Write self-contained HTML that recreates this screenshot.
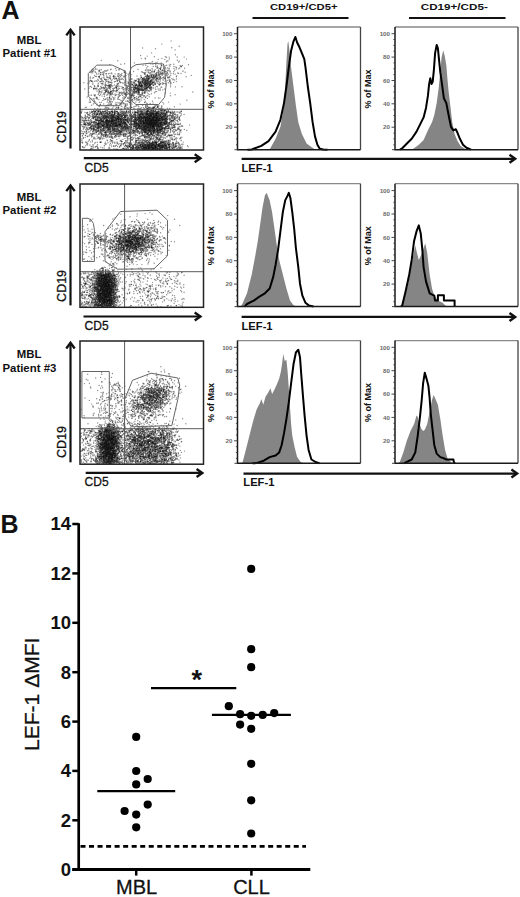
<!DOCTYPE html><html><head><meta charset="utf-8"><style>html,body{margin:0;padding:0;background:#fff;width:520px;height:897px;overflow:hidden}svg{display:block}text{font-family:"Liberation Sans",sans-serif;fill:#111}</style></head><body>
<svg width="520" height="897" viewBox="0 0 520 897">
<defs><filter id="bl" x="0" y="0" width="1" height="1"><feGaussianBlur stdDeviation="0.5"/></filter></defs>
<text x="1.6" y="18.5" font-size="25" font-weight="bold">A</text>
<text x="0.4" y="533.3" font-size="25" font-weight="bold">B</text>
<text x="29.2" y="43.8" font-size="11.4" font-weight="bold" text-anchor="middle">MBL</text>
<text x="29.4" y="57.1" font-size="11.4" font-weight="bold" text-anchor="middle">Patient #1</text>
<path d="M113.0 94.6h0M123.4 89.7h0M103.8 77.9h0M96.6 73.1h0M105.4 86.6h0M97.3 104.2h0M111.1 109.2h0M94.7 86.4h0M105.2 87.0h0M110.6 94.5h0M94.5 75.5h0M111.2 103.8h0M98.0 84.0h0M115.8 86.9h0M116.7 88.6h0M124.4 91.1h0M105.4 107.7h0M98.1 89.6h0M116.5 87.5h0M90.1 71.9h0M109.0 82.2h0M108.8 77.5h0M105.6 84.3h0M106.6 76.0h0M120.5 74.6h0M101.7 91.1h0M103.8 76.9h0M114.9 97.1h0M108.2 93.6h0M110.4 86.0h0M99.5 77.7h0M112.6 114.4h0M119.7 104.9h0M108.8 85.2h0M90.0 98.8h0M101.5 88.5h0M117.8 83.6h0M109.3 88.5h0M109.5 97.5h0M108.5 86.7h0M119.7 81.5h0M104.4 88.5h0M109.8 77.7h0M102.5 80.9h0M109.7 85.8h0M96.2 97.2h0M117.8 60.8h0M119.2 78.2h0M105.4 99.4h0M114.9 79.2h0M124.8 85.0h0M93.1 70.1h0M99.8 88.7h0M118.4 88.1h0M93.6 88.4h0M115.1 78.6h0M101.1 79.5h0M109.1 82.8h0M110.8 84.8h0M109.8 86.3h0M103.1 89.9h0M127.2 87.5h0M124.6 63.7h0M112.5 101.7h0M109.4 85.3h0M110.8 91.7h0M107.3 104.9h0M116.7 94.8h0M108.0 92.6h0M110.5 79.0h0M118.1 97.0h0M98.1 86.4h0M119.2 77.5h0M120.3 82.8h0M117.3 75.9h0M100.6 94.8h0M99.8 70.3h0M112.5 90.4h0M99.3 76.4h0M106.4 105.7h0M116.3 70.3h0M123.1 89.4h0M107.7 81.3h0M119.1 69.9h0M110.0 98.4h0M110.1 78.6h0M116.8 90.6h0M94.0 99.0h0M102.8 100.5h0M114.4 78.0h0M95.4 76.4h0M120.4 95.4h0M95.3 72.6h0M116.6 90.4h0M102.1 87.7h0M93.3 104.1h0M118.9 73.6h0M100.5 74.6h0M95.0 96.0h0M105.9 90.3h0M113.5 76.8h0M94.1 94.8h0M90.9 86.4h0M102.2 84.9h0M90.3 78.3h0M121.8 75.4h0M115.4 81.4h0M106.6 91.3h0M93.9 103.3h0M123.0 93.8h0M110.0 101.9h0M104.2 88.3h0M118.0 76.4h0M123.9 98.6h0M124.0 103.1h0M126.1 89.2h0M125.1 82.5h0M129.3 107.1h0M126.3 73.1h0M126.0 90.4h0M127.2 85.6h0M125.7 96.1h0M127.8 100.8h0M124.9 75.1h0M130.1 89.0h0M129.8 93.5h0M129.1 98.5h0M131.0 84.0h0M151.3 93.8h0M144.9 78.5h0M138.6 97.5h0M150.8 84.5h0M168.8 70.7h0M162.8 79.9h0M145.9 85.4h0M152.4 77.5h0M154.4 92.7h0M129.2 102.0h0M166.9 72.0h0M124.0 103.6h0M147.2 77.8h0M138.7 90.9h0M146.9 82.9h0M145.2 82.3h0M156.5 76.5h0M140.3 86.4h0M133.7 85.6h0M144.2 99.5h0M147.7 84.9h0M162.0 72.6h0M126.4 90.6h0M142.9 85.4h0M143.2 80.6h0M129.8 80.8h0M163.3 71.0h0M147.4 75.2h0M136.9 98.8h0M144.1 96.2h0M132.3 84.4h0M154.2 74.4h0M175.5 54.7h0M156.2 74.3h0M141.8 80.3h0M150.2 83.3h0M131.8 83.3h0M140.9 75.4h0M155.7 76.5h0M140.8 89.0h0M120.9 108.9h0M143.6 72.6h0M165.8 65.7h0M146.7 81.8h0M181.4 66.3h0M157.7 67.3h0M147.3 88.7h0M150.7 81.6h0M135.6 85.3h0M130.5 90.3h0M153.4 82.2h0M143.6 83.5h0M138.6 78.8h0M144.8 88.2h0M153.4 79.1h0M138.7 78.6h0M145.8 88.2h0M154.5 75.3h0M155.5 91.7h0M131.6 89.4h0M156.1 80.7h0M125.0 113.3h0M147.7 66.5h0M164.9 70.6h0M138.5 100.4h0M129.1 99.0h0M135.8 91.2h0M173.4 73.7h0M157.3 65.9h0M164.2 78.2h0M151.7 87.0h0M164.0 67.3h0M152.1 87.9h0M135.2 86.0h0M152.5 69.9h0M144.6 95.7h0M167.1 73.3h0M148.9 91.0h0M158.5 70.1h0M138.2 78.7h0M156.2 77.8h0M160.9 87.1h0M144.8 72.7h0M141.1 76.8h0M180.1 65.6h0M141.3 84.4h0M128.2 85.8h0M173.2 79.1h0M137.3 85.4h0M147.7 87.6h0M173.7 71.8h0M164.1 78.7h0M150.8 70.1h0M149.0 76.5h0M139.3 83.1h0M163.9 68.3h0M146.0 84.2h0M162.0 65.6h0M145.4 72.5h0M145.8 80.0h0M143.7 78.0h0M144.5 82.8h0M155.9 75.7h0M164.0 76.8h0M135.1 87.4h0M140.3 82.2h0M153.2 76.0h0M147.3 56.1h0M142.8 86.6h0M163.3 80.1h0M135.8 87.8h0M148.4 81.9h0M152.4 82.7h0M162.6 69.9h0M149.2 87.9h0M119.2 95.7h0M147.3 89.8h0M146.4 87.8h0M155.3 87.9h0M135.7 80.7h0M142.8 97.6h0M142.0 87.0h0M131.8 97.2h0M125.7 94.7h0M143.1 87.4h0M131.6 95.7h0M137.2 78.9h0M136.7 96.6h0M127.6 88.6h0M154.7 83.1h0M147.0 79.7h0M146.3 77.9h0M128.3 101.4h0M143.3 92.9h0M135.8 92.0h0M167.6 70.4h0M136.2 84.7h0M156.7 76.8h0M147.4 87.7h0M164.0 83.5h0M141.1 90.2h0M148.5 76.0h0M155.2 69.8h0M150.6 84.8h0M146.4 79.4h0M152.3 79.5h0M161.3 78.4h0M139.1 85.0h0M122.2 100.3h0M160.6 77.5h0M134.0 92.7h0M160.2 83.7h0M169.8 81.3h0M141.8 86.1h0M153.3 85.0h0M148.3 82.5h0M133.2 91.4h0M156.9 78.7h0M140.1 86.9h0M133.6 89.1h0M137.7 85.9h0M149.2 81.2h0M145.3 90.7h0M142.2 85.6h0M151.9 76.6h0M147.0 86.4h0M149.3 81.1h0M146.1 83.6h0M145.9 86.1h0M140.7 94.6h0M135.5 88.1h0M140.2 78.0h0M146.3 84.9h0M145.7 84.5h0M156.1 76.3h0M139.3 89.0h0M146.9 80.4h0M137.6 90.1h0M158.9 79.7h0M148.0 79.0h0M146.3 80.6h0M150.4 84.3h0M161.1 71.0h0M145.9 78.8h0M140.0 90.2h0M142.0 95.3h0M134.9 89.6h0M150.0 78.9h0M149.8 84.1h0M139.8 89.4h0M155.8 77.5h0M148.9 83.8h0M136.9 84.6h0M142.4 81.1h0M147.9 83.4h0M142.7 78.7h0M160.3 81.0h0M169.3 65.0h0M170.6 83.0h0M174.6 70.3h0M165.3 56.8h0M169.0 69.2h0M184.2 57.1h0M160.4 67.2h0M185.1 72.3h0M145.2 58.3h0M142.6 48.0h0M171.7 47.7h0M157.2 62.1h0M107.8 130.8h0M117.8 122.6h0M124.9 119.2h0M118.2 134.3h0M137.6 132.5h0M108.2 121.9h0M110.8 120.4h0M122.9 122.8h0M114.7 125.8h0M124.0 128.0h0M102.8 121.0h0M118.2 133.2h0M128.2 122.3h0M123.7 129.8h0M118.0 126.1h0M112.3 114.8h0M114.2 121.4h0M99.6 122.8h0M124.8 129.1h0M103.5 116.1h0M89.0 118.6h0M93.1 118.8h0M127.1 128.7h0M127.7 119.2h0M131.7 107.5h0M106.1 122.4h0M99.8 115.9h0M93.1 131.8h0M104.2 118.1h0M132.2 131.0h0M98.7 125.7h0M127.6 117.9h0M129.4 120.3h0M116.8 127.1h0M99.5 123.5h0M134.5 112.5h0M111.8 117.9h0M114.3 123.6h0M118.8 127.6h0M112.4 128.4h0M110.6 125.8h0M98.0 124.4h0M110.7 131.0h0M100.4 120.0h0M120.6 123.8h0M96.4 127.4h0M113.4 121.2h0M106.8 116.8h0M113.3 118.1h0M117.2 134.8h0M109.0 131.6h0M125.3 128.7h0M114.5 114.3h0M92.6 114.1h0M88.6 132.0h0M107.6 126.2h0M120.6 131.9h0M116.5 131.8h0M102.2 125.1h0M131.0 121.0h0M103.6 125.0h0M91.5 135.8h0M131.8 127.4h0M83.2 126.9h0M126.6 115.7h0M130.6 113.7h0M112.1 121.6h0M106.1 121.7h0M108.2 120.5h0M119.0 123.4h0M118.6 112.9h0M110.8 129.5h0M116.5 129.0h0M101.6 114.1h0M106.9 123.9h0M116.1 125.0h0M107.2 122.5h0M107.4 131.2h0M107.2 122.6h0M98.7 122.2h0M120.4 124.2h0M98.5 110.7h0M84.5 127.2h0M108.6 123.2h0M113.6 120.6h0M99.4 120.5h0M95.6 119.9h0M131.0 128.5h0M120.7 119.9h0M108.6 124.2h0M99.8 138.3h0M109.2 128.8h0M107.6 127.3h0M105.6 134.1h0M93.1 125.7h0M112.7 120.0h0M123.0 112.3h0M118.2 115.0h0M120.2 125.8h0M113.2 122.7h0M108.3 120.5h0M105.0 124.7h0M130.4 121.4h0M103.9 129.0h0M121.0 123.9h0M101.2 119.5h0M119.7 124.7h0M117.0 115.8h0M126.9 127.8h0M123.5 134.4h0M131.9 118.3h0M98.4 127.0h0M98.1 131.0h0M126.3 131.4h0M103.1 117.9h0M91.8 128.5h0M98.2 127.7h0M99.9 114.0h0M115.0 119.5h0M96.6 132.4h0M97.4 113.2h0M117.7 127.8h0M103.7 120.5h0M105.1 123.0h0M116.9 111.4h0M104.5 126.7h0M133.8 123.3h0M117.7 128.6h0M85.4 135.3h0M105.9 116.7h0M124.0 120.9h0M102.5 125.1h0M115.1 135.9h0M110.1 128.8h0M89.7 122.8h0M127.5 119.7h0M139.3 126.1h0M109.9 117.9h0M120.0 132.4h0M101.8 134.5h0M124.1 124.6h0M99.2 122.3h0M128.4 126.5h0M117.0 123.9h0M107.2 125.0h0M130.4 129.5h0M128.5 122.9h0M116.1 115.8h0M135.9 128.3h0M116.7 116.5h0M103.1 122.2h0M99.4 125.7h0M88.6 117.7h0M117.3 126.2h0M97.2 120.3h0M106.3 127.1h0M103.1 120.9h0M101.2 130.6h0M126.9 129.7h0M112.8 138.6h0M103.2 121.5h0M125.9 120.6h0M112.3 123.9h0M114.5 133.9h0M107.5 119.4h0M116.1 115.4h0M112.7 117.9h0M121.4 109.5h0M124.0 111.5h0M114.9 124.1h0M110.8 116.8h0M116.7 120.5h0M119.0 116.2h0M125.6 124.0h0M114.2 122.3h0M99.1 133.9h0M115.8 116.3h0M119.0 124.0h0M112.1 118.0h0M100.9 123.3h0M91.7 129.1h0M111.7 134.3h0M112.1 130.4h0M118.4 127.7h0M135.4 130.4h0M123.8 115.0h0M129.4 119.2h0M105.2 111.1h0M102.9 135.0h0M117.0 123.9h0M132.3 118.2h0M94.5 125.0h0M122.5 125.3h0M98.1 130.5h0M101.1 120.8h0M119.5 122.2h0M100.7 120.9h0M93.1 115.3h0M129.9 129.1h0M117.6 116.5h0M130.2 116.3h0M112.1 136.8h0M87.9 123.3h0M106.8 120.5h0M116.0 128.0h0M123.1 117.7h0M94.0 111.2h0M112.2 121.2h0M81.4 118.9h0M131.0 119.3h0M130.1 103.0h0M107.5 125.3h0M104.6 130.1h0M112.6 131.0h0M131.7 116.4h0M98.0 129.0h0M107.4 129.2h0M85.8 126.1h0M84.1 120.0h0M100.6 113.5h0M125.5 119.4h0M108.1 126.1h0M83.6 124.5h0M107.0 123.1h0M129.7 126.3h0M98.7 123.5h0M104.6 130.3h0M86.4 124.5h0M101.8 120.7h0M97.6 131.1h0M102.8 115.9h0M117.0 121.9h0M111.6 101.9h0M113.1 116.9h0M105.7 132.6h0M111.3 119.3h0M122.4 115.7h0M115.7 122.7h0M125.8 130.2h0M98.8 126.5h0M129.9 132.8h0M101.1 121.7h0M116.6 122.7h0M94.0 129.0h0M109.0 131.9h0M124.3 120.8h0M115.8 123.2h0M96.9 124.0h0M118.9 121.2h0M131.1 124.4h0M122.7 126.0h0M96.0 129.5h0M128.9 138.5h0M126.3 125.0h0M113.7 126.4h0M110.5 118.1h0M110.0 116.3h0M116.6 123.4h0M99.0 111.9h0M115.4 120.3h0M125.9 134.8h0M106.5 121.7h0M104.9 116.0h0M98.5 130.4h0M120.8 117.5h0M95.9 123.5h0M91.5 122.6h0M93.3 118.7h0M122.4 122.9h0M87.2 112.5h0M99.1 115.4h0M111.3 115.4h0M136.7 125.7h0M112.6 124.9h0M96.6 122.4h0M100.7 122.8h0M116.4 119.7h0M108.1 117.3h0M85.0 120.8h0M105.7 117.9h0M121.9 119.7h0M112.3 112.7h0M101.6 118.9h0M118.8 117.5h0M119.6 123.4h0M112.4 125.9h0M115.0 119.8h0M103.1 122.2h0M105.4 107.0h0M121.3 126.4h0M97.0 126.5h0M84.9 124.6h0M126.6 129.7h0M118.5 108.5h0M127.4 126.9h0M108.8 123.0h0M104.8 132.8h0M123.5 114.0h0M111.4 123.3h0M108.3 129.5h0M133.6 116.8h0M106.6 123.7h0M94.2 121.4h0M125.5 123.0h0M112.5 130.6h0M100.9 127.7h0M104.1 127.9h0M121.8 128.9h0M121.9 125.9h0M120.9 123.2h0M118.8 119.5h0M96.3 120.3h0M97.3 127.9h0M104.1 123.1h0M109.2 127.3h0M116.9 127.7h0M118.2 118.2h0M103.9 120.8h0M115.2 119.7h0M109.6 112.0h0M118.5 121.6h0M114.3 121.2h0M102.3 125.6h0M131.1 128.1h0M118.9 126.6h0M125.4 128.4h0M95.2 122.3h0M108.6 123.8h0M120.9 114.9h0M130.0 121.9h0M121.4 123.9h0M120.1 121.6h0M111.7 118.3h0M89.6 128.0h0M108.5 121.3h0M148.1 123.2h0M145.9 120.8h0M146.9 122.9h0M150.9 127.9h0M149.5 118.6h0M151.6 119.4h0M179.1 124.6h0M146.5 119.8h0M161.4 108.1h0M157.8 124.8h0M164.1 110.9h0M153.1 109.1h0M145.8 106.7h0M154.4 128.7h0M158.3 126.2h0M152.7 108.7h0M162.4 128.3h0M148.7 123.3h0M138.6 127.0h0M137.7 119.5h0M157.0 126.0h0M173.6 129.5h0M169.7 135.8h0M156.6 114.3h0M142.8 129.4h0M150.7 114.1h0M141.4 124.4h0M158.3 135.4h0M145.1 112.7h0M130.8 115.0h0M165.0 123.5h0M140.9 117.3h0M146.9 134.2h0M160.2 123.0h0M145.8 135.2h0M150.4 125.5h0M153.9 113.4h0M153.8 119.6h0M139.5 133.2h0M147.1 128.8h0M161.7 126.2h0M157.9 124.1h0M145.0 142.5h0M141.4 124.0h0M138.1 111.4h0M145.8 106.0h0M170.2 119.3h0M155.6 125.3h0M141.4 135.7h0M140.7 120.8h0M141.4 121.8h0M152.8 117.1h0M162.4 122.9h0M142.1 129.0h0M160.0 98.1h0M145.9 115.4h0M153.0 123.4h0M160.2 114.2h0M148.1 120.7h0M144.4 128.0h0M148.1 133.4h0M147.8 122.0h0M176.6 124.2h0M143.3 120.0h0M144.0 123.5h0M154.0 131.0h0M137.4 120.2h0M156.2 118.0h0M139.3 125.7h0M159.9 119.3h0M151.7 134.6h0M143.8 122.1h0M167.1 117.1h0M163.0 112.7h0M160.6 123.6h0M136.4 117.8h0M147.9 120.8h0M154.4 120.8h0M142.6 114.1h0M158.2 124.9h0M157.8 130.1h0M152.4 124.2h0M166.1 121.2h0M159.3 139.3h0M151.4 115.8h0M160.3 124.1h0M146.1 117.8h0M140.3 119.2h0M149.1 125.8h0M148.2 115.8h0M156.3 136.9h0M141.8 116.8h0M140.2 116.2h0M151.5 123.2h0M144.7 131.0h0M151.7 131.8h0M145.7 120.5h0M160.6 129.9h0M155.2 123.5h0M158.8 130.4h0M168.3 111.9h0M137.7 119.4h0M154.5 113.8h0M154.4 130.6h0M150.4 114.6h0M134.9 113.9h0M152.5 114.3h0M160.1 135.8h0M146.2 128.9h0M152.5 118.1h0M135.7 135.4h0M143.9 119.5h0M149.8 135.8h0M136.4 129.7h0M154.5 118.0h0M135.2 119.7h0M148.4 127.8h0M154.2 123.4h0M152.1 128.0h0M138.4 121.4h0M152.5 126.7h0M157.4 129.2h0M135.9 120.0h0M148.0 115.7h0M151.6 120.5h0M161.1 131.3h0M133.6 126.7h0M140.6 114.0h0M148.4 115.0h0M148.9 117.6h0M162.8 133.1h0M153.4 126.1h0M161.2 125.3h0M142.6 135.2h0M158.9 111.5h0M157.8 130.8h0M155.4 110.6h0M156.9 119.0h0M145.4 121.3h0M133.9 126.0h0M141.3 123.7h0M139.2 128.2h0M154.2 123.0h0M153.4 114.1h0M137.4 128.2h0M146.5 112.4h0M124.3 119.3h0M155.1 117.2h0M147.2 127.5h0M158.2 118.9h0M146.6 122.5h0M153.1 110.4h0M157.0 107.1h0M170.2 124.3h0M130.4 127.6h0M164.4 128.3h0M150.0 115.3h0M152.5 128.9h0M162.8 119.2h0M141.5 125.8h0M176.0 124.1h0M157.3 117.3h0M162.1 110.7h0M129.2 119.7h0M154.0 116.1h0M155.1 119.9h0M169.5 114.9h0M149.0 124.8h0M153.8 124.7h0M161.7 129.3h0M166.9 123.3h0M150.8 120.4h0M162.7 120.2h0M164.3 110.2h0M157.6 105.7h0M154.9 117.2h0M156.6 125.9h0M139.7 115.3h0M155.8 125.1h0M180.2 123.5h0M158.7 133.0h0M142.8 117.8h0M149.8 124.9h0M142.6 105.5h0M154.5 121.3h0M148.0 115.0h0M152.2 120.3h0M159.0 117.9h0M150.0 119.0h0M151.9 131.0h0M146.6 128.3h0M135.9 134.6h0M145.4 123.3h0M167.3 124.7h0M148.4 122.9h0M145.6 126.2h0M154.8 106.4h0M150.7 125.6h0M135.4 119.0h0M152.8 114.4h0M155.6 116.7h0M155.6 115.1h0M147.3 133.4h0M167.0 114.5h0M161.8 118.3h0M152.0 126.6h0M164.5 122.9h0M135.1 117.2h0M140.3 126.4h0M149.9 108.5h0M160.2 118.6h0M146.4 111.7h0M173.0 120.7h0M144.5 125.1h0M159.4 126.5h0M164.7 122.0h0M143.7 119.9h0M149.4 129.6h0M157.6 112.2h0M169.3 128.3h0M143.3 118.8h0M165.2 124.0h0M147.9 120.6h0M159.2 123.1h0M159.0 131.8h0M149.3 107.7h0M136.7 123.8h0M165.1 112.9h0M146.6 132.4h0M158.4 134.9h0M153.5 117.8h0M145.3 119.7h0M147.8 119.3h0M149.6 125.2h0M148.0 130.3h0M158.1 122.0h0M143.9 126.8h0M155.5 111.4h0M144.1 125.4h0M151.7 134.1h0M142.4 125.6h0M149.5 125.1h0M150.1 112.4h0M142.1 125.8h0M151.5 120.7h0M133.3 121.6h0M138.9 118.8h0M137.7 114.9h0M154.3 120.1h0M157.2 120.6h0M160.6 118.6h0M137.2 115.8h0M160.0 138.0h0M161.5 113.6h0M143.9 129.1h0M164.1 135.3h0M129.8 114.5h0M147.3 124.2h0M150.2 135.0h0M151.0 120.2h0M151.6 128.0h0M162.8 110.0h0M150.8 131.6h0M149.8 132.6h0M131.3 122.0h0M163.1 124.1h0M143.0 121.0h0M168.5 110.3h0M162.8 122.4h0M138.4 108.7h0M160.3 120.8h0M159.2 132.3h0M159.9 128.0h0M154.8 124.3h0M144.4 135.0h0M168.7 123.3h0M174.6 118.8h0M147.0 116.8h0M167.0 114.4h0M146.8 126.4h0M145.2 118.8h0M153.6 133.5h0M149.1 120.2h0M152.5 110.5h0M149.3 109.0h0M157.3 132.0h0M156.4 117.5h0M162.4 133.1h0M174.2 132.2h0M154.5 107.5h0M177.9 115.0h0M147.6 120.7h0M146.5 130.0h0M153.7 137.3h0M154.1 120.1h0M144.2 113.1h0M156.3 115.9h0M140.4 108.9h0M184.4 129.4h0M151.9 119.4h0M140.8 117.9h0M158.8 120.2h0M147.1 121.0h0M128.8 119.1h0M148.2 129.1h0M146.1 128.0h0M151.7 115.0h0M146.1 116.9h0M151.2 122.8h0M149.2 130.8h0M159.4 129.4h0M156.2 121.4h0M150.1 123.2h0M151.9 119.6h0M154.9 111.4h0M145.6 125.8h0M166.2 119.3h0M154.7 121.4h0M165.8 134.5h0M159.1 120.4h0M151.2 110.6h0M163.3 122.2h0M147.4 118.7h0M174.2 127.3h0M138.7 117.6h0M149.1 126.0h0M144.7 125.4h0M161.8 121.3h0M150.8 123.2h0M160.1 119.0h0M153.5 125.7h0M127.3 122.8h0M150.9 133.9h0M129.3 118.6h0M151.1 123.7h0M163.0 122.4h0M153.4 124.0h0M145.4 118.0h0M155.4 117.2h0M169.5 126.8h0M153.9 127.1h0M177.9 123.9h0M168.4 127.5h0M149.5 123.4h0M152.8 128.5h0M144.3 113.1h0M152.2 128.1h0M164.8 121.9h0M130.7 117.4h0M157.7 128.7h0M160.3 129.3h0M138.1 121.2h0M135.3 128.2h0M141.1 123.1h0M172.9 121.8h0M149.5 124.8h0M161.2 112.2h0M162.2 131.6h0M137.7 114.1h0M145.2 123.5h0M134.7 124.7h0M148.3 119.3h0M133.3 132.7h0M149.2 128.0h0M153.7 136.1h0M146.4 114.0h0M153.5 132.6h0M151.9 119.4h0M148.7 120.2h0M150.9 116.3h0M150.8 112.3h0M153.9 126.5h0M127.9 117.7h0M158.1 133.9h0M153.8 116.1h0M145.1 116.8h0M136.7 119.6h0M157.0 128.2h0M157.3 121.9h0M156.3 104.9h0M150.3 124.1h0M167.7 126.1h0M136.6 125.4h0M151.0 130.2h0M135.9 123.7h0M146.5 119.9h0M182.8 126.1h0M147.8 123.9h0M170.9 120.7h0M138.1 124.4h0M123.1 118.3h0M149.2 115.9h0M151.1 121.8h0M145.5 116.3h0M153.1 127.3h0M164.0 117.1h0M152.4 142.0h0M151.2 116.8h0M140.2 122.4h0M147.3 103.6h0M143.1 126.2h0M161.8 128.9h0M154.8 118.7h0M147.5 125.0h0M135.5 127.3h0M143.0 122.8h0M133.4 121.5h0M145.1 124.8h0M138.5 125.5h0M134.5 131.0h0M152.2 114.7h0M137.1 124.2h0M163.0 129.6h0M163.2 122.9h0M150.0 138.7h0M150.5 130.0h0M142.6 125.1h0M147.1 121.8h0M145.3 129.4h0M155.2 120.8h0M144.5 126.1h0M154.3 118.9h0M160.6 110.1h0M149.4 120.7h0M144.7 116.9h0M176.4 130.5h0M151.0 112.0h0M161.7 117.7h0M163.4 116.3h0M137.4 130.3h0M150.8 120.3h0M147.7 119.1h0M144.9 131.9h0M178.8 128.0h0M149.7 113.9h0M161.9 121.6h0M159.9 120.1h0M154.7 117.6h0M134.1 120.4h0M155.6 134.0h0M145.8 135.2h0M143.5 121.2h0M146.8 114.6h0M158.1 113.5h0M146.9 123.2h0M162.6 128.8h0M141.9 125.4h0M136.9 123.5h0M133.2 114.1h0M142.1 115.9h0M162.5 116.9h0M153.4 116.1h0M149.7 131.8h0M157.9 111.2h0M158.3 122.1h0M150.3 129.4h0M160.2 123.9h0M149.6 125.6h0M139.0 131.2h0M155.9 115.5h0M153.7 119.0h0M144.9 127.6h0M154.9 123.6h0M149.5 123.0h0M169.6 120.2h0M152.0 122.2h0M165.7 134.6h0M157.2 123.8h0M125.3 123.7h0M165.4 125.0h0M152.3 124.7h0M147.1 119.0h0M152.6 126.4h0M149.5 128.9h0M145.8 119.0h0M149.8 124.6h0M153.4 126.3h0M150.6 129.0h0M145.8 126.0h0M160.9 126.2h0M168.3 122.8h0M154.5 113.8h0M160.6 124.7h0M148.4 141.3h0M173.1 143.5h0M144.6 147.6h0M175.8 146.3h0M126.7 146.6h0M156.4 144.4h0M142.3 149.2h0M153.6 148.1h0M153.1 145.3h0M135.8 146.8h0M131.5 142.9h0M151.3 146.9h0M154.6 141.1h0M142.8 149.1h0M142.4 148.4h0M152.5 147.1h0M173.1 144.1h0M160.3 148.3h0M132.6 148.6h0M144.7 146.8h0M151.3 145.8h0M149.2 144.9h0M133.3 147.4h0M162.0 148.2h0M132.2 149.2h0M153.7 148.8h0M146.4 147.4h0M164.0 142.5h0M154.7 147.8h0M166.9 143.9h0M147.6 147.7h0M148.5 145.9h0M157.7 145.2h0M162.7 146.2h0M152.5 144.6h0M166.8 147.1h0M164.9 146.9h0M146.5 147.7h0M153.3 149.1h0M165.4 143.5h0M157.6 139.4h0M155.7 147.6h0M164.3 144.5h0M149.0 147.6h0M144.0 144.9h0M146.2 141.5h0M137.9 149.4h0M149.7 146.7h0M142.5 145.9h0M168.9 140.3h0M161.9 142.3h0M152.5 144.1h0M161.0 149.0h0M154.2 149.4h0M142.4 142.7h0M173.1 145.3h0M156.0 143.3h0M156.7 142.2h0M161.4 147.4h0M152.1 148.2h0M132.0 147.7h0M162.6 147.4h0M148.4 146.1h0M164.4 148.5h0M148.2 149.2h0M151.7 146.8h0M155.9 146.6h0M171.0 145.7h0M170.3 144.0h0M176.0 146.6h0M143.8 146.5h0M127.8 146.9h0M169.1 148.7h0M165.9 144.7h0M159.1 144.4h0M157.5 147.1h0M160.5 143.4h0M154.5 144.5h0M145.7 147.2h0M137.8 142.9h0M164.1 146.8h0M135.7 147.1h0M161.5 143.1h0M154.7 148.9h0M146.4 146.9h0M140.5 144.8h0M135.0 137.6h0M158.5 144.2h0M153.4 145.1h0M176.4 141.7h0M158.9 146.9h0M159.5 146.2h0M157.5 144.8h0M168.8 144.4h0M143.0 148.6h0M165.8 145.0h0M150.7 145.9h0M150.9 142.8h0M174.0 145.9h0M168.9 147.4h0M157.1 146.1h0M131.3 147.4h0M149.6 148.2h0M176.2 143.6h0M158.8 144.2h0M147.0 146.6h0M135.0 147.6h0M145.6 139.4h0M155.9 145.6h0M155.5 147.3h0M151.6 143.6h0M169.4 147.4h0M165.0 142.0h0M145.3 145.1h0M147.1 147.6h0M164.5 143.4h0M149.2 145.9h0M159.9 144.1h0M157.4 148.0h0M138.5 138.0h0M137.8 145.5h0M163.9 135.6h0M129.1 143.7h0M143.6 149.3h0M157.7 148.6h0M152.1 142.3h0M155.5 142.4h0M170.3 146.8h0M131.6 149.3h0M151.0 144.6h0M152.5 147.1h0M160.4 141.2h0M151.2 148.3h0M136.6 141.1h0M153.0 146.4h0M153.1 148.3h0M148.1 144.0h0M168.3 147.3h0M152.2 142.7h0M165.6 148.3h0M147.5 146.3h0M168.2 143.3h0M143.8 147.8h0M144.6 145.7h0M166.7 141.9h0M145.4 147.0h0M148.6 145.3h0M166.0 145.5h0M151.4 145.8h0M152.3 145.3h0M141.7 139.9h0M162.9 139.6h0M161.8 148.6h0M149.2 146.6h0M167.9 143.9h0M169.7 146.9h0M136.7 148.6h0M144.8 148.7h0M152.3 149.3h0M157.4 146.7h0M150.5 147.4h0M131.5 145.0h0M146.5 147.3h0M143.2 145.5h0M150.0 147.1h0M162.9 140.8h0M145.5 146.2h0M156.4 143.6h0M162.1 145.3h0M157.4 149.4h0M144.6 144.7h0M151.1 146.9h0M142.1 146.2h0M158.0 146.2h0M142.4 146.2h0M159.3 145.6h0M166.3 148.5h0M162.8 145.5h0M151.6 147.8h0M175.7 146.7h0M155.9 146.4h0M162.6 149.3h0M161.5 148.6h0M153.3 145.5h0M177.5 148.0h0M155.5 146.3h0M160.4 139.4h0M165.2 119.2h0M120.5 140.8h0M114.7 112.3h0M155.3 116.9h0M92.2 136.2h0M135.1 125.2h0M175.3 144.5h0M143.9 115.9h0M158.7 117.6h0M100.1 142.2h0M83.5 147.5h0M135.1 126.0h0M158.2 145.6h0M142.8 139.2h0M100.8 133.1h0M172.5 131.0h0M97.1 120.5h0M167.1 140.1h0M98.8 122.3h0M177.6 148.1h0M173.4 142.5h0M175.9 146.7h0M146.8 128.5h0M163.8 114.6h0M137.8 137.6h0M118.2 114.8h0M178.8 134.5h0M121.7 131.1h0M107.1 117.8h0M143.8 143.0h0M138.2 138.3h0M129.7 112.3h0M124.7 142.7h0M162.0 139.6h0M141.5 131.1h0M97.3 124.5h0M180.1 112.9h0M127.4 136.9h0M126.6 148.8h0M143.8 113.0h0M153.5 132.7h0M180.1 120.3h0M160.5 136.9h0M150.7 138.5h0M117.4 119.7h0M129.0 136.4h0M94.8 137.9h0M150.1 111.9h0M153.7 131.8h0M175.1 127.7h0M100.6 113.9h0M81.2 142.3h0M86.5 142.5h0M101.1 132.9h0M114.9 122.3h0M120.1 136.3h0M145.1 139.2h0M175.3 119.6h0M142.8 121.2h0M157.4 148.9h0M100.1 111.2h0M113.7 145.8h0M92.6 134.1h0M180.7 148.7h0M155.0 115.8h0M96.9 114.4h0M164.9 140.7h0M163.7 113.6h0M170.7 129.5h0M82.6 135.7h0M83.5 124.8h0M162.4 139.8h0M171.7 147.3h0M112.2 142.6h0M147.0 136.7h0M102.0 137.8h0M177.3 120.5h0M154.2 128.8h0M154.4 118.0h0M155.3 141.5h0M139.3 115.4h0M172.0 138.4h0M157.0 134.5h0M147.5 111.3h0M156.8 118.7h0M162.9 116.6h0M96.1 114.8h0M107.3 127.9h0M165.4 133.2h0M142.8 130.0h0M102.6 128.7h0M176.3 117.3h0M163.1 142.0h0M93.1 124.1h0M150.7 114.0h0M179.6 119.2h0M135.4 138.4h0M126.6 149.5h0M127.3 128.6h0M158.1 128.9h0M145.7 136.4h0M129.5 146.4h0M82.1 124.9h0M95.5 113.9h0M117.5 134.2h0M128.8 126.9h0M137.8 131.3h0M131.7 144.0h0M121.4 144.4h0M101.1 132.7h0M156.6 123.7h0M170.3 135.6h0M130.3 138.8h0M173.8 117.1h0M107.1 120.1h0M144.3 137.1h0M175.3 114.2h0M85.5 142.0h0M125.0 126.4h0M141.1 142.5h0M180.5 137.5h0M156.6 117.6h0M135.3 135.9h0M170.2 137.6h0M164.4 143.6h0M86.5 113.3h0M169.7 127.2h0M153.2 123.4h0M156.2 139.6h0M150.1 145.6h0M126.4 120.3h0M92.9 122.3h0M140.7 128.8h0M105.4 142.1h0M123.6 136.2h0M144.1 120.9h0M151.3 113.9h0M146.5 120.9h0M112.8 124.4h0M117.0 114.1h0M142.1 111.7h0M175.9 130.5h0M101.0 136.3h0M166.7 144.9h0M111.0 133.5h0M111.6 111.5h0M155.4 113.6h0M102.8 123.3h0M93.5 111.4h0M153.4 119.4h0M134.9 130.7h0M88.0 117.5h0M156.6 117.9h0M84.5 117.4h0M121.2 140.2h0M98.3 111.6h0M119.0 132.0h0M134.6 126.4h0M167.9 127.0h0M179.8 120.5h0M146.6 122.3h0M91.8 146.7h0M127.8 113.1h0M161.5 129.6h0M158.5 145.1h0M86.3 133.2h0M162.5 114.1h0M140.7 112.2h0M84.3 121.8h0M148.0 113.8h0M118.5 144.3h0M163.9 131.8h0M116.9 139.5h0M84.6 147.5h0M109.6 121.4h0M124.6 116.6h0M104.1 132.9h0M110.5 117.6h0M86.9 144.4h0M86.8 116.6h0M153.9 119.9h0M102.8 131.5h0M116.1 129.0h0M116.6 127.0h0M140.4 146.3h0M125.4 126.7h0M101.5 113.6h0M111.1 131.7h0M110.9 121.5h0M121.8 116.0h0M168.6 128.0h0M125.9 136.1h0M129.4 135.4h0M147.1 145.1h0M176.9 118.5h0M109.2 129.0h0M90.4 133.4h0M82.9 131.7h0M95.7 146.7h0M158.1 129.0h0M156.9 139.1h0M89.7 117.5h0M163.6 114.8h0M88.2 120.8h0M161.9 111.0h0M173.1 143.1h0M116.3 126.2h0M94.2 138.9h0M93.4 147.7h0M166.0 122.3h0M146.2 123.2h0M121.5 117.8h0M170.9 115.4h0M142.3 118.0h0M95.3 111.4h0M109.8 113.5h0M121.9 111.5h0M169.3 115.3h0M138.9 112.4h0M160.4 111.9h0M137.4 112.7h0M110.0 115.4h0M159.2 118.0h0M134.8 116.9h0M119.6 113.8h0M166.9 114.6h0M108.0 116.9h0M149.5 116.6h0M172.4 117.7h0M101.8 113.0h0M157.4 114.5h0M107.0 112.8h0M134.0 117.3h0M111.1 118.6h0M112.6 117.7h0M127.2 115.5h0M158.1 118.2h0M166.4 111.9h0M173.1 112.4h0M174.7 111.4h0M157.6 112.2h0M95.8 117.2h0M126.8 111.2h0M124.9 116.0h0M170.4 112.3h0M122.0 116.9h0M147.0 114.3h0M94.2 118.0h0M115.2 118.5h0M165.1 115.2h0M135.2 115.1h0M102.7 111.2h0M141.8 112.7h0M174.8 118.8h0M119.8 114.1h0M94.8 113.5h0M172.1 118.3h0M135.9 112.2h0M107.9 118.0h0M106.4 118.9h0M152.9 111.8h0M171.1 117.9h0M100.6 74.3h0M138.0 69.5h0M85.3 107.6h0M160.1 88.8h0M120.8 64.3h0M182.0 86.8h0M160.4 72.5h0M192.8 92.0h0M108.8 108.2h0M129.4 84.4h0M95.9 102.9h0M133.6 71.5h0M162.0 106.1h0" stroke="#000" stroke-opacity="0.45" stroke-width="1.4" stroke-linecap="round" fill="none"/>
<path d="M111.1 85.1h0M100.7 86.7h0M117.0 90.1h0M108.1 90.9h0M84.8 89.0h0M109.5 93.6h0M100.2 78.6h0M101.9 92.2h0M104.2 99.8h0M117.6 80.4h0M109.3 86.0h0M108.0 92.9h0M96.8 97.5h0M106.7 91.2h0M98.9 99.6h0M115.8 87.1h0M113.5 99.0h0M109.2 85.2h0M110.9 90.6h0M113.6 99.7h0M118.5 78.6h0M111.3 80.7h0M110.1 94.9h0M106.2 88.0h0M96.2 98.6h0M126.5 88.6h0M95.5 88.4h0M107.9 100.1h0M108.6 81.4h0M123.4 76.9h0M113.8 75.7h0M115.4 102.9h0M98.5 80.3h0M118.2 85.1h0M109.9 88.2h0M100.3 81.6h0M114.1 88.0h0M102.2 83.5h0M113.4 89.0h0M118.9 75.6h0M110.5 84.6h0M98.3 94.5h0M100.6 72.4h0M96.8 98.4h0M109.9 82.1h0M103.9 84.0h0M89.1 82.9h0M118.6 83.3h0M114.4 85.0h0M123.8 96.9h0M98.9 89.9h0M108.1 79.3h0M109.4 97.1h0M99.1 92.5h0M111.5 72.9h0M117.0 84.0h0M103.0 81.9h0M103.3 74.7h0M105.6 91.4h0M100.3 104.2h0M110.2 76.5h0M124.8 72.7h0M103.5 81.4h0M92.0 72.2h0M110.8 104.2h0M116.1 85.7h0M98.2 85.4h0M122.7 87.6h0M123.1 103.7h0M91.6 87.6h0M125.3 85.1h0M93.8 88.9h0M110.7 93.4h0M99.4 71.1h0M104.0 87.6h0M123.0 102.5h0M100.5 104.5h0M94.2 100.8h0M105.2 79.7h0M92.4 71.6h0M111.6 104.6h0M116.3 104.9h0M114.1 76.5h0M124.1 89.3h0M131.2 78.9h0M129.4 102.4h0M124.7 82.9h0M128.7 82.7h0M126.5 105.1h0M130.9 99.5h0M128.1 74.2h0M129.9 100.5h0M125.4 74.1h0M129.8 79.3h0M152.3 82.0h0M160.6 69.6h0M135.9 83.5h0M131.8 78.6h0M136.6 87.2h0M148.5 86.2h0M147.4 75.7h0M147.3 83.3h0M147.6 80.4h0M157.6 83.2h0M149.2 87.7h0M138.5 91.7h0M146.4 85.1h0M155.4 84.4h0M147.2 95.5h0M134.2 89.5h0M138.4 79.6h0M147.4 98.4h0M149.2 94.6h0M142.8 78.4h0M138.9 92.4h0M162.5 82.7h0M162.2 70.8h0M149.8 82.0h0M141.8 84.5h0M174.7 80.0h0M129.4 94.4h0M149.0 94.8h0M159.8 71.7h0M163.2 72.9h0M128.1 93.4h0M158.8 73.9h0M155.5 65.9h0M149.3 75.8h0M148.0 76.3h0M143.0 90.5h0M149.2 73.5h0M165.6 75.5h0M169.2 77.8h0M147.1 79.0h0M129.5 94.3h0M146.4 103.1h0M164.5 66.1h0M159.0 75.6h0M143.6 78.9h0M146.5 77.6h0M158.9 79.6h0M153.5 88.0h0M144.5 84.7h0M124.7 81.0h0M155.6 73.7h0M151.9 80.6h0M139.8 84.6h0M145.4 97.6h0M165.6 67.8h0M154.3 78.2h0M151.4 75.2h0M125.2 105.5h0M130.8 87.3h0M125.1 105.6h0M147.1 80.8h0M137.7 88.7h0M134.3 95.2h0M134.2 92.8h0M167.7 77.3h0M146.8 90.9h0M164.7 89.0h0M131.5 103.0h0M138.5 81.6h0M165.9 73.5h0M180.5 66.3h0M135.8 83.6h0M146.1 70.0h0M149.6 84.8h0M124.0 96.9h0M146.3 83.5h0M146.8 83.6h0M142.9 81.3h0M139.3 82.4h0M161.2 63.0h0M152.8 71.8h0M158.3 70.3h0M157.1 78.8h0M162.9 74.5h0M152.3 80.4h0M139.7 94.4h0M157.4 86.7h0M142.4 85.3h0M155.1 84.5h0M155.3 76.4h0M124.6 97.2h0M169.6 81.2h0M161.6 67.1h0M139.8 95.6h0M154.3 71.4h0M139.6 99.4h0M138.2 81.4h0M169.3 76.3h0M131.8 87.8h0M147.7 81.0h0M160.4 78.6h0M151.0 88.9h0M145.4 83.5h0M152.0 71.8h0M142.5 93.5h0M132.0 94.2h0M139.0 83.6h0M141.4 83.8h0M156.3 77.9h0M119.7 93.2h0M130.0 89.1h0M137.0 76.0h0M148.8 82.3h0M165.8 68.9h0M136.4 88.2h0M144.8 92.4h0M151.0 84.1h0M145.3 101.3h0M141.7 85.4h0M136.1 80.2h0M155.9 79.8h0M144.6 74.2h0M157.0 82.7h0M134.2 100.1h0M140.5 83.1h0M133.0 94.1h0M150.7 89.9h0M163.2 77.4h0M156.0 75.2h0M155.4 75.9h0M135.0 97.4h0M151.8 77.7h0M138.0 86.3h0M148.3 85.2h0M148.2 70.1h0M122.6 97.9h0M162.6 75.1h0M147.0 85.5h0M162.8 70.3h0M151.4 80.9h0M137.4 87.9h0M148.6 83.1h0M154.6 77.4h0M156.3 75.0h0M157.3 78.0h0M158.3 70.4h0M133.9 98.2h0M171.0 73.4h0M160.3 68.4h0M134.0 91.4h0M139.8 96.1h0M132.1 95.9h0M136.4 105.5h0M148.0 79.4h0M138.7 89.2h0M147.5 84.8h0M153.2 77.8h0M148.8 86.6h0M144.6 93.2h0M142.1 86.5h0M148.5 87.4h0M142.4 89.1h0M135.3 85.7h0M145.8 84.7h0M145.2 81.1h0M142.4 81.2h0M152.6 78.6h0M151.1 74.4h0M144.2 89.7h0M148.9 79.0h0M148.0 85.4h0M139.1 91.6h0M134.5 89.9h0M141.5 85.3h0M150.3 81.8h0M149.1 87.8h0M146.2 83.1h0M146.7 78.6h0M145.5 89.2h0M133.8 83.9h0M139.7 83.8h0M150.0 88.4h0M152.0 83.3h0M149.4 83.0h0M134.8 84.3h0M147.1 71.9h0M150.0 87.5h0M145.6 82.7h0M152.0 83.7h0M144.3 79.1h0M149.1 81.3h0M134.8 91.6h0M149.1 85.7h0M142.2 86.0h0M147.5 80.5h0M139.8 87.0h0M139.2 92.9h0M137.9 81.4h0M133.6 82.4h0M136.7 91.2h0M142.1 88.8h0M148.9 72.7h0M141.5 85.4h0M149.4 76.1h0M136.2 85.5h0M138.8 91.2h0M169.8 77.2h0M176.5 79.0h0M170.6 85.0h0M167.9 61.0h0M152.3 61.5h0M186.1 76.7h0M169.0 80.0h0M161.8 44.1h0M173.6 82.4h0M171.2 83.1h0M154.3 56.8h0M162.6 73.1h0M186.5 59.1h0M155.5 48.7h0M155.8 62.6h0M151.6 52.9h0M179.3 61.1h0M112.8 129.2h0M99.0 121.4h0M122.0 124.6h0M132.7 100.1h0M112.7 113.9h0M123.2 123.1h0M129.2 127.1h0M109.6 131.3h0M125.3 126.0h0M108.9 123.7h0M117.4 130.0h0M119.9 126.8h0M120.5 128.4h0M118.4 125.8h0M110.8 128.0h0M93.2 118.0h0M112.8 124.2h0M144.6 122.2h0M132.7 109.7h0M116.5 120.5h0M116.3 121.3h0M118.7 125.8h0M100.9 125.0h0M107.6 124.6h0M111.8 117.8h0M96.5 110.5h0M109.7 122.0h0M103.7 126.5h0M106.1 133.5h0M107.8 109.6h0M101.9 118.1h0M102.6 121.5h0M116.4 130.6h0M120.8 123.4h0M103.8 127.0h0M129.2 126.7h0M103.6 121.5h0M130.9 132.9h0M106.8 123.9h0M113.3 125.8h0M106.4 123.5h0M125.1 127.5h0M106.0 124.9h0M112.0 123.2h0M114.5 128.5h0M123.0 130.5h0M98.1 126.9h0M111.4 117.0h0M114.9 126.8h0M106.9 124.0h0M113.7 117.5h0M126.2 116.8h0M119.9 121.8h0M112.9 132.8h0M86.4 131.3h0M90.2 124.5h0M133.3 115.9h0M107.0 113.7h0M114.5 117.3h0M110.7 132.0h0M97.4 117.2h0M133.2 137.5h0M130.9 127.5h0M107.1 113.3h0M107.2 119.5h0M94.3 123.1h0M105.8 128.6h0M117.3 118.5h0M126.1 121.6h0M111.5 137.9h0M92.8 131.3h0M95.3 119.6h0M105.1 115.6h0M117.4 129.9h0M116.6 115.8h0M119.9 130.5h0M112.0 126.2h0M134.3 121.5h0M82.8 133.6h0M83.9 118.3h0M115.8 121.8h0M99.4 118.0h0M92.3 124.9h0M137.4 123.7h0M96.7 131.1h0M128.2 121.3h0M99.3 123.1h0M91.0 126.7h0M125.9 128.4h0M100.6 111.3h0M113.3 123.7h0M100.9 131.9h0M113.8 111.9h0M114.5 120.5h0M109.3 124.2h0M113.5 124.1h0M84.7 124.4h0M97.2 124.1h0M128.8 131.3h0M120.0 124.3h0M113.3 122.6h0M113.8 132.9h0M118.9 122.7h0M108.3 116.0h0M92.7 128.5h0M106.4 121.6h0M126.0 125.5h0M108.6 121.4h0M103.3 129.6h0M124.4 126.2h0M130.9 128.7h0M108.3 115.6h0M108.4 111.6h0M111.6 121.3h0M121.9 123.2h0M104.2 118.9h0M87.7 113.0h0M96.7 128.7h0M118.4 121.5h0M113.2 119.1h0M101.2 126.6h0M97.4 110.8h0M121.0 134.9h0M122.1 115.5h0M142.1 135.0h0M125.1 124.4h0M123.0 126.6h0M127.3 126.6h0M112.9 130.0h0M112.1 120.0h0M121.6 118.9h0M117.0 119.2h0M105.4 117.1h0M128.8 120.1h0M124.5 123.1h0M104.2 116.9h0M102.4 129.9h0M95.2 111.5h0M130.1 114.5h0M113.2 126.5h0M126.1 143.0h0M107.6 121.0h0M119.0 124.5h0M111.0 115.2h0M95.7 120.0h0M105.4 122.6h0M139.6 118.6h0M114.7 113.6h0M123.5 126.6h0M112.5 126.3h0M127.6 128.4h0M88.9 114.8h0M127.1 115.7h0M117.7 131.7h0M101.8 118.8h0M124.6 108.2h0M108.1 116.7h0M118.3 118.1h0M103.0 120.5h0M97.0 127.5h0M133.3 119.6h0M98.9 109.6h0M109.0 136.9h0M90.6 119.6h0M109.2 118.9h0M97.1 121.0h0M119.3 121.7h0M123.4 122.4h0M129.2 120.1h0M123.9 128.0h0M100.8 125.6h0M88.8 123.4h0M139.4 123.9h0M120.7 112.6h0M116.8 125.4h0M130.9 123.3h0M108.8 123.5h0M121.8 120.8h0M106.0 133.1h0M104.9 118.0h0M133.2 128.2h0M93.8 129.7h0M115.8 126.0h0M100.9 118.7h0M94.8 108.6h0M125.3 119.7h0M98.6 123.5h0M125.9 117.4h0M98.7 130.8h0M93.0 127.2h0M112.1 124.5h0M107.9 116.4h0M110.8 123.8h0M98.6 134.3h0M99.7 128.1h0M115.5 128.5h0M110.0 125.1h0M104.9 118.5h0M106.6 120.5h0M109.2 129.6h0M113.5 125.1h0M120.8 122.9h0M101.0 112.5h0M93.7 129.1h0M109.2 127.0h0M111.8 119.5h0M145.4 120.4h0M107.1 129.9h0M134.6 114.5h0M127.8 131.0h0M101.3 136.0h0M113.6 118.3h0M124.6 125.5h0M92.7 111.7h0M125.2 122.4h0M112.6 121.3h0M104.8 121.7h0M111.0 123.2h0M139.5 119.2h0M109.7 122.1h0M101.2 133.9h0M123.7 119.2h0M113.2 127.9h0M117.5 126.1h0M120.1 111.0h0M124.8 133.5h0M106.9 112.1h0M110.1 131.4h0M105.7 128.7h0M118.0 113.2h0M121.5 124.0h0M97.0 124.4h0M115.6 126.1h0M135.5 113.0h0M104.4 108.9h0M112.5 120.5h0M109.9 120.4h0M93.5 127.9h0M121.1 121.3h0M105.9 126.7h0M117.3 116.4h0M112.8 116.3h0M89.6 134.8h0M113.8 131.1h0M109.2 122.2h0M106.0 120.9h0M116.5 121.4h0M116.1 121.7h0M127.5 120.9h0M111.5 120.4h0M115.6 120.6h0M110.5 117.2h0M116.6 129.8h0M115.5 125.8h0M126.7 111.1h0M121.5 118.3h0M112.9 117.4h0M102.6 125.5h0M100.7 131.5h0M114.7 129.8h0M115.2 124.3h0M102.8 118.4h0M116.5 121.3h0M120.2 118.3h0M92.9 124.9h0M90.2 128.6h0M100.2 117.9h0M121.6 122.9h0M104.1 128.5h0M106.7 125.3h0M136.5 126.3h0M107.7 132.4h0M125.0 116.3h0M101.0 123.9h0M120.9 129.6h0M121.3 124.2h0M110.1 119.6h0M102.1 124.5h0M111.5 104.5h0M95.2 127.3h0M118.8 120.0h0M125.5 115.2h0M81.0 113.0h0M122.5 128.2h0M92.6 125.0h0M101.7 117.3h0M107.7 136.1h0M106.7 126.0h0M139.6 116.8h0M135.0 120.1h0M104.4 116.1h0M123.3 117.4h0M103.4 118.6h0M105.2 112.9h0M100.6 138.0h0M120.4 133.2h0M123.2 114.4h0M120.9 132.0h0M85.8 118.1h0M119.3 124.4h0M113.9 129.3h0M103.7 125.1h0M113.7 115.5h0M141.5 119.2h0M118.0 125.2h0M87.2 112.4h0M103.8 136.1h0M114.4 118.1h0M107.5 111.5h0M136.2 118.5h0M98.8 119.8h0M128.8 128.4h0M123.0 120.5h0M106.0 125.8h0M114.2 117.0h0M135.8 124.8h0M105.9 125.8h0M118.5 116.6h0M121.5 127.5h0M111.1 123.4h0M105.5 132.0h0M108.2 129.3h0M131.4 129.4h0M124.6 122.5h0M121.4 121.8h0M119.5 118.7h0M164.8 113.0h0M125.2 125.1h0M117.2 118.8h0M116.0 118.9h0M129.4 129.6h0M134.7 120.1h0M100.5 142.4h0M107.5 115.9h0M117.0 125.7h0M120.3 120.7h0M93.9 121.6h0M94.1 129.8h0M102.4 125.8h0M118.3 124.9h0M108.6 116.0h0M104.8 119.0h0M102.3 114.7h0M121.8 123.2h0M108.5 126.9h0M111.6 122.1h0M124.9 116.8h0M128.6 122.6h0M100.7 130.2h0M127.0 134.0h0M135.7 121.9h0M131.1 116.2h0M96.0 132.1h0M107.0 112.2h0M108.8 125.1h0M103.1 130.5h0M101.3 121.3h0M121.4 119.7h0M128.5 111.8h0M150.3 129.7h0M155.7 111.3h0M162.6 142.5h0M149.2 107.1h0M143.8 123.6h0M156.8 113.3h0M143.6 114.9h0M167.2 121.3h0M161.3 122.4h0M149.8 123.0h0M161.1 123.7h0M151.9 111.9h0M153.0 121.1h0M165.2 116.9h0M122.3 120.9h0M155.7 115.5h0M140.8 111.2h0M153.6 121.6h0M149.6 121.3h0M158.2 124.8h0M164.2 129.2h0M154.5 131.0h0M142.1 111.8h0M146.6 118.2h0M152.9 115.9h0M163.3 131.5h0M151.0 123.5h0M161.2 127.9h0M169.7 122.3h0M140.3 121.6h0M153.6 117.5h0M152.7 116.2h0M151.6 120.6h0M148.8 110.8h0M189.6 125.1h0M147.5 128.5h0M155.2 117.5h0M157.3 126.4h0M154.5 120.1h0M145.3 114.4h0M145.2 128.2h0M179.1 119.5h0M148.1 122.9h0M138.2 130.2h0M156.8 105.1h0M157.9 115.7h0M152.6 117.7h0M143.8 127.9h0M147.2 108.5h0M156.7 126.3h0M139.5 124.6h0M149.9 128.0h0M145.0 118.1h0M143.7 116.7h0M158.1 126.3h0M158.1 126.0h0M154.4 131.5h0M146.9 127.8h0M138.5 117.4h0M151.3 124.5h0M136.8 122.8h0M152.4 118.4h0M170.9 119.0h0M164.8 128.0h0M146.7 124.6h0M157.9 121.6h0M155.0 129.2h0M166.8 112.5h0M139.7 124.8h0M164.9 114.9h0M155.6 114.0h0M148.9 113.6h0M146.0 121.9h0M137.3 128.7h0M162.5 134.1h0M143.9 127.7h0M151.5 116.3h0M146.2 129.2h0M149.4 122.8h0M160.8 110.2h0M144.7 116.2h0M147.0 122.9h0M148.5 125.5h0M156.7 122.5h0M164.2 123.4h0M168.0 110.2h0M136.1 120.0h0M155.2 129.4h0M162.3 117.6h0M137.0 129.5h0M143.6 115.6h0M161.0 133.4h0M147.2 113.1h0M150.9 126.1h0M154.8 122.4h0M146.9 123.3h0M166.6 113.6h0M138.7 128.2h0M155.8 116.8h0M149.0 127.0h0M163.5 131.0h0M147.2 113.7h0M155.7 126.9h0M147.0 120.5h0M157.1 124.4h0M142.0 112.7h0M159.6 124.2h0M160.7 115.2h0M153.8 125.5h0M159.7 129.2h0M141.4 128.3h0M164.8 120.6h0M153.7 132.4h0M151.6 117.1h0M149.5 116.1h0M155.2 125.1h0M158.8 139.4h0M159.4 115.9h0M160.7 130.3h0M132.8 111.9h0M151.0 109.8h0M159.8 129.8h0M163.4 127.4h0M160.9 124.9h0M150.0 121.4h0M166.4 130.1h0M149.2 116.4h0M165.5 121.6h0M156.1 124.1h0M170.3 124.1h0M140.1 121.3h0M144.7 116.0h0M138.9 127.1h0M161.3 127.6h0M143.5 120.9h0M146.1 122.3h0M140.0 125.4h0M144.6 126.4h0M145.8 107.1h0M152.9 113.6h0M148.3 127.0h0M152.3 117.7h0M137.9 127.5h0M150.3 107.5h0M151.6 115.1h0M142.6 127.3h0M151.0 127.9h0M152.3 113.4h0M157.6 129.8h0M143.6 130.2h0M152.4 113.0h0M156.4 128.8h0M142.0 127.0h0M150.1 124.2h0M137.2 123.3h0M154.0 119.2h0M157.4 116.4h0M150.5 120.9h0M155.1 131.4h0M156.8 112.9h0M150.8 124.9h0M154.2 121.9h0M136.6 124.8h0M146.9 113.6h0M152.1 123.1h0M148.0 107.0h0M153.4 124.1h0M144.9 130.9h0M158.0 121.0h0M155.1 105.2h0M169.1 116.1h0M151.0 119.5h0M150.7 126.7h0M150.6 121.2h0M135.6 131.7h0M142.1 121.7h0M140.5 125.5h0M150.7 116.2h0M150.4 120.1h0M164.5 119.6h0M154.8 140.3h0M154.2 141.0h0M128.9 113.6h0M144.6 114.2h0M140.2 125.1h0M151.2 117.8h0M157.7 118.9h0M130.2 115.1h0M151.1 113.1h0M144.7 116.3h0M166.8 132.4h0M166.8 133.0h0M153.7 123.3h0M146.3 122.4h0M143.9 136.1h0M151.2 113.8h0M145.2 122.4h0M165.2 135.5h0M154.9 124.1h0M149.1 118.4h0M144.1 109.1h0M165.0 123.7h0M154.3 131.5h0M145.9 127.7h0M158.0 121.9h0M164.8 123.9h0M169.7 108.4h0M132.2 131.1h0M155.9 112.4h0M143.2 123.5h0M147.2 117.0h0M158.0 121.7h0M143.2 128.2h0M152.0 117.9h0M161.5 113.2h0M154.0 129.2h0M149.4 116.1h0M160.2 120.4h0M157.5 130.5h0M143.5 122.9h0M146.4 127.5h0M160.8 129.5h0M149.9 128.0h0M141.4 119.2h0M139.9 118.1h0M145.0 131.2h0M158.9 120.3h0M168.5 128.1h0M146.6 117.6h0M154.6 117.9h0M145.1 118.5h0M134.7 123.4h0M153.8 119.7h0M159.5 124.6h0M141.0 119.1h0M158.2 131.2h0M152.6 119.2h0M149.5 131.2h0M153.4 133.3h0M141.8 113.0h0M155.7 113.1h0M144.5 110.4h0M152.5 121.9h0M140.6 118.2h0M158.4 114.0h0M164.7 110.7h0M168.3 125.3h0M152.9 117.8h0M151.0 121.9h0M151.9 130.6h0M164.5 111.4h0M156.8 113.5h0M169.3 122.5h0M138.4 126.2h0M145.1 109.6h0M157.4 120.3h0M166.2 118.9h0M140.0 126.1h0M150.8 112.9h0M162.0 124.8h0M146.1 117.2h0M145.0 118.8h0M157.3 134.0h0M158.3 122.5h0M162.6 118.5h0M141.1 110.6h0M148.9 123.3h0M147.7 113.1h0M141.7 118.8h0M152.9 121.0h0M161.4 127.4h0M152.3 117.3h0M162.0 121.0h0M164.8 121.9h0M157.1 120.4h0M131.0 121.4h0M144.8 117.0h0M149.3 130.1h0M163.8 119.1h0M153.7 125.9h0M175.6 122.9h0M152.4 125.6h0M154.0 128.0h0M170.4 128.1h0M156.9 131.7h0M139.6 122.3h0M162.0 131.0h0M134.9 106.5h0M149.6 118.2h0M148.9 122.1h0M170.3 112.3h0M156.5 125.9h0M164.8 135.0h0M162.0 127.2h0M151.0 120.0h0M165.4 123.6h0M142.1 121.7h0M161.1 115.9h0M136.3 125.8h0M148.6 131.2h0M156.6 124.4h0M156.2 120.9h0M171.3 124.2h0M142.8 118.0h0M161.6 147.4h0M149.6 124.1h0M143.7 130.1h0M157.0 124.8h0M163.8 127.9h0M163.9 122.4h0M164.9 129.4h0M160.9 118.9h0M162.3 130.3h0M161.1 125.2h0M169.0 111.7h0M147.2 105.9h0M156.7 120.2h0M159.0 126.3h0M157.4 117.4h0M160.1 129.0h0M155.8 115.5h0M165.3 127.2h0M154.3 126.0h0M146.0 110.9h0M171.0 135.8h0M151.9 113.8h0M146.1 118.3h0M143.5 139.9h0M165.3 127.7h0M140.9 127.1h0M138.8 126.5h0M153.2 126.5h0M131.5 124.6h0M138.9 121.1h0M165.2 114.7h0M148.6 107.5h0M153.7 127.1h0M171.8 121.3h0M155.3 132.7h0M148.4 123.0h0M150.7 130.5h0M136.4 123.4h0M156.6 118.1h0M149.8 112.4h0M171.1 134.4h0M151.7 118.1h0M150.8 123.2h0M146.9 123.7h0M158.0 130.8h0M145.2 124.5h0M153.4 131.0h0M143.9 111.9h0M155.5 119.8h0M153.1 121.0h0M162.7 132.9h0M158.5 134.3h0M165.8 126.5h0M144.7 132.5h0M157.5 115.4h0M151.1 114.8h0M147.3 128.9h0M140.8 113.5h0M172.1 127.9h0M149.5 126.7h0M161.8 136.2h0M152.5 121.2h0M159.8 126.2h0M136.2 131.1h0M156.2 126.2h0M161.8 128.0h0M162.3 128.2h0M153.4 120.7h0M155.8 116.6h0M147.0 123.9h0M143.2 124.4h0M153.0 117.8h0M162.7 125.1h0M173.3 132.1h0M159.2 118.9h0M154.7 116.1h0M156.5 128.3h0M160.5 110.4h0M145.4 132.0h0M164.4 116.2h0M166.5 122.8h0M166.6 118.0h0M138.8 132.6h0M153.4 122.6h0M158.3 109.7h0M161.2 108.3h0M148.1 120.1h0M162.1 116.7h0M139.6 125.6h0M145.8 136.7h0M168.9 124.3h0M143.2 118.2h0M153.5 129.2h0M148.7 130.7h0M155.7 123.7h0M156.6 119.5h0M161.9 110.5h0M151.3 132.4h0M158.2 110.0h0M153.0 131.1h0M159.4 118.7h0M152.0 120.7h0M150.8 124.8h0M171.2 116.3h0M147.7 133.7h0M152.9 120.1h0M162.1 133.4h0M148.8 116.9h0M160.8 122.7h0M143.5 135.5h0M159.0 112.0h0M138.0 131.1h0M150.7 115.0h0M150.4 115.3h0M145.7 122.4h0M127.9 120.2h0M154.2 124.3h0M166.5 136.8h0M144.4 127.3h0M142.9 126.7h0M154.2 116.3h0M169.6 123.1h0M143.6 121.4h0M153.9 107.3h0M142.0 121.5h0M158.8 139.7h0M153.8 124.5h0M152.9 119.8h0M150.4 130.1h0M154.3 111.8h0M144.3 118.6h0M148.3 130.3h0M138.8 125.8h0M128.1 119.9h0M156.7 124.8h0M144.1 122.9h0M151.5 115.6h0M173.2 113.3h0M142.1 109.9h0M148.4 118.7h0M157.6 122.0h0M151.2 121.7h0M140.8 127.8h0M161.1 117.8h0M142.0 114.3h0M137.8 116.0h0M155.8 115.6h0M158.5 123.1h0M173.9 117.2h0M150.9 132.1h0M173.0 118.8h0M134.8 122.1h0M150.8 117.4h0M139.0 120.4h0M158.5 115.7h0M147.6 113.6h0M133.0 116.5h0M170.9 119.2h0M145.7 125.2h0M143.6 131.5h0M139.7 115.0h0M142.2 117.9h0M148.8 107.8h0M165.2 127.7h0M154.9 131.2h0M154.6 120.1h0M148.2 111.3h0M148.1 121.4h0M157.6 107.0h0M165.1 119.8h0M158.5 125.9h0M143.2 124.7h0M140.7 120.8h0M145.7 113.1h0M150.1 127.7h0M162.8 113.7h0M148.6 132.3h0M144.9 127.9h0M135.3 122.8h0M157.9 116.2h0M138.8 118.2h0M139.1 120.7h0M184.1 114.5h0M126.5 124.8h0M154.0 125.9h0M133.1 130.5h0M186.8 130.5h0M157.3 112.9h0M151.2 134.1h0M153.6 120.3h0M146.1 119.1h0M147.6 127.2h0M155.0 121.1h0M137.5 119.6h0M134.5 121.1h0M158.1 125.3h0M158.7 119.9h0M141.8 117.3h0M162.4 124.8h0M151.0 117.9h0M130.8 127.5h0M166.1 123.7h0M152.0 125.5h0M148.3 122.7h0M137.1 120.5h0M158.4 123.8h0M134.1 130.7h0M149.2 134.7h0M159.8 123.9h0M143.7 129.6h0M140.9 116.6h0M166.5 120.6h0M164.3 128.8h0M135.1 126.7h0M137.8 117.9h0M160.1 125.8h0M136.2 106.0h0M153.8 118.0h0M160.4 126.0h0M160.4 115.6h0M153.7 132.1h0M138.1 114.1h0M160.8 116.6h0M147.2 123.7h0M154.1 112.0h0M154.1 119.5h0M149.1 129.8h0M156.2 112.5h0M141.1 114.2h0M162.8 113.7h0M143.9 119.0h0M147.1 114.8h0M152.4 129.4h0M159.4 120.5h0M140.7 148.4h0M158.8 144.3h0M136.3 147.4h0M142.2 141.6h0M156.6 149.4h0M151.8 146.3h0M146.0 147.8h0M140.8 149.5h0M160.7 147.9h0M159.7 148.3h0M141.9 147.8h0M169.5 144.5h0M144.4 149.1h0M137.6 149.2h0M133.7 148.1h0M175.7 146.9h0M161.1 148.1h0M154.7 146.2h0M148.7 144.9h0M143.9 147.7h0M149.1 142.7h0M146.6 144.0h0M154.7 146.6h0M154.6 142.6h0M163.6 141.5h0M148.4 146.0h0M147.3 145.6h0M132.7 149.0h0M175.2 138.7h0M148.5 139.8h0M146.7 149.1h0M168.4 144.4h0M171.8 147.1h0M132.9 145.4h0M139.4 145.6h0M158.8 144.6h0M136.6 140.8h0M142.0 148.7h0M139.5 142.6h0M175.6 145.5h0M166.1 146.4h0M145.6 147.1h0M153.8 149.3h0M152.7 141.1h0M161.6 147.5h0M141.9 146.4h0M135.4 140.1h0M143.7 147.6h0M158.8 141.1h0M162.9 146.4h0M150.4 144.2h0M130.2 149.4h0M145.0 144.8h0M144.4 147.2h0M178.4 143.2h0M148.1 149.3h0M149.7 147.9h0M161.2 143.6h0M151.6 146.5h0M150.0 145.4h0M172.4 147.9h0M144.7 146.9h0M158.4 149.0h0M154.5 145.7h0M150.0 139.6h0M158.6 146.3h0M150.9 146.6h0M153.3 138.4h0M179.8 147.4h0M140.3 147.7h0M158.4 149.0h0M152.6 147.7h0M172.7 148.6h0M146.5 148.4h0M148.7 147.7h0M143.0 142.0h0M152.6 146.7h0M150.8 146.9h0M144.7 144.4h0M164.0 145.7h0M144.3 140.6h0M160.8 146.0h0M140.5 148.3h0M142.4 145.4h0M152.1 143.1h0M165.5 145.8h0M162.6 147.7h0M148.9 145.3h0M139.5 148.0h0M153.7 147.8h0M155.6 145.8h0M169.9 149.0h0M155.8 142.5h0M143.7 147.1h0M149.5 145.0h0M142.4 148.9h0M145.2 144.9h0M141.0 148.8h0M175.5 146.9h0M168.2 140.9h0M154.3 143.6h0M147.3 146.2h0M163.9 143.0h0M151.5 147.3h0M138.4 147.5h0M149.7 146.6h0M160.3 146.6h0M168.6 141.0h0M147.5 144.7h0M163.3 146.9h0M147.4 140.5h0M156.5 143.0h0M162.0 145.5h0M138.7 144.2h0M135.6 147.5h0M155.8 146.4h0M152.0 145.7h0M156.0 147.6h0M151.1 147.5h0M151.1 149.4h0M149.7 146.9h0M139.4 144.2h0M169.2 142.3h0M138.8 147.9h0M160.0 145.5h0M162.1 146.9h0M169.5 147.1h0M145.9 144.5h0M144.3 149.2h0M149.9 148.2h0M149.4 142.6h0M142.1 146.7h0M133.6 148.5h0M148.0 147.1h0M157.6 146.3h0M155.6 147.2h0M125.4 145.1h0M153.6 144.9h0M130.4 146.6h0M148.1 146.2h0M152.1 147.0h0M176.1 146.9h0M170.0 144.2h0M151.4 143.6h0M166.9 147.3h0M154.2 142.3h0M155.7 143.7h0M139.4 140.8h0M152.1 143.8h0M130.3 140.5h0M149.8 147.6h0M142.7 148.8h0M124.0 112.4h0M153.1 135.4h0M139.5 133.0h0M154.7 132.9h0M109.5 127.0h0M177.4 121.0h0M86.8 142.9h0M168.0 126.2h0M104.5 145.7h0M147.1 116.4h0M109.6 145.0h0M128.2 145.3h0M91.4 111.2h0M105.8 127.6h0M82.7 119.9h0M170.7 113.4h0M170.1 141.4h0M161.1 139.1h0M153.2 124.5h0M88.2 141.2h0M181.1 113.3h0M108.7 114.9h0M112.6 118.1h0M152.7 118.3h0M179.0 144.4h0M171.7 122.9h0M164.0 144.0h0M81.2 133.5h0M107.5 120.9h0M81.8 122.3h0M175.9 142.9h0M179.1 126.8h0M161.3 140.9h0M167.2 117.5h0M129.1 112.1h0M92.4 141.8h0M151.2 136.8h0M115.3 145.7h0M130.1 131.3h0M168.0 118.3h0M158.8 149.3h0M98.8 130.3h0M99.8 137.5h0M132.0 140.3h0M118.9 130.5h0M177.9 129.2h0M132.2 133.3h0M112.6 117.1h0M140.6 123.7h0M129.5 132.5h0M167.1 143.0h0M83.8 123.2h0M153.5 113.2h0M139.9 141.1h0M122.2 123.5h0M140.9 138.9h0M110.6 140.0h0M93.1 115.3h0M90.1 121.3h0M180.1 111.7h0M135.1 117.1h0M97.6 118.7h0M98.5 128.0h0M97.6 147.5h0M155.8 123.5h0M123.7 135.5h0M112.2 112.0h0M94.7 143.6h0M127.1 141.5h0M159.8 135.5h0M82.4 146.9h0M132.7 149.2h0M134.6 113.4h0M126.8 142.7h0M173.6 120.5h0M156.5 115.2h0M98.6 129.0h0M117.2 143.5h0M81.9 122.3h0M180.8 138.6h0M106.4 137.1h0M106.3 134.8h0M96.0 132.6h0M138.1 133.3h0M124.0 136.2h0M115.1 137.6h0M145.3 140.5h0M94.4 114.7h0M171.5 120.6h0M144.5 128.2h0M148.0 145.3h0M179.6 148.5h0M166.6 128.3h0M131.1 118.9h0M111.6 111.8h0M134.9 118.6h0M94.9 122.4h0M153.4 143.9h0M98.4 111.7h0M133.1 130.0h0M97.1 127.3h0M180.5 130.8h0M106.2 112.6h0M131.0 115.8h0M92.6 131.6h0M97.3 142.2h0M96.8 131.4h0M159.2 143.7h0M158.2 140.3h0M103.4 125.0h0M97.9 138.4h0M141.0 126.7h0M83.9 128.3h0M163.9 128.5h0M156.7 113.4h0M142.8 122.0h0M131.6 120.0h0M172.5 120.7h0M122.0 126.4h0M125.9 134.1h0M90.7 148.8h0M146.6 111.2h0M160.8 143.9h0M87.3 128.0h0M92.1 112.4h0M109.5 133.1h0M87.6 144.9h0M137.2 146.2h0M104.2 145.7h0M129.1 131.1h0M112.2 115.0h0M174.8 124.4h0M148.3 122.6h0M139.8 129.1h0M120.7 134.3h0M121.0 145.4h0M118.9 128.1h0M148.0 142.3h0M90.0 145.0h0M162.5 134.6h0M151.6 121.9h0M100.9 117.0h0M144.0 120.6h0M130.1 117.2h0M125.3 116.1h0M164.1 125.1h0M93.6 128.3h0M141.6 147.8h0M155.8 142.3h0M84.4 131.7h0M141.2 111.6h0M96.1 130.8h0M124.1 133.9h0M130.6 148.8h0M155.2 130.8h0M107.0 135.0h0M175.1 126.2h0M134.5 122.6h0M159.6 149.2h0M112.5 116.3h0M161.1 142.5h0M103.1 111.5h0M97.0 114.7h0M105.2 135.2h0M132.8 112.6h0M171.8 144.6h0M153.0 126.5h0M159.8 117.2h0M158.6 114.2h0M108.8 132.0h0M135.0 111.2h0M148.0 138.1h0M88.1 123.6h0M145.4 148.6h0M136.4 132.0h0M152.2 118.4h0M137.4 135.4h0M159.1 134.4h0M155.2 133.7h0M129.9 117.1h0M165.5 118.5h0M153.6 126.9h0M131.6 121.6h0M87.4 116.9h0M157.8 137.7h0M160.1 136.2h0M175.4 116.5h0M170.4 140.7h0M163.3 141.6h0M152.4 128.8h0M148.5 147.4h0M141.8 119.8h0M91.9 134.8h0M97.1 146.4h0M165.2 130.0h0M90.8 149.0h0M177.2 141.9h0M147.0 146.1h0M89.6 115.1h0M179.4 148.3h0M150.1 116.6h0M156.5 120.9h0M135.5 129.8h0M112.4 122.5h0M101.0 127.6h0M169.9 118.1h0M121.5 117.9h0M96.2 129.8h0M85.8 125.2h0M122.1 141.6h0M123.8 145.1h0M123.0 126.8h0M155.2 137.6h0M149.5 149.1h0M162.0 126.9h0M174.2 139.7h0M114.3 142.2h0M89.2 140.1h0M178.0 111.9h0M133.8 142.1h0M85.3 115.8h0M107.5 114.3h0M92.2 116.9h0M102.3 111.4h0M170.4 113.8h0M117.9 112.4h0M167.4 117.0h0M167.6 115.1h0M153.0 116.4h0M114.3 114.5h0M91.7 111.7h0M106.3 113.3h0M122.8 113.3h0M103.3 116.8h0M144.2 117.6h0M92.5 111.7h0M136.0 116.3h0M107.2 114.2h0M119.5 118.6h0M135.6 112.5h0M95.1 111.9h0M174.3 116.8h0M150.4 116.7h0M105.2 111.3h0M148.7 113.7h0M165.5 115.6h0M145.2 118.6h0M153.2 115.9h0M110.8 113.0h0M147.5 116.4h0M94.4 116.9h0M98.2 115.9h0M157.8 111.7h0M172.9 116.0h0M153.6 115.1h0M123.5 114.9h0M147.0 115.2h0M131.3 118.9h0M131.0 115.5h0M161.8 112.3h0M153.5 114.9h0M167.8 112.6h0M172.6 115.2h0M163.4 118.0h0M137.6 112.9h0M180.2 104.1h0M191.3 75.4h0M155.8 64.3h0M141.3 58.6h0M158.5 98.0h0M181.3 66.7h0" stroke="#000" stroke-opacity="0.45" stroke-width="1.4" stroke-linecap="round" fill="none"/>
<path d="M110.0 104.1h0M101.1 83.2h0M105.5 82.7h0M105.1 85.5h0M113.6 97.7h0M109.7 86.8h0M97.1 97.8h0M111.6 83.0h0M120.6 76.5h0M97.7 108.5h0M118.6 89.4h0M130.0 79.6h0M116.9 111.6h0M106.3 81.2h0M109.9 99.8h0M121.7 94.1h0M109.8 85.1h0M99.7 102.4h0M101.4 87.2h0M98.7 76.5h0M92.5 84.0h0M124.4 76.1h0M107.3 97.8h0M122.6 92.9h0M110.1 78.1h0M101.9 79.9h0M113.4 78.2h0M117.3 81.6h0M98.9 93.3h0M97.8 79.3h0M107.0 89.5h0M121.8 73.4h0M108.6 85.5h0M97.5 86.1h0M118.7 102.9h0M88.9 88.3h0M107.5 107.7h0M109.4 95.1h0M100.1 91.5h0M113.6 91.3h0M130.3 75.4h0M109.9 86.1h0M95.5 68.2h0M105.4 89.9h0M117.4 90.5h0M123.3 87.6h0M110.5 91.8h0M118.1 86.4h0M115.5 95.4h0M115.1 73.9h0M97.3 99.1h0M109.9 73.4h0M113.8 76.0h0M83.9 82.7h0M99.2 106.5h0M121.9 86.6h0M106.1 90.1h0M91.8 98.9h0M125.7 81.3h0M111.1 99.7h0M107.5 85.9h0M120.6 103.8h0M98.9 71.3h0M90.3 80.2h0M92.1 81.0h0M105.8 80.0h0M120.9 92.5h0M115.8 91.6h0M124.6 72.0h0M116.0 78.4h0M99.7 105.7h0M99.0 91.2h0M99.1 71.8h0M106.5 85.1h0M121.0 78.1h0M89.2 102.2h0M106.4 73.7h0M100.8 74.8h0M112.9 91.9h0M118.7 99.2h0M109.4 92.7h0M111.9 73.8h0M119.2 94.6h0M109.0 105.2h0M93.0 83.9h0M107.0 70.7h0M105.2 71.0h0M89.5 99.9h0M101.3 69.7h0M98.5 83.1h0M104.0 93.3h0M116.2 87.2h0M98.4 86.2h0M114.7 98.9h0M93.8 89.0h0M101.3 78.6h0M109.9 75.6h0M125.9 101.2h0M94.8 101.5h0M125.7 79.8h0M125.5 106.0h0M128.7 83.7h0M125.6 106.6h0M127.7 94.4h0M131.2 74.7h0M129.7 73.8h0M125.1 84.2h0M131.7 107.5h0M125.3 104.2h0M130.5 76.4h0M128.5 88.6h0M128.3 91.0h0M129.0 83.0h0M127.4 92.3h0M127.4 104.9h0M127.3 101.1h0M130.2 104.2h0M136.9 98.1h0M143.8 79.6h0M160.1 76.3h0M151.6 80.7h0M159.6 82.6h0M138.9 89.8h0M119.6 92.8h0M158.6 73.7h0M178.8 68.7h0M147.4 74.8h0M138.6 96.9h0M147.6 82.6h0M175.8 67.0h0M131.4 100.8h0M136.0 89.9h0M144.9 79.2h0M147.3 87.1h0M145.1 74.6h0M145.1 83.8h0M135.0 99.3h0M128.0 98.5h0M157.1 75.7h0M156.5 72.4h0M142.7 81.5h0M158.2 68.1h0M138.1 86.7h0M153.3 75.7h0M154.5 71.0h0M139.5 88.8h0M148.5 80.2h0M145.1 91.4h0M160.9 83.8h0M134.3 80.2h0M150.9 80.5h0M160.7 68.7h0M146.2 83.1h0M161.8 73.2h0M129.0 86.0h0M125.5 93.8h0M158.5 72.4h0M129.7 97.9h0M148.7 72.0h0M131.2 105.9h0M150.9 84.2h0M149.3 78.8h0M131.6 84.9h0M139.9 88.6h0M158.1 89.0h0M127.6 107.6h0M157.0 74.0h0M177.2 57.0h0M136.0 89.5h0M164.2 68.8h0M146.3 88.9h0M131.3 90.7h0M176.6 67.7h0M138.9 88.9h0M150.2 70.2h0M148.6 78.1h0M153.2 77.0h0M141.5 89.3h0M154.7 82.9h0M155.5 76.8h0M131.4 97.7h0M141.2 100.0h0M130.1 89.4h0M151.3 76.1h0M134.3 90.4h0M140.2 85.7h0M142.4 90.7h0M138.9 81.1h0M154.5 81.3h0M176.4 81.6h0M167.4 75.9h0M132.1 91.5h0M139.5 89.2h0M159.1 75.4h0M143.2 80.3h0M149.2 96.8h0M149.5 83.7h0M137.1 100.4h0M159.7 84.6h0M132.5 90.2h0M166.3 61.9h0M133.9 92.7h0M126.1 95.1h0M150.1 78.0h0M166.5 57.3h0M145.6 85.2h0M139.8 83.7h0M130.3 100.5h0M133.7 91.2h0M135.0 87.2h0M140.5 96.1h0M155.0 84.5h0M142.3 92.3h0M147.0 84.7h0M143.5 83.2h0M133.6 89.3h0M136.0 80.8h0M148.4 80.3h0M145.3 73.6h0M155.1 98.0h0M141.1 83.7h0M130.7 85.4h0M142.2 84.1h0M150.3 73.9h0M133.8 88.3h0M132.4 84.4h0M148.4 76.6h0M152.9 83.2h0M159.3 74.9h0M157.5 67.9h0M162.0 74.0h0M144.8 102.6h0M142.6 83.8h0M126.2 107.3h0M144.9 82.6h0M117.6 99.0h0M134.8 81.5h0M140.3 96.2h0M178.5 73.5h0M138.4 88.0h0M152.9 64.2h0M130.9 94.7h0M157.6 78.8h0M150.2 75.6h0M141.0 86.4h0M160.4 74.1h0M132.1 100.0h0M157.4 76.0h0M159.3 77.9h0M146.7 90.1h0M134.7 97.8h0M147.1 92.1h0M113.4 90.9h0M133.7 92.9h0M130.7 85.6h0M143.1 79.2h0M170.0 70.9h0M138.2 81.4h0M145.6 89.7h0M146.6 87.9h0M143.4 90.0h0M147.8 84.4h0M150.0 85.1h0M150.2 85.1h0M149.2 78.2h0M134.5 80.5h0M138.6 82.6h0M144.1 85.6h0M144.3 80.7h0M149.0 81.4h0M144.4 82.0h0M141.4 81.8h0M139.3 87.3h0M148.4 86.5h0M139.0 79.9h0M148.4 83.5h0M136.5 89.2h0M145.7 86.1h0M144.9 87.0h0M142.5 78.8h0M149.1 70.0h0M147.6 81.0h0M141.7 88.0h0M139.1 92.5h0M137.8 86.2h0M138.0 93.1h0M145.0 80.8h0M143.0 82.8h0M141.6 85.7h0M132.1 90.7h0M146.2 76.4h0M137.8 88.9h0M141.7 87.9h0M142.3 94.8h0M156.0 79.0h0M137.3 88.8h0M149.4 85.4h0M146.5 81.7h0M131.0 87.1h0M138.0 90.3h0M145.6 81.6h0M144.0 84.5h0M132.2 86.9h0M140.6 82.8h0M147.7 83.6h0M136.0 85.7h0M139.4 84.8h0M139.0 85.8h0M142.2 85.8h0M176.3 76.8h0M160.2 73.6h0M159.0 73.9h0M166.6 75.6h0M166.8 65.1h0M176.2 69.1h0M170.2 82.9h0M169.9 72.1h0M175.1 94.8h0M168.7 77.5h0M181.0 73.5h0M166.0 84.1h0M170.3 71.8h0M170.5 95.8h0M178.7 62.0h0M161.9 58.4h0M113.7 120.3h0M109.4 120.5h0M112.3 128.0h0M133.7 130.5h0M103.0 117.2h0M127.5 121.5h0M115.9 129.0h0M100.4 123.2h0M110.9 123.7h0M115.4 123.2h0M85.4 116.8h0M120.5 131.5h0M128.5 122.1h0M96.1 123.1h0M120.4 116.2h0M110.1 123.5h0M118.0 108.6h0M125.4 117.4h0M118.3 133.0h0M115.4 122.5h0M111.3 134.6h0M106.7 107.7h0M128.2 133.2h0M120.0 126.3h0M94.2 129.2h0M93.7 127.0h0M97.6 116.8h0M98.6 127.7h0M110.5 118.3h0M103.1 125.9h0M85.9 129.8h0M102.0 121.2h0M106.9 119.7h0M132.4 121.4h0M109.0 125.8h0M118.9 125.6h0M110.9 121.3h0M107.6 117.4h0M110.3 112.4h0M109.8 134.2h0M102.7 130.4h0M115.1 134.1h0M89.1 129.3h0M125.9 119.6h0M112.9 138.0h0M104.1 126.8h0M143.2 115.1h0M113.1 132.5h0M117.3 116.3h0M117.8 129.8h0M125.2 122.5h0M116.0 111.3h0M97.7 128.2h0M110.3 125.4h0M140.0 123.6h0M117.7 118.9h0M113.0 134.3h0M113.6 132.1h0M99.0 133.5h0M120.8 119.6h0M119.0 123.7h0M124.2 107.9h0M85.7 118.9h0M116.2 126.8h0M127.7 127.1h0M95.2 126.4h0M113.5 123.7h0M124.2 115.3h0M112.1 126.3h0M100.1 109.3h0M116.7 117.7h0M100.0 126.7h0M124.6 116.5h0M107.6 116.9h0M111.4 115.5h0M84.2 123.7h0M116.9 117.9h0M106.6 132.8h0M123.5 131.0h0M118.7 125.0h0M122.0 117.1h0M85.1 132.6h0M112.8 129.4h0M123.9 120.5h0M123.6 117.6h0M106.3 118.1h0M107.9 122.7h0M118.1 122.0h0M91.4 126.3h0M106.4 143.9h0M121.3 111.3h0M98.9 126.5h0M107.7 114.2h0M93.9 123.1h0M114.0 130.3h0M102.0 121.8h0M125.1 115.8h0M111.8 127.9h0M112.9 115.6h0M105.0 127.8h0M122.0 116.7h0M93.4 118.3h0M113.8 126.4h0M137.2 117.0h0M97.7 114.2h0M109.5 115.3h0M112.2 108.7h0M118.7 122.0h0M126.7 127.6h0M118.7 120.9h0M100.2 126.2h0M132.3 118.3h0M107.1 120.0h0M105.2 136.5h0M108.2 120.8h0M119.3 125.2h0M96.1 116.1h0M130.7 111.7h0M124.3 122.6h0M124.0 127.5h0M99.9 123.9h0M100.1 118.7h0M114.6 126.0h0M111.2 120.4h0M124.9 118.4h0M118.7 119.8h0M98.6 122.1h0M106.3 108.4h0M82.0 110.9h0M119.5 115.1h0M99.0 113.5h0M141.8 120.5h0M126.8 125.0h0M107.2 110.4h0M123.0 120.2h0M106.7 108.0h0M106.6 126.2h0M116.7 123.6h0M108.1 116.7h0M103.4 128.3h0M119.2 130.4h0M116.6 134.6h0M109.8 133.6h0M131.9 131.6h0M120.4 125.5h0M118.9 121.0h0M95.8 122.1h0M101.7 126.1h0M122.7 128.1h0M125.3 116.6h0M111.7 125.1h0M120.9 122.6h0M112.7 128.3h0M104.2 111.5h0M90.4 128.1h0M126.7 126.6h0M112.0 115.4h0M110.6 137.3h0M110.3 130.7h0M106.7 116.0h0M113.1 123.0h0M110.1 123.2h0M120.2 124.7h0M95.2 119.8h0M123.9 120.8h0M93.2 126.0h0M84.7 122.8h0M112.3 124.6h0M140.7 115.6h0M101.5 124.7h0M98.2 123.8h0M127.9 125.4h0M111.8 116.6h0M110.7 132.3h0M107.8 113.3h0M142.4 118.6h0M112.7 110.9h0M128.5 127.0h0M109.8 124.0h0M112.6 120.6h0M114.5 113.1h0M90.6 127.1h0M116.7 125.4h0M114.7 124.0h0M115.9 131.8h0M116.0 126.6h0M141.6 119.1h0M115.5 135.3h0M106.5 119.7h0M113.3 121.3h0M142.4 127.7h0M107.9 122.3h0M99.2 110.4h0M125.4 118.3h0M138.2 114.6h0M119.8 114.7h0M96.7 122.9h0M121.5 121.5h0M107.9 122.5h0M107.0 121.2h0M116.5 120.6h0M132.4 120.6h0M110.1 125.7h0M109.8 111.9h0M110.3 124.9h0M116.5 122.5h0M133.5 126.8h0M112.6 130.9h0M102.7 126.5h0M117.9 125.0h0M126.6 119.9h0M87.9 120.3h0M105.7 117.1h0M111.1 123.6h0M95.8 115.3h0M118.3 117.7h0M123.2 121.0h0M121.9 132.3h0M115.3 126.3h0M117.1 136.1h0M120.9 112.1h0M99.8 139.6h0M105.0 115.6h0M91.3 122.7h0M90.5 123.5h0M119.4 123.7h0M111.6 121.6h0M108.5 130.5h0M121.2 129.8h0M87.1 128.6h0M99.6 113.6h0M95.2 124.7h0M129.5 118.9h0M100.8 119.8h0M112.3 127.5h0M123.0 129.3h0M98.9 120.4h0M105.0 117.3h0M106.5 117.0h0M109.8 127.8h0M108.7 125.8h0M105.2 123.3h0M130.7 137.4h0M114.9 131.2h0M112.1 119.8h0M114.8 130.9h0M129.8 127.7h0M128.6 128.7h0M110.7 124.1h0M114.0 128.7h0M139.2 125.1h0M125.6 129.1h0M121.8 120.6h0M105.2 115.7h0M121.1 116.4h0M111.0 131.1h0M86.2 120.7h0M131.5 121.0h0M124.8 136.0h0M117.4 117.6h0M98.5 122.6h0M115.0 118.2h0M111.1 116.1h0M97.5 117.3h0M83.8 121.7h0M104.2 114.8h0M106.4 123.3h0M116.0 117.1h0M106.2 125.0h0M130.0 135.1h0M123.7 120.9h0M132.3 124.1h0M109.8 121.8h0M82.1 120.4h0M106.4 127.5h0M141.7 116.2h0M113.7 119.1h0M87.8 125.8h0M130.7 123.5h0M82.6 118.0h0M124.1 124.1h0M112.6 112.5h0M133.7 108.6h0M124.4 117.7h0M115.8 124.0h0M101.2 112.9h0M108.5 128.4h0M119.2 119.8h0M120.2 118.6h0M110.9 129.9h0M133.8 130.7h0M95.1 129.6h0M89.6 127.8h0M87.6 114.3h0M104.0 115.8h0M116.5 124.8h0M129.5 120.9h0M109.4 114.0h0M122.4 119.3h0M106.4 120.8h0M107.8 127.5h0M104.0 113.7h0M114.9 110.2h0M116.1 118.4h0M92.2 116.1h0M105.4 126.7h0M127.3 127.3h0M125.2 112.2h0M101.5 121.0h0M96.8 114.0h0M85.0 125.0h0M122.4 132.3h0M95.0 130.2h0M96.3 115.7h0M104.4 122.6h0M114.0 116.2h0M93.7 117.3h0M124.1 115.5h0M124.4 124.4h0M106.2 120.0h0M99.4 117.7h0M141.4 124.1h0M87.7 124.2h0M105.0 131.5h0M116.9 134.3h0M85.4 124.3h0M109.0 113.7h0M121.7 119.6h0M100.3 129.8h0M116.6 133.3h0M100.9 119.7h0M102.0 113.4h0M119.0 136.4h0M107.3 125.7h0M100.7 111.4h0M113.7 119.5h0M146.0 125.7h0M154.6 123.1h0M143.5 123.4h0M153.2 114.7h0M160.8 129.7h0M154.3 126.6h0M158.2 118.1h0M138.5 116.6h0M168.4 131.1h0M159.8 119.9h0M147.0 124.2h0M142.9 121.1h0M156.4 117.1h0M139.1 128.3h0M150.5 120.6h0M156.8 120.2h0M138.9 116.2h0M158.0 130.8h0M158.6 120.4h0M156.5 121.1h0M132.6 115.6h0M152.1 113.9h0M150.9 139.0h0M160.1 114.9h0M155.8 118.1h0M165.0 117.5h0M160.9 123.4h0M153.1 115.0h0M142.8 113.7h0M152.3 128.4h0M166.8 128.6h0M130.4 127.5h0M134.0 120.1h0M164.7 124.6h0M168.4 130.2h0M154.0 131.3h0M156.9 126.6h0M143.8 132.1h0M152.9 126.2h0M143.3 127.3h0M151.6 116.7h0M149.4 123.2h0M141.0 114.1h0M145.6 132.4h0M130.0 121.0h0M172.1 111.2h0M137.8 119.8h0M148.8 117.2h0M173.2 119.2h0M149.0 129.8h0M147.8 120.3h0M157.1 117.7h0M156.8 122.8h0M143.1 121.7h0M138.3 125.1h0M148.8 131.9h0M152.1 117.5h0M141.3 107.8h0M158.2 117.0h0M174.6 124.7h0M154.1 123.4h0M154.8 135.3h0M153.9 114.3h0M152.1 128.3h0M148.1 108.8h0M155.7 123.8h0M154.2 107.7h0M162.4 127.0h0M160.7 125.7h0M151.1 132.9h0M149.1 117.0h0M146.8 112.0h0M153.1 121.6h0M150.3 125.8h0M131.0 114.3h0M152.6 122.7h0M145.4 126.2h0M139.4 109.5h0M148.6 113.4h0M145.7 126.3h0M139.3 117.9h0M150.4 127.5h0M150.0 104.0h0M167.6 119.6h0M139.8 108.5h0M146.4 123.4h0M153.2 115.5h0M162.1 127.9h0M154.4 122.8h0M146.2 126.4h0M136.6 122.7h0M150.7 133.5h0M172.5 127.6h0M165.9 124.0h0M162.0 109.5h0M163.6 122.9h0M151.4 129.2h0M144.4 131.2h0M152.2 134.5h0M154.9 123.9h0M174.2 125.6h0M138.9 122.3h0M141.4 112.1h0M161.0 134.6h0M157.2 115.9h0M133.3 135.2h0M166.2 121.2h0M158.1 135.8h0M158.4 112.8h0M159.1 116.7h0M138.6 124.0h0M130.3 136.0h0M150.7 122.8h0M160.5 130.3h0M151.7 125.3h0M163.5 120.8h0M150.0 130.2h0M143.0 117.3h0M153.9 125.9h0M170.1 128.9h0M157.9 131.4h0M139.3 116.4h0M146.1 115.3h0M148.6 132.3h0M146.9 114.3h0M142.6 132.8h0M158.4 126.2h0M141.7 119.3h0M155.0 124.1h0M135.2 117.0h0M142.5 120.8h0M145.1 119.0h0M147.9 122.9h0M139.7 120.4h0M161.4 118.3h0M144.6 137.5h0M138.2 126.1h0M157.1 124.2h0M165.0 117.8h0M163.6 120.0h0M146.8 131.2h0M166.2 128.5h0M164.9 132.0h0M135.5 112.5h0M148.8 129.3h0M136.8 138.4h0M157.6 114.1h0M139.2 116.7h0M157.0 129.7h0M142.0 121.1h0M154.3 130.8h0M147.5 109.1h0M146.8 138.2h0M152.5 126.9h0M135.4 126.1h0M147.0 123.9h0M148.8 124.2h0M145.4 120.0h0M146.5 120.9h0M153.7 108.4h0M144.9 147.4h0M156.5 122.0h0M157.5 130.7h0M141.1 122.8h0M159.3 125.3h0M139.3 102.4h0M147.3 126.9h0M146.0 134.6h0M152.8 123.1h0M147.9 119.9h0M148.6 129.1h0M142.3 114.5h0M158.7 128.1h0M133.7 106.9h0M147.7 110.9h0M151.0 121.8h0M145.9 105.5h0M156.4 130.7h0M153.6 122.0h0M157.7 137.7h0M167.1 128.6h0M153.8 115.2h0M159.3 129.5h0M141.7 126.5h0M139.5 116.4h0M147.0 125.1h0M144.7 117.3h0M159.4 120.0h0M159.4 139.0h0M146.6 120.6h0M153.5 125.5h0M142.7 121.5h0M153.7 123.2h0M151.2 117.8h0M144.1 122.7h0M143.9 130.8h0M153.6 116.3h0M143.8 122.2h0M170.7 114.1h0M146.8 136.8h0M162.7 128.5h0M150.7 127.8h0M148.6 127.2h0M144.0 124.0h0M137.1 123.2h0M149.6 121.7h0M150.9 119.0h0M153.6 127.0h0M147.5 112.5h0M158.1 120.3h0M147.0 125.9h0M154.0 130.8h0M153.6 120.5h0M171.5 117.2h0M148.7 126.0h0M143.6 127.2h0M154.2 116.5h0M159.9 112.3h0M164.9 122.3h0M153.6 132.9h0M150.1 113.9h0M138.0 140.4h0M152.8 130.9h0M138.6 115.1h0M165.6 113.8h0M158.8 125.2h0M151.7 128.3h0M148.7 120.9h0M145.9 107.8h0M136.4 121.3h0M166.0 126.1h0M145.7 119.5h0M141.8 129.8h0M147.5 125.0h0M134.5 124.7h0M152.5 121.9h0M143.4 107.6h0M173.4 127.5h0M160.1 120.5h0M136.6 126.2h0M154.3 122.8h0M169.6 119.3h0M140.4 111.8h0M158.2 126.9h0M146.0 131.3h0M160.4 123.7h0M151.1 113.5h0M178.9 116.9h0M140.2 120.2h0M156.5 124.6h0M147.9 127.7h0M153.8 115.4h0M177.3 117.5h0M140.0 136.2h0M135.2 115.4h0M148.3 112.9h0M145.4 121.7h0M160.8 127.1h0M162.0 120.3h0M147.8 117.3h0M130.0 118.9h0M145.3 138.0h0M147.6 121.1h0M145.2 129.6h0M164.3 131.5h0M137.5 119.6h0M148.4 115.7h0M141.9 116.9h0M158.1 112.0h0M156.9 119.5h0M153.3 110.5h0M145.8 117.0h0M158.2 117.1h0M160.4 131.2h0M152.8 119.1h0M164.8 122.7h0M141.7 120.6h0M161.2 113.3h0M161.3 118.0h0M158.6 111.2h0M158.2 124.2h0M153.5 126.6h0M163.1 119.4h0M164.4 128.8h0M156.5 123.5h0M134.7 125.1h0M151.7 129.5h0M131.7 121.0h0M166.6 112.3h0M138.5 119.9h0M154.1 115.7h0M153.6 130.2h0M164.2 118.9h0M146.0 129.0h0M146.2 129.1h0M147.2 117.8h0M151.8 129.1h0M170.7 121.4h0M147.6 122.1h0M149.1 119.4h0M160.3 109.2h0M151.3 119.9h0M149.0 124.9h0M153.0 134.1h0M143.0 129.7h0M148.6 109.7h0M159.5 118.2h0M151.1 121.2h0M153.2 108.5h0M148.4 128.9h0M142.3 130.4h0M147.7 127.2h0M150.8 120.5h0M161.6 117.8h0M178.2 124.5h0M148.5 126.5h0M167.6 122.6h0M146.2 120.1h0M152.5 122.6h0M149.4 118.1h0M158.8 122.1h0M139.9 109.5h0M152.7 126.5h0M149.7 121.4h0M161.5 122.3h0M152.0 107.6h0M153.9 111.0h0M158.2 112.9h0M149.7 118.2h0M157.4 122.1h0M159.6 109.8h0M172.7 111.5h0M151.4 124.2h0M148.9 123.3h0M161.2 123.9h0M157.7 125.8h0M131.8 119.7h0M134.8 125.2h0M156.5 131.3h0M157.0 128.1h0M159.8 124.9h0M156.9 115.0h0M155.9 124.0h0M152.0 114.0h0M154.0 116.4h0M145.9 125.9h0M136.5 129.3h0M141.1 118.6h0M159.0 132.5h0M141.5 120.5h0M149.0 131.9h0M153.1 124.8h0M150.4 119.0h0M141.7 128.7h0M146.5 122.2h0M136.3 99.1h0M156.2 120.5h0M151.9 118.3h0M157.3 116.9h0M163.8 125.1h0M153.7 114.3h0M147.3 123.2h0M132.2 120.7h0M145.4 131.8h0M161.3 119.0h0M163.3 133.9h0M165.5 123.2h0M136.0 134.9h0M163.1 122.2h0M148.8 123.1h0M150.3 118.2h0M138.6 116.8h0M160.2 132.3h0M162.2 114.4h0M159.5 131.3h0M147.6 119.5h0M146.3 120.5h0M143.1 117.5h0M148.1 130.6h0M154.5 107.8h0M128.9 116.0h0M147.8 114.5h0M141.4 113.6h0M169.6 135.6h0M154.9 127.6h0M157.2 124.7h0M162.0 122.0h0M143.7 128.8h0M151.7 116.7h0M153.0 119.4h0M155.4 118.3h0M162.9 108.7h0M159.8 126.1h0M158.9 111.6h0M148.2 124.7h0M153.4 117.6h0M150.7 120.1h0M140.0 117.4h0M158.2 108.0h0M152.5 125.2h0M165.4 114.9h0M150.4 130.3h0M169.4 122.8h0M167.7 125.9h0M156.8 123.2h0M163.0 120.6h0M159.8 118.7h0M150.9 122.6h0M138.5 123.1h0M139.0 111.8h0M149.9 121.5h0M143.2 117.2h0M145.7 120.0h0M152.7 118.1h0M151.9 119.2h0M156.7 128.8h0M146.8 118.8h0M123.4 121.6h0M158.4 121.6h0M152.1 114.1h0M161.3 128.3h0M139.8 101.3h0M161.7 119.2h0M154.1 127.9h0M147.7 119.2h0M162.7 122.4h0M156.5 126.5h0M148.8 135.8h0M160.1 122.3h0M149.1 131.6h0M127.5 137.5h0M144.2 123.6h0M157.1 129.9h0M144.4 123.7h0M140.8 136.8h0M150.9 121.9h0M144.2 112.8h0M150.4 122.2h0M151.4 119.4h0M151.0 138.2h0M155.0 119.1h0M165.4 120.2h0M164.9 119.2h0M139.1 113.9h0M150.5 116.5h0M155.1 117.8h0M137.6 110.2h0M143.8 129.9h0M156.1 123.9h0M134.8 109.0h0M149.3 115.2h0M148.9 124.2h0M156.1 118.4h0M143.4 123.1h0M148.3 114.2h0M149.4 128.4h0M157.2 124.5h0M138.0 117.8h0M152.0 123.4h0M152.0 114.6h0M158.6 126.1h0M141.8 116.1h0M142.3 131.8h0M155.3 120.1h0M147.6 120.2h0M163.7 121.5h0M139.8 114.9h0M135.1 119.3h0M162.9 122.6h0M154.4 129.1h0M159.2 116.8h0M150.4 129.8h0M139.5 118.4h0M146.8 122.6h0M146.2 124.2h0M165.9 115.7h0M149.4 127.8h0M149.8 125.5h0M158.4 117.9h0M155.7 121.7h0M164.8 113.1h0M136.4 121.4h0M155.5 118.8h0M144.0 120.2h0M134.6 122.7h0M137.4 131.9h0M148.6 126.8h0M150.3 128.7h0M149.9 123.6h0M150.1 141.4h0M155.6 123.3h0M136.7 149.3h0M156.4 149.1h0M175.7 143.4h0M157.8 149.2h0M155.9 147.9h0M149.9 144.9h0M149.0 147.1h0M148.7 146.8h0M160.9 142.3h0M156.7 142.7h0M150.4 148.6h0M158.3 136.5h0M140.6 145.7h0M166.4 145.3h0M148.1 148.9h0M156.3 147.3h0M142.0 146.6h0M153.9 147.2h0M144.7 147.7h0M160.2 148.8h0M148.7 141.7h0M138.8 145.9h0M172.8 148.5h0M159.2 143.8h0M150.5 143.3h0M165.9 142.9h0M159.0 146.5h0M124.7 142.7h0M124.3 148.8h0M164.4 145.8h0M138.9 148.4h0M129.4 146.1h0M140.6 140.4h0M146.0 144.4h0M155.2 149.1h0M146.2 147.6h0M161.0 145.3h0M145.1 149.3h0M129.7 144.2h0M158.5 146.2h0M139.5 145.6h0M152.3 145.5h0M133.3 146.8h0M178.9 147.2h0M143.1 142.9h0M125.4 148.7h0M125.7 140.9h0M153.2 148.0h0M162.3 147.1h0M127.7 142.8h0M157.6 142.1h0M124.6 146.5h0M135.1 144.2h0M160.8 144.0h0M157.9 147.1h0M149.9 148.0h0M159.3 146.7h0M158.1 148.8h0M123.6 143.6h0M152.9 144.4h0M133.2 146.2h0M138.2 147.6h0M136.9 146.7h0M173.8 146.2h0M135.3 145.0h0M144.6 144.9h0M168.2 145.6h0M148.9 147.7h0M156.6 147.8h0M155.7 145.8h0M156.6 142.2h0M162.9 144.6h0M152.5 149.0h0M155.3 148.7h0M173.8 143.5h0M125.7 145.1h0M141.2 145.9h0M159.7 139.7h0M165.4 145.2h0M156.3 137.0h0M137.3 147.5h0M141.6 146.3h0M170.1 143.1h0M132.0 146.9h0M154.3 145.5h0M135.5 148.0h0M152.2 143.1h0M169.5 147.1h0M153.1 147.2h0M155.0 147.5h0M161.3 145.9h0M160.4 142.7h0M145.2 146.3h0M165.8 148.2h0M141.6 144.2h0M174.8 148.6h0M160.6 148.0h0M161.7 147.4h0M160.2 145.9h0M154.7 145.4h0M167.0 148.7h0M154.1 143.3h0M154.8 144.3h0M138.6 147.0h0M128.3 146.3h0M179.1 143.8h0M142.5 146.3h0M137.7 149.0h0M169.4 146.8h0M143.1 143.6h0M138.8 146.7h0M149.9 148.7h0M154.3 142.8h0M164.7 144.6h0M167.8 145.0h0M158.7 145.3h0M152.4 142.6h0M148.5 148.6h0M146.8 148.5h0M160.3 148.2h0M132.4 146.3h0M169.3 147.6h0M159.0 146.3h0M143.1 143.1h0M131.5 147.6h0M162.8 146.9h0M142.4 142.2h0M143.5 148.6h0M156.7 144.2h0M147.8 145.8h0M154.0 144.1h0M166.4 146.7h0M144.3 149.3h0M165.0 148.3h0M159.6 147.7h0M168.7 140.7h0M147.3 148.6h0M149.2 144.4h0M159.6 149.2h0M131.9 147.8h0M139.8 149.0h0M157.2 138.2h0M174.5 147.0h0M163.1 146.6h0M162.7 147.5h0M153.4 148.5h0M165.7 148.0h0M181.0 147.5h0M168.7 145.5h0M141.6 146.8h0M147.6 145.3h0M169.5 145.8h0M145.1 141.5h0M154.7 142.8h0M135.6 141.6h0M144.2 146.1h0M139.6 148.6h0M149.3 143.1h0M149.4 137.9h0M160.0 145.8h0M140.0 145.6h0M150.3 147.9h0M179.3 117.0h0M133.8 132.3h0M89.5 114.0h0M147.4 143.2h0M128.6 136.1h0M156.3 128.4h0M152.5 119.9h0M173.5 115.6h0M135.7 144.1h0M81.2 124.8h0M146.9 111.4h0M93.5 129.3h0M177.3 114.9h0M159.8 139.5h0M95.9 122.7h0M178.6 142.4h0M162.0 124.4h0M145.2 131.1h0M134.3 131.7h0M134.8 121.4h0M87.8 136.2h0M109.1 147.2h0M128.0 136.4h0M133.2 117.3h0M163.7 146.4h0M110.9 126.7h0M173.1 131.0h0M174.3 114.4h0M172.4 135.2h0M137.8 111.7h0M176.1 115.3h0M152.8 133.8h0M94.6 130.7h0M144.2 116.4h0M176.0 120.5h0M156.4 112.1h0M108.3 117.1h0M132.1 147.3h0M169.4 143.9h0M113.6 130.7h0M146.1 117.6h0M137.7 125.4h0M123.7 113.9h0M173.2 124.8h0M132.9 146.5h0M95.3 126.1h0M158.7 129.7h0M103.0 126.2h0M146.1 141.0h0M105.2 132.4h0M147.3 133.7h0M121.8 119.2h0M96.8 146.3h0M169.6 147.1h0M180.7 147.5h0M89.9 131.8h0M143.9 117.3h0M81.3 112.7h0M101.2 142.1h0M174.4 121.8h0M141.4 117.9h0M135.1 131.7h0M102.1 135.1h0M143.3 145.0h0M86.9 133.7h0M165.9 121.4h0M104.6 132.6h0M118.9 123.0h0M168.0 126.1h0M160.5 146.2h0M140.0 115.0h0M114.9 111.8h0M173.9 144.9h0M144.7 125.5h0M123.1 135.4h0M96.4 116.0h0M162.3 119.1h0M131.9 148.2h0M172.0 127.3h0M99.3 124.0h0M181.4 111.2h0M179.3 118.2h0M108.6 122.5h0M148.6 115.2h0M180.4 116.0h0M137.0 128.4h0M180.2 124.3h0M125.3 126.7h0M94.9 125.7h0M162.7 143.0h0M176.9 138.3h0M148.0 134.9h0M108.8 148.3h0M145.2 118.2h0M141.9 146.5h0M85.7 122.6h0M149.1 127.5h0M160.5 116.7h0M168.5 125.6h0M105.0 143.5h0M85.1 123.2h0M128.0 136.0h0M132.5 133.1h0M127.4 137.7h0M180.0 129.8h0M125.2 135.1h0M130.5 139.5h0M154.5 135.9h0M97.6 123.6h0M153.4 142.6h0M175.1 118.4h0M114.6 117.5h0M114.8 136.6h0M165.8 146.4h0M156.9 119.5h0M152.3 112.9h0M106.9 111.9h0M109.2 116.9h0M179.2 117.4h0M127.9 112.5h0M83.3 133.8h0M92.9 144.6h0M156.5 120.8h0M94.6 111.1h0M169.5 145.5h0M140.9 144.2h0M110.0 136.0h0M126.0 112.6h0M137.9 128.6h0M136.5 144.7h0M125.4 123.2h0M107.1 136.0h0M174.8 117.8h0M83.2 120.6h0M82.6 143.0h0M150.2 124.6h0M95.3 131.2h0M115.8 149.2h0M166.6 116.2h0M126.9 140.4h0M110.0 122.9h0M94.0 113.3h0M107.5 140.8h0M174.5 136.5h0M100.9 138.7h0M157.5 132.8h0M155.8 148.6h0M180.9 132.1h0M172.6 142.4h0M174.7 126.9h0M147.2 127.6h0M92.7 134.4h0M171.3 121.9h0M98.6 127.1h0M98.7 137.2h0M161.9 119.9h0M172.4 139.2h0M129.7 146.9h0M179.3 112.8h0M99.5 127.2h0M122.9 139.4h0M176.1 137.8h0M109.8 148.3h0M115.3 115.3h0M142.3 133.7h0M119.9 115.1h0M160.0 114.5h0M154.0 116.0h0M160.0 129.9h0M169.4 136.0h0M145.7 137.6h0M161.5 135.8h0M91.1 124.3h0M169.8 149.5h0M155.9 139.3h0M146.1 119.6h0M87.7 123.1h0M101.0 142.3h0M111.4 126.8h0M174.7 147.5h0M143.0 143.2h0M118.9 124.6h0M83.3 129.2h0M117.3 119.3h0M122.8 114.7h0M136.3 140.6h0M173.2 127.4h0M122.1 120.9h0M117.9 131.7h0M158.1 133.8h0M121.7 141.5h0M145.8 123.9h0M114.0 131.7h0M120.0 131.7h0M174.2 118.8h0M181.0 148.1h0M153.4 129.9h0M111.6 140.6h0M153.2 130.4h0M160.0 139.1h0M177.2 130.0h0M175.7 134.3h0M165.3 138.4h0M85.3 114.9h0M156.8 113.2h0M89.4 124.4h0M132.4 139.2h0M173.9 136.6h0M123.0 148.5h0M138.7 148.6h0M144.7 141.5h0M104.4 125.4h0M91.1 146.4h0M155.6 147.7h0M142.3 128.6h0M98.2 113.5h0M94.9 111.8h0M135.1 114.5h0M114.6 114.9h0M113.8 117.2h0M161.5 116.9h0M151.8 113.8h0M105.5 111.3h0M166.5 118.7h0M153.1 113.0h0M166.0 118.5h0M129.5 115.4h0M156.3 114.2h0M162.8 113.0h0M169.3 115.8h0M116.9 113.2h0M172.9 113.8h0M104.0 115.2h0M158.8 115.1h0M158.1 112.1h0M168.1 111.5h0M147.3 111.7h0M121.7 112.5h0M165.7 113.9h0M167.6 116.3h0M124.8 115.0h0M95.2 112.0h0M100.6 112.7h0M94.0 111.9h0M139.7 115.5h0M146.0 113.7h0M173.8 112.9h0M119.0 116.9h0M118.1 114.2h0M103.6 112.3h0M168.7 115.8h0M129.7 115.8h0M118.4 117.6h0M156.8 114.8h0M122.2 113.4h0M101.8 114.5h0M96.8 116.9h0M155.3 117.4h0M173.9 113.3h0M163.7 115.7h0M159.5 112.9h0M126.5 114.7h0M170.6 112.3h0M140.5 116.5h0M147.5 114.6h0M101.3 60.4h0M87.2 97.0h0M140.6 55.5h0M119.8 81.8h0" stroke="#000" stroke-opacity="0.45" stroke-width="1.4" stroke-linecap="round" fill="none"/>
<path d="M110.6 94.1h0M91.0 80.5h0M104.6 79.1h0M111.1 91.6h0M116.8 92.0h0M112.0 94.0h0M119.0 69.5h0M121.5 74.9h0M107.5 77.3h0M125.2 88.4h0M105.7 87.2h0M113.5 90.2h0M116.5 87.7h0M116.7 85.6h0M101.0 92.9h0M132.4 99.3h0M107.9 70.0h0M117.0 102.5h0M115.2 95.0h0M111.9 82.5h0M108.4 73.7h0M100.2 89.0h0M102.1 83.8h0M103.7 104.0h0M97.2 81.2h0M106.7 95.0h0M99.5 95.5h0M103.7 73.8h0M110.7 92.8h0M114.5 81.8h0M104.6 94.8h0M104.9 88.7h0M116.3 90.6h0M104.4 96.5h0M119.5 79.4h0M119.7 75.1h0M118.3 94.3h0M112.6 88.6h0M110.4 101.9h0M110.4 87.6h0M108.3 82.9h0M100.0 81.7h0M96.1 89.7h0M107.1 85.3h0M121.5 79.2h0M88.0 83.5h0M90.3 77.0h0M104.7 90.4h0M121.3 93.6h0M109.5 92.8h0M110.4 82.5h0M103.2 94.4h0M120.9 100.7h0M108.6 91.3h0M117.7 74.1h0M113.3 76.4h0M104.4 93.0h0M119.6 88.4h0M119.2 96.3h0M112.2 93.0h0M116.4 78.4h0M90.0 95.1h0M115.4 104.9h0M120.8 79.6h0M97.1 88.3h0M91.3 81.4h0M106.2 81.1h0M91.8 71.6h0M93.6 70.1h0M111.0 69.3h0M102.7 72.4h0M117.1 80.8h0M91.7 70.0h0M105.8 92.4h0M110.4 89.2h0M101.0 72.7h0M96.3 88.2h0M107.2 102.0h0M95.1 71.5h0M103.9 75.6h0M99.0 70.3h0M92.7 69.3h0M96.1 80.7h0M121.2 92.1h0M107.8 99.3h0M106.2 71.1h0M116.9 79.9h0M94.4 95.6h0M122.5 83.0h0M123.7 92.1h0M91.5 105.3h0M105.8 73.7h0M102.8 74.2h0M127.4 97.7h0M127.4 87.1h0M126.5 92.3h0M128.0 83.3h0M126.4 85.8h0M124.9 93.9h0M160.4 90.1h0M139.4 79.6h0M119.8 99.6h0M139.6 90.3h0M152.3 74.7h0M134.2 83.2h0M150.5 85.8h0M157.4 72.2h0M151.7 77.4h0M144.8 86.0h0M144.7 92.0h0M162.9 78.0h0M156.2 86.4h0M131.2 96.0h0M137.9 99.4h0M158.6 84.2h0M156.9 68.1h0M140.0 82.3h0M121.0 105.9h0M134.9 93.4h0M169.9 66.2h0M141.9 93.1h0M147.7 87.1h0M146.0 96.4h0M165.4 83.7h0M165.9 71.2h0M141.6 77.6h0M168.3 74.2h0M148.3 78.5h0M131.1 99.1h0M150.4 72.5h0M161.4 65.5h0M153.6 85.6h0M167.8 77.9h0M152.0 68.4h0M136.8 92.5h0M144.2 77.4h0M136.2 84.8h0M133.2 95.3h0M134.3 97.9h0M130.8 99.9h0M154.3 71.1h0M138.6 99.3h0M129.5 90.1h0M150.9 80.4h0M128.6 90.2h0M147.8 69.9h0M170.4 80.9h0M148.8 86.1h0M144.7 84.1h0M142.6 79.3h0M150.4 89.2h0M156.8 74.7h0M132.7 94.9h0M139.1 90.1h0M143.0 65.2h0M142.2 79.5h0M136.9 91.9h0M127.4 89.6h0M170.6 75.2h0M166.0 74.4h0M142.5 72.3h0M128.9 93.3h0M169.2 57.1h0M143.6 95.7h0M150.9 82.3h0M138.3 82.4h0M135.5 88.6h0M133.1 87.5h0M140.9 79.0h0M177.3 60.2h0M145.4 70.2h0M141.1 90.1h0M138.0 105.8h0M143.2 79.7h0M151.5 75.7h0M164.5 71.8h0M151.1 90.7h0M140.2 85.3h0M155.9 79.7h0M156.9 80.9h0M151.6 89.2h0M150.5 86.3h0M147.0 90.2h0M150.3 88.9h0M138.9 88.8h0M139.0 84.4h0M121.8 102.3h0M135.1 86.9h0M147.4 76.0h0M162.8 84.2h0M165.1 81.3h0M146.5 86.3h0M166.8 60.9h0M153.7 82.7h0M138.5 93.6h0M137.7 94.3h0M139.9 84.7h0M139.0 90.7h0M149.8 85.0h0M145.8 65.2h0M151.9 74.0h0M146.7 88.4h0M131.3 81.6h0M145.6 97.6h0M169.3 59.0h0M143.9 87.9h0M131.9 79.6h0M135.2 92.2h0M142.1 93.8h0M151.2 79.9h0M154.2 76.7h0M151.0 63.9h0M141.8 87.0h0M130.3 91.6h0M150.8 80.5h0M144.4 92.7h0M145.4 80.5h0M134.1 87.3h0M142.7 89.3h0M151.0 87.7h0M147.0 76.2h0M135.3 88.9h0M145.3 88.3h0M139.3 85.4h0M143.9 88.6h0M153.9 80.9h0M163.3 83.2h0M135.4 87.3h0M149.6 77.0h0M140.8 85.4h0M125.3 94.7h0M150.5 84.3h0M147.8 80.6h0M148.1 78.8h0M136.8 91.0h0M144.4 90.6h0M149.5 85.4h0M146.6 86.1h0M142.6 82.5h0M135.9 88.0h0M136.7 93.0h0M138.1 86.9h0M147.1 86.8h0M144.5 83.7h0M149.4 84.7h0M145.5 81.0h0M138.2 90.0h0M138.7 94.8h0M150.6 81.8h0M156.6 75.2h0M138.9 80.2h0M143.8 80.0h0M138.0 85.9h0M144.3 84.5h0M141.2 87.0h0M142.7 79.6h0M147.0 87.4h0M138.5 92.8h0M151.8 81.7h0M130.8 88.0h0M141.5 85.6h0M146.5 85.8h0M146.2 85.5h0M138.2 92.0h0M171.1 40.9h0M167.0 74.0h0M170.3 93.1h0M165.3 93.0h0M160.3 79.5h0M177.7 73.0h0M164.8 59.4h0M169.9 79.6h0M170.5 86.8h0M149.9 63.5h0M170.7 64.5h0M119.2 130.7h0M124.0 123.2h0M117.8 128.0h0M93.6 138.3h0M104.1 130.3h0M105.7 116.6h0M102.8 119.5h0M133.6 130.9h0M93.6 128.7h0M108.7 102.9h0M120.1 119.0h0M111.7 125.2h0M120.0 125.4h0M134.9 128.8h0M98.4 120.8h0M103.0 123.2h0M114.8 129.7h0M113.5 125.4h0M99.8 120.1h0M122.3 118.8h0M130.7 128.5h0M112.2 119.1h0M111.0 121.2h0M104.1 123.7h0M115.5 119.5h0M101.6 121.3h0M100.1 126.5h0M102.9 121.1h0M112.5 121.8h0M113.4 115.8h0M99.0 122.7h0M101.2 133.2h0M98.3 124.6h0M98.2 116.8h0M117.0 132.7h0M126.7 119.7h0M117.3 125.1h0M131.9 124.8h0M111.8 120.5h0M100.0 120.2h0M109.1 120.1h0M109.6 127.2h0M107.3 124.8h0M136.7 123.6h0M104.0 123.6h0M97.5 123.6h0M106.5 115.9h0M81.2 116.9h0M121.3 126.7h0M99.8 126.6h0M135.1 114.6h0M110.6 118.5h0M108.0 127.5h0M116.3 136.0h0M110.1 122.3h0M135.3 119.5h0M125.5 115.4h0M88.6 120.0h0M116.5 109.6h0M112.7 127.7h0M110.3 125.7h0M121.9 128.7h0M110.1 134.0h0M111.6 123.3h0M116.4 117.6h0M113.0 117.3h0M115.0 122.5h0M114.1 119.7h0M108.6 118.3h0M103.0 120.4h0M111.3 116.9h0M103.9 122.5h0M114.1 116.2h0M110.3 126.1h0M104.5 124.4h0M130.7 136.3h0M121.5 126.0h0M121.2 127.7h0M111.9 116.8h0M118.0 126.7h0M107.2 120.4h0M153.0 122.9h0M117.3 131.3h0M108.0 135.0h0M102.6 122.0h0M111.5 117.3h0M107.5 115.7h0M123.9 133.3h0M94.7 112.5h0M116.3 120.1h0M122.0 106.6h0M102.8 111.9h0M123.9 121.4h0M122.9 124.0h0M108.4 126.5h0M93.9 117.0h0M120.6 121.0h0M100.5 112.8h0M139.0 126.6h0M100.5 117.7h0M93.3 128.4h0M139.2 121.3h0M114.3 128.5h0M145.4 130.7h0M111.2 135.7h0M100.8 129.4h0M103.7 125.5h0M134.7 133.0h0M120.4 115.1h0M112.2 120.3h0M91.3 120.3h0M97.6 123.7h0M101.7 128.8h0M124.9 126.7h0M86.3 127.5h0M119.3 115.4h0M114.7 121.9h0M94.0 126.7h0M126.1 127.7h0M104.9 116.4h0M115.0 115.1h0M90.2 124.6h0M102.9 119.3h0M127.6 119.5h0M125.6 124.9h0M113.7 106.0h0M112.7 122.2h0M114.1 128.0h0M106.3 124.6h0M98.8 125.4h0M94.2 113.4h0M114.8 125.9h0M105.4 113.3h0M119.9 116.5h0M105.4 120.1h0M109.4 133.2h0M105.6 121.0h0M122.9 129.2h0M115.7 125.2h0M145.4 121.6h0M124.8 123.1h0M105.5 115.0h0M101.4 113.2h0M105.9 120.4h0M94.8 128.7h0M115.2 123.1h0M107.0 110.1h0M112.2 124.9h0M124.5 130.5h0M121.3 127.2h0M125.9 123.7h0M101.7 123.1h0M119.5 124.2h0M120.5 120.4h0M105.8 123.1h0M125.9 130.7h0M101.4 123.8h0M130.2 108.4h0M105.8 120.6h0M109.4 129.3h0M93.3 129.2h0M108.1 128.6h0M128.9 133.3h0M105.9 135.0h0M114.9 117.3h0M117.4 118.3h0M116.3 126.4h0M115.6 108.6h0M92.2 126.4h0M125.7 120.1h0M119.1 138.1h0M119.0 118.7h0M121.5 115.2h0M117.5 113.9h0M131.8 123.1h0M120.0 133.7h0M114.8 120.0h0M135.0 122.4h0M120.8 121.4h0M135.8 120.3h0M116.4 119.4h0M108.9 124.8h0M106.8 130.8h0M120.7 109.7h0M93.5 110.4h0M95.6 126.0h0M127.7 121.6h0M100.3 121.8h0M126.4 130.5h0M93.2 130.1h0M135.1 123.4h0M143.2 119.3h0M98.5 111.6h0M118.3 113.8h0M125.5 122.8h0M118.9 129.7h0M91.7 120.7h0M113.7 123.8h0M113.8 127.6h0M104.1 114.9h0M88.3 124.1h0M90.9 135.0h0M93.3 122.7h0M114.5 129.6h0M107.6 126.1h0M105.4 132.5h0M97.6 125.5h0M128.3 129.6h0M108.8 124.7h0M98.3 118.4h0M113.9 124.1h0M121.4 113.7h0M107.6 123.5h0M122.5 127.3h0M94.7 133.6h0M119.6 118.9h0M118.6 124.6h0M104.7 113.9h0M111.2 114.6h0M90.8 126.2h0M92.9 125.9h0M100.2 112.6h0M111.0 125.5h0M100.1 124.6h0M114.9 133.6h0M91.5 125.5h0M109.6 116.4h0M125.8 127.7h0M103.3 135.1h0M110.1 122.1h0M95.6 111.3h0M111.8 114.2h0M106.9 122.4h0M117.9 128.1h0M113.8 134.4h0M103.8 127.7h0M96.1 110.6h0M118.5 114.7h0M111.5 125.8h0M108.2 129.8h0M134.1 124.5h0M117.9 107.2h0M111.8 140.8h0M97.3 124.8h0M142.4 133.4h0M110.9 124.8h0M108.3 123.0h0M111.7 118.3h0M107.4 122.9h0M114.6 123.9h0M113.8 114.4h0M110.3 126.2h0M114.6 111.0h0M88.5 124.8h0M123.7 119.5h0M106.5 124.6h0M109.2 116.6h0M103.4 127.8h0M118.1 118.0h0M135.6 122.0h0M111.9 126.5h0M133.7 123.9h0M102.4 133.8h0M107.2 130.7h0M96.6 112.7h0M109.2 116.8h0M120.7 122.4h0M91.3 126.2h0M90.5 127.4h0M97.1 112.6h0M112.2 111.3h0M121.1 121.4h0M123.7 133.1h0M96.3 120.3h0M97.5 120.2h0M120.6 118.5h0M98.2 137.7h0M89.8 115.7h0M116.1 108.1h0M95.7 118.1h0M131.5 132.5h0M125.6 127.5h0M104.2 111.9h0M94.2 128.2h0M130.6 124.3h0M107.0 120.9h0M105.8 109.9h0M114.5 115.5h0M142.4 124.8h0M109.6 118.3h0M97.3 128.5h0M114.2 133.2h0M98.6 117.8h0M86.2 128.9h0M93.2 122.4h0M96.2 118.9h0M117.4 124.4h0M118.6 119.6h0M96.2 132.6h0M83.4 133.9h0M101.3 127.3h0M125.9 127.2h0M121.8 131.1h0M109.9 125.6h0M98.7 120.5h0M90.7 130.3h0M123.8 126.6h0M91.7 127.7h0M127.6 116.0h0M120.3 128.1h0M130.0 134.4h0M130.2 120.5h0M114.7 113.9h0M107.9 127.8h0M100.6 109.1h0M117.3 120.3h0M110.4 122.9h0M139.8 128.9h0M97.6 119.5h0M102.6 125.5h0M120.6 119.3h0M135.2 126.9h0M154.9 123.0h0M149.7 115.3h0M145.9 117.4h0M136.5 115.1h0M149.3 118.6h0M157.9 120.3h0M151.6 112.5h0M154.4 122.8h0M153.1 132.6h0M151.9 125.9h0M137.9 127.5h0M149.7 117.0h0M132.3 125.6h0M141.7 118.8h0M133.0 121.5h0M129.2 123.6h0M138.7 124.5h0M154.5 128.1h0M146.7 131.6h0M146.4 120.0h0M156.6 119.6h0M142.2 121.9h0M156.1 122.6h0M141.6 119.5h0M150.3 118.1h0M153.6 127.9h0M148.7 116.6h0M153.5 126.4h0M137.9 116.8h0M155.1 129.8h0M151.2 132.0h0M168.8 134.3h0M149.6 118.5h0M174.1 127.5h0M165.0 114.3h0M164.8 132.7h0M145.6 122.8h0M153.8 122.4h0M151.1 124.2h0M151.6 133.8h0M165.5 110.5h0M147.6 126.7h0M145.0 118.1h0M147.5 119.5h0M137.6 117.2h0M162.1 119.6h0M151.7 112.8h0M158.3 116.1h0M161.9 128.1h0M155.8 119.6h0M143.6 118.9h0M155.2 121.5h0M142.2 132.9h0M141.5 119.7h0M154.4 117.2h0M149.0 124.8h0M141.7 123.8h0M166.1 126.6h0M143.7 135.4h0M148.4 133.5h0M133.4 131.0h0M139.8 128.8h0M144.4 129.4h0M165.6 128.8h0M153.6 111.1h0M138.8 117.4h0M145.9 121.9h0M150.4 126.4h0M144.7 133.8h0M153.7 124.3h0M159.9 108.5h0M140.8 121.4h0M153.9 121.8h0M155.4 115.0h0M147.6 121.3h0M146.4 119.7h0M145.1 126.7h0M143.1 114.2h0M147.3 133.4h0M158.2 124.6h0M136.1 131.9h0M147.4 105.9h0M153.2 107.2h0M159.8 132.2h0M145.1 127.9h0M133.6 130.1h0M148.6 118.2h0M153.2 126.8h0M126.4 111.0h0M172.9 120.6h0M161.8 119.9h0M140.7 120.5h0M137.9 122.8h0M139.3 126.4h0M162.5 124.3h0M164.7 110.2h0M161.2 122.5h0M152.7 132.5h0M137.1 118.0h0M165.6 113.5h0M142.5 111.2h0M141.3 130.3h0M156.5 118.8h0M145.0 122.6h0M159.1 114.9h0M149.3 111.9h0M158.9 116.7h0M153.7 120.3h0M145.3 125.8h0M165.9 118.6h0M139.4 122.5h0M146.0 124.8h0M141.7 124.5h0M157.6 113.1h0M140.4 132.9h0M151.7 109.7h0M156.6 120.0h0M166.9 123.0h0M153.7 124.5h0M148.1 124.2h0M157.2 121.5h0M160.6 129.1h0M140.7 114.0h0M125.4 113.7h0M141.1 126.7h0M148.5 123.5h0M157.5 128.2h0M154.4 126.8h0M145.6 118.9h0M150.3 132.1h0M162.0 123.1h0M153.0 118.5h0M167.3 132.4h0M147.6 118.0h0M151.5 137.7h0M140.2 128.5h0M149.2 123.7h0M131.9 130.0h0M152.2 130.5h0M155.6 131.8h0M150.4 117.9h0M164.2 118.2h0M139.0 127.2h0M155.1 126.9h0M152.5 120.4h0M148.4 111.2h0M150.4 103.9h0M156.8 135.6h0M155.4 125.7h0M158.9 127.7h0M150.8 123.0h0M151.1 128.2h0M156.8 122.8h0M151.5 130.4h0M161.5 126.9h0M145.9 127.3h0M154.4 125.6h0M149.8 114.7h0M141.7 117.8h0M157.2 133.0h0M158.0 106.6h0M160.8 114.9h0M142.4 132.2h0M160.2 115.3h0M155.7 123.9h0M140.1 126.9h0M158.7 125.7h0M144.2 108.4h0M148.8 120.6h0M148.2 109.6h0M152.1 116.9h0M161.9 118.5h0M138.1 118.8h0M147.6 118.4h0M156.0 118.4h0M150.3 118.6h0M153.3 120.4h0M152.3 108.2h0M156.8 123.9h0M150.9 126.8h0M147.4 114.6h0M157.1 112.7h0M147.6 117.7h0M152.4 135.0h0M154.4 117.5h0M131.4 126.0h0M144.7 102.4h0M157.2 119.4h0M165.6 127.5h0M151.2 126.8h0M165.4 120.9h0M134.8 134.9h0M144.9 117.2h0M153.2 126.1h0M161.5 119.8h0M166.0 116.2h0M148.2 125.0h0M154.6 125.0h0M145.0 118.5h0M153.9 113.0h0M145.4 129.9h0M157.4 122.5h0M160.8 121.5h0M149.1 114.1h0M147.9 122.9h0M159.1 108.4h0M147.2 116.2h0M137.0 125.9h0M144.8 117.0h0M143.7 122.4h0M156.1 108.3h0M160.7 132.1h0M143.2 123.3h0M159.3 127.2h0M157.6 119.9h0M153.8 117.3h0M127.4 121.7h0M127.0 118.9h0M154.9 121.8h0M149.3 115.3h0M144.1 134.4h0M143.6 122.6h0M164.1 116.8h0M150.7 127.0h0M167.3 119.8h0M133.7 133.4h0M167.8 111.6h0M166.5 118.3h0M146.0 126.5h0M137.9 112.9h0M127.4 138.6h0M155.9 130.6h0M146.6 130.8h0M159.2 121.1h0M140.8 110.5h0M162.8 102.6h0M157.6 122.8h0M171.7 125.7h0M160.4 122.5h0M162.1 117.8h0M146.8 121.7h0M159.6 120.0h0M145.5 132.6h0M155.9 110.3h0M141.1 125.1h0M150.2 125.7h0M162.0 120.7h0M140.0 125.6h0M163.9 124.2h0M160.0 114.9h0M146.9 114.9h0M163.2 120.1h0M140.9 128.9h0M138.7 122.7h0M152.3 127.8h0M154.9 122.8h0M162.1 128.5h0M154.5 120.4h0M147.5 111.0h0M151.6 123.2h0M145.6 120.4h0M152.0 120.1h0M146.6 140.5h0M164.3 133.4h0M159.6 129.9h0M161.5 105.9h0M167.7 132.0h0M174.8 112.7h0M169.1 135.3h0M144.6 120.9h0M152.0 116.9h0M145.2 123.9h0M152.8 123.0h0M150.4 123.5h0M143.3 124.3h0M150.3 117.2h0M166.3 122.0h0M153.4 118.6h0M149.8 123.5h0M156.4 125.5h0M157.1 127.7h0M155.2 120.7h0M152.2 120.4h0M148.5 117.5h0M157.3 123.7h0M141.8 133.5h0M153.8 126.2h0M155.0 113.0h0M150.2 115.6h0M165.3 120.5h0M139.4 113.4h0M141.5 122.2h0M146.4 131.1h0M158.4 124.5h0M163.7 103.9h0M161.0 133.1h0M152.2 125.8h0M162.6 116.4h0M136.8 128.4h0M158.6 119.3h0M144.2 127.0h0M157.1 115.4h0M155.9 122.6h0M155.6 119.8h0M152.5 124.9h0M140.7 128.1h0M145.2 122.5h0M148.0 123.9h0M149.9 135.1h0M165.9 127.2h0M143.7 120.6h0M156.7 125.6h0M140.9 117.3h0M148.6 121.1h0M141.3 128.3h0M155.8 125.2h0M146.0 117.0h0M149.9 123.8h0M172.1 128.4h0M154.9 119.9h0M154.6 123.0h0M154.8 113.7h0M150.1 113.2h0M144.8 130.5h0M160.9 121.6h0M144.4 131.2h0M146.6 118.8h0M156.5 123.1h0M154.0 125.5h0M144.2 108.5h0M141.5 116.7h0M164.6 129.6h0M146.7 113.0h0M153.3 118.9h0M150.5 125.1h0M160.5 114.6h0M145.0 120.9h0M136.9 129.9h0M149.4 115.0h0M160.6 120.9h0M136.0 122.1h0M164.5 124.1h0M158.3 119.4h0M157.9 130.5h0M150.3 120.5h0M143.1 111.1h0M162.2 125.4h0M149.4 130.2h0M158.4 132.4h0M171.5 120.8h0M139.3 120.1h0M159.4 123.0h0M138.9 123.8h0M153.8 125.3h0M156.8 127.9h0M153.9 119.9h0M155.9 125.6h0M145.8 113.0h0M155.3 106.1h0M147.5 133.9h0M147.7 130.5h0M147.8 120.8h0M170.5 115.8h0M153.9 114.7h0M153.9 114.3h0M152.6 124.0h0M139.1 115.1h0M153.8 131.0h0M130.9 127.3h0M158.9 118.9h0M142.1 120.6h0M150.2 133.9h0M161.4 129.3h0M148.0 126.0h0M131.3 115.2h0M147.9 132.8h0M156.6 109.1h0M154.3 128.1h0M137.9 126.3h0M148.7 118.9h0M171.5 124.2h0M147.4 116.8h0M136.5 127.4h0M153.0 103.1h0M147.0 124.8h0M147.8 110.2h0M177.6 128.3h0M132.2 124.4h0M171.2 113.3h0M155.3 126.1h0M157.8 119.8h0M166.2 121.0h0M159.4 128.2h0M152.0 127.0h0M160.1 122.9h0M152.5 127.1h0M139.7 113.3h0M148.3 125.1h0M155.2 142.1h0M161.4 119.6h0M130.8 118.6h0M149.1 114.0h0M157.3 117.9h0M148.6 119.0h0M162.0 118.5h0M164.8 123.5h0M152.8 126.8h0M144.4 136.6h0M147.6 117.0h0M164.3 123.2h0M158.7 127.4h0M157.6 121.2h0M149.3 119.3h0M141.0 123.2h0M157.3 117.9h0M156.6 120.1h0M174.6 134.6h0M148.2 121.3h0M139.5 111.0h0M156.6 137.5h0M146.7 117.4h0M151.1 122.2h0M153.5 129.9h0M144.6 129.0h0M163.4 138.2h0M154.8 132.2h0M152.7 117.1h0M139.8 119.2h0M166.6 112.3h0M151.5 119.1h0M124.0 127.9h0M158.9 105.8h0M149.1 120.9h0M156.6 124.1h0M147.9 123.7h0M159.3 127.1h0M145.7 122.2h0M180.2 130.6h0M165.3 118.5h0M143.4 125.2h0M147.7 132.0h0M146.5 120.0h0M164.6 130.5h0M158.9 115.1h0M149.8 111.7h0M146.5 115.6h0M156.3 119.0h0M133.1 123.7h0M152.4 132.4h0M146.6 117.8h0M152.8 132.4h0M155.9 122.2h0M138.7 110.7h0M152.0 136.8h0M162.6 130.1h0M161.3 110.2h0M166.8 120.2h0M150.1 119.1h0M147.1 122.2h0M166.3 124.8h0M154.7 116.1h0M145.0 115.3h0M150.4 131.4h0M169.2 123.5h0M151.7 121.2h0M149.2 122.7h0M159.8 122.8h0M153.2 114.5h0M163.2 128.2h0M151.4 119.9h0M144.2 132.4h0M156.6 132.7h0M142.4 140.5h0M143.8 124.2h0M164.1 146.2h0M161.9 148.8h0M134.0 148.5h0M153.7 148.3h0M150.1 149.4h0M158.3 144.9h0M135.3 148.7h0M139.0 143.4h0M169.0 144.4h0M140.3 145.3h0M150.5 138.7h0M159.2 144.9h0M148.9 136.8h0M151.7 144.5h0M181.7 144.2h0M133.3 146.9h0M161.9 142.4h0M160.7 146.2h0M164.7 147.5h0M163.8 143.8h0M165.0 145.6h0M123.4 148.2h0M149.5 148.1h0M146.3 142.4h0M148.3 147.9h0M159.7 149.0h0M147.6 147.6h0M160.2 147.8h0M135.8 141.3h0M146.8 146.4h0M172.0 137.3h0M156.2 143.1h0M153.2 149.3h0M163.1 146.2h0M157.1 148.0h0M142.5 144.7h0M140.7 144.5h0M134.2 144.5h0M142.4 146.3h0M153.5 144.3h0M155.7 143.7h0M139.1 147.9h0M120.5 145.2h0M146.9 144.1h0M149.3 143.8h0M136.9 145.6h0M173.0 147.9h0M154.3 148.8h0M179.5 148.9h0M167.4 147.2h0M142.0 143.9h0M143.7 147.5h0M154.7 149.3h0M132.5 146.6h0M148.9 145.4h0M152.0 145.3h0M134.3 144.8h0M143.6 140.6h0M136.7 142.6h0M133.5 146.3h0M142.4 146.9h0M165.7 145.3h0M131.0 147.5h0M158.5 144.7h0M152.3 149.1h0M162.3 147.3h0M146.2 145.6h0M155.7 146.6h0M165.0 141.6h0M148.5 148.4h0M160.5 145.4h0M146.3 145.0h0M140.9 145.2h0M139.1 147.9h0M154.7 146.4h0M157.8 148.3h0M149.9 145.9h0M171.5 148.6h0M146.0 143.1h0M152.1 149.2h0M163.1 145.3h0M146.5 147.7h0M168.8 145.5h0M167.6 148.7h0M145.6 147.8h0M167.9 141.9h0M145.8 148.9h0M161.1 145.1h0M135.7 148.2h0M151.5 146.3h0M153.5 148.4h0M152.5 144.0h0M149.2 142.9h0M132.6 145.5h0M160.7 147.0h0M133.4 138.7h0M151.7 147.5h0M158.1 144.5h0M145.0 145.0h0M143.7 146.9h0M171.8 144.0h0M155.7 143.0h0M138.8 142.0h0M136.9 147.2h0M155.8 149.1h0M147.7 146.4h0M136.7 149.4h0M150.3 143.5h0M141.5 147.7h0M137.6 148.0h0M132.7 147.9h0M139.8 138.3h0M138.5 147.8h0M164.7 145.0h0M116.7 145.2h0M156.9 149.0h0M183.0 144.3h0M150.2 145.6h0M160.1 146.3h0M137.1 147.0h0M143.1 145.8h0M141.8 148.5h0M155.5 148.2h0M153.4 149.2h0M145.8 142.0h0M159.7 143.8h0M147.6 148.7h0M149.2 142.7h0M156.4 144.8h0M143.2 143.1h0M129.3 145.3h0M167.6 143.5h0M148.5 145.2h0M163.6 147.7h0M158.2 145.5h0M152.7 142.3h0M158.9 145.5h0M176.8 148.5h0M154.4 146.5h0M176.1 145.0h0M155.6 146.8h0M143.4 147.3h0M150.7 144.3h0M151.9 145.1h0M133.2 144.8h0M156.4 146.1h0M136.9 147.3h0M155.3 149.3h0M140.0 147.1h0M147.4 144.0h0M169.0 147.6h0M135.5 142.3h0M163.4 146.7h0M136.5 146.4h0M121.3 143.5h0M135.9 143.8h0M162.3 141.2h0M158.7 148.1h0M144.0 140.4h0M129.2 145.9h0M137.5 149.5h0M155.7 143.0h0M141.2 148.1h0M140.7 146.8h0M141.7 148.6h0M156.3 145.3h0M161.0 149.4h0M156.3 147.7h0M173.0 145.6h0M127.7 147.1h0M159.3 147.1h0M159.3 149.2h0M161.2 141.8h0M157.6 148.7h0M161.0 146.7h0M153.5 148.2h0M152.3 147.8h0M127.0 146.5h0M130.4 140.9h0M132.0 140.0h0M114.9 143.2h0M141.8 143.5h0M181.2 111.2h0M130.5 140.9h0M86.3 120.4h0M177.1 143.4h0M159.3 138.1h0M156.3 116.2h0M101.0 121.4h0M84.0 126.7h0M178.3 147.9h0M148.6 147.7h0M164.2 114.1h0M159.6 138.4h0M111.7 146.6h0M89.5 125.1h0M161.7 128.1h0M97.5 144.6h0M125.9 133.3h0M96.9 113.9h0M124.2 134.6h0M86.3 131.3h0M165.2 116.2h0M112.7 140.9h0M149.3 121.3h0M172.9 140.0h0M110.5 143.4h0M95.4 117.6h0M82.5 142.2h0M179.4 132.0h0M143.1 117.6h0M120.7 124.8h0M177.6 132.9h0M114.0 148.7h0M142.9 140.5h0M170.1 122.0h0M91.9 148.6h0M105.1 135.2h0M109.2 113.7h0M122.6 111.2h0M99.0 131.5h0M130.2 133.3h0M97.5 144.7h0M95.1 147.0h0M124.9 138.4h0M126.6 112.2h0M155.5 121.6h0M182.0 125.7h0M151.8 121.5h0M119.9 131.8h0M129.1 146.9h0M127.8 140.1h0M120.1 141.1h0M148.0 124.1h0M156.2 140.8h0M174.3 147.1h0M166.2 113.9h0M163.8 119.5h0M85.6 135.6h0M94.5 133.0h0M141.9 129.4h0M111.9 136.2h0M114.2 122.0h0M162.8 144.8h0M118.0 115.8h0M144.0 117.1h0M173.0 126.1h0M82.0 139.0h0M138.9 138.8h0M180.8 147.7h0M106.0 120.1h0M127.3 145.2h0M170.2 139.0h0M96.9 124.9h0M82.7 146.8h0M159.5 145.9h0M132.4 112.8h0M131.8 117.2h0M97.5 148.3h0M116.6 149.2h0M181.9 137.2h0M116.1 131.2h0M163.6 123.4h0M92.3 140.2h0M136.0 139.9h0M153.2 113.7h0M115.6 125.5h0M155.2 125.7h0M153.8 124.6h0M94.0 133.8h0M164.2 142.0h0M107.1 123.6h0M130.3 128.3h0M158.5 125.3h0M95.2 127.2h0M147.8 134.1h0M165.6 144.4h0M148.9 135.8h0M131.4 139.1h0M105.4 144.3h0M172.4 117.3h0M167.0 148.7h0M117.4 111.5h0M115.4 117.5h0M174.5 119.5h0M127.1 124.9h0M136.7 121.0h0M95.1 147.1h0M124.2 125.8h0M160.3 124.0h0M140.5 122.1h0M97.9 125.0h0M83.4 138.3h0M95.4 124.5h0M178.3 119.1h0M167.7 128.7h0M123.2 143.9h0M130.7 128.0h0M175.4 124.1h0M158.0 138.9h0M116.3 123.1h0M91.7 129.8h0M136.7 112.8h0M144.5 123.5h0M111.2 145.0h0M166.9 131.6h0M171.6 135.3h0M105.4 121.4h0M108.0 142.8h0M99.8 139.0h0M112.4 116.8h0M131.0 137.8h0M105.2 135.3h0M170.5 129.5h0M91.2 129.0h0M114.5 112.3h0M110.8 122.9h0M173.2 147.5h0M168.2 135.3h0M103.7 117.3h0M163.1 147.7h0M110.1 141.8h0M177.4 134.5h0M167.5 130.7h0M115.0 130.0h0M170.2 132.5h0M118.0 117.3h0M168.7 134.8h0M126.2 145.7h0M115.5 135.3h0M158.6 113.6h0M149.3 127.7h0M134.0 121.8h0M156.9 121.9h0M101.7 116.5h0M141.6 128.4h0M159.8 140.6h0M127.0 148.7h0M92.1 114.5h0M97.2 135.0h0M90.4 149.4h0M101.1 130.0h0M172.8 124.6h0M150.1 116.5h0M116.1 142.1h0M179.4 134.7h0M103.6 120.0h0M149.8 140.1h0M112.4 137.9h0M129.2 142.5h0M180.2 146.0h0M157.3 137.9h0M107.7 113.8h0M122.0 129.7h0M173.4 120.5h0M148.4 127.3h0M87.6 143.4h0M132.6 129.8h0M96.0 122.1h0M152.0 149.4h0M100.7 147.1h0M161.9 137.4h0M178.7 129.2h0M143.1 118.9h0M138.6 143.1h0M81.5 131.0h0M122.4 116.3h0M82.4 126.4h0M142.0 132.0h0M87.6 129.8h0M119.5 147.2h0M123.9 122.6h0M157.0 113.5h0M130.2 133.9h0M91.5 136.9h0M150.0 114.7h0M160.9 113.5h0M115.4 146.1h0M162.9 142.8h0M140.6 114.6h0M127.8 139.5h0M82.2 135.9h0M127.9 127.6h0M119.0 134.9h0M106.4 124.9h0M130.6 117.8h0M167.0 124.3h0M149.8 122.9h0M178.1 121.9h0M168.5 128.3h0M107.0 140.0h0M156.0 112.5h0M129.6 124.5h0M135.3 143.3h0M131.6 118.1h0M114.3 115.0h0M158.4 116.6h0M149.9 117.1h0M107.0 115.3h0M93.9 117.0h0M94.6 114.7h0M142.7 112.8h0M160.6 118.6h0M92.5 111.8h0M154.9 115.4h0M171.0 112.5h0M92.0 112.3h0M122.8 113.0h0M99.4 114.3h0M141.6 118.9h0M160.4 115.4h0M109.6 115.6h0M115.1 116.9h0M148.5 117.0h0M134.7 115.4h0M138.5 113.0h0M115.4 112.1h0M151.3 115.1h0M102.4 113.1h0M113.7 117.8h0M138.9 114.3h0M97.6 118.8h0M155.1 115.4h0M142.8 112.9h0M102.3 117.3h0M155.5 115.0h0M97.8 111.5h0M119.0 117.3h0M121.7 116.3h0M149.6 114.2h0M174.5 112.3h0M156.6 116.0h0M95.9 117.2h0M105.0 118.8h0M95.0 116.4h0M141.1 113.6h0M124.1 112.1h0M124.8 116.2h0M104.2 111.4h0M114.2 114.3h0M171.7 116.0h0M157.2 117.6h0M112.9 112.5h0M155.7 113.5h0M93.1 113.6h0M172.7 116.9h0M134.3 111.1h0M120.5 114.2h0M182.4 65.5h0M176.7 76.0h0M158.3 59.4h0M115.5 68.5h0M115.5 76.9h0M147.8 84.7h0M146.9 108.2h0M118.7 107.3h0M109.8 64.4h0" stroke="#000" stroke-opacity="0.45" stroke-width="1.4" stroke-linecap="round" fill="none"/>
<path d="M107.3 88.4h0M100.1 105.0h0M114.9 88.3h0M91.6 81.3h0M107.6 94.8h0M112.7 85.9h0M101.9 77.9h0M109.7 101.8h0M118.8 79.9h0M108.9 104.2h0M110.8 87.0h0M123.6 83.1h0M103.6 98.6h0M110.7 91.9h0M108.1 91.1h0M103.2 88.2h0M111.3 94.9h0M104.2 72.1h0M102.1 96.1h0M105.4 85.3h0M122.6 95.4h0M107.0 77.5h0M108.0 100.1h0M109.9 96.9h0M97.1 91.2h0M93.1 71.7h0M89.6 81.2h0M107.0 90.8h0M111.6 85.2h0M112.1 79.7h0M104.1 72.3h0M88.7 92.4h0M117.6 84.4h0M94.6 86.0h0M122.5 78.7h0M121.0 82.5h0M104.6 79.2h0M103.1 87.5h0M107.0 89.5h0M103.3 71.8h0M124.1 70.9h0M92.4 78.1h0M104.9 70.6h0M112.9 107.6h0M105.6 91.4h0M108.5 108.1h0M110.2 78.6h0M116.8 78.9h0M125.1 78.2h0M118.6 73.9h0M128.8 97.2h0M93.6 77.8h0M101.4 81.3h0M94.9 88.4h0M103.4 87.2h0M112.0 86.6h0M109.2 87.4h0M111.6 91.4h0M112.2 93.3h0M99.6 91.1h0M105.4 92.8h0M108.2 88.0h0M125.3 93.3h0M94.3 85.6h0M96.9 74.2h0M115.0 93.9h0M93.8 98.7h0M93.4 77.6h0M112.3 97.0h0M114.8 90.8h0M96.6 76.5h0M91.8 70.6h0M95.4 95.0h0M96.9 69.2h0M121.7 103.3h0M118.8 76.6h0M91.5 95.2h0M121.1 104.5h0M108.3 92.5h0M98.8 77.1h0M90.5 102.4h0M94.7 81.3h0M124.3 94.0h0M110.6 69.6h0M109.2 98.1h0M109.7 101.0h0M119.3 80.5h0M123.2 87.7h0M90.6 101.1h0M101.3 102.2h0M106.4 79.4h0M108.4 105.6h0M94.2 87.9h0M116.8 104.2h0M117.9 84.1h0M95.1 69.5h0M99.5 76.2h0M97.0 105.1h0M116.9 89.0h0M111.3 98.7h0M123.6 79.6h0M125.0 71.0h0M92.8 82.0h0M90.2 72.6h0M106.0 98.8h0M119.1 92.0h0M122.0 88.2h0M98.8 73.7h0M127.2 108.8h0M131.0 94.3h0M124.8 106.7h0M131.9 93.1h0M124.2 72.2h0M124.1 76.4h0M130.4 99.8h0M125.1 77.5h0M127.1 103.7h0M128.5 108.4h0M126.1 75.6h0M131.9 104.3h0M128.1 81.8h0M135.4 88.3h0M148.0 87.6h0M145.3 79.6h0M141.4 86.9h0M158.7 71.8h0M126.9 86.8h0M167.3 80.5h0M141.0 89.4h0M140.1 96.4h0M137.1 89.0h0M130.3 87.1h0M144.7 88.9h0M117.4 86.3h0M139.2 85.2h0M159.4 85.3h0M158.3 77.2h0M158.8 71.1h0M144.7 84.0h0M145.1 80.7h0M145.7 83.0h0M145.7 87.2h0M153.8 77.9h0M138.1 91.3h0M156.7 91.6h0M156.9 81.3h0M153.4 85.3h0M156.0 66.7h0M154.3 77.3h0M149.3 78.6h0M159.3 78.4h0M148.0 93.4h0M151.2 83.7h0M141.2 85.8h0M136.9 92.6h0M143.4 89.8h0M146.0 75.7h0M138.9 83.2h0M146.9 78.4h0M141.6 77.4h0M158.1 81.3h0M153.7 78.4h0M153.5 82.1h0M131.2 95.6h0M161.6 73.7h0M146.7 68.0h0M146.7 80.5h0M140.3 86.4h0M139.1 90.1h0M155.8 89.4h0M131.7 95.6h0M159.8 83.9h0M160.2 69.2h0M159.0 90.2h0M132.4 93.7h0M175.1 74.3h0M129.6 94.7h0M123.0 92.1h0M135.8 80.9h0M161.3 64.8h0M183.1 70.9h0M164.8 78.5h0M159.5 76.9h0M134.5 82.5h0M167.6 68.0h0M145.2 84.4h0M140.5 81.9h0M144.3 73.4h0M139.2 93.9h0M150.5 81.2h0M144.5 89.4h0M135.9 102.0h0M134.5 88.2h0M144.5 88.1h0M116.5 107.4h0M147.3 80.9h0M148.3 79.3h0M159.7 68.6h0M132.3 84.9h0M153.2 66.5h0M154.1 72.5h0M137.4 90.2h0M141.3 97.1h0M158.6 81.5h0M145.0 86.2h0M151.6 71.9h0M141.8 71.8h0M124.4 92.6h0M175.1 49.9h0M128.9 86.6h0M145.4 76.5h0M148.7 90.5h0M118.5 107.2h0M149.5 86.8h0M133.3 85.5h0M168.3 82.7h0M141.1 89.1h0M147.3 82.8h0M153.6 75.6h0M150.3 77.4h0M149.5 91.0h0M147.5 81.1h0M130.8 88.3h0M145.0 85.8h0M163.1 73.3h0M150.5 82.4h0M134.4 90.3h0M137.5 87.7h0M133.9 87.1h0M147.6 76.9h0M142.3 89.1h0M174.0 68.5h0M142.2 82.0h0M145.5 58.9h0M141.3 85.6h0M145.1 76.6h0M165.2 71.8h0M140.7 86.5h0M146.7 80.0h0M125.1 103.9h0M135.1 85.2h0M158.8 74.7h0M157.1 78.5h0M133.1 95.2h0M147.8 77.3h0M161.7 87.3h0M141.1 94.9h0M144.7 86.5h0M161.8 75.1h0M119.9 86.2h0M160.4 73.9h0M151.4 87.5h0M130.9 89.7h0M133.1 81.9h0M147.8 76.8h0M153.2 74.5h0M151.5 79.5h0M131.7 82.0h0M151.7 83.7h0M131.0 89.6h0M156.2 73.8h0M140.5 86.3h0M148.4 77.5h0M138.0 87.9h0M146.3 88.2h0M143.2 82.5h0M141.3 90.5h0M141.1 82.7h0M139.0 81.5h0M148.3 78.9h0M136.7 84.5h0M135.3 91.8h0M153.4 76.8h0M144.0 82.2h0M149.3 82.8h0M138.6 85.1h0M150.4 80.7h0M142.5 90.4h0M145.9 82.9h0M136.3 91.4h0M145.7 81.9h0M147.4 82.4h0M134.0 88.7h0M160.6 76.8h0M150.3 87.3h0M144.3 81.9h0M152.4 82.2h0M141.1 98.0h0M155.4 83.3h0M140.7 88.8h0M151.1 76.3h0M144.7 79.8h0M144.7 79.8h0M140.3 81.1h0M142.1 90.3h0M143.5 90.8h0M143.6 86.9h0M138.2 88.9h0M152.6 84.9h0M150.2 85.8h0M139.0 92.1h0M146.6 83.1h0M141.8 89.0h0M133.7 86.5h0M149.8 88.8h0M154.0 79.6h0M147.1 82.7h0M139.0 84.9h0M140.0 86.6h0M136.3 88.2h0M145.2 92.7h0M133.5 96.4h0M175.4 86.9h0M179.7 67.9h0M182.8 71.2h0M161.7 107.1h0M173.9 66.5h0M169.1 68.2h0M171.8 78.6h0M173.0 79.8h0M167.4 72.3h0M184.6 68.3h0M173.8 64.3h0M188.5 64.8h0M179.2 46.2h0M99.2 132.2h0M119.0 117.8h0M109.1 122.0h0M100.9 142.0h0M124.4 121.4h0M111.6 119.2h0M121.6 127.9h0M115.0 121.5h0M146.1 128.5h0M136.0 127.0h0M125.7 134.4h0M117.2 125.0h0M113.4 120.0h0M98.0 123.4h0M127.2 118.5h0M100.4 129.4h0M111.0 121.7h0M106.5 120.6h0M130.5 121.3h0M89.4 123.0h0M125.4 128.8h0M116.1 125.3h0M118.4 112.6h0M97.5 130.3h0M88.9 118.1h0M109.6 121.4h0M125.0 120.1h0M111.9 120.5h0M111.3 121.8h0M134.0 117.5h0M140.5 121.6h0M110.7 129.0h0M101.3 119.3h0M128.4 118.5h0M109.1 121.1h0M102.7 121.4h0M99.0 117.5h0M105.0 124.5h0M116.7 125.5h0M137.4 108.9h0M117.6 116.9h0M109.4 112.7h0M106.1 118.4h0M131.2 116.9h0M110.7 128.4h0M101.4 134.4h0M129.0 130.8h0M110.6 125.7h0M129.5 110.1h0M88.2 129.7h0M122.4 125.8h0M117.0 125.8h0M104.3 134.4h0M100.1 120.6h0M117.7 122.6h0M103.7 125.3h0M99.1 128.1h0M108.0 123.9h0M119.7 132.0h0M102.5 125.2h0M112.7 134.0h0M117.3 128.7h0M125.9 117.1h0M119.9 102.7h0M121.1 125.0h0M96.8 124.1h0M127.6 117.7h0M108.0 120.8h0M116.3 119.0h0M118.4 129.7h0M143.0 124.0h0M109.9 121.6h0M116.9 134.1h0M104.5 124.8h0M113.6 129.8h0M97.4 131.0h0M103.9 114.0h0M100.9 119.7h0M123.8 120.9h0M90.4 123.6h0M103.8 119.5h0M101.0 115.2h0M126.7 131.6h0M95.7 126.6h0M112.7 119.2h0M124.8 117.5h0M134.0 130.9h0M131.3 123.1h0M91.5 133.8h0M118.5 113.5h0M124.0 111.1h0M134.4 123.1h0M108.9 127.9h0M105.8 132.8h0M126.0 120.5h0M115.2 120.3h0M103.0 128.9h0M130.1 111.3h0M116.0 129.9h0M93.6 117.3h0M101.5 114.2h0M105.8 112.9h0M116.0 125.0h0M117.6 125.8h0M89.5 111.9h0M105.7 120.5h0M116.1 123.0h0M134.4 122.4h0M114.4 124.1h0M111.3 137.0h0M108.7 129.0h0M120.7 130.9h0M106.2 134.6h0M120.1 103.5h0M107.9 122.7h0M91.3 122.6h0M105.1 121.6h0M134.5 124.6h0M87.9 122.4h0M114.8 130.5h0M119.2 133.1h0M109.4 126.2h0M129.3 132.7h0M93.5 130.5h0M122.0 122.6h0M108.0 125.2h0M133.5 115.0h0M99.4 114.4h0M135.9 120.9h0M128.0 128.2h0M106.3 128.3h0M98.7 120.8h0M114.5 113.5h0M105.8 126.7h0M108.6 109.5h0M128.7 111.8h0M131.4 127.3h0M109.2 128.6h0M114.6 127.9h0M100.1 123.7h0M86.0 118.2h0M97.2 120.0h0M102.6 125.9h0M123.6 122.9h0M118.5 123.4h0M96.3 119.8h0M109.9 112.0h0M103.2 117.8h0M114.3 137.0h0M121.8 122.0h0M106.2 127.3h0M118.2 133.5h0M123.6 128.1h0M118.5 121.1h0M120.2 125.7h0M98.6 126.2h0M109.1 120.2h0M102.1 125.3h0M97.0 130.8h0M113.5 129.6h0M124.1 131.7h0M120.2 120.6h0M119.7 127.5h0M124.5 122.2h0M110.0 120.0h0M85.7 123.7h0M127.5 125.2h0M121.4 133.0h0M124.5 126.1h0M129.7 132.6h0M85.6 120.0h0M115.8 133.6h0M104.0 138.4h0M97.1 136.6h0M103.5 134.9h0M121.0 126.2h0M122.0 109.2h0M121.2 114.2h0M124.0 115.1h0M117.0 123.8h0M123.3 134.4h0M127.2 125.2h0M106.5 121.5h0M85.0 112.4h0M121.4 122.3h0M105.9 137.1h0M112.0 123.5h0M115.0 127.1h0M106.0 131.8h0M107.3 123.8h0M109.7 124.4h0M124.8 123.2h0M114.2 125.2h0M121.9 128.1h0M117.1 125.1h0M126.6 123.4h0M122.3 123.8h0M123.1 124.8h0M96.3 125.8h0M123.4 122.6h0M94.7 123.2h0M123.2 121.5h0M112.5 119.2h0M99.9 116.5h0M103.4 121.6h0M118.5 119.5h0M103.3 112.9h0M88.5 125.4h0M103.9 124.4h0M117.7 121.1h0M97.7 114.2h0M120.7 119.3h0M105.5 122.6h0M97.0 131.6h0M105.3 129.2h0M119.1 124.2h0M118.4 136.3h0M110.6 127.0h0M110.7 115.0h0M125.8 124.6h0M106.4 131.2h0M120.9 130.3h0M109.3 129.8h0M133.6 125.7h0M114.3 126.4h0M109.0 128.1h0M115.5 113.4h0M89.9 125.1h0M98.8 124.0h0M118.6 121.1h0M103.6 130.3h0M101.6 131.8h0M93.1 122.2h0M103.4 130.4h0M119.9 112.2h0M126.7 126.9h0M115.8 117.9h0M98.7 124.2h0M100.1 124.2h0M86.2 107.3h0M101.1 122.4h0M98.8 130.8h0M105.0 118.0h0M114.1 120.2h0M93.6 133.2h0M118.0 114.4h0M118.4 117.2h0M94.6 121.4h0M118.1 130.8h0M88.0 115.8h0M116.4 124.3h0M130.4 124.3h0M110.0 125.6h0M137.9 125.3h0M126.8 128.5h0M136.1 119.9h0M118.9 119.7h0M140.3 132.0h0M100.6 131.8h0M113.3 121.6h0M91.7 121.4h0M103.6 126.2h0M118.8 115.8h0M95.9 118.8h0M124.4 119.0h0M114.5 123.4h0M120.5 123.8h0M115.5 125.9h0M112.5 130.0h0M123.8 123.5h0M100.8 126.4h0M114.7 112.0h0M107.6 127.3h0M91.0 112.5h0M107.5 137.1h0M89.9 120.8h0M127.9 120.9h0M115.9 121.4h0M97.5 123.9h0M105.5 126.3h0M104.6 118.5h0M120.7 131.7h0M116.9 111.4h0M108.2 134.8h0M111.9 118.6h0M95.8 116.5h0M98.1 127.8h0M93.9 117.3h0M105.1 130.7h0M98.3 117.4h0M94.0 137.3h0M103.0 117.0h0M115.7 130.8h0M110.4 113.7h0M93.1 122.3h0M119.5 125.3h0M111.5 114.0h0M128.7 117.4h0M91.9 118.4h0M119.8 114.5h0M107.0 123.1h0M94.5 125.6h0M108.3 118.0h0M120.0 118.5h0M124.1 119.8h0M95.0 116.5h0M101.4 129.9h0M123.1 123.5h0M106.3 127.1h0M110.6 131.7h0M117.7 129.2h0M127.2 120.8h0M108.2 114.8h0M136.0 123.1h0M107.1 117.4h0M102.2 124.3h0M117.2 118.4h0M109.5 130.0h0M112.1 117.3h0M124.6 129.8h0M106.6 125.9h0M125.7 121.9h0M112.3 121.4h0M120.8 116.2h0M138.9 121.0h0M139.2 125.0h0M100.1 123.0h0M116.5 119.4h0M104.9 124.6h0M121.1 125.8h0M113.4 123.9h0M107.3 117.8h0M107.3 125.6h0M115.2 123.6h0M112.5 117.9h0M103.0 131.7h0M105.8 117.9h0M109.6 119.5h0M133.3 124.4h0M156.0 115.3h0M155.2 121.0h0M157.1 116.0h0M144.5 128.4h0M149.1 119.4h0M151.6 112.1h0M131.1 137.4h0M165.5 127.7h0M146.0 133.5h0M169.3 118.0h0M174.1 125.8h0M142.4 123.6h0M151.2 122.9h0M157.5 119.1h0M159.7 115.4h0M169.1 119.0h0M153.7 130.8h0M148.6 128.7h0M147.1 116.8h0M145.7 129.4h0M151.1 123.7h0M137.4 112.6h0M159.9 121.2h0M146.7 125.3h0M139.7 124.2h0M147.4 113.4h0M146.0 120.1h0M160.6 122.8h0M145.1 123.0h0M149.6 124.1h0M155.3 129.2h0M137.0 125.1h0M150.4 125.0h0M158.7 122.9h0M136.1 119.6h0M143.8 127.6h0M152.4 118.3h0M161.3 126.5h0M127.3 127.9h0M160.3 125.3h0M148.1 111.2h0M152.9 127.0h0M153.3 120.5h0M159.3 123.9h0M163.9 110.3h0M153.0 125.7h0M148.8 130.5h0M134.5 117.7h0M153.9 142.3h0M145.9 129.3h0M150.8 124.1h0M160.1 121.9h0M164.3 127.9h0M157.1 116.4h0M157.5 107.0h0M141.2 123.8h0M151.6 126.9h0M144.2 123.8h0M163.5 116.5h0M154.8 130.8h0M146.7 132.4h0M147.9 117.9h0M156.2 125.9h0M151.7 124.4h0M160.6 117.0h0M158.6 127.5h0M151.2 119.8h0M138.8 131.4h0M158.9 122.9h0M138.0 123.9h0M141.5 126.4h0M167.5 125.8h0M155.5 108.7h0M142.7 113.5h0M148.8 115.4h0M166.3 123.3h0M149.7 140.4h0M160.9 119.2h0M140.1 132.0h0M147.9 126.1h0M157.4 135.2h0M148.7 120.8h0M167.0 123.0h0M167.5 119.2h0M157.1 127.9h0M158.6 118.9h0M150.2 122.2h0M152.9 117.1h0M154.8 118.1h0M174.9 129.5h0M148.6 135.2h0M156.4 116.6h0M141.7 125.7h0M160.4 125.2h0M178.3 128.1h0M151.2 120.4h0M166.1 118.9h0M151.5 124.2h0M152.3 129.6h0M157.3 131.9h0M162.9 117.4h0M149.9 111.2h0M148.7 124.7h0M142.4 135.2h0M141.3 123.0h0M135.4 125.0h0M156.0 122.5h0M169.6 125.6h0M143.0 126.8h0M151.6 120.3h0M133.3 120.3h0M140.5 123.4h0M148.2 121.0h0M156.2 111.7h0M145.5 120.8h0M163.2 137.1h0M143.1 123.6h0M148.7 124.7h0M154.7 122.0h0M127.1 132.5h0M146.9 126.2h0M165.9 132.9h0M146.2 122.2h0M154.1 121.2h0M149.3 125.7h0M136.3 124.4h0M138.9 120.3h0M150.6 114.8h0M148.7 117.8h0M156.5 123.0h0M163.8 131.9h0M148.0 123.6h0M147.3 137.3h0M149.9 120.3h0M161.9 113.7h0M162.8 126.9h0M150.0 134.8h0M164.6 127.9h0M162.8 109.4h0M163.9 124.8h0M144.3 124.9h0M147.2 134.2h0M162.2 119.9h0M144.8 137.5h0M144.4 116.7h0M136.6 118.3h0M164.9 121.9h0M147.7 118.6h0M150.5 113.9h0M156.2 118.2h0M131.1 120.0h0M151.0 122.9h0M151.7 122.2h0M151.8 121.0h0M144.5 129.6h0M160.4 127.3h0M162.8 112.3h0M161.1 115.5h0M154.9 128.8h0M152.7 139.0h0M135.1 133.6h0M155.1 123.0h0M163.6 117.3h0M156.6 134.8h0M157.0 122.8h0M142.2 115.7h0M152.2 113.8h0M151.8 115.4h0M142.7 115.5h0M135.7 119.1h0M142.8 125.2h0M145.0 126.5h0M142.3 113.9h0M152.5 101.3h0M152.5 135.5h0M152.3 119.6h0M149.8 130.8h0M146.0 109.9h0M143.1 128.3h0M138.1 123.6h0M161.3 117.1h0M156.5 120.8h0M141.9 115.6h0M147.7 129.6h0M127.6 118.4h0M152.2 120.5h0M158.0 107.0h0M143.6 122.8h0M152.6 121.8h0M155.4 123.3h0M158.8 118.1h0M148.0 129.3h0M156.1 120.7h0M150.8 121.9h0M146.9 104.5h0M143.2 122.0h0M153.8 117.5h0M157.5 127.6h0M159.1 126.3h0M157.0 120.6h0M148.0 111.3h0M154.4 128.9h0M173.7 125.5h0M162.7 133.9h0M161.5 123.7h0M133.6 128.6h0M162.0 126.9h0M147.3 111.5h0M144.2 128.6h0M156.9 125.5h0M160.6 125.9h0M157.0 127.4h0M153.9 123.0h0M139.0 123.9h0M156.3 129.8h0M155.1 124.6h0M159.0 118.0h0M162.9 117.7h0M152.0 123.7h0M158.9 119.7h0M156.2 117.6h0M159.5 113.6h0M155.2 123.0h0M152.3 121.4h0M128.3 109.7h0M170.6 131.5h0M140.8 114.9h0M152.2 123.6h0M139.5 127.2h0M142.4 130.0h0M167.1 119.1h0M167.4 136.8h0M152.4 126.4h0M151.1 110.6h0M149.0 122.4h0M150.0 121.6h0M160.4 112.2h0M146.7 128.3h0M151.5 125.9h0M150.9 116.3h0M164.8 137.4h0M145.5 131.2h0M141.3 131.1h0M160.7 129.6h0M135.4 121.7h0M143.5 122.8h0M157.0 113.7h0M168.5 125.9h0M150.6 131.8h0M151.2 114.7h0M139.2 121.0h0M142.7 126.9h0M147.2 131.1h0M154.3 120.5h0M162.0 114.9h0M139.4 134.0h0M170.9 121.9h0M165.0 121.0h0M155.9 115.4h0M165.3 134.7h0M152.9 118.5h0M140.9 130.9h0M151.9 122.6h0M162.4 115.8h0M162.1 123.6h0M154.7 130.3h0M167.3 108.3h0M162.0 122.1h0M147.5 121.1h0M160.8 129.2h0M165.8 114.6h0M160.4 116.4h0M158.7 124.0h0M147.5 111.1h0M156.9 112.7h0M156.9 131.4h0M143.4 130.7h0M154.6 124.4h0M166.3 111.6h0M153.0 131.4h0M161.9 123.0h0M121.5 134.6h0M144.7 111.6h0M143.5 116.7h0M164.2 119.4h0M146.4 113.3h0M151.3 108.7h0M148.4 108.0h0M150.9 126.7h0M154.5 121.5h0M154.8 126.3h0M160.9 123.7h0M152.6 111.8h0M138.5 121.8h0M159.5 133.1h0M165.8 114.5h0M154.0 131.5h0M147.0 149.3h0M151.5 134.9h0M141.4 127.1h0M152.3 129.5h0M146.8 117.3h0M142.9 120.3h0M135.4 117.8h0M132.8 117.1h0M158.8 121.1h0M151.2 119.9h0M168.5 102.1h0M139.5 117.8h0M148.5 130.2h0M129.5 124.6h0M156.1 114.8h0M150.0 136.8h0M145.3 119.0h0M146.4 122.5h0M161.1 130.8h0M162.0 109.9h0M158.1 116.1h0M164.5 113.8h0M153.4 108.3h0M151.1 121.9h0M161.4 122.7h0M146.6 130.4h0M145.5 128.3h0M150.3 140.0h0M162.5 125.4h0M143.9 125.2h0M161.7 115.5h0M138.1 130.9h0M148.4 120.9h0M168.3 124.0h0M159.0 140.3h0M147.4 114.8h0M149.1 119.3h0M158.6 119.1h0M148.2 124.5h0M153.3 112.1h0M148.0 137.5h0M155.2 121.8h0M157.6 127.3h0M135.0 119.5h0M147.2 124.4h0M150.7 125.7h0M159.4 130.2h0M164.4 119.7h0M156.8 118.9h0M165.9 115.6h0M126.8 125.0h0M161.6 114.8h0M161.7 119.3h0M157.0 120.0h0M152.9 118.4h0M149.7 114.1h0M151.3 121.5h0M155.8 122.8h0M160.7 129.5h0M146.1 119.8h0M163.7 119.7h0M144.0 124.6h0M142.8 129.4h0M130.6 128.6h0M150.0 111.3h0M158.4 120.6h0M171.8 120.4h0M135.2 124.7h0M136.8 127.9h0M153.7 119.3h0M144.8 113.8h0M137.8 110.7h0M160.9 125.0h0M138.1 123.4h0M145.9 114.8h0M155.1 117.5h0M158.4 113.3h0M149.7 111.9h0M159.1 117.2h0M162.6 116.2h0M139.6 120.6h0M169.5 124.6h0M154.2 121.7h0M149.7 120.3h0M159.6 123.3h0M146.1 123.3h0M143.7 123.2h0M152.5 123.9h0M163.0 132.9h0M153.4 116.7h0M156.5 121.0h0M154.5 120.7h0M143.2 110.2h0M158.6 122.2h0M134.6 118.7h0M148.9 118.8h0M138.8 106.8h0M143.9 113.9h0M156.1 121.6h0M154.8 114.9h0M145.3 130.0h0M135.5 117.2h0M155.5 114.3h0M156.6 120.7h0M155.5 124.9h0M160.0 114.6h0M159.0 126.1h0M159.3 120.0h0M153.3 123.3h0M158.8 126.0h0M151.1 126.6h0M153.5 135.1h0M166.9 112.9h0M163.5 125.2h0M149.5 123.6h0M153.8 128.5h0M163.2 119.0h0M149.6 126.4h0M150.5 116.4h0M147.1 127.4h0M134.7 117.0h0M136.1 122.8h0M146.9 110.0h0M163.9 132.5h0M150.1 110.1h0M128.3 130.2h0M155.2 136.7h0M145.3 132.4h0M144.2 126.4h0M148.7 118.0h0M163.3 118.7h0M152.8 122.3h0M147.7 112.6h0M164.8 117.3h0M153.3 107.2h0M148.0 134.0h0M131.3 125.9h0M137.1 124.0h0M157.8 118.5h0M150.7 113.9h0M157.6 129.5h0M155.7 125.5h0M145.7 111.9h0M167.9 135.7h0M131.0 114.2h0M161.4 117.1h0M150.8 111.5h0M155.0 120.3h0M158.5 118.6h0M162.1 116.1h0M166.5 126.8h0M159.4 130.1h0M153.7 128.0h0M166.9 123.6h0M176.9 112.0h0M135.2 123.4h0M154.4 121.2h0M140.5 124.6h0M140.3 119.9h0M152.7 112.2h0M139.6 128.9h0M162.0 123.5h0M152.1 126.0h0M146.8 124.3h0M118.5 120.7h0M148.2 110.7h0M139.4 126.6h0M147.3 109.0h0M147.5 116.8h0M165.0 110.0h0M153.8 110.5h0M159.3 118.3h0M152.9 123.7h0M150.6 116.0h0M139.4 125.3h0M163.5 118.7h0M163.8 112.7h0M157.0 129.4h0M154.0 124.8h0M142.1 115.3h0M142.9 129.0h0M154.1 115.5h0M166.5 117.7h0M166.9 121.5h0M151.4 133.5h0M149.0 120.1h0M155.8 120.5h0M152.8 113.7h0M141.7 122.4h0M140.8 116.9h0M149.9 118.5h0M172.1 128.0h0M155.2 118.1h0M150.6 122.8h0M117.3 112.4h0M135.5 126.6h0M175.1 118.1h0M150.6 108.7h0M149.1 121.0h0M138.5 119.6h0M168.0 128.5h0M145.3 118.9h0M154.8 117.0h0M148.8 118.5h0M150.3 121.3h0M135.4 116.5h0M125.5 108.7h0M135.0 124.9h0M135.8 115.1h0M158.1 128.6h0M145.0 123.0h0M159.5 127.7h0M151.7 109.6h0M151.7 125.5h0M161.6 130.2h0M149.1 147.8h0M129.8 146.3h0M130.3 145.5h0M145.7 145.7h0M146.7 145.9h0M137.8 143.2h0M155.9 144.8h0M151.4 149.3h0M142.7 146.8h0M152.1 148.4h0M154.1 146.5h0M156.5 142.4h0M168.4 144.6h0M140.5 146.9h0M155.0 145.4h0M149.7 145.6h0M122.8 148.6h0M133.8 147.2h0M154.8 146.6h0M136.1 142.5h0M157.4 148.7h0M138.8 138.4h0M138.9 147.3h0M162.3 144.1h0M151.5 147.4h0M173.7 144.5h0M152.9 141.8h0M137.6 144.5h0M173.9 149.2h0M148.6 147.3h0M161.9 143.3h0M166.4 141.7h0M156.1 141.3h0M136.4 148.0h0M144.1 149.4h0M148.8 148.5h0M147.2 140.7h0M148.9 144.4h0M161.6 144.6h0M123.1 144.0h0M148.3 146.3h0M161.7 142.5h0M149.0 146.5h0M145.0 148.8h0M153.3 139.6h0M154.1 146.2h0M147.5 149.1h0M171.7 139.4h0M143.9 148.0h0M155.8 147.4h0M160.2 143.7h0M166.4 146.1h0M140.0 145.4h0M162.7 146.5h0M134.7 144.6h0M162.2 145.8h0M129.0 143.6h0M160.2 149.2h0M144.6 143.4h0M143.3 148.0h0M165.4 143.3h0M182.3 148.3h0M155.7 146.3h0M155.4 142.1h0M165.2 145.6h0M147.5 145.8h0M152.5 145.3h0M152.2 145.3h0M147.9 146.5h0M128.3 147.9h0M147.8 143.1h0M168.9 147.3h0M154.4 145.4h0M157.8 145.7h0M178.9 146.6h0M187.5 145.6h0M151.9 147.2h0M149.3 142.1h0M142.9 149.1h0M144.4 143.2h0M124.2 149.0h0M140.3 147.1h0M153.4 145.9h0M172.7 143.2h0M159.9 149.0h0M146.9 142.3h0M125.3 147.1h0M142.1 144.3h0M157.1 145.0h0M155.5 148.6h0M151.6 143.9h0M167.9 147.1h0M154.6 146.9h0M152.8 148.7h0M153.4 145.3h0M158.3 141.7h0M143.6 148.5h0M145.9 147.1h0M138.1 145.4h0M183.2 142.1h0M160.5 142.2h0M132.8 148.5h0M142.2 144.7h0M166.2 147.2h0M147.7 142.8h0M167.3 149.4h0M144.0 147.3h0M142.5 135.9h0M164.7 147.6h0M166.1 145.2h0M125.7 145.2h0M135.6 145.3h0M153.1 143.5h0M145.3 146.7h0M143.3 144.8h0M167.7 148.1h0M129.2 143.3h0M150.9 144.7h0M150.7 147.1h0M161.1 145.6h0M138.7 139.4h0M169.6 147.1h0M134.6 144.8h0M149.7 143.6h0M141.4 142.3h0M176.4 139.9h0M169.8 148.8h0M128.5 148.7h0M157.9 141.8h0M147.3 145.4h0M151.1 146.3h0M137.3 140.1h0M172.3 146.3h0M127.4 147.2h0M165.9 147.2h0M161.4 146.6h0M177.0 145.8h0M151.3 145.5h0M146.3 148.3h0M169.4 144.1h0M173.8 147.5h0M166.0 146.6h0M148.6 148.4h0M140.3 144.8h0M149.1 137.0h0M124.9 143.2h0M155.2 145.8h0M150.1 149.4h0M159.5 145.1h0M188.1 146.7h0M153.0 147.1h0M158.1 143.9h0M139.5 142.5h0M158.4 145.1h0M156.6 144.0h0M151.4 143.8h0M161.5 146.9h0M154.1 148.1h0M165.5 148.7h0M133.4 146.1h0M146.0 146.5h0M145.5 145.1h0M182.1 146.2h0M164.5 148.6h0M145.3 145.4h0M151.6 145.6h0M100.4 127.9h0M134.1 121.4h0M141.6 132.5h0M80.8 116.0h0M119.8 143.6h0M100.9 114.5h0M131.4 144.5h0M179.2 129.2h0M174.7 131.5h0M125.9 117.5h0M109.0 112.0h0M106.0 135.2h0M117.6 146.6h0M138.2 124.5h0M131.0 124.2h0M172.8 114.7h0M169.5 112.1h0M89.5 139.6h0M167.4 116.3h0M91.9 148.4h0M111.8 133.5h0M120.0 133.2h0M169.4 146.1h0M173.5 123.3h0M82.3 117.3h0M170.7 130.8h0M148.6 118.9h0M163.2 145.5h0M100.2 132.6h0M134.6 126.5h0M115.2 133.1h0M101.7 120.1h0M151.8 127.3h0M147.2 136.0h0M109.4 137.0h0M175.6 130.1h0M163.6 115.0h0M102.6 139.0h0M95.9 139.0h0M138.4 142.6h0M167.1 122.5h0M92.8 133.3h0M179.4 117.8h0M95.9 130.4h0M165.6 141.4h0M178.8 145.7h0M132.3 136.9h0M180.0 144.9h0M89.1 117.9h0M122.5 134.0h0M119.7 134.4h0M124.2 126.5h0M85.2 137.4h0M143.2 144.0h0M82.0 117.2h0M90.4 113.2h0M137.4 138.0h0M88.9 127.7h0M117.5 142.2h0M86.5 122.1h0M175.9 146.4h0M181.4 129.9h0M157.8 131.9h0M125.0 119.6h0M103.8 123.0h0M98.5 125.1h0M110.2 125.8h0M87.3 136.5h0M139.6 143.0h0M122.3 130.7h0M99.7 127.7h0M118.5 119.5h0M164.1 142.0h0M157.2 144.8h0M151.7 139.5h0M112.7 143.1h0M106.5 114.1h0M180.1 126.5h0M165.5 123.8h0M120.6 134.8h0M117.6 149.2h0M121.7 141.5h0M148.8 137.4h0M166.5 140.9h0M108.2 124.4h0M154.7 135.8h0M140.1 142.0h0M126.0 119.4h0M171.9 112.9h0M151.2 126.4h0M177.7 124.1h0M130.4 112.5h0M181.3 140.5h0M148.7 126.0h0M85.7 145.7h0M92.9 146.3h0M168.7 142.5h0M174.7 139.4h0M110.8 122.7h0M111.8 111.3h0M149.7 121.4h0M164.1 132.3h0M121.7 131.2h0M140.4 143.9h0M160.6 131.8h0M103.5 136.7h0M125.6 141.0h0M129.7 144.3h0M157.4 130.4h0M145.2 126.3h0M165.5 127.1h0M151.8 148.0h0M104.1 148.0h0M179.8 138.8h0M147.3 137.4h0M112.9 127.8h0M111.7 114.1h0M117.9 119.2h0M144.9 136.0h0M99.1 111.1h0M172.4 112.7h0M96.0 134.1h0M130.5 116.6h0M164.7 123.1h0M119.6 146.5h0M119.0 135.8h0M166.6 111.2h0M156.4 138.2h0M154.3 111.7h0M89.2 135.9h0M141.2 111.5h0M101.5 114.4h0M170.0 135.4h0M126.2 111.4h0M122.1 122.3h0M177.5 116.5h0M117.5 121.8h0M105.2 136.2h0M179.7 133.8h0M139.2 136.7h0M155.5 149.3h0M88.1 114.8h0M81.2 111.8h0M81.9 140.4h0M128.3 148.0h0M84.9 124.0h0M131.1 134.3h0M90.4 141.9h0M163.5 113.1h0M117.4 126.5h0M141.0 127.5h0M177.9 124.6h0M181.7 126.2h0M144.2 122.3h0M125.8 136.2h0M114.6 131.5h0M91.3 128.7h0M112.0 141.2h0M162.3 111.8h0M139.8 121.4h0M129.3 124.1h0M101.6 114.6h0M93.3 145.1h0M107.4 121.7h0M145.7 149.3h0M81.2 112.0h0M180.9 140.6h0M163.0 148.9h0M105.8 113.9h0M118.1 121.7h0M126.3 113.5h0M151.6 126.3h0M97.7 125.7h0M100.4 142.1h0M117.5 143.1h0M119.3 132.0h0M98.4 148.2h0M138.5 118.8h0M133.8 132.5h0M114.6 120.7h0M84.2 120.6h0M138.0 140.2h0M172.7 115.9h0M148.0 133.1h0M95.3 142.4h0M83.4 137.6h0M149.2 130.3h0M112.2 111.4h0M122.1 118.8h0M102.4 147.7h0M86.9 132.3h0M181.4 115.0h0M135.3 112.5h0M139.4 119.6h0M99.2 125.1h0M85.5 118.2h0M140.9 119.1h0M121.1 149.2h0M175.0 114.5h0M138.1 146.5h0M106.9 119.4h0M173.8 133.8h0M120.8 146.1h0M113.8 146.4h0M158.4 141.4h0M116.0 136.9h0M127.2 129.5h0M110.3 139.8h0M177.0 149.4h0M160.8 137.6h0M158.5 123.5h0M90.1 121.1h0M166.4 148.7h0M149.3 121.7h0M143.2 124.7h0M120.3 124.6h0M140.2 128.1h0M151.1 133.5h0M154.0 138.6h0M157.0 112.4h0M112.2 117.4h0M125.9 112.7h0M103.5 115.6h0M108.5 117.9h0M124.9 114.0h0M166.3 111.0h0M143.4 118.4h0M157.1 117.8h0M102.4 115.3h0M133.5 114.4h0M143.6 114.6h0M161.7 115.4h0M151.0 118.7h0M150.2 112.1h0M161.4 117.3h0M119.3 117.6h0M139.6 115.2h0M124.4 113.6h0M148.0 114.6h0M110.9 111.3h0M115.5 117.1h0M113.1 115.0h0M96.6 114.9h0M161.7 117.6h0M165.2 117.1h0M136.1 111.6h0M164.5 115.5h0M112.8 116.7h0M127.1 114.8h0M149.8 114.3h0M118.3 117.8h0M93.3 117.8h0M112.6 118.0h0M132.3 116.0h0M158.9 114.5h0M135.1 112.6h0M106.6 116.2h0M151.9 111.0h0M136.2 112.0h0M149.7 117.8h0M163.7 111.2h0M90.8 116.2h0M142.7 114.6h0M94.0 116.8h0M101.0 118.6h0M92.5 117.0h0M161.6 117.6h0M139.5 116.2h0M124.6 117.5h0M159.5 118.6h0M162.2 114.9h0M134.4 62.9h0M162.8 89.9h0M132.8 92.8h0M186.9 100.2h0M92.0 73.1h0M174.4 106.8h0M118.4 97.6h0M90.0 86.8h0" stroke="#000" stroke-opacity="0.45" stroke-width="1.4" stroke-linecap="round" fill="none"/>
<path d="M130.5 27 V150" stroke="#5a5a5a" stroke-width="1"/>
<path d="M80 109.3 H203.5" stroke="#5a5a5a" stroke-width="1"/>
<path d="M96.7 65.1 L112.2 65.1 L125.3 71.1 L126.5 96.1 L119.3 105.7 L97.9 105.7 L88.3 96.1 L88.3 73.5 Z" stroke="#666" stroke-width="1" fill="none"/>
<path d="M136.0 64.7 L150.3 63.2 L163.5 64.0 L166.3 84.2 L164.6 97.3 L158.7 104.5 L136.0 104.5 L130.0 99.7 L128.9 74.7 L131.3 67.5 Z" stroke="#666" stroke-width="1" fill="none"/>
<rect x="80" y="27" width="123.5" height="123" fill="none" stroke="#222" stroke-width="1.5"/>
<path d="M70.5 148.5 L70.5 29.9" stroke="#111" stroke-width="2.2" fill="none"/><path d="M66.3 35.4 L70.5 29.7 L74.7 35.4" stroke="#111" stroke-width="2.4" fill="none" stroke-linejoin="miter"/>
<path d="M83.8 158.2 L200.2 158.2" stroke="#111" stroke-width="2.2" fill="none"/><path d="M194.7 154.2 L200.39999999999998 158.2 L194.7 162.2" stroke="#111" stroke-width="2.4" fill="none"/>
<text transform="translate(66.2 143.0) rotate(-90)" font-size="12.5" stroke="#111" stroke-width="0.3">CD19</text>
<text x="84.6" y="172.1" font-size="12" stroke="#111" stroke-width="0.3">CD5</text>
<path d="M269.5 149.7 L275.6 138.7 L280.4 126.8 L284.0 105.5 L285.2 86.5 L286.4 62.7 L287.5 43.7 L288.3 41.3 L289.5 50.7 L291.1 67.4 L293.5 86.5 L295.9 105.5 L298.3 122.2 L301.9 134.0 L306.6 143.5 L311.4 147.1 L315.5 149.7 Z" fill="#858585" stroke="none"/>
<path d="M247.5 149.7 L251.8 149.5 L261.3 145.9 L268.5 141.1 L275.6 131.6 L280.4 119.8 L284.0 103.1 L286.4 86.5 L288.8 67.4 L291.1 50.7 L293.5 41.3 L295.4 37.0 L297.1 42.5 L299.5 47.3 L301.9 53.1 L304.3 59.1 L305.5 67.4 L307.8 86.5 L310.2 103.1 L312.6 122.2 L315.0 136.4 L317.4 144.7 L319.8 148.7 L323.3 149.5 L327.5 149.7" fill="none" stroke="#000" stroke-width="2" stroke-linejoin="round"/>
<path d="M237.5 27 H360.5" fill="none" stroke="#888" stroke-width="1.3"/>
<path d="M360.5 27 V149.7" fill="none" stroke="#444" stroke-width="1.3"/>
<path d="M237.5 27 V149.7 H360.5" fill="none" stroke="#1a1a1a" stroke-width="1.5"/>
<path d="M234.5 149.7 H237.5" stroke="#444" stroke-width="1"/>
<path d="M234.0 33.7 H237.5" stroke="#333" stroke-width="0.9"/>
<text x="232.5" y="35.9" font-size="6.2" font-weight="bold" style="fill:#6a6a6a" text-anchor="end">100</text>
<path d="M234.0 57.1 H237.5" stroke="#333" stroke-width="0.9"/>
<text x="232.5" y="59.3" font-size="6.2" font-weight="bold" style="fill:#6a6a6a" text-anchor="end">80</text>
<path d="M234.0 80.5 H237.5" stroke="#333" stroke-width="0.9"/>
<text x="232.5" y="82.7" font-size="6.2" font-weight="bold" style="fill:#6a6a6a" text-anchor="end">60</text>
<path d="M234.0 103.8 H237.5" stroke="#333" stroke-width="0.9"/>
<text x="232.5" y="106.0" font-size="6.2" font-weight="bold" style="fill:#6a6a6a" text-anchor="end">40</text>
<path d="M234.0 127.2 H237.5" stroke="#333" stroke-width="0.9"/>
<text x="232.5" y="129.4" font-size="6.2" font-weight="bold" style="fill:#6a6a6a" text-anchor="end">20</text>
<path d="M235.9 144.8H237.5M235.9 138.9H237.5M235.9 133.1H237.5M235.9 121.4H237.5M235.9 115.5H237.5M235.9 109.7H237.5M235.9 98.0H237.5M235.9 92.1H237.5M235.9 86.3H237.5M235.9 74.6H237.5M235.9 68.8H237.5M235.9 62.9H237.5M235.9 51.2H237.5M235.9 45.4H237.5M235.9 39.5H237.5" stroke="#333" stroke-width="0.9"/>
<text transform="translate(213.9 89) rotate(-90)" font-size="9" font-weight="bold" text-anchor="middle">% of Max</text>
<path d="M411.0 149.7 L414.1 148.3 L418.8 144.7 L423.6 140.0 L428.4 129.2 L432.0 122.2 L434.3 115.0 L436.7 103.1 L438.6 88.8 L440.3 72.2 L441.5 57.9 L443.2 50.3 L444.6 55.5 L446.3 65.0 L447.5 79.4 L448.6 91.2 L450.3 105.5 L452.2 122.2 L454.6 134.0 L457.5 141.1 L460.6 145.9 L464.1 148.3 L467.0 149.7 Z" fill="#858585" stroke="none"/>
<path d="M400.0 149.7 L402.2 148.3 L405.7 144.7 L411.7 138.8 L416.5 131.6 L420.0 124.6 L423.6 117.4 L426.0 107.9 L427.9 95.9 L429.1 84.1 L430.3 78.2 L431.5 84.1 L432.7 81.7 L433.9 69.8 L435.1 53.1 L436.7 44.9 L437.9 48.4 L439.1 60.3 L440.3 72.2 L442.0 84.1 L443.9 98.3 L446.3 103.1 L448.6 115.0 L451.0 126.9 L453.4 130.4 L455.8 129.2 L457.5 132.8 L459.9 138.8 L463.0 144.7 L466.5 147.8 L468.9 148.7 L471.0 149.7" fill="none" stroke="#000" stroke-width="2" stroke-linejoin="round"/>
<path d="M395 27 H518.0" fill="none" stroke="#888" stroke-width="1.3"/>
<path d="M518.0 27 V149.7" fill="none" stroke="#444" stroke-width="1.3"/>
<path d="M395 27 V149.7 H518.0" fill="none" stroke="#1a1a1a" stroke-width="1.5"/>
<path d="M392 149.7 H395" stroke="#444" stroke-width="1"/>
<path d="M391.5 33.7 H395" stroke="#333" stroke-width="0.9"/>
<text x="390.0" y="35.9" font-size="6.2" font-weight="bold" style="fill:#6a6a6a" text-anchor="end">100</text>
<path d="M391.5 57.1 H395" stroke="#333" stroke-width="0.9"/>
<text x="390.0" y="59.3" font-size="6.2" font-weight="bold" style="fill:#6a6a6a" text-anchor="end">80</text>
<path d="M391.5 80.5 H395" stroke="#333" stroke-width="0.9"/>
<text x="390.0" y="82.7" font-size="6.2" font-weight="bold" style="fill:#6a6a6a" text-anchor="end">60</text>
<path d="M391.5 103.8 H395" stroke="#333" stroke-width="0.9"/>
<text x="390.0" y="106.0" font-size="6.2" font-weight="bold" style="fill:#6a6a6a" text-anchor="end">40</text>
<path d="M391.5 127.2 H395" stroke="#333" stroke-width="0.9"/>
<text x="390.0" y="129.4" font-size="6.2" font-weight="bold" style="fill:#6a6a6a" text-anchor="end">20</text>
<path d="M393.4 144.8H395M393.4 138.9H395M393.4 133.1H395M393.4 121.4H395M393.4 115.5H395M393.4 109.7H395M393.4 98.0H395M393.4 92.1H395M393.4 86.3H395M393.4 74.6H395M393.4 68.8H395M393.4 62.9H395M393.4 51.2H395M393.4 45.4H395M393.4 39.5H395" stroke="#333" stroke-width="0.9"/>
<text transform="translate(371.4 89) rotate(-90)" font-size="9" font-weight="bold" text-anchor="middle">% of Max</text>
<path d="M241.6 158.8 L515 158.8" stroke="#111" stroke-width="2.2" fill="none"/><path d="M509.5 154.8 L515.2 158.8 L509.5 162.8" stroke="#111" stroke-width="2.4" fill="none"/>
<text x="241.5" y="171.8" font-size="11.2" font-weight="bold">LEF-1</text>
<text x="29.2" y="200.6" font-size="11.4" font-weight="bold" text-anchor="middle">MBL</text>
<text x="29.4" y="214.3" font-size="11.4" font-weight="bold" text-anchor="middle">Patient #2</text>
<path d="M120.3 238.0h0M136.4 229.2h0M144.0 238.7h0M131.9 232.4h0M137.1 238.8h0M132.7 243.1h0M119.4 235.7h0M132.3 250.2h0M143.8 229.6h0M112.9 245.5h0M102.0 250.7h0M114.9 251.5h0M113.9 241.3h0M134.9 234.3h0M127.3 232.5h0M145.2 255.4h0M123.0 235.0h0M114.6 257.4h0M144.3 238.2h0M141.3 239.0h0M119.1 238.5h0M131.2 232.2h0M122.4 240.5h0M130.4 239.4h0M134.0 255.7h0M113.9 264.5h0M113.1 241.5h0M147.2 246.6h0M121.7 241.5h0M140.7 256.2h0M145.2 233.6h0M123.9 230.1h0M135.6 230.5h0M142.3 249.6h0M127.8 242.3h0M110.9 246.4h0M132.2 247.0h0M131.7 233.6h0M145.3 234.9h0M145.4 242.6h0M120.9 227.4h0M122.6 250.5h0M151.2 247.5h0M136.2 246.9h0M129.8 262.1h0M129.7 235.5h0M146.3 242.6h0M108.6 242.8h0M125.0 255.2h0M125.8 245.1h0M142.1 257.6h0M123.9 242.6h0M144.0 246.6h0M131.5 247.1h0M108.9 240.6h0M130.5 240.1h0M157.8 231.1h0M113.1 241.6h0M129.7 237.3h0M123.4 249.2h0M116.8 223.8h0M95.4 232.8h0M97.0 276.2h0M153.6 247.6h0M119.7 242.1h0M138.5 253.1h0M110.4 238.0h0M147.8 249.9h0M133.5 236.3h0M123.8 248.4h0M148.1 246.4h0M128.5 229.7h0M116.0 256.1h0M131.2 242.4h0M141.1 252.6h0M145.5 236.1h0M107.3 255.4h0M126.9 248.5h0M136.2 236.4h0M130.0 232.5h0M157.4 238.9h0M151.6 243.4h0M135.9 229.4h0M145.8 234.3h0M132.6 231.7h0M129.7 250.9h0M133.3 255.2h0M141.5 244.6h0M134.9 239.8h0M118.5 245.6h0M116.6 244.4h0M144.6 246.2h0M138.7 253.6h0M145.4 251.7h0M151.7 243.6h0M144.9 230.0h0M105.4 267.4h0M127.3 242.5h0M127.5 232.7h0M123.6 246.8h0M142.0 242.4h0M153.5 254.4h0M110.4 227.3h0M131.6 259.0h0M153.9 236.3h0M160.6 222.7h0M130.6 244.5h0M106.9 252.5h0M143.7 229.7h0M130.6 243.0h0M110.8 256.7h0M125.5 240.5h0M137.1 236.9h0M130.7 233.0h0M130.0 252.2h0M132.0 233.5h0M132.5 247.5h0M110.3 248.8h0M123.8 242.3h0M143.0 250.3h0M145.9 253.5h0M119.7 244.6h0M120.9 241.3h0M119.1 250.7h0M157.0 229.2h0M124.9 233.6h0M118.7 241.7h0M129.5 238.4h0M117.9 242.6h0M117.0 243.9h0M132.1 248.2h0M121.3 252.7h0M143.6 223.9h0M111.0 243.4h0M117.7 250.9h0M126.7 239.8h0M116.8 237.9h0M125.4 225.1h0M148.3 233.2h0M138.7 236.3h0M136.7 236.4h0M150.8 242.0h0M143.8 243.9h0M119.0 239.9h0M112.3 225.0h0M131.4 244.6h0M125.7 253.8h0M132.0 259.2h0M145.9 251.2h0M126.0 241.3h0M118.6 238.7h0M129.4 259.2h0M141.3 226.3h0M160.4 239.9h0M118.6 248.3h0M129.4 240.7h0M155.4 246.7h0M140.4 230.0h0M152.6 247.8h0M119.1 251.0h0M153.0 244.8h0M124.3 253.5h0M148.8 253.0h0M136.7 235.1h0M162.3 252.4h0M117.4 241.4h0M126.9 259.4h0M131.9 242.3h0M110.0 244.9h0M121.9 237.2h0M112.0 257.1h0M133.3 230.5h0M142.6 249.0h0M126.9 234.3h0M113.7 249.9h0M140.1 224.9h0M152.4 248.8h0M136.1 258.3h0M118.4 254.1h0M120.8 222.6h0M131.8 262.9h0M125.4 236.6h0M152.7 223.8h0M140.3 238.1h0M119.1 247.0h0M158.8 250.9h0M149.1 225.4h0M117.3 241.8h0M102.4 254.8h0M147.6 249.8h0M131.3 241.5h0M121.1 243.0h0M145.1 213.6h0M150.7 235.2h0M139.9 245.4h0M161.4 239.9h0M146.6 242.4h0M148.7 245.4h0M97.2 271.2h0M133.6 230.9h0M156.5 241.9h0M140.8 256.3h0M121.7 245.5h0M116.8 248.5h0M133.3 248.1h0M114.9 233.1h0M138.2 233.9h0M153.7 242.5h0M136.1 261.4h0M128.3 257.6h0M137.8 243.3h0M124.0 235.6h0M107.9 254.6h0M147.9 247.6h0M121.4 251.2h0M126.7 244.9h0M119.5 236.5h0M135.4 242.6h0M154.0 248.2h0M148.5 237.0h0M99.9 269.7h0M132.5 234.8h0M148.5 242.2h0M121.1 237.5h0M153.0 223.2h0M129.4 250.2h0M153.0 250.0h0M121.9 231.7h0M129.5 249.0h0M149.1 237.0h0M153.3 237.0h0M145.4 237.8h0M141.1 239.5h0M127.0 255.5h0M127.6 235.6h0M114.2 242.2h0M115.1 217.6h0M129.2 233.1h0M136.5 249.4h0M123.8 238.9h0M119.0 257.9h0M109.7 248.5h0M105.5 249.5h0M136.8 247.1h0M132.8 258.9h0M115.9 235.7h0M130.0 256.1h0M151.0 244.0h0M136.8 249.8h0M156.4 242.3h0M122.7 244.4h0M142.7 248.3h0M113.9 265.8h0M159.8 246.1h0M146.5 231.0h0M131.8 261.7h0M164.3 238.3h0M152.0 243.1h0M151.2 229.1h0M98.2 248.0h0M135.9 238.3h0M124.3 236.7h0M131.0 252.8h0M100.5 233.4h0M119.3 230.8h0M107.5 244.0h0M110.1 258.5h0M112.7 263.9h0M139.3 231.5h0M128.9 228.0h0M124.3 231.1h0M145.9 247.5h0M134.3 247.3h0M127.1 247.0h0M112.6 243.4h0M127.8 231.4h0M146.5 255.4h0M171.3 241.4h0M106.9 256.1h0M137.5 230.9h0M110.2 234.8h0M109.1 257.2h0M134.2 248.9h0M118.6 244.4h0M148.5 262.5h0M145.6 240.6h0M136.5 248.3h0M120.2 236.0h0M136.4 237.1h0M138.9 246.9h0M149.5 241.7h0M131.7 242.5h0M129.6 240.8h0M133.8 240.6h0M138.7 237.9h0M124.6 238.6h0M135.7 246.7h0M130.9 251.7h0M143.0 236.0h0M117.3 241.2h0M117.2 252.3h0M126.6 240.5h0M137.9 237.8h0M127.5 246.3h0M118.1 241.9h0M125.3 249.8h0M114.2 246.9h0M129.2 242.7h0M132.8 239.5h0M140.0 238.4h0M126.4 244.8h0M148.2 239.1h0M128.3 245.2h0M137.0 237.9h0M126.6 246.2h0M133.2 235.3h0M118.9 248.0h0M126.7 248.9h0M116.3 238.5h0M132.4 243.0h0M135.2 241.6h0M128.0 242.1h0M115.1 244.6h0M131.9 246.4h0M138.1 246.3h0M137.9 240.1h0M130.2 241.6h0M135.5 248.5h0M132.7 251.0h0M145.0 237.7h0M119.4 244.6h0M133.0 244.9h0M145.9 236.3h0M125.0 241.8h0M121.1 246.4h0M135.5 243.9h0M133.1 243.4h0M156.4 239.7h0M124.2 247.5h0M138.6 245.0h0M126.3 241.5h0M124.3 241.1h0M129.5 243.1h0M126.9 240.1h0M131.9 239.3h0M121.8 235.0h0M133.7 240.3h0M124.6 240.1h0M133.9 248.2h0M119.6 235.2h0M125.0 241.0h0M134.0 243.3h0M126.4 240.1h0M128.2 257.8h0M120.1 249.5h0M123.7 238.2h0M135.3 247.1h0M122.2 254.8h0M139.5 245.1h0M139.3 243.8h0M139.9 238.6h0M127.4 245.2h0M136.5 239.4h0M142.7 248.4h0M126.0 245.8h0M134.2 243.4h0M127.5 240.5h0M127.9 245.0h0M131.7 237.3h0M134.4 244.3h0M131.4 244.6h0M140.8 246.2h0M126.0 237.6h0M115.6 249.4h0M141.7 244.4h0M134.6 241.0h0M132.1 239.2h0M139.9 237.1h0M124.4 245.1h0M126.9 243.6h0M129.8 247.0h0M131.8 244.7h0M127.3 241.6h0M129.8 246.6h0M129.8 236.7h0M149.6 233.2h0M136.8 232.7h0M143.1 237.1h0M122.6 249.3h0M122.5 240.4h0M116.3 245.2h0M126.1 236.6h0M128.6 233.6h0M138.9 227.8h0M124.9 239.0h0M138.0 241.3h0M145.9 241.2h0M131.9 248.9h0M139.2 238.7h0M121.1 253.5h0M135.2 236.9h0M112.0 259.6h0M129.1 235.2h0M136.7 243.9h0M108.1 276.0h0M94.8 275.2h0M113.9 285.7h0M102.4 285.3h0M106.2 284.7h0M108.5 300.7h0M94.9 304.6h0M99.5 286.0h0M105.8 302.4h0M107.5 289.1h0M100.6 284.1h0M99.0 274.4h0M105.0 286.2h0M117.4 281.5h0M98.1 295.7h0M98.8 289.9h0M110.2 292.1h0M108.8 282.8h0M102.7 285.0h0M102.4 290.1h0M100.6 288.8h0M107.3 287.5h0M107.1 274.9h0M104.9 290.0h0M96.2 296.7h0M107.8 305.4h0M111.6 285.9h0M99.0 280.6h0M99.7 305.8h0M105.6 286.4h0M112.3 276.3h0M111.9 303.6h0M102.6 298.5h0M108.2 289.7h0M108.0 285.9h0M108.5 300.0h0M109.2 304.4h0M95.3 276.3h0M104.7 302.0h0M106.7 286.6h0M114.5 304.1h0M109.9 280.1h0M100.8 299.4h0M103.8 275.6h0M107.7 278.7h0M109.4 282.5h0M109.2 303.9h0M96.1 295.1h0M97.8 273.7h0M93.7 277.1h0M96.9 292.2h0M97.6 299.7h0M99.6 305.2h0M96.6 284.3h0M95.8 294.4h0M109.0 297.8h0M102.2 278.9h0M99.3 306.7h0M107.7 301.4h0M107.2 282.1h0M109.4 299.9h0M99.0 294.1h0M105.8 301.8h0M106.6 288.4h0M105.2 275.3h0M107.9 287.4h0M106.0 285.0h0M99.7 305.6h0M97.9 283.2h0M109.3 287.0h0M110.2 294.9h0M98.0 285.1h0M109.8 292.0h0M109.5 279.5h0M111.1 300.8h0M104.7 298.3h0M100.1 274.7h0M111.7 294.3h0M104.9 282.3h0M113.6 278.0h0M116.8 296.9h0M106.3 295.4h0M109.6 294.2h0M91.8 294.2h0M98.1 303.9h0M99.7 285.8h0M108.4 276.0h0M112.0 281.4h0M109.5 287.7h0M104.0 288.2h0M104.9 295.2h0M98.6 297.0h0M101.3 281.8h0M115.4 280.2h0M113.9 284.8h0M109.2 282.2h0M110.5 292.0h0M107.5 282.6h0M110.0 301.1h0M107.8 292.8h0M101.0 296.4h0M110.1 293.6h0M112.1 284.1h0M101.1 287.7h0M106.6 290.2h0M101.4 287.8h0M99.1 300.2h0M108.2 280.3h0M97.2 277.8h0M99.6 279.2h0M101.0 286.6h0M107.3 282.6h0M101.3 279.4h0M119.2 302.3h0M115.9 290.1h0M103.0 306.1h0M108.9 273.9h0M113.7 300.1h0M101.2 299.0h0M99.5 293.1h0M106.3 273.8h0M111.3 286.4h0M98.9 306.0h0M105.3 276.3h0M109.4 290.4h0M113.5 291.1h0M115.4 290.8h0M109.8 300.8h0M108.4 304.3h0M103.3 288.6h0M97.8 303.3h0M97.5 275.1h0M111.0 298.8h0M98.6 301.2h0M108.0 296.1h0M96.2 303.5h0M114.1 294.1h0M96.9 289.4h0M105.2 291.3h0M99.0 282.9h0M102.7 276.8h0M104.0 296.4h0M113.9 298.7h0M104.0 295.8h0M98.0 291.3h0M109.9 292.9h0M105.2 286.5h0M101.6 275.8h0M109.2 284.8h0M102.8 291.0h0M100.1 273.5h0M102.4 302.3h0M101.1 272.7h0M105.7 306.7h0M105.2 288.7h0M107.2 281.4h0M106.2 294.5h0M111.0 288.5h0M111.0 290.7h0M105.1 287.4h0M112.1 290.2h0M109.7 299.9h0M115.6 289.6h0M116.7 285.8h0M94.9 293.4h0M104.5 299.3h0M110.0 279.9h0M107.5 278.0h0M93.9 303.6h0M117.1 303.0h0M102.0 303.5h0M98.0 293.4h0M98.8 299.5h0M99.1 291.8h0M100.4 299.4h0M101.9 285.4h0M107.9 301.0h0M101.5 303.7h0M106.5 278.9h0M102.6 290.1h0M104.7 288.9h0M100.2 290.7h0M113.2 285.4h0M99.0 299.8h0M106.6 294.7h0M101.0 289.8h0M107.6 271.0h0M105.5 301.0h0M97.4 304.5h0M101.5 283.9h0M100.9 286.7h0M111.3 284.8h0M107.8 278.8h0M105.6 272.4h0M112.4 276.5h0M107.2 302.4h0M101.1 289.7h0M99.8 290.0h0M104.3 280.3h0M102.8 286.3h0M104.3 290.6h0M112.0 294.4h0M113.8 297.9h0M113.2 306.4h0M96.3 302.1h0M115.9 274.9h0M108.3 304.3h0M100.4 293.1h0M105.3 296.1h0M110.1 280.2h0M102.7 305.4h0M100.0 284.2h0M109.2 294.2h0M113.5 275.3h0M104.1 275.4h0M106.6 278.6h0M111.1 286.1h0M105.0 290.2h0M114.8 293.8h0M112.1 289.1h0M105.1 297.6h0M107.8 279.7h0M100.0 295.2h0M102.7 278.1h0M111.5 289.8h0M104.4 274.3h0M104.8 290.6h0M110.5 280.1h0M110.6 304.0h0M109.2 288.1h0M104.6 292.1h0M103.3 291.4h0M98.7 305.5h0M114.7 284.5h0M101.7 299.3h0M104.7 296.6h0M99.7 278.4h0M99.2 280.4h0M99.8 285.2h0M106.2 286.6h0M110.0 305.6h0M108.2 293.1h0M103.4 289.1h0M109.0 292.6h0M108.8 303.2h0M109.1 290.7h0M101.3 283.3h0M111.1 278.7h0M96.2 289.7h0M113.9 299.4h0M103.0 279.2h0M99.2 281.2h0M110.0 304.9h0M106.5 299.8h0M98.7 274.5h0M97.0 289.2h0M98.5 306.1h0M98.7 277.1h0M111.1 302.1h0M99.5 281.2h0M114.0 282.4h0M99.8 302.3h0M103.1 277.0h0M97.1 283.3h0M111.8 291.1h0M92.8 271.4h0M101.2 288.6h0M101.3 293.7h0M99.6 297.2h0M112.8 304.4h0M105.4 291.4h0M94.2 277.5h0M111.8 290.9h0M99.4 298.1h0M99.6 301.4h0M109.0 287.1h0M103.4 273.7h0M108.7 276.9h0M101.6 277.3h0M110.3 280.5h0M102.9 277.6h0M104.3 279.3h0M110.8 285.6h0M108.4 289.3h0M97.1 286.5h0M100.4 300.7h0M98.4 304.1h0M111.2 294.2h0M107.9 287.6h0M106.6 279.0h0M105.5 288.9h0M97.5 291.5h0M100.3 271.2h0M109.1 302.7h0M115.5 304.5h0M100.2 299.8h0M99.9 289.5h0M105.4 301.1h0M109.2 304.0h0M93.5 295.3h0M117.4 297.8h0M103.6 288.1h0M112.6 300.9h0M98.1 298.8h0M100.4 292.9h0M113.4 305.4h0M117.4 281.0h0M100.6 296.3h0M116.9 276.6h0M99.7 280.4h0M112.7 286.1h0M111.7 306.0h0M109.9 286.9h0M113.7 282.2h0M105.2 276.2h0M112.5 295.1h0M108.3 304.4h0M109.8 286.7h0M99.8 274.9h0M114.3 284.3h0M104.2 286.4h0M108.6 293.4h0M107.0 300.6h0M97.8 290.6h0M106.1 299.1h0M113.7 278.5h0M111.2 305.6h0M98.9 280.4h0M104.5 295.9h0M100.2 290.0h0M96.3 278.8h0M102.4 291.9h0M108.7 272.9h0M113.9 282.2h0M99.5 299.7h0M105.7 284.0h0M103.5 283.3h0M113.7 276.5h0M97.7 302.7h0M103.3 282.3h0M92.8 300.1h0M108.0 272.3h0M108.2 285.4h0M106.5 291.8h0M111.3 280.4h0M102.3 292.9h0M101.4 286.9h0M103.9 276.2h0M99.7 272.3h0M103.2 300.2h0M118.2 301.1h0M100.3 283.7h0M104.2 295.8h0M104.1 295.8h0M104.1 283.4h0M97.8 288.4h0M111.5 298.9h0M103.3 281.6h0M108.9 295.6h0M118.2 286.1h0M112.3 273.2h0M108.9 276.8h0M111.5 306.5h0M108.5 292.0h0M111.7 277.2h0M103.6 283.1h0M102.9 268.7h0M101.9 283.2h0M104.2 297.9h0M102.7 286.1h0M105.4 282.8h0M103.4 289.6h0M107.9 297.4h0M111.3 297.0h0M108.3 276.4h0M99.9 287.0h0M98.1 274.5h0M112.3 304.5h0M106.0 278.2h0M97.6 274.7h0M104.7 301.7h0M99.9 296.5h0M100.0 275.3h0M116.8 279.0h0M104.3 300.8h0M105.1 297.5h0M111.5 297.8h0M107.6 290.2h0M107.6 278.7h0M108.8 280.4h0M103.9 282.0h0M104.1 295.5h0M114.8 281.0h0M94.2 284.6h0M107.2 291.5h0M107.1 277.6h0M94.8 280.1h0M113.0 298.7h0M103.3 288.6h0M105.2 295.1h0M108.8 278.6h0M100.4 276.9h0M102.2 301.5h0M99.8 280.5h0M100.7 287.4h0M101.9 271.6h0M105.5 295.6h0M97.2 284.0h0M103.3 278.4h0M98.4 277.1h0M104.0 276.9h0M101.4 297.2h0M107.1 302.5h0M114.9 287.1h0M106.0 286.1h0M108.3 300.4h0M99.8 290.6h0M108.5 276.3h0M104.4 290.3h0M106.7 283.0h0M99.6 290.9h0M111.3 285.7h0M102.5 306.6h0M103.0 303.9h0M107.7 304.0h0M105.7 301.4h0M108.5 287.3h0M108.1 284.7h0M97.3 287.9h0M111.3 286.5h0M114.1 299.8h0M116.0 292.7h0M100.6 286.7h0M109.1 295.7h0M110.4 291.0h0M107.0 289.0h0M100.5 304.6h0M114.2 301.4h0M95.0 305.3h0M108.4 295.3h0M106.2 280.3h0M103.3 272.0h0M109.9 306.3h0M107.1 303.6h0M112.2 300.0h0M107.9 282.1h0M101.6 281.1h0M106.6 303.6h0M103.7 300.3h0M98.6 281.6h0M93.9 273.1h0M104.3 276.4h0M109.6 298.4h0M97.8 293.2h0M97.4 273.0h0M107.3 293.9h0M99.4 293.1h0M107.9 297.1h0M115.5 285.4h0M103.0 293.2h0M96.1 294.4h0M97.9 293.8h0M105.6 279.8h0M111.6 295.5h0M97.5 276.1h0M104.4 303.9h0M104.6 296.2h0M101.9 297.0h0M104.0 298.7h0M101.1 292.6h0M107.8 280.7h0M104.3 286.4h0M106.0 302.7h0M98.8 295.2h0M100.1 300.6h0M101.7 286.8h0M99.4 274.2h0M108.4 289.1h0M109.8 281.5h0M113.9 301.0h0M98.1 291.8h0M109.7 301.6h0M99.3 286.1h0M107.1 301.0h0M111.6 293.2h0M108.9 285.3h0M105.4 289.4h0M109.2 297.3h0M113.4 277.9h0M108.3 280.9h0M103.7 276.3h0M101.0 288.3h0M105.2 289.6h0M95.4 288.8h0M101.3 290.3h0M113.6 277.2h0M98.7 290.6h0M107.9 289.5h0M108.3 286.5h0M108.7 294.3h0M96.2 287.4h0M107.0 297.2h0M106.7 295.3h0M105.0 297.8h0M102.5 305.2h0M103.1 285.5h0M101.8 297.8h0M100.1 293.7h0M105.2 282.8h0M103.9 295.1h0M107.8 288.3h0M99.6 286.5h0M108.5 289.4h0M98.9 290.4h0M103.4 288.5h0M117.2 284.6h0M101.5 285.6h0M103.4 289.3h0M116.4 289.3h0M113.1 287.2h0M104.9 293.4h0M103.3 291.2h0M105.8 305.7h0M104.2 286.9h0M108.9 285.0h0M105.7 291.2h0M96.9 291.0h0M111.0 289.1h0M98.7 297.9h0M102.3 300.8h0M97.7 295.5h0M113.8 291.3h0M97.0 293.2h0M106.6 276.0h0M101.9 281.1h0M101.5 281.5h0M98.0 282.9h0M98.8 283.5h0M98.5 276.6h0M104.0 299.2h0M108.2 288.1h0M120.8 273.1h0M105.2 291.5h0M106.2 285.6h0M104.1 295.0h0M105.5 283.9h0M106.4 296.3h0M108.4 305.2h0M105.4 296.7h0M105.6 286.8h0M111.2 291.1h0M102.5 289.5h0M103.1 285.7h0M103.6 284.3h0M110.4 299.5h0M117.9 289.4h0M115.0 278.5h0M109.3 291.5h0M108.1 276.3h0M103.2 291.0h0M106.9 295.6h0M106.6 289.6h0M110.0 291.7h0M101.9 293.8h0M103.8 305.7h0M113.7 292.3h0M93.2 290.0h0M100.0 287.1h0M104.2 289.5h0M107.4 292.4h0M104.1 289.6h0M104.0 301.7h0M100.0 283.7h0M120.8 277.6h0M104.5 299.2h0M100.5 295.6h0M107.7 296.6h0M99.5 298.5h0M102.7 292.3h0M100.2 281.3h0M100.2 291.0h0M107.2 280.0h0M113.9 280.5h0M105.4 302.4h0M108.6 294.7h0M105.1 286.7h0M101.9 288.9h0M102.0 286.5h0M102.8 286.1h0M109.7 295.4h0M104.5 277.6h0M110.1 300.9h0M105.2 294.0h0M99.4 290.4h0M119.7 296.7h0M102.5 305.8h0M101.8 283.6h0M109.1 290.5h0M103.4 295.6h0M102.3 295.7h0M113.0 270.7h0M109.1 281.8h0M103.0 288.0h0M111.1 281.2h0M102.3 275.5h0M107.4 290.8h0M105.1 286.6h0M107.1 292.3h0M99.2 284.4h0M104.4 288.3h0M106.2 274.3h0M105.5 283.9h0M106.3 273.7h0M109.4 303.2h0M100.7 294.8h0M103.4 287.3h0M104.4 294.1h0M106.6 290.5h0M91.0 295.7h0M91.8 272.1h0M95.7 272.7h0M83.7 288.3h0M90.4 279.6h0M94.0 282.8h0M88.6 303.4h0M82.2 306.5h0M85.0 273.8h0M81.9 277.2h0M93.8 272.2h0M90.9 305.1h0M95.1 282.8h0M85.0 299.0h0M84.7 285.2h0M92.1 290.1h0M81.7 295.8h0M94.3 287.2h0M89.4 282.3h0M95.4 301.6h0M93.9 274.9h0M92.1 302.7h0M91.6 290.7h0M84.0 304.2h0M83.6 273.6h0M95.7 306.5h0M84.5 280.8h0M85.7 283.8h0M82.2 292.9h0M89.0 296.8h0M92.8 298.8h0M88.6 302.1h0M85.7 306.5h0M93.9 302.5h0M94.9 291.1h0M82.2 294.0h0M84.5 273.6h0M85.9 290.4h0M82.2 277.0h0M94.1 306.2h0M93.7 303.3h0M83.9 278.9h0M90.9 297.3h0M172.1 290.7h0M171.0 279.5h0M172.3 298.7h0M161.4 298.2h0M134.5 289.1h0M144.0 288.3h0M146.7 297.8h0M157.9 279.4h0M146.9 287.6h0M153.8 269.0h0M178.1 274.4h0M150.6 289.6h0M138.9 286.7h0M137.9 279.4h0M133.8 291.4h0M130.5 298.9h0M159.2 273.6h0M147.5 295.2h0M145.2 288.5h0M147.3 291.0h0M156.0 289.3h0M129.7 286.6h0M151.2 278.6h0M138.4 276.8h0M158.5 285.8h0M146.0 284.1h0M162.9 277.9h0M143.2 278.6h0M145.8 294.9h0M160.0 281.1h0M157.5 296.2h0M122.3 302.9h0M160.9 306.6h0M150.3 286.5h0M130.8 305.4h0M156.5 298.0h0M122.3 282.0h0M149.6 301.3h0M158.0 293.9h0M158.9 274.4h0M167.5 272.5h0M140.3 296.4h0M181.0 305.7h0M164.1 275.0h0M167.2 306.0h0M133.9 293.5h0M124.6 293.8h0M139.7 274.1h0M131.5 284.4h0M140.1 288.4h0M169.9 286.8h0M148.4 292.2h0M182.3 304.0h0M143.8 279.0h0M156.6 276.0h0M173.9 276.6h0M149.0 299.0h0M169.4 292.7h0M166.3 273.0h0M180.0 284.0h0M147.8 300.4h0M127.4 274.9h0M143.1 300.5h0M153.4 289.0h0M156.9 273.4h0M144.4 303.2h0M122.1 294.8h0M126.2 281.8h0M177.8 280.3h0M148.3 272.5h0M177.7 301.1h0M162.7 297.7h0M181.7 272.7h0M174.0 300.1h0M85.7 252.2h0M91.6 252.8h0M88.9 256.6h0M90.5 219.5h0M90.0 242.5h0M100.6 239.5h0M103.8 245.0h0M90.0 238.6h0M94.2 239.3h0M100.4 241.9h0M107.0 242.2h0M102.4 239.0h0M96.9 235.7h0M105.8 239.8h0M100.5 244.1h0M101.1 239.2h0M105.8 243.7h0M103.5 240.5h0M95.0 237.9h0M100.6 241.2h0M105.8 239.6h0M147.9 263.9h0M148.3 223.3h0M110.3 264.0h0M132.0 268.9h0M158.7 244.7h0M152.1 225.4h0M101.3 253.9h0" stroke="#000" stroke-opacity="0.45" stroke-width="1.4" stroke-linecap="round" fill="none"/>
<path d="M135.4 236.4h0M133.6 245.4h0M134.0 249.5h0M155.2 240.3h0M141.0 248.6h0M128.6 256.0h0M139.0 235.3h0M120.6 243.6h0M112.3 229.0h0M151.4 247.0h0M157.5 244.0h0M154.2 263.3h0M117.3 253.1h0M117.5 228.2h0M116.2 229.2h0M116.5 247.0h0M146.9 240.1h0M165.7 239.0h0M121.1 259.0h0M138.4 245.0h0M115.5 255.4h0M132.9 232.2h0M133.9 248.7h0M120.4 250.1h0M141.2 252.8h0M127.2 247.6h0M141.2 245.2h0M104.5 241.5h0M112.7 247.5h0M149.5 236.0h0M141.9 264.6h0M146.3 254.2h0M144.0 247.6h0M136.6 219.8h0M130.5 232.1h0M154.6 240.2h0M154.2 226.0h0M133.0 232.5h0M141.1 236.9h0M139.6 229.0h0M119.7 248.7h0M131.8 232.8h0M121.3 220.9h0M130.0 247.7h0M136.9 241.8h0M127.9 245.0h0M125.5 233.8h0M129.3 239.2h0M133.0 235.5h0M138.8 247.7h0M138.3 243.5h0M119.4 243.9h0M147.8 236.3h0M143.5 235.9h0M116.0 238.9h0M159.4 241.2h0M109.2 257.4h0M140.8 225.6h0M126.9 241.6h0M151.2 250.4h0M137.3 213.9h0M126.0 231.7h0M147.7 219.2h0M127.5 228.9h0M156.2 242.9h0M151.4 248.1h0M131.9 242.0h0M121.6 229.8h0M140.0 235.8h0M128.5 256.7h0M112.9 249.6h0M168.9 250.2h0M124.3 249.6h0M140.1 245.0h0M142.8 238.4h0M152.7 247.6h0M127.7 260.2h0M147.9 224.8h0M127.7 251.9h0M131.0 226.3h0M137.6 234.8h0M112.4 249.0h0M144.2 222.8h0M135.4 234.6h0M126.0 233.2h0M126.9 242.5h0M137.8 234.5h0M169.4 245.9h0M142.3 241.6h0M130.5 241.9h0M116.8 258.8h0M147.8 241.6h0M157.6 246.6h0M137.2 239.1h0M113.2 242.0h0M121.0 245.4h0M120.7 248.8h0M127.3 252.3h0M125.7 238.5h0M140.7 236.1h0M135.9 243.4h0M131.0 244.8h0M128.0 236.8h0M141.9 246.3h0M137.7 234.3h0M152.0 247.4h0M107.7 241.6h0M122.3 225.0h0M128.8 256.2h0M148.1 227.6h0M118.7 257.8h0M110.8 246.4h0M113.7 250.0h0M136.3 237.9h0M135.7 249.5h0M151.5 245.4h0M134.5 249.2h0M125.8 251.2h0M149.1 247.8h0M124.8 240.2h0M137.7 247.7h0M133.7 250.6h0M127.7 245.0h0M121.1 247.7h0M116.7 240.8h0M146.8 244.9h0M125.9 236.5h0M128.7 239.3h0M146.8 234.3h0M139.0 230.5h0M120.0 243.1h0M138.3 235.2h0M148.2 242.7h0M127.5 244.1h0M142.5 250.2h0M136.6 239.8h0M138.9 268.3h0M130.4 241.0h0M128.6 252.0h0M151.0 244.1h0M138.6 249.8h0M137.9 244.6h0M94.0 256.8h0M114.7 230.0h0M132.2 242.5h0M147.1 231.3h0M140.4 242.4h0M144.7 250.1h0M128.2 252.7h0M149.8 236.0h0M120.0 229.1h0M142.7 241.1h0M138.6 238.5h0M142.7 242.5h0M137.7 244.8h0M130.4 244.5h0M116.8 251.0h0M155.0 236.9h0M154.9 235.6h0M116.5 235.4h0M106.1 242.0h0M138.8 242.8h0M141.4 238.0h0M127.8 241.4h0M143.4 231.8h0M140.6 237.7h0M160.5 226.4h0M152.6 243.3h0M133.6 226.3h0M126.8 258.7h0M131.9 247.4h0M100.9 240.2h0M111.7 252.1h0M136.6 234.9h0M159.5 236.4h0M139.5 254.4h0M142.6 243.6h0M146.3 231.8h0M164.0 237.9h0M149.8 240.2h0M120.8 250.5h0M125.0 241.3h0M127.4 256.4h0M123.6 236.9h0M117.0 238.1h0M123.3 229.7h0M134.4 232.5h0M132.7 244.0h0M134.6 256.8h0M131.6 243.9h0M125.3 257.2h0M136.6 240.4h0M140.7 238.7h0M127.7 249.9h0M107.3 246.3h0M132.7 241.1h0M131.3 239.7h0M116.4 235.0h0M111.8 240.5h0M127.8 228.0h0M132.5 251.1h0M125.7 251.1h0M108.7 240.3h0M152.5 247.7h0M122.5 236.1h0M115.4 249.4h0M125.2 242.9h0M152.3 234.6h0M132.6 244.0h0M128.8 228.8h0M110.7 248.9h0M152.7 242.1h0M128.0 244.5h0M140.1 239.7h0M113.0 256.9h0M134.3 235.9h0M132.6 228.2h0M147.6 240.2h0M149.6 230.3h0M153.5 241.6h0M119.4 242.1h0M117.7 225.0h0M127.2 244.0h0M138.3 250.6h0M98.8 247.2h0M126.2 254.6h0M149.2 235.0h0M122.9 242.0h0M123.0 237.1h0M124.3 253.0h0M149.8 252.6h0M150.4 239.6h0M148.9 244.4h0M124.7 231.4h0M99.6 256.7h0M129.5 240.9h0M130.8 241.8h0M140.3 238.4h0M124.9 258.5h0M119.3 249.2h0M129.5 245.4h0M153.7 220.4h0M139.3 256.4h0M123.0 259.5h0M150.9 237.9h0M130.4 245.5h0M138.9 222.2h0M151.0 234.3h0M115.6 249.8h0M136.7 249.6h0M139.0 248.0h0M156.9 249.7h0M94.2 248.9h0M143.5 250.9h0M152.5 240.1h0M143.5 231.2h0M153.1 240.2h0M120.4 248.5h0M117.2 241.8h0M151.2 242.1h0M138.9 239.9h0M114.9 236.8h0M117.0 259.9h0M116.4 235.0h0M152.2 237.6h0M116.4 253.2h0M132.4 248.2h0M124.5 228.1h0M136.8 242.3h0M143.4 249.5h0M126.4 250.8h0M139.7 246.0h0M165.7 225.1h0M116.4 258.8h0M120.2 234.0h0M136.8 252.6h0M146.8 249.4h0M145.7 239.3h0M125.4 226.5h0M138.5 246.3h0M141.3 251.8h0M116.0 228.7h0M130.6 244.6h0M127.9 232.9h0M115.5 257.0h0M103.8 256.4h0M145.1 230.6h0M140.0 252.4h0M153.5 231.1h0M111.7 239.8h0M124.1 248.8h0M138.7 244.5h0M123.3 239.0h0M150.6 255.3h0M143.7 234.6h0M138.5 237.5h0M128.0 246.1h0M126.8 247.8h0M124.6 245.7h0M142.8 240.7h0M139.9 244.0h0M140.0 231.5h0M144.9 239.6h0M124.1 237.3h0M117.6 248.3h0M133.4 244.1h0M143.2 240.2h0M132.9 239.2h0M136.7 240.9h0M130.1 236.0h0M144.6 242.2h0M147.3 236.5h0M126.8 241.6h0M137.2 241.0h0M116.6 236.3h0M142.7 239.6h0M133.0 237.2h0M128.3 237.4h0M136.3 246.7h0M137.4 241.5h0M148.4 243.0h0M144.4 241.3h0M140.3 244.3h0M123.5 237.4h0M132.3 230.4h0M130.9 239.7h0M126.5 252.3h0M143.8 232.4h0M136.6 249.6h0M120.0 256.3h0M142.3 237.1h0M123.2 247.9h0M131.3 244.4h0M123.5 245.6h0M139.1 238.1h0M132.1 242.6h0M128.5 235.0h0M128.2 239.7h0M149.3 241.8h0M121.9 247.6h0M135.9 242.9h0M129.6 237.9h0M110.7 246.8h0M137.9 245.2h0M128.2 244.2h0M139.6 241.2h0M131.4 233.7h0M133.9 249.0h0M117.6 238.0h0M132.7 242.5h0M124.6 244.3h0M124.1 251.4h0M140.2 242.0h0M121.7 245.8h0M121.1 232.4h0M139.2 243.0h0M130.6 234.8h0M126.3 237.5h0M125.4 241.8h0M131.2 239.5h0M126.1 239.0h0M139.8 241.2h0M136.2 228.7h0M148.4 239.5h0M137.5 247.3h0M134.6 237.6h0M146.2 238.0h0M135.6 238.8h0M125.9 245.8h0M143.2 233.9h0M132.5 242.3h0M124.3 241.5h0M126.6 242.3h0M124.0 251.1h0M126.7 241.5h0M111.1 251.4h0M129.2 241.4h0M135.0 245.3h0M127.3 239.2h0M128.9 243.9h0M133.5 250.2h0M135.3 246.7h0M127.5 245.1h0M128.2 240.8h0M129.1 235.5h0M152.2 242.9h0M138.0 239.0h0M126.6 252.2h0M134.5 245.2h0M98.7 275.7h0M101.2 274.4h0M105.0 281.7h0M102.9 284.8h0M111.3 277.3h0M95.0 305.2h0M109.7 275.8h0M101.8 290.5h0M106.9 281.3h0M103.6 295.8h0M111.7 302.4h0M98.9 276.1h0M103.8 274.9h0M105.6 279.4h0M103.1 294.1h0M111.8 283.7h0M108.8 282.1h0M101.8 293.9h0M119.4 305.0h0M92.5 281.4h0M113.5 301.8h0M101.4 278.3h0M111.7 294.8h0M109.2 300.2h0M112.7 289.5h0M113.4 297.9h0M108.8 298.2h0M97.0 281.3h0M118.9 284.6h0M104.5 277.0h0M114.8 298.0h0M106.8 277.1h0M104.8 305.2h0M97.5 286.4h0M106.1 296.1h0M102.9 300.9h0M118.0 291.8h0M107.1 301.1h0M110.4 302.6h0M115.4 282.3h0M108.7 275.8h0M105.9 296.4h0M99.9 299.9h0M112.2 288.9h0M105.3 273.1h0M114.9 296.8h0M113.2 294.2h0M97.5 293.8h0M102.7 293.3h0M112.8 297.9h0M110.3 281.7h0M99.2 305.2h0M108.1 289.2h0M106.5 287.6h0M104.1 278.3h0M96.0 275.8h0M110.7 298.5h0M96.1 285.4h0M113.1 294.2h0M99.9 274.3h0M97.8 305.7h0M109.4 276.9h0M113.1 275.9h0M105.2 306.4h0M107.0 287.8h0M90.3 295.2h0M102.9 296.2h0M107.2 292.9h0M93.7 299.1h0M100.8 276.6h0M102.0 268.1h0M107.4 285.0h0M109.4 299.2h0M104.7 280.9h0M116.0 298.0h0M95.6 287.4h0M114.0 275.0h0M97.9 278.1h0M109.4 287.6h0M99.9 289.5h0M107.0 303.5h0M100.6 274.5h0M107.0 283.2h0M100.3 290.9h0M103.0 300.5h0M112.1 282.8h0M101.4 277.0h0M108.4 294.6h0M105.9 284.1h0M104.6 302.3h0M109.5 289.4h0M99.4 290.9h0M106.7 285.5h0M109.3 293.4h0M106.4 279.9h0M113.7 292.4h0M114.6 276.3h0M105.3 281.1h0M101.6 281.2h0M110.6 293.3h0M109.5 300.6h0M106.0 288.9h0M98.9 282.9h0M98.6 296.0h0M98.2 280.4h0M104.9 286.0h0M112.4 282.3h0M95.4 290.1h0M110.1 283.1h0M111.8 267.4h0M92.7 283.4h0M112.4 279.9h0M110.7 279.2h0M99.8 280.3h0M106.4 301.0h0M114.0 295.9h0M104.7 295.0h0M107.1 293.7h0M109.0 290.7h0M114.0 296.5h0M110.6 305.8h0M98.9 294.0h0M104.5 290.7h0M108.5 303.4h0M113.2 300.0h0M100.4 285.2h0M106.9 280.6h0M98.8 290.2h0M101.1 293.6h0M106.5 298.2h0M108.5 280.2h0M107.4 282.2h0M94.8 291.3h0M92.3 304.7h0M104.2 290.2h0M106.6 301.7h0M100.8 300.5h0M118.3 273.5h0M102.7 278.2h0M110.7 275.1h0M104.4 301.8h0M99.5 300.8h0M113.7 283.5h0M101.1 304.4h0M108.4 273.6h0M99.8 289.8h0M98.8 279.1h0M101.4 300.1h0M117.4 300.1h0M113.7 301.9h0M113.2 287.7h0M110.6 276.6h0M106.8 275.6h0M105.9 278.2h0M112.2 277.7h0M111.8 277.4h0M97.9 288.0h0M101.6 287.7h0M97.7 290.9h0M96.6 271.2h0M99.8 290.6h0M99.5 277.2h0M107.9 279.8h0M101.7 303.2h0M111.1 290.9h0M107.5 300.1h0M94.1 291.2h0M116.9 296.2h0M106.2 302.9h0M110.5 299.6h0M101.8 285.4h0M111.5 286.3h0M113.4 302.4h0M108.7 275.2h0M105.2 303.7h0M113.4 302.4h0M109.2 285.8h0M99.2 286.4h0M108.2 288.9h0M106.3 274.3h0M102.0 305.1h0M109.4 293.9h0M110.9 300.3h0M104.1 277.2h0M106.5 305.7h0M102.2 283.8h0M97.5 277.5h0M107.0 276.8h0M105.4 277.2h0M98.4 292.2h0M106.5 280.2h0M96.8 280.2h0M97.2 296.2h0M110.6 276.5h0M106.7 284.6h0M112.4 276.9h0M102.6 287.8h0M100.2 300.9h0M110.3 292.6h0M98.8 271.1h0M102.8 298.6h0M115.7 300.5h0M89.4 302.0h0M112.4 286.7h0M109.3 270.9h0M106.7 304.3h0M107.2 286.5h0M103.7 295.4h0M105.0 302.3h0M106.7 277.4h0M114.4 297.9h0M101.1 294.2h0M102.4 304.9h0M102.6 267.6h0M111.0 289.5h0M110.7 282.2h0M100.4 280.7h0M112.2 290.2h0M95.9 289.4h0M109.5 284.8h0M95.6 274.6h0M95.7 299.8h0M110.8 299.5h0M107.1 279.8h0M109.9 289.3h0M116.7 274.2h0M106.4 281.9h0M102.6 275.1h0M108.5 295.8h0M102.2 276.7h0M102.5 296.7h0M111.8 282.5h0M98.7 295.9h0M112.0 298.0h0M107.1 273.9h0M105.3 272.5h0M98.8 273.4h0M102.2 285.5h0M113.9 296.3h0M111.7 292.3h0M111.9 279.0h0M107.3 302.6h0M105.0 301.7h0M111.1 291.3h0M105.4 297.7h0M107.4 293.2h0M102.5 306.4h0M110.0 306.2h0M116.5 290.2h0M103.9 301.7h0M100.7 305.6h0M109.4 284.6h0M112.8 287.3h0M97.6 282.4h0M109.7 276.7h0M103.4 300.1h0M111.9 287.1h0M120.6 301.1h0M97.8 282.3h0M101.5 282.4h0M100.1 277.7h0M104.1 287.8h0M106.4 283.4h0M104.1 289.5h0M110.5 298.1h0M99.3 283.2h0M98.4 279.9h0M102.1 285.4h0M110.4 301.5h0M102.3 290.7h0M104.3 282.3h0M111.6 289.1h0M107.7 300.6h0M98.2 278.8h0M112.8 279.1h0M100.7 297.5h0M107.7 289.9h0M102.3 306.6h0M98.3 284.3h0M95.7 299.2h0M97.1 284.9h0M112.6 293.0h0M106.0 294.1h0M97.9 290.0h0M105.5 280.2h0M106.0 291.4h0M111.0 282.4h0M102.8 291.7h0M98.2 290.2h0M106.9 274.8h0M102.7 297.3h0M109.5 278.2h0M111.2 280.6h0M112.5 291.9h0M101.1 290.0h0M110.9 279.5h0M107.4 286.9h0M94.5 299.7h0M104.8 300.3h0M100.1 280.9h0M109.4 289.8h0M107.2 302.0h0M108.2 293.6h0M103.4 291.8h0M94.8 269.8h0M106.8 281.9h0M100.0 270.5h0M100.7 281.4h0M100.0 294.9h0M110.6 285.8h0M109.5 268.4h0M99.9 301.6h0M98.6 285.4h0M116.3 299.5h0M104.7 301.8h0M103.7 274.6h0M111.1 286.7h0M111.1 290.0h0M108.9 296.7h0M105.3 298.9h0M103.4 282.9h0M109.0 288.7h0M102.6 273.0h0M90.2 290.0h0M112.2 276.3h0M100.3 286.2h0M99.0 286.3h0M110.3 294.3h0M99.9 291.3h0M109.7 291.4h0M108.1 284.2h0M104.1 297.1h0M105.6 280.0h0M100.3 279.9h0M105.1 283.1h0M108.5 281.7h0M103.8 299.1h0M100.7 300.3h0M105.8 278.3h0M104.3 281.6h0M112.0 283.0h0M111.8 295.1h0M101.7 306.7h0M102.1 288.1h0M113.6 294.8h0M108.3 294.1h0M101.4 305.4h0M107.1 305.1h0M110.8 277.8h0M111.9 299.0h0M108.1 305.7h0M106.9 302.6h0M102.0 299.0h0M101.8 306.1h0M105.2 296.7h0M98.1 292.8h0M106.2 289.6h0M97.2 288.9h0M100.3 298.5h0M101.9 282.4h0M100.1 293.4h0M97.7 286.4h0M108.4 274.4h0M106.8 295.9h0M94.2 283.9h0M109.4 292.5h0M100.7 305.2h0M103.2 302.7h0M106.8 288.6h0M104.0 289.8h0M98.5 292.5h0M111.5 305.1h0M112.4 266.9h0M104.8 292.6h0M104.0 295.0h0M103.8 284.2h0M107.8 291.5h0M102.4 275.2h0M108.7 295.7h0M98.3 275.5h0M97.2 275.9h0M100.1 290.9h0M99.8 298.7h0M109.2 293.8h0M98.1 283.3h0M104.2 281.7h0M102.3 300.0h0M109.5 301.1h0M108.3 300.1h0M113.5 294.0h0M99.6 285.0h0M115.2 301.6h0M107.5 289.4h0M103.0 276.7h0M103.2 296.9h0M115.6 294.3h0M104.5 283.7h0M100.2 295.6h0M103.0 279.0h0M111.0 285.6h0M101.3 303.9h0M100.5 277.2h0M101.9 289.5h0M110.1 297.7h0M107.0 297.9h0M116.9 305.4h0M101.9 290.9h0M95.8 299.3h0M108.7 284.1h0M103.4 303.2h0M115.9 284.5h0M95.5 300.9h0M94.5 288.3h0M103.2 301.8h0M106.9 281.3h0M106.9 279.7h0M100.9 282.8h0M106.3 287.6h0M102.0 284.3h0M98.4 298.7h0M112.4 281.7h0M110.4 288.8h0M102.3 297.6h0M96.0 287.3h0M111.9 282.3h0M102.7 306.5h0M117.1 289.5h0M101.1 283.8h0M112.2 279.3h0M103.0 302.9h0M101.5 279.6h0M107.9 295.1h0M105.9 300.6h0M111.7 282.7h0M110.6 279.7h0M114.4 280.3h0M112.4 284.0h0M99.3 295.0h0M104.9 284.0h0M111.7 301.2h0M113.6 295.1h0M109.8 289.2h0M104.4 294.4h0M96.2 284.2h0M104.8 281.6h0M105.2 278.7h0M102.7 272.5h0M109.4 299.9h0M103.0 278.7h0M103.1 298.8h0M98.2 277.2h0M110.8 305.4h0M107.5 279.0h0M105.8 297.4h0M109.9 272.0h0M117.0 286.7h0M110.5 299.8h0M109.0 284.8h0M115.0 306.1h0M107.2 284.5h0M105.3 303.4h0M96.6 304.6h0M105.0 282.6h0M104.0 299.0h0M110.5 282.1h0M111.7 276.9h0M99.7 298.0h0M112.9 272.3h0M107.7 288.7h0M105.1 286.0h0M99.2 297.6h0M106.4 288.9h0M109.4 280.5h0M102.0 290.1h0M103.4 302.1h0M103.4 303.1h0M97.3 288.0h0M107.9 282.0h0M90.8 290.6h0M92.6 276.9h0M112.2 279.5h0M100.2 299.8h0M102.8 303.0h0M99.3 295.3h0M104.3 291.3h0M109.3 299.0h0M106.3 292.9h0M104.8 294.5h0M97.6 289.0h0M103.4 302.3h0M93.8 277.1h0M112.3 286.1h0M113.9 285.0h0M99.1 284.0h0M103.5 300.0h0M104.7 298.8h0M104.7 301.7h0M99.8 284.5h0M103.5 300.4h0M100.2 291.9h0M103.7 275.5h0M108.8 287.6h0M100.8 300.7h0M102.6 293.7h0M105.5 291.4h0M105.7 292.0h0M105.0 291.7h0M106.4 291.7h0M110.0 303.5h0M102.9 302.1h0M107.8 300.3h0M105.3 274.7h0M109.1 289.2h0M106.7 279.1h0M97.9 270.9h0M101.1 285.9h0M99.3 276.8h0M100.3 295.8h0M104.0 284.7h0M101.7 287.6h0M106.5 287.0h0M99.3 291.7h0M104.1 288.1h0M99.5 299.1h0M107.1 290.7h0M111.0 295.5h0M103.8 280.2h0M111.4 301.0h0M118.1 291.5h0M105.5 294.1h0M107.7 293.5h0M110.5 277.3h0M110.7 296.5h0M103.6 292.5h0M100.0 288.5h0M111.7 302.1h0M106.3 285.1h0M106.3 284.3h0M103.2 285.3h0M103.8 287.2h0M103.8 280.3h0M102.7 303.2h0M106.5 304.2h0M105.1 288.1h0M112.5 288.4h0M103.4 299.8h0M111.1 301.0h0M101.6 275.3h0M109.1 288.1h0M105.4 285.4h0M105.5 280.9h0M107.5 287.9h0M102.0 301.0h0M101.1 306.0h0M106.1 287.3h0M105.4 291.6h0M98.3 287.0h0M92.6 291.1h0M116.9 286.0h0M103.4 268.4h0M96.0 304.7h0M107.8 286.3h0M109.0 303.3h0M108.6 276.9h0M100.5 295.1h0M107.8 276.1h0M103.4 289.5h0M100.0 284.8h0M95.4 300.0h0M112.9 302.9h0M107.5 283.7h0M102.7 292.3h0M104.4 300.8h0M101.5 291.2h0M102.5 270.6h0M102.9 280.2h0M104.0 293.0h0M106.0 301.1h0M103.0 298.3h0M99.6 283.7h0M104.1 284.5h0M103.7 291.6h0M99.6 290.0h0M108.6 298.4h0M107.4 295.3h0M103.3 283.8h0M107.6 274.4h0M92.9 295.0h0M103.6 275.6h0M106.1 305.7h0M102.5 292.6h0M108.9 279.7h0M105.0 280.5h0M110.2 303.4h0M98.0 305.8h0M104.8 287.2h0M103.3 287.4h0M105.4 291.6h0M113.3 289.7h0M99.7 287.7h0M105.2 296.7h0M109.5 297.7h0M102.0 284.0h0M102.7 286.2h0M105.4 298.9h0M111.9 301.5h0M111.8 283.8h0M98.8 286.0h0M107.6 297.1h0M104.4 305.0h0M98.8 295.2h0M106.6 299.0h0M111.2 278.9h0M107.5 300.4h0M111.3 286.0h0M96.0 290.0h0M95.0 295.0h0M115.2 289.6h0M104.3 286.2h0M101.4 287.9h0M111.9 283.0h0M112.4 289.0h0M94.0 288.0h0M96.6 299.7h0M102.5 292.8h0M105.3 290.4h0M95.8 297.1h0M103.8 291.2h0M105.6 300.8h0M101.9 296.5h0M97.1 279.4h0M103.0 298.5h0M102.9 289.3h0M105.1 279.4h0M107.9 291.5h0M110.9 292.2h0M105.2 278.1h0M87.9 276.2h0M95.8 282.0h0M95.6 289.2h0M87.3 277.3h0M84.8 297.8h0M82.7 302.4h0M94.1 281.6h0M88.1 282.0h0M87.1 273.0h0M95.9 287.7h0M85.6 282.2h0M89.5 295.8h0M88.6 298.6h0M82.8 287.4h0M86.9 294.5h0M84.2 298.3h0M91.1 297.3h0M82.2 303.2h0M86.1 303.4h0M82.4 295.2h0M93.7 300.9h0M92.3 297.8h0M81.2 274.1h0M83.4 279.8h0M94.4 286.0h0M94.0 296.9h0M93.9 302.5h0M85.6 283.7h0M91.5 277.9h0M85.7 294.6h0M91.1 277.8h0M92.5 285.2h0M87.0 284.4h0M81.8 292.5h0M91.0 292.2h0M91.5 298.7h0M84.2 294.9h0M86.9 284.3h0M84.4 292.4h0M84.6 302.0h0M87.1 299.0h0M86.0 303.5h0M81.0 293.6h0M89.8 300.0h0M92.8 292.8h0M114.4 283.0h0M140.6 282.0h0M157.2 278.5h0M169.3 276.8h0M139.9 277.1h0M176.4 276.0h0M150.9 285.4h0M165.6 286.8h0M161.2 292.5h0M149.2 286.2h0M147.9 304.5h0M148.2 291.3h0M174.5 295.8h0M138.1 302.1h0M142.4 300.6h0M140.0 284.3h0M147.4 284.6h0M155.4 271.7h0M162.0 292.9h0M133.5 285.3h0M172.4 283.6h0M164.5 300.8h0M158.0 297.1h0M152.2 298.5h0M170.2 278.2h0M147.7 296.9h0M134.7 279.3h0M149.6 290.9h0M142.5 296.3h0M135.2 288.1h0M160.7 298.4h0M136.2 302.0h0M152.9 293.2h0M140.4 288.9h0M137.2 275.6h0M137.5 300.4h0M162.6 301.9h0M180.7 290.5h0M183.7 287.3h0M164.2 299.7h0M168.0 291.5h0M165.2 275.1h0M165.3 290.9h0M145.2 277.1h0M167.4 278.4h0M151.1 295.0h0M158.7 298.8h0M133.2 274.8h0M175.1 301.6h0M160.8 287.0h0M156.0 280.2h0M165.8 281.4h0M129.6 292.7h0M125.1 277.0h0M119.2 297.4h0M138.0 272.8h0M155.3 300.2h0M162.2 296.2h0M168.9 300.1h0M177.7 284.1h0M152.2 286.4h0M176.5 305.7h0M155.8 295.4h0M184.1 275.2h0M133.8 301.3h0M148.7 295.0h0M118.8 306.2h0M134.7 279.2h0M119.3 295.7h0M125.3 277.5h0M124.4 286.8h0M172.5 295.2h0M125.1 283.4h0M153.3 304.4h0M92.7 219.1h0M83.1 226.4h0M89.7 234.4h0M86.5 249.7h0M83.5 259.2h0M84.3 236.6h0M90.1 231.1h0M91.9 259.5h0M89.1 247.2h0M85.2 232.3h0M107.6 236.4h0M100.0 240.6h0M103.2 241.0h0M100.5 237.5h0M95.9 237.5h0M105.4 240.1h0M99.4 239.8h0M103.3 241.7h0M98.3 243.4h0M96.3 241.3h0M89.9 236.8h0M105.9 235.7h0M94.5 246.7h0M96.6 237.5h0M100.5 239.3h0M112.8 241.2h0M108.6 228.3h0M83.3 254.2h0M139.7 228.0h0M140.9 238.4h0M113.3 258.2h0" stroke="#000" stroke-opacity="0.45" stroke-width="1.4" stroke-linecap="round" fill="none"/>
<path d="M129.8 228.3h0M103.1 248.5h0M111.7 244.1h0M123.6 261.6h0M119.9 236.1h0M152.0 228.5h0M120.5 251.2h0M150.8 246.0h0M141.1 240.2h0M114.8 239.4h0M118.9 246.1h0M140.4 228.5h0M108.8 255.8h0M155.6 231.5h0M142.1 234.1h0M134.7 252.6h0M144.2 237.9h0M121.3 250.2h0M109.4 241.0h0M128.1 258.5h0M149.0 261.0h0M115.4 246.4h0M141.3 249.8h0M122.4 233.4h0M142.7 240.7h0M126.8 245.4h0M128.7 238.1h0M148.0 229.1h0M137.5 241.9h0M116.1 241.1h0M130.6 244.7h0M131.3 237.9h0M124.6 254.5h0M134.2 252.9h0M179.8 225.5h0M146.1 233.3h0M149.0 242.9h0M154.0 223.7h0M147.3 237.8h0M106.4 239.2h0M116.2 258.6h0M142.2 258.4h0M137.1 240.5h0M153.9 251.7h0M162.3 246.5h0M154.9 256.2h0M105.0 245.6h0M123.0 234.4h0M144.4 239.3h0M128.0 257.4h0M142.4 243.1h0M121.6 244.0h0M125.3 250.1h0M120.3 239.3h0M129.0 243.0h0M162.0 244.5h0M135.6 244.8h0M134.7 244.5h0M121.9 249.2h0M154.1 238.4h0M130.1 232.7h0M129.6 254.8h0M108.9 242.6h0M143.0 235.2h0M147.3 231.9h0M133.3 251.8h0M114.4 253.3h0M128.6 256.3h0M119.6 235.4h0M132.1 250.7h0M120.4 236.4h0M151.1 232.7h0M144.8 228.5h0M100.7 243.7h0M126.7 256.8h0M127.8 230.4h0M160.8 252.0h0M145.2 253.1h0M165.0 242.3h0M138.4 243.8h0M135.2 241.1h0M131.1 236.1h0M151.1 252.6h0M154.3 229.2h0M110.1 252.9h0M127.6 262.4h0M147.1 228.1h0M146.4 250.7h0M134.3 227.9h0M138.8 239.4h0M138.3 248.0h0M112.5 252.5h0M136.8 242.2h0M134.9 221.7h0M161.8 227.3h0M129.3 239.1h0M141.3 254.3h0M136.3 243.1h0M116.9 241.2h0M113.7 245.3h0M115.9 245.8h0M151.3 247.3h0M141.9 228.8h0M130.6 234.8h0M157.2 259.0h0M144.3 245.8h0M117.9 244.4h0M153.7 238.5h0M131.8 251.4h0M126.7 252.0h0M134.3 239.3h0M119.8 246.3h0M137.6 237.8h0M130.0 248.7h0M113.8 241.7h0M127.1 244.6h0M139.7 228.6h0M140.1 228.7h0M128.1 235.8h0M129.6 231.9h0M98.7 236.7h0M125.5 243.3h0M129.6 238.3h0M102.9 244.7h0M113.0 263.7h0M139.7 241.0h0M136.5 249.1h0M132.9 239.4h0M123.5 238.7h0M140.9 268.0h0M131.8 269.1h0M111.0 242.1h0M141.5 248.1h0M131.4 243.3h0M131.5 252.3h0M130.8 252.3h0M121.3 240.6h0M128.5 236.6h0M115.3 254.2h0M121.4 231.5h0M127.6 242.1h0M150.7 240.1h0M119.5 243.0h0M125.1 219.8h0M141.7 243.7h0M133.0 230.9h0M135.4 242.5h0M100.9 247.7h0M133.0 246.2h0M147.1 246.6h0M127.0 248.9h0M133.2 245.7h0M158.6 221.2h0M134.0 249.6h0M128.3 246.2h0M89.8 261.0h0M115.9 233.1h0M158.0 250.8h0M123.1 250.6h0M120.8 243.3h0M157.3 229.2h0M138.2 245.8h0M127.9 257.1h0M167.5 235.2h0M138.7 253.8h0M132.3 237.6h0M141.8 232.3h0M137.8 245.6h0M128.3 247.2h0M143.6 239.3h0M142.6 222.4h0M146.5 247.9h0M137.2 231.6h0M109.8 246.2h0M131.3 242.1h0M134.5 228.1h0M147.7 258.7h0M130.3 228.2h0M110.9 240.6h0M157.3 230.2h0M118.3 249.5h0M128.7 242.9h0M129.4 258.9h0M127.1 235.3h0M126.7 248.2h0M114.8 249.3h0M132.6 239.5h0M151.8 240.9h0M118.9 244.7h0M129.0 250.0h0M131.9 246.9h0M125.1 236.7h0M135.4 255.7h0M153.1 228.1h0M115.6 249.8h0M97.6 242.0h0M153.9 227.1h0M131.1 234.5h0M122.9 237.7h0M163.7 227.6h0M149.9 230.0h0M141.2 237.6h0M132.1 236.6h0M111.4 243.4h0M157.1 231.8h0M124.1 242.2h0M152.4 240.6h0M109.3 241.2h0M148.3 239.2h0M82.7 242.5h0M136.1 246.8h0M144.1 227.1h0M131.6 234.1h0M95.8 248.1h0M128.8 246.3h0M123.2 243.7h0M111.6 251.5h0M133.1 259.5h0M113.7 263.5h0M154.6 222.4h0M131.3 249.9h0M110.8 240.3h0M131.0 254.6h0M155.8 245.1h0M123.7 230.3h0M128.7 244.5h0M156.1 232.1h0M118.8 236.7h0M137.1 258.2h0M121.6 232.9h0M95.0 246.3h0M120.0 254.6h0M116.9 263.8h0M128.6 237.4h0M134.6 235.6h0M130.8 240.9h0M128.0 252.2h0M116.6 247.0h0M139.3 259.8h0M140.5 249.0h0M123.8 248.0h0M144.7 226.8h0M131.5 238.8h0M116.4 248.8h0M138.7 240.9h0M152.1 214.2h0M134.8 252.1h0M122.0 244.7h0M158.4 224.4h0M106.8 246.8h0M137.1 232.2h0M134.8 247.8h0M129.4 251.8h0M164.7 237.9h0M124.8 236.0h0M131.2 246.8h0M123.2 253.6h0M130.1 232.0h0M153.2 244.2h0M130.6 242.9h0M140.2 236.0h0M141.4 240.4h0M120.4 259.2h0M124.9 228.4h0M170.0 230.0h0M145.2 248.1h0M125.8 245.3h0M141.0 248.0h0M155.0 249.9h0M125.4 228.5h0M128.2 254.1h0M134.3 240.7h0M116.1 245.5h0M111.5 253.8h0M130.4 233.8h0M116.7 244.0h0M141.1 243.9h0M112.7 247.4h0M114.8 235.9h0M123.8 245.8h0M136.1 229.3h0M151.0 227.9h0M146.6 240.2h0M123.1 242.1h0M147.4 237.4h0M133.9 247.4h0M122.8 242.1h0M124.3 249.4h0M134.7 237.9h0M130.9 241.5h0M140.7 244.1h0M119.8 233.1h0M150.3 238.4h0M124.4 234.9h0M130.7 243.7h0M132.7 242.7h0M123.6 240.1h0M135.9 242.5h0M132.7 246.2h0M142.8 245.3h0M131.9 241.0h0M130.8 248.1h0M141.9 240.4h0M129.1 241.0h0M133.8 237.7h0M124.4 245.9h0M144.3 239.1h0M132.4 242.7h0M142.1 230.3h0M134.5 237.9h0M137.7 245.1h0M145.3 247.3h0M125.8 242.3h0M131.6 241.7h0M116.1 238.1h0M119.7 244.4h0M128.3 238.6h0M140.6 237.5h0M125.8 241.2h0M119.0 240.3h0M135.2 242.6h0M113.7 240.3h0M131.7 239.4h0M135.3 244.8h0M130.9 244.1h0M121.6 244.0h0M124.5 244.8h0M140.5 245.8h0M126.7 245.8h0M141.7 236.8h0M138.6 241.5h0M139.7 242.6h0M147.4 234.3h0M124.6 240.4h0M119.8 241.2h0M132.1 242.3h0M130.1 237.5h0M135.6 250.6h0M133.6 237.8h0M123.1 247.5h0M134.5 239.4h0M139.2 243.9h0M126.2 248.9h0M125.1 234.4h0M128.7 243.1h0M116.4 238.6h0M142.1 242.6h0M121.1 251.3h0M126.7 237.8h0M131.1 245.9h0M130.0 240.2h0M140.8 244.1h0M116.3 243.7h0M136.2 248.4h0M140.4 238.6h0M139.4 240.5h0M130.6 241.9h0M137.7 238.4h0M113.4 241.2h0M135.7 238.3h0M118.8 241.1h0M138.8 233.1h0M109.7 247.1h0M132.7 245.6h0M143.9 240.2h0M141.9 243.5h0M147.1 237.1h0M131.9 231.9h0M136.5 244.2h0M143.6 234.9h0M128.8 243.0h0M129.5 233.0h0M126.7 240.0h0M142.9 236.9h0M118.7 244.4h0M129.7 241.8h0M134.4 236.0h0M129.4 245.1h0M135.3 244.3h0M130.2 237.8h0M133.0 237.4h0M128.6 232.4h0M118.0 246.8h0M130.1 243.5h0M143.7 245.4h0M133.3 245.4h0M139.0 229.2h0M126.5 241.5h0M138.8 243.7h0M114.5 247.1h0M107.1 246.3h0M140.5 235.6h0M115.0 278.7h0M111.1 287.9h0M101.3 293.5h0M93.2 284.0h0M99.5 281.4h0M100.1 278.0h0M103.4 285.0h0M103.5 296.6h0M108.8 280.3h0M107.1 286.6h0M107.2 278.3h0M96.4 281.1h0M104.8 295.7h0M110.3 280.0h0M114.5 305.7h0M105.9 294.3h0M105.1 279.0h0M102.6 304.4h0M103.8 283.1h0M105.4 284.0h0M110.6 304.3h0M103.3 283.9h0M114.8 290.8h0M103.3 280.4h0M109.7 301.3h0M95.5 286.9h0M102.6 281.0h0M108.8 301.4h0M101.0 304.7h0M105.1 294.2h0M97.6 278.6h0M113.4 286.6h0M97.8 285.7h0M103.1 282.3h0M108.9 277.6h0M104.9 304.7h0M99.1 300.7h0M107.8 286.6h0M107.1 272.4h0M93.1 297.9h0M105.9 279.6h0M109.9 296.1h0M117.5 274.8h0M99.1 281.9h0M109.8 289.0h0M114.8 304.1h0M111.8 284.5h0M98.1 273.4h0M108.0 278.1h0M104.0 275.3h0M95.5 290.1h0M101.4 305.8h0M106.6 302.3h0M106.8 276.3h0M104.2 280.8h0M99.6 302.7h0M115.3 286.1h0M109.4 296.1h0M106.3 299.1h0M108.5 300.4h0M100.6 284.0h0M112.3 278.6h0M101.5 284.2h0M100.8 279.8h0M104.2 286.1h0M106.7 289.1h0M104.9 290.3h0M110.2 276.6h0M107.1 281.7h0M104.0 282.1h0M104.0 281.4h0M101.2 285.2h0M107.8 275.4h0M110.9 275.0h0M110.8 294.8h0M108.0 276.0h0M108.5 300.7h0M107.0 286.9h0M98.6 280.8h0M106.1 287.0h0M102.9 298.6h0M97.9 295.9h0M99.2 298.8h0M104.4 284.1h0M110.3 278.1h0M105.1 299.3h0M98.9 290.1h0M109.6 287.1h0M102.1 302.6h0M115.6 293.0h0M110.5 291.8h0M100.7 279.8h0M112.0 295.3h0M106.6 302.6h0M106.7 293.1h0M101.7 279.2h0M114.3 269.3h0M115.5 295.9h0M98.5 292.4h0M99.6 278.5h0M97.1 305.3h0M117.7 301.6h0M112.8 287.9h0M107.8 291.1h0M108.2 296.1h0M103.2 285.5h0M100.4 286.7h0M106.4 278.8h0M104.3 286.3h0M100.7 282.3h0M101.8 292.4h0M115.8 289.1h0M99.7 299.9h0M105.8 276.8h0M104.3 303.9h0M105.2 295.9h0M96.1 283.7h0M101.3 280.3h0M96.8 282.1h0M100.4 282.4h0M107.3 277.5h0M106.9 272.0h0M100.5 300.1h0M108.7 293.9h0M105.7 284.0h0M102.9 301.8h0M103.1 293.8h0M103.4 302.6h0M98.1 278.8h0M101.7 303.2h0M107.1 285.9h0M115.8 297.1h0M97.2 278.8h0M106.8 277.7h0M109.6 285.0h0M99.4 303.6h0M101.6 288.3h0M108.6 295.5h0M112.9 283.6h0M99.8 277.9h0M113.7 296.9h0M101.1 280.5h0M112.8 283.6h0M98.2 288.3h0M119.2 280.9h0M113.4 284.0h0M103.8 291.2h0M102.9 293.9h0M107.4 305.1h0M114.8 296.9h0M110.0 273.7h0M98.1 297.3h0M101.2 281.4h0M114.4 285.2h0M113.9 298.4h0M116.5 292.4h0M108.1 273.9h0M101.6 267.9h0M108.9 292.8h0M104.0 303.3h0M100.8 285.0h0M108.2 284.7h0M105.6 282.2h0M111.9 282.4h0M109.5 301.2h0M98.7 294.9h0M101.1 274.5h0M108.0 275.8h0M111.5 290.2h0M112.7 284.1h0M110.1 289.4h0M94.8 298.2h0M104.3 306.3h0M97.9 279.0h0M101.3 294.6h0M104.5 298.6h0M96.8 273.4h0M102.9 269.2h0M108.0 304.5h0M105.1 284.0h0M97.4 281.9h0M105.6 289.2h0M109.2 277.0h0M113.5 273.5h0M113.1 282.7h0M108.5 285.6h0M104.0 294.8h0M110.4 279.4h0M94.3 293.8h0M110.0 278.9h0M95.1 302.2h0M102.3 287.0h0M106.4 299.1h0M110.3 282.8h0M107.2 302.5h0M103.6 301.6h0M102.5 296.1h0M112.3 282.0h0M105.7 293.0h0M107.9 302.8h0M102.4 294.4h0M105.7 289.7h0M119.1 275.3h0M105.6 281.8h0M109.5 280.0h0M106.1 280.2h0M110.2 286.6h0M111.7 301.5h0M110.3 273.2h0M95.2 285.1h0M109.6 292.8h0M110.9 300.0h0M103.1 285.3h0M99.2 298.2h0M97.4 297.7h0M106.2 298.3h0M109.0 286.7h0M107.7 293.8h0M101.8 278.5h0M118.9 283.3h0M97.5 296.1h0M114.5 306.4h0M106.8 286.4h0M106.6 284.3h0M113.2 285.4h0M100.7 299.6h0M99.5 274.1h0M104.8 275.5h0M96.7 298.5h0M110.5 280.3h0M102.7 295.6h0M102.8 280.9h0M116.8 304.8h0M112.2 295.7h0M95.7 297.3h0M101.5 300.1h0M106.5 299.5h0M104.7 282.0h0M113.5 282.5h0M117.8 271.1h0M101.7 295.5h0M109.7 302.7h0M102.7 270.5h0M106.3 280.3h0M101.7 295.2h0M104.2 297.6h0M113.5 306.4h0M103.3 297.6h0M108.9 295.6h0M111.0 297.0h0M111.1 291.6h0M99.3 278.8h0M97.6 273.8h0M99.0 290.6h0M100.7 283.7h0M103.0 291.9h0M99.6 277.4h0M110.8 286.4h0M114.9 275.2h0M101.4 274.0h0M95.8 287.9h0M109.6 303.5h0M104.5 278.2h0M116.3 281.0h0M109.0 295.8h0M102.6 303.8h0M109.1 288.5h0M107.6 283.3h0M96.9 272.3h0M111.2 285.2h0M111.4 298.9h0M108.9 302.1h0M112.3 270.6h0M107.9 286.7h0M112.1 292.5h0M107.6 281.7h0M111.5 273.9h0M107.3 293.1h0M109.4 298.3h0M113.2 297.8h0M106.8 276.4h0M111.7 303.5h0M108.1 300.0h0M103.6 295.6h0M94.3 301.7h0M105.3 285.0h0M111.4 287.8h0M100.7 277.6h0M98.2 300.6h0M111.4 299.0h0M96.1 286.9h0M104.5 284.2h0M106.4 304.2h0M102.2 295.2h0M105.2 286.1h0M101.0 283.3h0M110.6 296.7h0M103.9 293.3h0M105.2 295.5h0M109.1 279.7h0M106.9 292.6h0M97.7 285.2h0M101.4 278.8h0M111.3 282.0h0M101.4 294.2h0M110.3 299.4h0M102.5 282.0h0M109.6 277.5h0M99.5 294.9h0M97.4 295.1h0M100.6 273.6h0M112.4 283.1h0M109.2 284.8h0M105.5 280.2h0M100.2 283.7h0M112.2 280.5h0M97.8 271.8h0M114.7 288.6h0M111.0 283.9h0M101.4 288.9h0M109.7 302.3h0M110.7 302.7h0M99.5 301.5h0M107.6 295.9h0M100.9 290.1h0M112.0 301.8h0M97.8 277.6h0M100.3 282.8h0M114.9 301.7h0M105.6 298.2h0M100.0 294.9h0M102.0 285.1h0M114.4 303.6h0M96.2 284.7h0M98.3 285.9h0M100.3 286.7h0M98.8 291.6h0M113.7 305.8h0M103.0 288.2h0M105.1 276.3h0M111.8 275.1h0M98.4 296.2h0M101.7 293.6h0M99.0 304.0h0M109.5 282.2h0M100.7 301.9h0M111.9 303.8h0M111.5 301.5h0M98.6 286.3h0M100.8 304.8h0M104.7 285.8h0M110.4 287.9h0M107.5 292.4h0M107.8 299.5h0M109.8 280.9h0M108.9 295.1h0M101.5 294.7h0M109.3 291.5h0M114.1 299.2h0M108.2 305.3h0M107.1 296.7h0M102.3 295.8h0M105.4 297.1h0M107.4 279.2h0M107.0 277.5h0M108.4 280.9h0M106.4 277.4h0M101.4 305.6h0M107.4 291.0h0M101.1 294.4h0M111.0 302.1h0M97.7 274.5h0M108.1 276.0h0M109.4 280.5h0M102.8 287.2h0M111.4 284.2h0M107.2 275.8h0M98.7 291.6h0M103.6 295.1h0M110.0 278.9h0M109.5 282.9h0M98.6 302.6h0M109.6 285.5h0M101.3 271.3h0M110.4 272.4h0M105.8 269.7h0M98.8 278.6h0M104.7 301.6h0M107.1 275.6h0M91.1 304.9h0M104.9 304.7h0M105.6 286.4h0M112.8 288.8h0M110.4 294.4h0M103.4 298.9h0M108.4 299.6h0M100.0 289.7h0M106.2 290.6h0M114.4 283.6h0M98.1 294.3h0M106.7 276.5h0M108.3 275.5h0M99.9 301.0h0M111.6 275.7h0M102.0 297.6h0M105.1 286.4h0M110.0 293.4h0M97.0 278.4h0M105.9 276.5h0M103.1 296.7h0M103.2 274.9h0M114.8 285.1h0M116.1 292.9h0M100.3 299.6h0M102.0 291.9h0M93.8 297.7h0M100.5 273.3h0M109.8 299.7h0M109.1 285.6h0M100.7 275.3h0M111.4 277.1h0M109.0 274.8h0M113.7 290.8h0M107.9 306.6h0M103.8 297.5h0M105.0 277.4h0M102.1 287.0h0M108.4 294.9h0M104.4 281.4h0M110.0 297.0h0M101.1 286.4h0M107.6 296.8h0M100.5 289.1h0M117.4 289.2h0M114.7 280.1h0M104.5 300.2h0M99.8 296.5h0M106.3 283.4h0M102.5 299.0h0M104.0 283.6h0M106.0 297.7h0M103.0 282.3h0M109.1 291.6h0M107.3 297.8h0M115.6 277.0h0M105.6 274.3h0M103.8 278.9h0M96.2 291.4h0M103.2 270.5h0M114.6 302.5h0M107.2 286.6h0M107.2 283.2h0M108.4 285.4h0M113.2 306.2h0M100.9 294.9h0M104.2 305.6h0M104.2 302.6h0M114.1 282.2h0M107.2 285.9h0M103.9 294.5h0M102.2 280.6h0M109.9 279.7h0M100.4 295.5h0M105.5 288.7h0M100.4 299.2h0M99.5 285.6h0M103.1 275.0h0M105.1 300.4h0M104.6 292.3h0M98.4 306.0h0M93.0 279.0h0M103.6 295.7h0M106.1 289.0h0M103.0 291.1h0M105.5 282.2h0M100.9 300.9h0M104.8 302.2h0M102.3 268.3h0M96.4 296.4h0M109.1 293.2h0M108.3 289.4h0M104.7 290.8h0M111.4 287.2h0M104.8 291.8h0M110.9 289.2h0M113.2 291.5h0M101.2 300.4h0M100.1 305.4h0M107.3 301.3h0M103.9 284.5h0M105.0 294.0h0M99.2 298.5h0M100.6 297.6h0M103.1 280.3h0M114.9 285.5h0M115.3 278.0h0M103.3 293.7h0M102.0 293.4h0M111.0 304.6h0M112.8 291.5h0M111.8 302.8h0M99.9 280.8h0M111.9 267.8h0M110.0 291.2h0M105.8 270.5h0M108.0 302.9h0M105.1 286.9h0M100.3 287.9h0M105.2 295.5h0M113.9 279.1h0M109.3 282.9h0M100.1 298.9h0M109.5 287.1h0M100.2 292.2h0M105.7 273.2h0M106.2 285.1h0M110.9 297.5h0M102.2 291.5h0M107.7 300.1h0M107.5 301.8h0M108.9 287.1h0M110.9 273.3h0M99.2 297.6h0M101.6 285.1h0M98.7 286.1h0M113.2 289.4h0M108.3 299.2h0M105.7 282.6h0M104.3 289.7h0M104.3 300.9h0M102.9 306.0h0M115.2 287.7h0M90.9 303.5h0M110.3 291.4h0M106.3 282.2h0M98.5 285.3h0M106.0 287.6h0M101.8 273.3h0M109.0 301.7h0M105.1 300.0h0M102.2 283.2h0M109.5 299.3h0M107.7 285.5h0M104.2 267.3h0M104.7 293.8h0M108.7 292.5h0M108.3 283.6h0M114.4 281.5h0M103.2 297.2h0M103.6 283.0h0M108.9 305.6h0M96.3 289.1h0M100.4 297.5h0M107.7 296.0h0M109.9 284.6h0M101.5 295.4h0M108.5 283.7h0M110.1 291.1h0M106.4 284.1h0M97.7 299.0h0M96.7 289.0h0M108.5 301.2h0M105.1 276.7h0M97.9 289.6h0M118.3 278.0h0M107.1 294.1h0M100.7 290.2h0M97.2 302.2h0M108.5 291.9h0M109.6 291.9h0M100.8 280.7h0M112.8 286.6h0M100.0 298.0h0M99.8 293.8h0M103.7 290.8h0M106.8 293.9h0M102.1 275.7h0M108.9 283.3h0M105.8 297.2h0M100.5 298.3h0M117.5 289.4h0M110.4 295.9h0M103.7 295.9h0M98.3 292.1h0M115.0 286.6h0M109.5 273.9h0M102.2 283.9h0M104.3 292.2h0M104.9 292.8h0M109.5 277.9h0M102.0 283.8h0M104.1 298.8h0M109.7 293.9h0M106.5 296.7h0M98.9 281.9h0M101.5 302.8h0M108.8 283.9h0M86.4 302.9h0M83.3 278.2h0M81.8 285.0h0M90.0 286.9h0M95.6 301.3h0M81.2 295.8h0M86.6 301.4h0M94.6 290.0h0M80.9 282.1h0M93.3 284.1h0M82.1 304.1h0M81.1 301.1h0M88.9 295.6h0M84.9 272.1h0M91.9 301.7h0M88.0 277.3h0M89.2 285.3h0M87.5 277.7h0M89.4 293.2h0M95.9 280.7h0M83.1 296.0h0M89.1 286.6h0M90.4 286.4h0M92.8 299.0h0M95.0 297.1h0M94.6 275.3h0M89.5 275.5h0M82.7 286.4h0M89.0 302.1h0M94.2 280.8h0M88.7 272.9h0M87.9 280.6h0M85.6 284.0h0M83.7 305.7h0M82.1 277.2h0M87.1 288.0h0M89.9 305.0h0M93.9 286.9h0M91.9 293.7h0M95.0 302.1h0M87.2 292.6h0M83.0 298.1h0M83.2 272.7h0M81.4 294.6h0M81.9 297.7h0M88.1 302.4h0M92.7 272.3h0M84.7 301.9h0M94.5 278.4h0M88.7 278.2h0M84.2 285.9h0M92.1 303.0h0M84.5 291.4h0M137.2 287.7h0M166.8 298.7h0M161.0 267.8h0M166.7 282.0h0M140.8 298.4h0M160.5 280.9h0M136.5 287.8h0M151.4 300.9h0M174.4 280.8h0M148.8 289.9h0M148.6 291.5h0M138.3 290.6h0M163.8 296.4h0M157.9 296.3h0M148.1 278.3h0M127.6 293.9h0M156.2 285.1h0M129.0 289.3h0M162.9 285.9h0M136.1 284.1h0M148.4 295.8h0M151.1 269.9h0M140.9 278.0h0M150.5 296.7h0M171.9 288.3h0M171.7 279.4h0M126.3 299.2h0M154.3 294.3h0M158.5 291.6h0M150.3 287.0h0M139.2 280.1h0M159.0 277.3h0M162.4 283.3h0M129.9 284.4h0M157.9 298.3h0M169.2 274.4h0M130.8 286.1h0M163.7 282.0h0M125.2 288.0h0M171.3 301.0h0M156.2 304.1h0M154.4 298.6h0M151.3 299.7h0M140.1 293.0h0M170.9 305.7h0M134.7 298.0h0M168.8 290.7h0M123.5 297.7h0M124.3 279.9h0M167.9 280.9h0M177.3 273.0h0M150.7 293.7h0M140.9 303.1h0M123.8 300.7h0M131.3 281.8h0M147.9 305.7h0M147.7 296.2h0M166.7 294.7h0M167.7 305.8h0M144.7 293.1h0M167.4 284.2h0M130.2 274.2h0M184.1 292.3h0M136.5 290.8h0M182.0 272.3h0M120.1 278.3h0M139.0 300.5h0M143.4 288.3h0M135.2 288.4h0M163.3 292.6h0M139.2 289.2h0M145.0 275.8h0M142.6 299.4h0M184.1 299.0h0M141.7 305.7h0M169.8 272.4h0M143.0 273.1h0M129.8 292.1h0M128.7 289.9h0M93.8 248.6h0M87.6 224.8h0M87.7 235.9h0M93.2 256.1h0M88.4 236.3h0M93.5 235.5h0M90.0 250.7h0M91.1 257.9h0M91.9 244.4h0M92.4 237.9h0M84.4 259.0h0M101.9 236.6h0M97.2 237.0h0M91.9 238.9h0M97.2 241.4h0M97.4 235.0h0M98.6 238.3h0M95.8 236.4h0M100.8 245.5h0M103.7 239.3h0M98.1 235.4h0M105.9 233.8h0M95.5 244.7h0M103.1 235.9h0M100.8 243.3h0M101.1 237.2h0M97.6 243.0h0M109.2 265.8h0M112.8 219.0h0M138.3 231.0h0M167.7 215.6h0M132.4 221.4h0M141.7 226.9h0" stroke="#000" stroke-opacity="0.45" stroke-width="1.4" stroke-linecap="round" fill="none"/>
<path d="M124.6 239.8h0M136.9 244.5h0M129.7 264.5h0M169.3 245.4h0M142.7 241.6h0M129.9 235.9h0M127.5 247.7h0M143.2 241.6h0M130.1 237.8h0M148.0 224.9h0M105.1 249.9h0M115.8 232.9h0M142.4 250.1h0M138.6 246.7h0M119.7 241.7h0M127.1 266.2h0M130.9 251.5h0M130.1 255.9h0M132.6 239.7h0M137.7 250.7h0M103.5 235.2h0M148.8 232.5h0M126.1 244.4h0M129.7 235.6h0M142.8 239.3h0M166.2 255.6h0M128.2 249.2h0M150.0 212.6h0M116.6 234.9h0M129.6 249.9h0M134.7 249.1h0M106.5 251.2h0M133.2 251.1h0M132.5 262.6h0M125.1 234.2h0M155.0 237.0h0M116.9 255.5h0M126.7 244.8h0M107.8 241.1h0M109.9 249.6h0M146.7 235.3h0M136.1 238.5h0M125.8 244.5h0M135.0 246.2h0M130.6 244.3h0M112.6 244.6h0M112.8 251.7h0M123.9 237.0h0M140.4 237.6h0M109.3 257.3h0M150.9 227.8h0M140.1 240.1h0M136.8 248.5h0M143.5 244.7h0M137.9 242.0h0M138.0 220.8h0M141.4 254.6h0M150.0 232.1h0M122.3 255.1h0M153.6 234.7h0M154.8 251.0h0M102.0 249.6h0M135.5 238.1h0M154.1 238.6h0M121.2 250.7h0M136.6 244.2h0M127.2 244.6h0M135.7 252.7h0M135.1 243.7h0M119.6 230.7h0M125.0 246.7h0M154.8 229.2h0M144.1 248.6h0M138.9 226.0h0M132.5 231.4h0M160.5 248.8h0M133.8 253.7h0M128.5 258.4h0M133.3 253.9h0M122.5 252.1h0M160.6 232.8h0M146.4 248.3h0M157.2 232.5h0M133.0 250.9h0M132.9 235.7h0M145.4 230.6h0M161.1 253.7h0M114.4 236.6h0M160.1 239.8h0M122.8 241.9h0M136.8 240.3h0M157.4 238.5h0M149.5 246.2h0M118.9 243.6h0M118.7 239.6h0M139.3 232.2h0M125.1 240.8h0M113.5 255.9h0M129.3 248.8h0M138.9 231.0h0M142.9 239.9h0M124.9 260.2h0M118.7 259.6h0M146.1 236.6h0M141.6 246.2h0M142.7 233.5h0M134.2 248.6h0M147.5 237.8h0M139.5 228.1h0M158.0 254.2h0M141.7 245.5h0M132.1 261.0h0M96.7 257.8h0M121.9 241.6h0M154.4 231.0h0M120.3 252.2h0M117.3 258.1h0M126.8 241.4h0M131.2 245.0h0M122.1 257.0h0M137.9 234.4h0M120.5 240.6h0M129.7 228.8h0M134.6 229.5h0M105.8 250.6h0M124.5 258.4h0M147.1 242.1h0M136.4 246.5h0M144.3 242.1h0M141.5 251.8h0M149.1 225.1h0M129.1 241.7h0M137.5 249.6h0M147.1 239.5h0M150.1 233.1h0M132.1 238.7h0M145.8 235.6h0M174.5 241.8h0M141.9 233.5h0M130.4 237.2h0M114.2 246.2h0M127.6 256.2h0M126.8 242.6h0M119.7 238.3h0M127.1 256.2h0M115.5 243.5h0M160.0 237.4h0M140.4 244.4h0M131.1 251.7h0M154.4 244.2h0M130.2 260.3h0M133.8 238.0h0M158.8 251.2h0M136.4 257.5h0M153.4 249.6h0M135.8 251.1h0M129.1 242.8h0M123.1 246.8h0M139.8 238.5h0M118.4 247.7h0M144.1 242.7h0M142.2 248.8h0M120.3 252.3h0M135.3 237.4h0M118.6 240.3h0M136.2 232.5h0M112.2 250.4h0M115.8 248.5h0M137.6 233.4h0M156.9 248.9h0M165.6 243.2h0M141.8 239.4h0M136.9 216.1h0M151.6 246.3h0M133.4 264.1h0M139.6 253.6h0M134.0 227.2h0M137.8 259.0h0M135.9 247.3h0M144.3 243.0h0M145.9 242.5h0M123.7 233.9h0M149.4 259.1h0M129.2 247.0h0M120.0 252.7h0M155.8 228.1h0M131.0 241.2h0M122.8 262.0h0M120.7 257.8h0M123.2 249.5h0M112.0 247.1h0M152.7 235.7h0M133.6 273.4h0M150.7 223.1h0M126.8 244.9h0M149.6 241.0h0M93.7 251.8h0M131.9 241.1h0M99.9 235.2h0M140.3 250.3h0M155.3 253.0h0M131.6 258.9h0M118.3 238.2h0M147.2 230.4h0M142.8 234.1h0M138.0 252.6h0M135.4 237.8h0M122.0 243.6h0M125.7 246.3h0M138.9 242.1h0M158.1 222.3h0M110.5 234.3h0M135.2 240.1h0M136.4 247.1h0M139.7 242.2h0M155.0 225.2h0M156.0 242.6h0M148.6 235.1h0M143.9 248.8h0M140.4 247.1h0M125.5 238.6h0M108.2 255.4h0M151.2 235.4h0M131.4 221.8h0M142.4 237.3h0M137.3 239.2h0M128.8 246.7h0M135.5 245.3h0M115.2 236.4h0M137.2 225.4h0M137.1 264.6h0M143.5 243.6h0M134.4 235.1h0M137.8 231.5h0M125.1 244.9h0M148.8 245.4h0M145.8 244.6h0M105.8 250.6h0M147.8 235.0h0M127.3 242.0h0M142.1 243.5h0M121.9 254.4h0M116.9 223.5h0M147.6 251.0h0M141.9 269.6h0M151.0 231.5h0M135.1 225.0h0M146.6 260.3h0M146.9 226.6h0M130.2 230.7h0M111.2 261.7h0M118.3 256.7h0M134.1 237.6h0M140.7 252.2h0M134.4 253.2h0M106.6 237.7h0M121.6 225.8h0M132.9 250.5h0M135.4 235.7h0M103.0 254.1h0M135.7 233.0h0M124.1 241.9h0M136.2 241.4h0M133.5 234.2h0M142.6 270.8h0M152.6 250.6h0M148.4 236.6h0M128.5 242.3h0M133.8 238.7h0M127.2 240.6h0M168.1 231.5h0M120.0 240.1h0M129.9 242.1h0M133.9 231.5h0M126.1 250.5h0M140.1 249.1h0M125.3 233.5h0M146.0 237.9h0M146.5 256.3h0M152.3 239.6h0M159.2 240.5h0M128.8 250.2h0M130.4 246.8h0M124.7 240.5h0M122.9 247.3h0M121.7 242.9h0M133.5 248.0h0M125.6 240.7h0M133.7 245.0h0M144.4 239.3h0M121.4 246.8h0M121.9 245.2h0M125.7 239.0h0M122.3 245.7h0M139.8 246.1h0M121.2 243.3h0M123.7 248.2h0M129.4 239.1h0M136.0 249.6h0M135.2 237.1h0M127.6 238.3h0M128.1 238.7h0M132.7 242.6h0M137.6 241.0h0M135.6 244.9h0M129.7 237.1h0M138.0 245.1h0M130.7 237.0h0M129.4 237.1h0M137.9 239.1h0M140.6 239.2h0M139.5 238.6h0M140.3 237.0h0M135.7 237.5h0M132.8 244.1h0M125.9 244.6h0M128.0 246.1h0M120.2 242.1h0M132.5 248.8h0M132.5 238.1h0M144.9 240.8h0M116.0 240.1h0M133.9 239.2h0M138.9 244.3h0M138.6 239.3h0M133.8 243.7h0M141.0 237.8h0M146.9 243.0h0M125.1 239.7h0M128.5 236.2h0M116.1 251.6h0M110.2 239.7h0M130.8 240.6h0M133.9 240.9h0M120.4 238.2h0M136.2 237.9h0M119.6 240.7h0M132.3 236.6h0M130.9 240.5h0M110.1 248.8h0M125.1 238.9h0M129.8 232.5h0M137.7 244.5h0M119.8 236.8h0M134.1 245.6h0M118.4 245.3h0M135.5 247.7h0M122.1 245.3h0M134.1 239.5h0M143.0 240.9h0M138.0 245.3h0M120.8 247.1h0M125.5 244.5h0M141.8 242.0h0M136.4 245.8h0M139.2 243.3h0M127.6 243.1h0M126.8 245.9h0M124.2 240.9h0M125.8 242.2h0M128.4 240.5h0M144.6 241.5h0M124.4 252.9h0M126.2 249.1h0M134.1 239.4h0M133.9 244.9h0M134.0 238.7h0M130.4 241.8h0M134.7 247.0h0M129.8 233.5h0M137.1 235.0h0M120.2 244.5h0M125.9 240.2h0M128.7 241.5h0M153.1 241.6h0M119.9 253.9h0M133.5 240.1h0M118.5 241.9h0M125.3 238.4h0M143.3 241.2h0M129.7 254.0h0M117.7 234.8h0M133.8 253.6h0M131.8 245.3h0M136.9 243.8h0M119.0 240.5h0M126.5 244.5h0M120.7 237.3h0M128.4 241.7h0M124.1 238.6h0M115.9 237.4h0M120.2 248.2h0M139.5 235.4h0M129.4 235.8h0M133.3 239.6h0M134.3 253.4h0M120.5 241.8h0M114.1 249.1h0M136.8 235.6h0M118.2 249.1h0M130.3 247.7h0M120.1 239.9h0M128.3 246.1h0M123.2 241.4h0M118.8 238.7h0M131.2 243.9h0M110.2 288.0h0M112.4 300.7h0M104.5 289.7h0M97.6 294.0h0M106.9 296.5h0M114.3 285.5h0M107.2 291.1h0M116.8 291.1h0M97.0 281.4h0M106.6 277.8h0M104.4 275.7h0M104.8 279.3h0M96.1 289.0h0M102.2 306.5h0M112.8 296.9h0M99.0 280.5h0M105.5 300.0h0M105.2 286.3h0M107.7 288.9h0M103.0 284.9h0M108.2 304.5h0M98.8 303.5h0M107.9 283.9h0M96.2 298.3h0M98.8 300.8h0M100.0 288.9h0M105.8 290.5h0M109.9 295.6h0M100.4 305.2h0M113.6 296.9h0M110.5 281.2h0M99.0 292.4h0M108.0 299.6h0M116.6 295.2h0M101.7 290.4h0M99.9 280.6h0M102.3 276.0h0M108.4 296.1h0M107.9 274.5h0M113.4 286.0h0M97.0 281.2h0M113.2 277.9h0M104.6 277.4h0M113.8 270.0h0M112.7 297.4h0M101.0 282.5h0M104.1 299.0h0M107.3 306.4h0M102.1 298.5h0M110.4 288.5h0M97.8 279.2h0M102.1 284.5h0M94.8 302.7h0M114.5 296.1h0M114.4 291.4h0M103.6 270.0h0M112.6 306.7h0M99.4 284.1h0M110.9 274.3h0M99.2 271.4h0M96.8 275.8h0M98.6 283.8h0M108.2 271.1h0M103.7 278.0h0M107.6 291.3h0M107.1 305.6h0M98.5 281.1h0M95.5 301.1h0M101.4 290.7h0M100.1 297.1h0M109.9 291.9h0M107.9 288.9h0M99.3 285.2h0M95.3 304.7h0M115.9 302.4h0M114.3 279.4h0M114.6 280.5h0M101.2 283.8h0M101.4 296.7h0M109.8 295.7h0M110.8 281.0h0M109.0 306.4h0M113.2 303.2h0M105.7 281.0h0M97.6 288.8h0M108.9 299.6h0M94.4 290.8h0M94.5 306.7h0M95.4 299.0h0M100.5 290.3h0M94.4 286.3h0M100.3 302.7h0M108.9 283.6h0M107.6 295.1h0M105.4 281.8h0M105.4 293.8h0M109.4 302.9h0M100.3 299.5h0M113.7 286.9h0M112.9 295.4h0M100.3 302.2h0M108.1 298.3h0M108.1 282.1h0M101.7 295.1h0M105.0 303.5h0M112.4 300.4h0M105.7 295.9h0M111.1 302.7h0M107.4 283.2h0M94.2 276.3h0M95.6 295.6h0M113.0 277.9h0M110.5 294.5h0M108.8 286.9h0M112.4 297.3h0M100.9 299.0h0M116.7 295.3h0M97.7 294.9h0M106.8 296.2h0M106.6 274.3h0M113.8 304.5h0M109.6 274.3h0M112.4 301.9h0M97.4 283.1h0M110.0 289.9h0M105.7 287.8h0M101.5 290.5h0M109.9 306.0h0M112.9 300.4h0M116.0 276.7h0M109.8 278.1h0M107.4 284.1h0M102.6 301.4h0M110.8 305.9h0M98.3 295.5h0M105.2 296.8h0M96.9 301.9h0M94.4 287.7h0M110.9 275.0h0M114.0 284.9h0M105.9 279.6h0M101.4 300.0h0M115.0 284.3h0M109.7 300.2h0M101.8 292.5h0M98.8 298.8h0M110.9 306.5h0M103.7 288.0h0M111.3 305.5h0M107.8 274.0h0M109.2 297.1h0M97.8 304.9h0M102.3 280.5h0M102.5 279.5h0M103.8 293.8h0M111.5 304.8h0M112.2 285.4h0M105.0 293.3h0M108.2 280.3h0M107.8 306.7h0M99.7 294.6h0M104.3 302.2h0M101.0 283.6h0M99.6 296.3h0M109.9 293.3h0M96.2 304.3h0M115.8 283.4h0M114.6 284.3h0M114.0 278.9h0M112.3 286.9h0M107.7 290.2h0M114.5 280.7h0M108.0 277.7h0M112.7 279.0h0M101.8 279.3h0M108.9 279.5h0M114.3 277.5h0M105.7 284.2h0M117.1 283.5h0M105.3 289.3h0M102.7 281.2h0M100.5 293.9h0M100.2 274.1h0M110.2 287.5h0M115.6 305.7h0M100.7 305.4h0M108.2 279.0h0M116.3 302.5h0M99.1 293.0h0M100.1 304.7h0M110.2 289.2h0M102.7 298.6h0M114.7 289.2h0M114.4 278.8h0M109.6 297.5h0M107.9 283.8h0M103.1 290.6h0M92.1 300.3h0M110.6 304.0h0M109.3 291.5h0M104.4 281.6h0M103.0 294.2h0M102.9 281.7h0M105.3 293.2h0M98.8 303.4h0M105.4 279.5h0M101.5 279.9h0M111.6 290.1h0M108.0 293.5h0M110.9 300.8h0M103.4 288.9h0M98.9 289.2h0M104.5 305.1h0M98.3 279.7h0M101.8 300.4h0M102.8 280.4h0M104.4 291.7h0M107.6 299.4h0M101.4 297.5h0M101.8 274.5h0M105.9 277.8h0M100.2 285.9h0M103.4 298.9h0M109.9 286.4h0M108.6 284.7h0M104.3 303.9h0M101.4 294.8h0M107.7 280.0h0M106.8 275.3h0M110.1 286.9h0M99.7 296.5h0M108.9 275.9h0M112.5 274.4h0M103.8 286.2h0M111.0 279.3h0M108.8 285.9h0M101.4 278.8h0M106.1 289.8h0M94.2 304.3h0M102.5 291.8h0M101.5 280.0h0M100.4 294.3h0M98.8 285.0h0M112.2 274.5h0M105.9 306.7h0M113.8 285.3h0M114.3 301.3h0M102.8 272.6h0M100.3 302.5h0M106.5 290.1h0M106.2 302.0h0M104.8 301.7h0M109.7 286.8h0M103.9 294.7h0M110.9 293.9h0M99.4 295.7h0M104.7 276.7h0M106.5 302.9h0M109.4 292.9h0M106.6 300.7h0M100.4 275.8h0M96.7 305.1h0M96.9 290.3h0M99.9 275.5h0M105.4 275.8h0M104.9 285.4h0M104.0 279.2h0M108.9 293.1h0M105.6 292.4h0M99.6 276.6h0M105.8 285.4h0M104.2 275.4h0M108.4 279.0h0M105.2 278.7h0M106.6 281.5h0M106.7 293.7h0M108.2 284.3h0M113.5 297.3h0M105.3 288.1h0M108.5 288.8h0M102.4 281.8h0M109.5 302.0h0M98.4 282.7h0M101.5 282.7h0M103.2 293.2h0M107.6 296.6h0M107.4 273.5h0M94.2 306.7h0M106.7 285.9h0M100.3 288.4h0M100.0 281.8h0M105.8 291.7h0M116.4 281.8h0M99.8 297.1h0M94.7 283.6h0M113.5 287.0h0M106.9 274.7h0M103.5 291.1h0M105.0 283.8h0M103.5 273.0h0M112.8 286.1h0M102.4 270.7h0M100.5 278.6h0M98.2 272.9h0M98.2 304.4h0M111.5 292.5h0M104.8 295.1h0M102.7 294.4h0M92.9 300.1h0M111.8 292.7h0M105.7 303.0h0M116.3 279.8h0M112.8 304.0h0M102.8 291.6h0M95.6 277.5h0M108.2 284.7h0M97.1 273.9h0M110.0 292.8h0M99.4 293.7h0M104.6 305.0h0M104.6 303.2h0M113.8 303.8h0M97.9 287.4h0M105.4 299.2h0M105.2 288.3h0M100.6 272.2h0M114.5 275.3h0M95.3 284.1h0M109.8 299.6h0M96.4 301.7h0M96.9 290.6h0M98.7 285.3h0M117.2 299.7h0M100.5 287.0h0M93.5 285.3h0M116.4 285.1h0M104.4 299.3h0M111.6 290.2h0M92.1 274.2h0M104.2 294.6h0M113.6 292.5h0M116.0 297.0h0M100.0 285.7h0M107.7 297.6h0M108.0 290.2h0M105.0 299.2h0M110.0 285.6h0M114.9 294.5h0M103.1 287.9h0M106.7 275.8h0M109.5 286.1h0M118.2 300.3h0M108.3 301.1h0M101.0 278.7h0M111.3 297.2h0M106.0 295.3h0M106.8 294.9h0M110.3 273.3h0M105.1 281.8h0M101.7 287.7h0M108.2 287.1h0M105.9 305.2h0M110.4 289.0h0M98.2 301.2h0M105.9 296.2h0M113.5 291.3h0M106.2 274.5h0M111.6 283.1h0M106.5 279.7h0M111.6 275.3h0M114.8 293.7h0M103.4 302.6h0M99.4 276.9h0M108.3 284.3h0M113.5 287.9h0M108.3 290.2h0M106.4 277.0h0M106.8 273.7h0M103.3 304.3h0M103.4 275.5h0M100.6 275.9h0M113.0 274.7h0M105.9 279.0h0M109.8 303.5h0M101.3 293.4h0M114.8 293.7h0M103.6 304.6h0M96.8 280.2h0M105.5 271.2h0M107.3 286.3h0M105.5 275.4h0M98.6 275.2h0M109.1 300.1h0M112.1 303.7h0M105.1 291.2h0M113.2 283.5h0M97.8 300.0h0M109.5 304.4h0M94.3 299.5h0M105.7 284.8h0M112.8 303.4h0M110.5 299.0h0M102.8 306.2h0M102.4 301.1h0M106.7 280.3h0M111.7 284.0h0M109.2 276.5h0M102.4 281.4h0M104.1 296.6h0M115.0 287.8h0M102.4 289.0h0M103.4 290.3h0M120.6 304.7h0M109.2 291.3h0M115.0 298.1h0M98.4 289.6h0M101.3 280.8h0M113.4 279.2h0M113.8 302.3h0M115.2 293.2h0M105.5 304.5h0M105.9 288.5h0M115.5 286.2h0M101.4 271.5h0M115.6 306.2h0M106.5 303.5h0M111.5 288.8h0M109.2 276.7h0M97.7 295.6h0M112.7 283.2h0M100.1 296.0h0M116.0 297.8h0M97.2 297.5h0M117.0 283.9h0M111.8 299.8h0M109.0 284.5h0M97.1 282.7h0M113.2 281.0h0M101.4 304.5h0M105.2 277.6h0M110.2 284.6h0M114.8 298.0h0M116.6 285.8h0M103.9 283.5h0M110.5 282.5h0M109.6 288.3h0M101.4 275.8h0M114.0 278.5h0M100.7 280.6h0M103.1 295.4h0M108.9 290.2h0M99.9 305.5h0M105.7 287.6h0M101.6 304.0h0M108.0 290.1h0M111.3 297.6h0M107.6 303.5h0M109.3 284.4h0M103.7 293.1h0M101.2 279.2h0M100.1 296.4h0M105.5 299.7h0M97.5 306.0h0M104.4 297.3h0M102.9 278.4h0M100.4 295.0h0M109.5 303.8h0M115.3 282.1h0M96.2 283.0h0M105.6 273.2h0M102.7 280.3h0M109.2 300.8h0M101.3 280.2h0M97.9 293.2h0M114.5 280.2h0M100.6 277.0h0M103.2 280.8h0M107.1 281.8h0M108.9 301.2h0M113.1 295.5h0M106.6 282.3h0M114.9 299.2h0M101.5 276.4h0M94.3 291.3h0M113.7 289.3h0M100.0 301.7h0M107.2 276.9h0M112.7 278.5h0M107.5 289.7h0M113.3 285.4h0M106.7 292.8h0M100.9 294.8h0M105.9 279.4h0M112.9 283.4h0M106.6 302.2h0M117.8 299.0h0M105.5 283.8h0M102.1 297.1h0M98.4 275.8h0M99.1 282.3h0M107.2 297.7h0M109.3 285.6h0M99.1 283.5h0M99.3 301.1h0M90.6 286.4h0M118.1 280.0h0M104.4 299.2h0M101.6 287.0h0M106.2 297.2h0M110.1 305.4h0M105.6 287.8h0M105.8 291.5h0M111.4 295.4h0M109.7 295.9h0M112.9 275.2h0M107.7 287.7h0M103.0 300.3h0M110.3 304.3h0M109.2 286.8h0M104.1 287.3h0M105.7 294.6h0M101.4 301.2h0M107.2 299.2h0M118.7 296.3h0M97.1 294.2h0M90.8 283.8h0M100.4 290.7h0M101.8 283.8h0M105.7 276.9h0M113.5 285.2h0M107.2 287.9h0M102.0 288.4h0M104.0 285.4h0M102.4 286.3h0M107.6 300.4h0M109.6 287.2h0M107.2 269.2h0M104.7 303.1h0M94.7 288.4h0M109.5 290.5h0M111.7 297.8h0M101.8 295.7h0M102.3 295.5h0M96.5 297.9h0M108.4 295.4h0M101.8 291.0h0M99.2 300.4h0M114.0 287.4h0M98.6 277.9h0M102.3 295.9h0M99.9 278.6h0M107.9 306.8h0M111.2 305.1h0M108.9 282.0h0M115.4 287.2h0M101.6 293.8h0M88.8 296.4h0M95.9 291.6h0M103.8 283.6h0M114.8 278.4h0M99.3 304.3h0M113.0 286.7h0M112.6 293.2h0M106.7 291.3h0M91.4 285.7h0M111.7 282.4h0M99.8 303.6h0M96.6 303.0h0M107.0 285.4h0M102.8 292.0h0M109.3 290.5h0M112.0 302.0h0M100.1 293.5h0M106.7 286.5h0M110.3 288.0h0M108.8 282.4h0M101.4 290.3h0M106.4 293.4h0M105.2 298.6h0M108.7 275.9h0M100.1 293.8h0M110.4 287.9h0M110.2 289.9h0M102.5 282.1h0M109.1 297.2h0M103.8 299.9h0M109.0 279.6h0M110.2 289.9h0M101.1 285.1h0M109.1 291.0h0M97.4 301.3h0M111.0 289.0h0M103.5 290.8h0M108.9 287.5h0M108.7 272.8h0M105.0 288.1h0M97.7 283.9h0M101.6 283.5h0M102.2 298.7h0M106.2 281.0h0M106.9 291.1h0M99.0 292.3h0M108.5 287.6h0M115.7 306.2h0M101.8 297.1h0M102.5 289.8h0M110.9 290.2h0M104.2 285.8h0M101.7 292.9h0M110.2 293.7h0M109.4 271.7h0M105.2 293.1h0M116.2 297.6h0M99.0 304.0h0M107.9 291.9h0M101.0 279.9h0M111.5 301.4h0M105.5 289.6h0M82.6 291.3h0M91.7 272.6h0M92.2 284.8h0M92.2 288.1h0M88.3 295.3h0M92.0 280.1h0M85.9 283.1h0M83.6 292.2h0M85.0 304.6h0M84.4 283.5h0M87.6 292.2h0M93.4 295.9h0M88.0 284.6h0M88.9 304.1h0M91.2 274.3h0M90.1 294.7h0M89.6 291.3h0M95.7 302.8h0M95.6 279.0h0M86.7 306.1h0M91.8 300.4h0M93.0 288.9h0M86.5 292.2h0M94.2 292.2h0M93.8 273.7h0M91.9 302.6h0M92.2 282.8h0M93.0 278.0h0M90.3 287.7h0M87.0 278.1h0M93.2 289.3h0M82.2 305.9h0M95.4 300.3h0M91.4 302.4h0M87.4 303.4h0M92.8 285.1h0M95.9 286.7h0M87.2 276.7h0M92.5 288.7h0M92.7 302.9h0M84.8 278.3h0M92.4 284.3h0M85.4 272.9h0M93.0 280.5h0M83.9 278.0h0M92.4 302.7h0M85.1 283.7h0M92.8 299.1h0M87.4 290.4h0M92.5 291.4h0M81.1 284.3h0M81.6 304.8h0M80.8 273.8h0M91.3 297.5h0M91.5 279.5h0M95.8 277.9h0M88.0 302.7h0M81.5 303.2h0M90.5 283.1h0M93.9 287.3h0M90.8 280.1h0M90.4 306.7h0M84.9 284.8h0M94.4 291.0h0M89.2 295.2h0M91.9 301.1h0M161.6 280.0h0M168.5 280.4h0M146.5 287.5h0M131.9 274.4h0M139.8 291.7h0M176.0 281.2h0M146.8 272.1h0M123.5 297.8h0M138.4 279.8h0M150.6 288.4h0M157.3 291.9h0M136.5 286.0h0M142.7 292.0h0M152.6 282.6h0M167.0 283.6h0M156.0 287.8h0M174.9 282.8h0M144.7 302.4h0M132.2 297.3h0M174.1 303.2h0M182.4 306.3h0M144.1 289.8h0M160.6 285.8h0M143.0 282.1h0M122.1 288.3h0M151.7 305.3h0M176.3 305.4h0M130.0 306.6h0M147.7 273.9h0M178.5 273.6h0M132.3 272.2h0M122.9 274.2h0M130.3 275.9h0M168.4 305.4h0M118.6 272.3h0M157.0 292.8h0M159.5 275.4h0M119.8 279.6h0M157.3 306.3h0M181.5 288.1h0M123.2 289.9h0M147.8 291.8h0M165.9 278.9h0M138.2 275.0h0M147.7 273.6h0M135.6 285.4h0M179.0 304.6h0M156.6 272.0h0M155.9 291.5h0M174.1 289.3h0M87.5 260.6h0M90.5 221.0h0M86.6 252.5h0M86.2 246.7h0M88.8 243.7h0M83.9 251.9h0M84.0 229.9h0M88.4 238.9h0M96.1 238.7h0M104.4 239.8h0M98.3 235.9h0M102.2 240.9h0M101.5 241.1h0M96.0 241.4h0M105.0 239.1h0M104.5 240.2h0M95.0 240.5h0M98.7 240.0h0M89.5 242.3h0M88.6 242.4h0M95.4 236.4h0M100.4 239.4h0M98.0 236.9h0M95.2 240.8h0M168.6 232.2h0M87.9 228.7h0M134.9 230.7h0" stroke="#000" stroke-opacity="0.45" stroke-width="1.4" stroke-linecap="round" fill="none"/>
<path d="M136.0 246.6h0M133.4 230.8h0M118.7 231.8h0M133.7 229.7h0M129.5 249.5h0M113.1 234.8h0M138.3 242.1h0M127.9 245.2h0M128.4 237.5h0M143.1 252.0h0M130.3 246.4h0M142.6 237.0h0M120.0 247.4h0M149.1 232.1h0M140.8 231.6h0M135.0 244.7h0M153.5 244.1h0M118.7 248.1h0M157.9 246.9h0M128.4 233.6h0M143.7 245.9h0M151.5 247.4h0M136.4 234.8h0M149.6 239.2h0M114.9 247.4h0M114.0 275.4h0M133.5 246.9h0M129.5 258.0h0M148.9 237.0h0M118.5 253.2h0M147.9 228.6h0M134.9 239.9h0M147.0 236.7h0M128.8 248.9h0M144.4 254.2h0M134.1 246.8h0M123.1 229.9h0M136.1 244.0h0M149.1 232.7h0M127.9 230.1h0M144.0 251.0h0M125.9 245.0h0M138.1 257.8h0M126.7 248.4h0M120.4 235.1h0M131.6 245.9h0M163.5 246.2h0M149.0 227.7h0M134.4 231.4h0M120.1 255.1h0M139.5 248.6h0M151.2 239.5h0M148.1 237.7h0M126.1 233.2h0M116.7 232.4h0M110.6 241.7h0M129.0 251.9h0M137.8 234.7h0M121.0 236.7h0M112.4 226.2h0M135.1 245.5h0M133.7 245.5h0M130.6 253.7h0M152.9 236.9h0M129.9 259.4h0M121.9 243.1h0M130.0 235.8h0M149.6 246.9h0M142.4 252.8h0M130.8 243.6h0M120.6 238.7h0M142.1 236.7h0M131.1 236.3h0M136.1 251.7h0M132.0 226.1h0M123.5 245.5h0M144.6 239.4h0M142.2 238.8h0M117.9 255.0h0M144.6 221.9h0M118.6 240.8h0M137.8 233.8h0M140.2 250.0h0M131.3 239.5h0M145.0 238.3h0M131.5 240.0h0M136.6 254.0h0M131.0 224.6h0M138.7 222.2h0M136.0 224.8h0M122.1 249.5h0M133.7 252.6h0M145.3 245.1h0M127.4 240.1h0M163.4 237.9h0M152.2 235.6h0M148.9 241.0h0M118.5 250.6h0M154.5 240.0h0M132.3 247.9h0M138.3 239.5h0M116.4 250.8h0M145.6 237.3h0M112.5 247.2h0M147.3 234.7h0M129.7 234.5h0M101.8 238.7h0M150.3 235.2h0M130.6 248.5h0M150.2 222.6h0M129.2 243.0h0M134.0 226.6h0M155.2 244.3h0M143.5 234.5h0M111.0 243.3h0M124.5 247.3h0M122.2 242.5h0M137.7 247.2h0M136.5 250.8h0M134.5 221.9h0M153.1 238.6h0M152.3 240.6h0M145.8 255.4h0M128.2 258.3h0M135.8 225.8h0M142.0 243.0h0M105.8 241.2h0M137.6 243.0h0M120.9 214.3h0M138.8 237.3h0M134.6 247.3h0M129.2 258.5h0M144.8 248.3h0M124.4 243.8h0M140.8 259.6h0M124.8 247.3h0M134.5 237.9h0M148.2 245.1h0M145.5 247.0h0M141.2 225.2h0M116.5 248.1h0M124.0 226.1h0M124.7 254.6h0M123.2 250.9h0M124.5 250.5h0M111.3 265.4h0M130.5 246.3h0M101.8 268.6h0M125.4 255.1h0M121.0 233.1h0M132.9 258.5h0M118.2 251.5h0M145.4 243.0h0M132.1 246.5h0M121.7 247.5h0M114.1 238.3h0M130.7 251.6h0M127.9 236.2h0M135.9 232.8h0M121.6 254.9h0M128.8 254.6h0M135.6 240.6h0M134.0 252.4h0M108.5 248.5h0M129.3 251.2h0M127.7 250.8h0M132.4 238.1h0M132.8 238.2h0M129.8 241.0h0M128.5 241.7h0M135.9 240.5h0M135.4 236.7h0M136.8 240.1h0M135.1 235.4h0M136.0 246.1h0M126.9 250.2h0M148.1 236.4h0M154.3 242.3h0M122.3 237.5h0M156.1 246.9h0M141.1 248.3h0M119.4 242.8h0M118.7 249.7h0M144.8 241.6h0M110.3 242.8h0M128.5 237.2h0M133.1 260.9h0M125.7 244.3h0M148.4 254.5h0M133.4 256.7h0M123.9 245.9h0M152.2 246.1h0M117.6 240.7h0M157.2 233.3h0M162.3 236.1h0M151.9 243.4h0M147.3 232.4h0M120.8 244.2h0M129.0 231.7h0M133.1 237.0h0M120.7 251.7h0M106.1 237.9h0M132.2 243.8h0M141.6 235.5h0M174.5 219.3h0M148.0 253.7h0M129.6 245.5h0M129.0 246.8h0M120.8 247.6h0M119.3 239.6h0M130.4 237.3h0M135.6 233.4h0M136.5 250.3h0M126.0 259.9h0M121.8 238.7h0M142.0 244.7h0M124.3 219.7h0M129.4 225.0h0M132.8 251.5h0M145.9 230.1h0M135.6 240.6h0M112.3 237.6h0M123.8 232.5h0M111.0 247.4h0M139.5 246.7h0M109.9 247.5h0M105.8 261.4h0M135.5 236.0h0M145.6 243.8h0M147.8 240.6h0M118.6 260.3h0M141.6 248.6h0M133.9 242.2h0M131.3 260.0h0M118.8 239.1h0M156.1 235.9h0M130.0 216.8h0M142.1 228.2h0M125.5 225.5h0M132.2 237.1h0M112.3 235.4h0M147.3 243.3h0M118.2 257.8h0M149.3 247.7h0M127.2 233.7h0M121.3 240.1h0M128.7 240.6h0M143.1 237.7h0M128.4 253.8h0M142.6 224.8h0M151.9 227.3h0M111.4 239.6h0M123.1 250.0h0M109.6 253.8h0M145.3 242.3h0M124.0 224.4h0M145.6 243.4h0M127.0 261.4h0M115.0 236.6h0M141.8 241.3h0M152.5 230.8h0M145.5 249.8h0M144.8 239.6h0M128.6 225.4h0M126.6 246.0h0M145.2 240.1h0M154.9 226.8h0M120.7 239.9h0M143.1 245.2h0M123.9 234.8h0M121.2 248.5h0M123.7 247.5h0M139.7 243.4h0M123.9 248.8h0M148.4 247.4h0M132.4 241.8h0M149.3 240.1h0M148.3 228.6h0M113.8 240.5h0M121.7 244.8h0M122.8 247.5h0M114.3 241.3h0M141.2 241.9h0M140.4 229.8h0M123.4 254.1h0M130.5 247.6h0M154.3 230.7h0M103.6 225.5h0M103.4 260.7h0M114.8 274.9h0M121.2 243.6h0M118.6 225.1h0M126.4 250.2h0M101.1 239.3h0M159.9 244.1h0M139.7 223.2h0M135.1 251.3h0M146.3 227.1h0M137.1 241.8h0M136.9 241.7h0M151.3 240.2h0M125.4 236.9h0M120.0 236.9h0M149.6 246.9h0M127.4 244.5h0M130.9 248.3h0M135.9 240.8h0M142.7 231.9h0M138.2 239.1h0M125.0 246.3h0M124.8 256.1h0M123.4 241.4h0M137.7 243.8h0M128.5 245.6h0M125.7 238.1h0M116.9 243.9h0M134.7 235.5h0M116.8 250.8h0M133.9 238.5h0M128.3 243.1h0M137.2 243.8h0M122.5 229.8h0M135.0 244.1h0M133.0 235.3h0M135.9 243.7h0M132.9 237.6h0M141.5 250.7h0M139.5 237.9h0M136.7 238.9h0M135.0 227.4h0M136.0 248.5h0M142.8 246.6h0M134.9 237.8h0M129.2 245.5h0M135.0 241.6h0M137.3 236.1h0M120.5 243.6h0M126.5 234.2h0M133.8 241.8h0M132.8 237.2h0M132.9 237.6h0M124.8 239.5h0M146.5 231.4h0M118.5 238.4h0M129.6 243.5h0M125.4 238.6h0M143.4 230.1h0M124.6 250.8h0M135.5 246.3h0M147.0 247.2h0M139.8 246.8h0M128.3 240.0h0M138.0 240.7h0M143.6 239.9h0M127.9 247.5h0M132.6 242.0h0M124.7 238.4h0M138.3 238.3h0M132.5 243.0h0M124.1 238.9h0M127.7 245.8h0M118.3 235.7h0M136.2 241.4h0M127.8 241.1h0M128.8 248.9h0M127.2 236.1h0M123.2 234.2h0M136.1 238.0h0M128.4 231.7h0M127.7 236.4h0M135.2 232.1h0M127.0 236.5h0M138.1 242.4h0M122.8 249.7h0M132.0 242.4h0M122.8 239.1h0M128.6 244.9h0M136.6 239.9h0M144.3 244.7h0M134.6 236.6h0M122.6 242.1h0M127.3 248.6h0M122.2 242.3h0M130.2 240.5h0M128.6 242.6h0M126.4 241.1h0M123.5 240.8h0M125.7 251.7h0M137.9 237.5h0M117.8 246.3h0M126.8 246.3h0M137.0 230.1h0M125.5 229.1h0M124.8 247.1h0M135.3 233.9h0M122.1 240.1h0M121.8 237.5h0M130.5 245.1h0M142.1 246.1h0M130.7 248.7h0M122.5 240.6h0M131.1 242.1h0M129.8 243.4h0M126.5 240.3h0M129.6 240.8h0M129.1 258.5h0M138.4 241.6h0M142.5 245.9h0M128.6 238.3h0M108.0 293.4h0M115.0 271.4h0M105.2 279.4h0M102.6 274.6h0M108.5 300.6h0M98.7 277.6h0M105.4 277.7h0M104.1 284.2h0M109.8 277.6h0M112.8 304.6h0M100.6 293.4h0M96.4 279.9h0M93.9 278.0h0M112.0 300.1h0M103.3 283.7h0M105.5 275.2h0M114.8 282.5h0M112.3 278.1h0M98.6 289.7h0M99.9 275.3h0M101.8 280.3h0M114.9 282.7h0M113.4 275.1h0M97.1 290.3h0M94.3 284.2h0M97.6 281.5h0M105.0 290.8h0M97.3 292.3h0M102.6 274.3h0M97.1 287.6h0M99.0 282.7h0M106.0 283.0h0M104.4 282.1h0M106.0 270.8h0M106.7 305.0h0M93.0 295.1h0M108.0 288.5h0M110.2 295.7h0M109.5 283.1h0M97.6 271.6h0M106.8 282.4h0M112.0 290.2h0M110.5 288.8h0M94.6 294.4h0M108.7 297.0h0M97.4 303.0h0M106.1 299.7h0M105.6 284.9h0M100.1 278.1h0M97.1 288.2h0M114.3 298.4h0M107.5 300.4h0M110.2 277.3h0M100.2 291.4h0M111.6 280.6h0M100.9 285.3h0M118.4 282.2h0M111.2 303.3h0M97.7 285.1h0M98.8 278.8h0M111.7 283.7h0M108.5 289.6h0M105.7 283.7h0M106.1 288.6h0M102.6 274.9h0M106.0 284.3h0M95.3 304.4h0M106.1 281.2h0M103.4 291.3h0M109.6 285.5h0M97.1 296.4h0M108.7 292.2h0M103.0 285.5h0M110.3 292.0h0M113.6 294.0h0M108.3 273.9h0M97.2 306.1h0M112.2 283.1h0M107.4 289.4h0M114.0 286.6h0M107.5 300.7h0M110.0 304.7h0M113.9 289.2h0M96.7 278.2h0M99.3 297.6h0M111.0 287.8h0M98.4 297.0h0M109.8 296.1h0M101.9 301.9h0M113.0 299.8h0M98.5 286.7h0M104.6 303.2h0M111.8 290.5h0M104.1 304.0h0M105.0 295.3h0M106.3 302.3h0M98.7 304.1h0M99.1 293.3h0M108.3 274.6h0M111.7 288.4h0M100.5 268.7h0M116.1 267.6h0M106.8 302.0h0M111.6 278.3h0M97.8 286.9h0M105.9 286.1h0M115.3 293.1h0M96.0 282.2h0M91.9 301.7h0M111.2 283.1h0M108.5 270.2h0M101.8 276.9h0M112.2 276.6h0M101.9 279.3h0M96.0 305.5h0M96.8 304.4h0M101.2 278.1h0M97.9 291.8h0M98.3 288.1h0M115.1 284.1h0M90.0 295.0h0M97.3 306.5h0M112.7 302.0h0M104.4 283.2h0M108.2 301.6h0M101.4 288.2h0M104.1 282.4h0M101.2 306.3h0M112.6 292.5h0M99.1 281.1h0M103.0 299.3h0M114.2 274.9h0M96.9 291.7h0M102.6 282.4h0M103.1 281.9h0M108.2 300.7h0M103.7 275.4h0M113.5 295.5h0M99.9 301.1h0M114.0 306.1h0M103.8 284.0h0M105.6 295.6h0M108.6 299.4h0M99.3 275.2h0M101.3 278.2h0M109.2 283.4h0M112.3 269.6h0M111.2 284.0h0M99.1 291.5h0M105.5 294.4h0M108.1 277.5h0M116.4 302.6h0M110.3 305.8h0M110.1 285.2h0M111.6 281.8h0M110.4 282.5h0M108.8 283.0h0M109.1 280.7h0M104.0 294.9h0M100.8 287.2h0M119.7 296.8h0M111.2 302.7h0M107.3 282.3h0M105.6 282.5h0M104.2 276.8h0M106.8 289.9h0M104.6 299.8h0M110.2 274.0h0M103.6 288.8h0M104.7 295.1h0M103.0 300.9h0M114.2 295.7h0M109.0 299.9h0M103.0 293.2h0M103.2 298.7h0M111.4 286.7h0M109.8 299.8h0M97.7 296.5h0M112.9 286.2h0M103.7 283.9h0M105.6 275.3h0M105.5 276.4h0M99.7 278.4h0M102.4 289.5h0M108.9 305.9h0M111.7 286.8h0M111.2 301.0h0M113.0 287.0h0M108.9 276.2h0M100.3 282.3h0M109.7 276.9h0M109.7 273.8h0M110.9 279.3h0M98.4 304.1h0M103.7 279.4h0M100.2 294.2h0M106.0 284.1h0M106.1 279.4h0M109.0 286.3h0M108.5 285.8h0M114.2 273.1h0M105.8 285.8h0M106.2 281.8h0M103.0 281.5h0M103.8 278.9h0M103.3 301.8h0M96.8 284.2h0M109.6 284.4h0M104.4 292.0h0M101.2 287.7h0M108.0 281.2h0M114.0 271.0h0M103.1 281.7h0M105.4 301.5h0M106.9 290.9h0M109.2 288.3h0M101.5 279.1h0M98.4 305.2h0M107.2 283.1h0M92.9 290.1h0M103.2 275.5h0M102.6 275.7h0M100.0 301.5h0M104.3 278.4h0M105.3 275.4h0M112.3 281.1h0M114.2 292.6h0M107.3 286.2h0M109.1 291.4h0M110.5 287.4h0M99.1 271.9h0M107.3 286.8h0M111.3 285.6h0M114.4 279.5h0M107.5 289.5h0M100.6 298.6h0M102.8 301.9h0M114.1 294.6h0M112.8 270.5h0M96.0 286.6h0M108.7 274.0h0M110.3 305.7h0M102.5 291.1h0M106.1 295.1h0M112.4 279.6h0M106.6 286.9h0M103.3 283.0h0M96.7 275.2h0M107.9 283.0h0M97.5 303.0h0M104.5 301.8h0M112.0 283.8h0M101.8 286.3h0M109.6 292.2h0M113.2 302.1h0M114.9 278.2h0M103.8 282.9h0M101.7 272.5h0M115.9 287.8h0M111.9 288.5h0M107.7 305.4h0M111.0 291.1h0M110.0 291.1h0M112.6 298.6h0M104.9 283.9h0M110.6 275.8h0M108.8 284.8h0M108.7 284.9h0M103.4 300.4h0M111.5 293.0h0M110.0 280.6h0M96.8 294.0h0M108.6 281.8h0M103.0 289.4h0M109.2 304.8h0M109.5 301.0h0M103.4 280.2h0M109.4 286.7h0M106.8 296.3h0M97.0 295.1h0M97.8 301.7h0M98.8 278.8h0M109.3 282.0h0M103.1 288.9h0M104.0 296.9h0M115.8 300.1h0M109.5 303.1h0M103.2 297.0h0M116.3 278.9h0M108.4 294.9h0M99.4 297.0h0M105.7 297.0h0M107.8 293.0h0M98.8 280.0h0M100.9 276.0h0M108.1 295.5h0M103.3 289.9h0M101.2 298.7h0M109.6 289.2h0M98.5 297.4h0M99.4 302.9h0M110.4 294.6h0M108.2 281.4h0M105.6 286.6h0M109.0 299.8h0M99.3 285.8h0M109.9 300.0h0M95.3 287.2h0M106.5 276.6h0M108.8 300.4h0M115.6 287.3h0M109.9 284.0h0M104.4 284.5h0M97.0 273.9h0M103.6 298.5h0M107.3 283.1h0M115.1 275.7h0M112.5 279.2h0M111.6 283.8h0M107.4 282.9h0M105.4 269.9h0M107.2 281.7h0M101.0 273.3h0M105.3 280.8h0M91.3 279.3h0M103.2 303.5h0M101.1 289.3h0M103.7 294.9h0M104.6 278.5h0M98.5 291.5h0M111.7 297.6h0M93.2 305.4h0M105.7 296.1h0M108.0 288.1h0M110.4 297.2h0M113.9 274.9h0M98.7 299.5h0M101.3 302.6h0M109.7 272.9h0M108.5 286.9h0M102.0 298.8h0M115.8 288.0h0M111.5 301.1h0M100.9 289.0h0M112.5 278.1h0M112.2 285.8h0M100.7 297.5h0M115.4 300.4h0M115.2 298.3h0M103.0 300.7h0M96.7 291.4h0M115.9 302.2h0M105.2 301.8h0M109.0 294.1h0M103.0 274.6h0M102.8 286.9h0M113.8 290.8h0M112.7 289.7h0M113.1 283.3h0M102.0 275.5h0M109.4 300.9h0M110.2 297.9h0M103.0 278.3h0M117.4 287.9h0M105.0 278.6h0M105.9 289.8h0M107.8 276.1h0M102.3 298.1h0M96.8 299.3h0M99.8 294.2h0M101.6 287.2h0M110.1 288.1h0M97.1 296.2h0M106.3 281.6h0M109.7 275.4h0M106.4 306.0h0M109.9 279.1h0M101.7 306.5h0M106.4 283.3h0M108.4 299.7h0M99.6 297.3h0M111.3 291.1h0M107.1 290.9h0M99.8 278.6h0M101.2 273.4h0M117.2 290.8h0M103.8 306.4h0M99.9 291.7h0M98.7 274.1h0M111.9 303.5h0M96.9 305.5h0M113.4 306.3h0M97.4 297.2h0M112.0 302.2h0M110.0 290.4h0M102.8 295.0h0M103.0 277.5h0M98.1 277.9h0M94.9 304.6h0M112.1 300.0h0M99.2 305.6h0M106.2 285.4h0M117.7 296.8h0M100.0 284.3h0M110.9 293.5h0M108.0 300.3h0M96.0 278.2h0M109.5 282.5h0M108.4 294.4h0M99.2 296.0h0M106.8 293.4h0M113.9 306.2h0M105.1 286.0h0M97.8 291.5h0M101.1 274.9h0M112.1 277.1h0M96.2 291.5h0M99.6 292.1h0M99.4 280.3h0M99.8 297.7h0M103.4 294.0h0M103.9 301.2h0M103.5 280.5h0M97.2 288.2h0M104.3 281.0h0M107.0 295.8h0M114.4 300.1h0M108.8 296.0h0M100.8 296.6h0M111.4 279.0h0M99.0 279.1h0M114.9 294.4h0M105.1 301.2h0M103.1 297.4h0M104.8 300.3h0M102.2 278.4h0M109.5 302.2h0M95.1 272.7h0M109.5 288.4h0M95.1 273.2h0M98.2 295.3h0M102.6 277.9h0M102.6 275.8h0M94.4 289.9h0M100.4 301.9h0M97.1 300.0h0M103.1 302.9h0M103.9 297.4h0M95.9 281.9h0M102.6 284.7h0M101.9 303.9h0M107.1 301.8h0M113.4 280.6h0M109.9 299.5h0M103.0 297.8h0M106.0 299.3h0M101.7 278.3h0M104.9 277.1h0M106.2 290.8h0M107.4 299.3h0M100.6 305.7h0M99.9 297.4h0M112.0 283.3h0M110.5 291.6h0M120.4 281.9h0M109.1 293.5h0M101.9 292.9h0M111.3 296.0h0M102.2 298.8h0M106.6 290.6h0M105.1 297.6h0M103.5 280.0h0M104.7 294.7h0M104.5 287.8h0M106.7 298.5h0M112.2 300.9h0M105.9 291.5h0M108.6 294.9h0M112.5 296.1h0M107.9 295.0h0M105.0 282.4h0M102.3 304.8h0M110.2 279.6h0M108.4 277.5h0M119.2 291.3h0M101.9 297.6h0M107.8 290.6h0M93.5 293.3h0M98.9 297.0h0M111.2 289.7h0M107.3 288.6h0M103.3 302.0h0M102.4 276.1h0M112.3 292.7h0M99.5 283.5h0M106.9 292.1h0M109.0 303.7h0M96.1 303.3h0M109.5 283.8h0M115.0 292.4h0M106.3 297.4h0M114.9 282.2h0M105.4 296.4h0M108.9 295.7h0M100.7 295.8h0M111.0 301.1h0M103.3 288.4h0M99.6 297.4h0M94.6 298.9h0M110.2 284.7h0M98.8 278.3h0M105.4 302.1h0M104.5 295.7h0M108.6 296.3h0M104.5 281.8h0M109.5 283.3h0M111.9 291.6h0M101.9 298.6h0M104.7 285.8h0M116.4 282.1h0M106.9 285.0h0M95.6 281.0h0M102.7 293.4h0M96.4 298.8h0M110.1 278.2h0M108.5 281.5h0M100.4 290.4h0M104.2 274.4h0M106.5 294.4h0M109.5 293.7h0M109.6 285.4h0M113.7 295.2h0M104.6 293.6h0M91.2 294.7h0M100.8 299.1h0M101.3 298.1h0M102.4 284.7h0M106.9 285.3h0M102.2 291.3h0M103.6 287.9h0M99.4 279.7h0M109.0 284.9h0M97.6 283.9h0M100.8 276.2h0M98.5 299.6h0M107.4 305.8h0M106.0 291.6h0M103.4 281.7h0M98.1 294.0h0M100.8 298.0h0M97.1 296.9h0M94.5 305.3h0M103.8 279.1h0M107.6 283.8h0M108.3 297.4h0M106.7 294.8h0M110.1 300.4h0M102.7 274.5h0M102.6 275.6h0M110.3 291.5h0M113.7 303.4h0M115.4 284.4h0M107.6 282.2h0M112.2 288.9h0M98.2 297.5h0M103.1 299.3h0M105.7 305.2h0M104.7 293.6h0M108.6 286.6h0M108.4 283.1h0M110.5 287.1h0M111.0 292.4h0M106.1 299.9h0M110.5 297.9h0M104.3 286.5h0M101.7 297.2h0M104.0 291.8h0M110.4 295.3h0M107.4 283.0h0M109.1 293.3h0M102.5 286.5h0M108.1 295.8h0M105.4 295.0h0M105.3 301.1h0M106.4 293.8h0M102.7 299.1h0M113.6 272.8h0M103.0 292.0h0M82.5 294.5h0M90.3 286.2h0M84.6 306.1h0M83.5 282.9h0M84.8 296.8h0M85.6 286.6h0M84.1 283.6h0M91.3 288.7h0M87.9 278.4h0M91.2 280.7h0M84.8 281.4h0M94.2 288.2h0M91.1 294.4h0M90.1 274.5h0M88.9 305.4h0M92.4 276.9h0M89.8 278.8h0M82.8 298.5h0M84.3 292.4h0M87.1 301.4h0M86.2 283.4h0M82.9 286.3h0M88.8 289.7h0M89.1 289.6h0M94.8 284.8h0M90.7 296.8h0M92.6 287.2h0M81.9 288.6h0M85.9 304.2h0M86.2 287.7h0M86.4 295.5h0M89.5 279.5h0M88.9 274.3h0M86.2 288.8h0M88.6 276.3h0M95.4 303.7h0M93.0 287.5h0M86.9 275.9h0M87.6 304.4h0M85.3 297.8h0M89.2 287.8h0M87.1 279.8h0M86.9 281.3h0M80.6 304.6h0M157.7 277.4h0M163.7 283.7h0M134.0 281.0h0M144.4 290.6h0M149.5 285.7h0M174.8 286.3h0M138.7 304.9h0M151.0 299.2h0M135.5 289.6h0M147.5 277.8h0M131.3 284.5h0M154.6 279.5h0M163.4 292.6h0M138.3 276.5h0M150.2 275.2h0M154.9 279.5h0M160.5 282.6h0M152.4 284.8h0M136.1 273.7h0M117.7 297.8h0M171.2 300.1h0M149.1 288.4h0M156.5 298.5h0M175.3 299.6h0M139.8 274.0h0M157.1 293.5h0M129.2 285.0h0M139.5 278.1h0M143.0 275.3h0M139.5 292.0h0M180.8 287.0h0M140.9 285.9h0M147.4 281.0h0M165.2 275.6h0M183.2 302.3h0M183.0 298.5h0M123.0 288.4h0M167.6 283.6h0M134.5 282.0h0M137.5 293.4h0M164.7 296.7h0M155.7 289.8h0M177.2 287.2h0M175.0 297.7h0M167.7 293.1h0M177.6 275.5h0M183.8 284.7h0M129.5 293.6h0M170.8 292.5h0M143.2 290.0h0M134.7 282.7h0M152.1 292.8h0M177.7 281.4h0M155.1 299.4h0M180.0 282.9h0M159.9 280.4h0M127.2 293.2h0M144.9 304.5h0M151.3 304.9h0M175.9 278.2h0M139.7 280.3h0M118.6 276.6h0M159.0 285.0h0M141.3 289.8h0M181.6 291.8h0M150.4 275.1h0M155.4 288.8h0M181.9 299.5h0M176.5 283.5h0M165.7 280.7h0M131.4 305.6h0M150.2 303.0h0M85.1 236.4h0M88.3 231.0h0M93.3 234.3h0M90.0 240.3h0M92.0 229.3h0M89.6 221.0h0M88.0 233.7h0M92.7 232.4h0M91.4 233.1h0M89.6 234.4h0M84.6 243.6h0M106.7 236.4h0M97.0 242.4h0M102.2 239.4h0M98.5 243.1h0M96.7 239.6h0M97.6 243.2h0M100.1 237.4h0M100.0 237.1h0M84.1 236.9h0M104.5 242.6h0M101.1 236.3h0M95.5 238.2h0M101.3 241.0h0M95.0 243.5h0M98.7 238.6h0M162.7 228.9h0M115.2 262.4h0M126.6 269.5h0M138.4 233.0h0" stroke="#000" stroke-opacity="0.45" stroke-width="1.4" stroke-linecap="round" fill="none"/>
<path d="M124.6 184 V307.3" stroke="#5a5a5a" stroke-width="1"/>
<path d="M80 271.7 H203.5" stroke="#5a5a5a" stroke-width="1"/>
<path d="M82.4 218.3 L88.0 218.3 L91.0 219.8 L93.4 223.5 L94.4 230.0 L94.4 261.5 L82.4 261.5 Z" stroke="#666" stroke-width="1" fill="none"/>
<path d="M120.4 211.5 L157.0 210.2 L167.5 220.2 L167.5 255.8 L154.0 268.8 L117.5 269.2 L105.0 261.5 L105.0 231.7 Z" stroke="#666" stroke-width="1" fill="none"/>
<rect x="80" y="184" width="123.5" height="123.30000000000001" fill="none" stroke="#222" stroke-width="1.5"/>
<path d="M70.5 305.4 L70.5 185.6" stroke="#111" stroke-width="2.2" fill="none"/><path d="M66.3 191.1 L70.5 185.4 L74.7 191.1" stroke="#111" stroke-width="2.4" fill="none" stroke-linejoin="miter"/>
<path d="M83.5 316.5 L200.2 316.5" stroke="#111" stroke-width="2.2" fill="none"/><path d="M194.7 312.5 L200.39999999999998 316.5 L194.7 320.5" stroke="#111" stroke-width="2.4" fill="none"/>
<text transform="translate(66.2 301.9) rotate(-90)" font-size="12.5" stroke="#111" stroke-width="0.3">CD19</text>
<text x="84.6" y="329.7" font-size="12" stroke="#111" stroke-width="0.3">CD5</text>
<path d="M240.5 306.6 L242.3 304.0 L247.0 293.3 L251.8 274.2 L255.4 255.1 L257.8 240.9 L260.2 224.2 L262.5 207.5 L264.9 195.6 L266.6 192.8 L269.7 200.4 L272.1 212.3 L274.5 229.0 L276.8 245.6 L279.2 259.9 L282.8 274.2 L286.4 288.5 L290.0 300.4 L293.5 305.2 L296.5 306.6 Z" fill="#858585" stroke="none"/>
<path d="M244.5 306.6 L247.0 304.0 L254.2 300.4 L259.0 296.9 L264.9 293.3 L269.7 288.5 L273.3 276.6 L275.6 264.7 L278.0 250.4 L280.4 231.4 L282.8 212.3 L285.2 200.4 L287.6 195.6 L288.8 192.8 L290.4 198.0 L292.3 212.3 L294.2 229.0 L295.9 248.0 L298.3 267.1 L300.0 283.7 L302.4 295.7 L305.5 302.8 L309.0 305.6 L313.5 306.6" fill="none" stroke="#000" stroke-width="2" stroke-linejoin="round"/>
<path d="M237.5 183.7 H360.5" fill="none" stroke="#888" stroke-width="1.3"/>
<path d="M360.5 183.7 V306.6" fill="none" stroke="#444" stroke-width="1.3"/>
<path d="M237.5 183.7 V306.6 H360.5" fill="none" stroke="#1a1a1a" stroke-width="1.5"/>
<path d="M234.5 306.6 H237.5" stroke="#444" stroke-width="1"/>
<path d="M234.0 190.6 H237.5" stroke="#333" stroke-width="0.9"/>
<text x="232.5" y="192.8" font-size="6.2" font-weight="bold" style="fill:#6a6a6a" text-anchor="end">100</text>
<path d="M234.0 214.0 H237.5" stroke="#333" stroke-width="0.9"/>
<text x="232.5" y="216.2" font-size="6.2" font-weight="bold" style="fill:#6a6a6a" text-anchor="end">80</text>
<path d="M234.0 237.4 H237.5" stroke="#333" stroke-width="0.9"/>
<text x="232.5" y="239.6" font-size="6.2" font-weight="bold" style="fill:#6a6a6a" text-anchor="end">60</text>
<path d="M234.0 260.7 H237.5" stroke="#333" stroke-width="0.9"/>
<text x="232.5" y="262.9" font-size="6.2" font-weight="bold" style="fill:#6a6a6a" text-anchor="end">40</text>
<path d="M234.0 284.1 H237.5" stroke="#333" stroke-width="0.9"/>
<text x="232.5" y="286.3" font-size="6.2" font-weight="bold" style="fill:#6a6a6a" text-anchor="end">20</text>
<path d="M235.9 301.7H237.5M235.9 295.8H237.5M235.9 290.0H237.5M235.9 278.3H237.5M235.9 272.4H237.5M235.9 266.6H237.5M235.9 254.9H237.5M235.9 249.1H237.5M235.9 243.2H237.5M235.9 231.5H237.5M235.9 225.7H237.5M235.9 219.8H237.5M235.9 208.1H237.5M235.9 202.3H237.5M235.9 196.4H237.5" stroke="#333" stroke-width="0.9"/>
<text transform="translate(213.9 245.7) rotate(-90)" font-size="9" font-weight="bold" text-anchor="middle">% of Max</text>
<path d="M401.0 306.6 L402.2 305.2 L404.5 298.0 L408.1 283.7 L410.5 269.4 L412.9 257.5 L415.3 245.6 L416.9 252.7 L418.8 259.9 L421.2 255.1 L423.6 248.0 L425.3 243.3 L427.2 252.7 L429.6 274.2 L432.0 288.5 L434.3 295.7 L437.9 300.4 L442.7 302.8 L445.1 305.2 L447.0 306.6 Z" fill="#858585" stroke="none"/>
<path d="M401.0 306.6 L402.2 305.6 L405.7 290.9 L409.3 274.2 L411.7 259.9 L414.1 240.9 L416.5 231.4 L418.8 225.4 L420.8 233.8 L422.4 250.4 L423.6 267.1 L426.0 281.4 L429.6 293.3 L434.3 295.7 L435.0 300.4 L437.9 300.4 L437.9 295.2 L443.9 295.2 L443.9 300.4 L454.6 300.4 L454.6 305.6 L455.0 306.6" fill="none" stroke="#000" stroke-width="2" stroke-linejoin="round"/>
<path d="M395 183.7 H518.0" fill="none" stroke="#888" stroke-width="1.3"/>
<path d="M518.0 183.7 V306.6" fill="none" stroke="#444" stroke-width="1.3"/>
<path d="M395 183.7 V306.6 H518.0" fill="none" stroke="#1a1a1a" stroke-width="1.5"/>
<path d="M392 306.6 H395" stroke="#444" stroke-width="1"/>
<path d="M391.5 190.6 H395" stroke="#333" stroke-width="0.9"/>
<text x="390.0" y="192.8" font-size="6.2" font-weight="bold" style="fill:#6a6a6a" text-anchor="end">100</text>
<path d="M391.5 214.0 H395" stroke="#333" stroke-width="0.9"/>
<text x="390.0" y="216.2" font-size="6.2" font-weight="bold" style="fill:#6a6a6a" text-anchor="end">80</text>
<path d="M391.5 237.4 H395" stroke="#333" stroke-width="0.9"/>
<text x="390.0" y="239.6" font-size="6.2" font-weight="bold" style="fill:#6a6a6a" text-anchor="end">60</text>
<path d="M391.5 260.7 H395" stroke="#333" stroke-width="0.9"/>
<text x="390.0" y="262.9" font-size="6.2" font-weight="bold" style="fill:#6a6a6a" text-anchor="end">40</text>
<path d="M391.5 284.1 H395" stroke="#333" stroke-width="0.9"/>
<text x="390.0" y="286.3" font-size="6.2" font-weight="bold" style="fill:#6a6a6a" text-anchor="end">20</text>
<path d="M393.4 301.7H395M393.4 295.8H395M393.4 290.0H395M393.4 278.3H395M393.4 272.4H395M393.4 266.6H395M393.4 254.9H395M393.4 249.1H395M393.4 243.2H395M393.4 231.5H395M393.4 225.7H395M393.4 219.8H395M393.4 208.1H395M393.4 202.3H395M393.4 196.4H395" stroke="#333" stroke-width="0.9"/>
<text transform="translate(371.4 245.7) rotate(-90)" font-size="9" font-weight="bold" text-anchor="middle">% of Max</text>
<path d="M241.6 316.9 L515 316.9" stroke="#111" stroke-width="2.2" fill="none"/><path d="M509.5 312.9 L515.2 316.9 L509.5 320.9" stroke="#111" stroke-width="2.4" fill="none"/>
<text x="241.5" y="329.8" font-size="11.2" font-weight="bold">LEF-1</text>
<text x="29.2" y="358.4" font-size="11.4" font-weight="bold" text-anchor="middle">MBL</text>
<text x="29.4" y="371.8" font-size="11.4" font-weight="bold" text-anchor="middle">Patient #3</text>
<path d="M161.2 398.1h0M147.4 414.6h0M140.3 388.0h0M148.3 399.5h0M140.9 405.1h0M114.9 397.9h0M135.5 415.5h0M155.4 405.7h0M131.4 394.4h0M140.2 423.0h0M141.9 396.8h0M159.8 397.5h0M157.9 399.0h0M146.4 403.3h0M145.0 394.0h0M151.7 392.8h0M181.6 392.1h0M149.1 392.3h0M139.4 406.8h0M137.2 382.5h0M133.6 406.7h0M159.9 380.2h0M166.6 403.0h0M172.3 388.7h0M132.1 403.9h0M151.2 408.0h0M148.8 398.4h0M162.7 378.8h0M144.0 394.8h0M143.2 405.2h0M151.8 398.6h0M148.4 418.1h0M156.0 394.0h0M138.8 408.4h0M137.2 407.0h0M162.6 400.3h0M148.1 407.5h0M165.7 393.2h0M150.7 388.5h0M156.2 399.2h0M159.2 388.0h0M129.2 410.1h0M163.9 394.8h0M146.2 394.7h0M143.4 397.1h0M126.1 413.4h0M144.6 401.1h0M133.4 391.6h0M152.4 400.5h0M166.8 395.9h0M159.8 394.7h0M157.3 393.2h0M146.9 391.3h0M133.8 403.5h0M124.8 396.9h0M158.9 410.8h0M141.0 412.7h0M126.4 394.1h0M148.1 389.0h0M129.5 395.8h0M154.4 394.0h0M151.7 415.6h0M143.1 397.5h0M151.5 408.0h0M154.7 393.9h0M134.3 405.6h0M141.9 410.6h0M126.9 410.0h0M136.0 406.9h0M144.1 401.9h0M155.8 400.9h0M166.0 397.1h0M153.4 395.4h0M151.7 401.9h0M147.8 404.2h0M162.3 408.9h0M172.1 387.0h0M152.0 398.4h0M160.5 400.5h0M171.8 392.0h0M145.4 397.3h0M148.5 394.0h0M150.7 411.1h0M155.8 385.3h0M128.8 403.3h0M159.4 414.5h0M169.2 391.9h0M160.5 397.2h0M169.8 421.1h0M181.0 389.3h0M154.4 400.7h0M145.6 415.2h0M142.0 386.4h0M160.1 405.4h0M144.2 418.8h0M168.0 401.1h0M140.5 395.3h0M158.5 406.6h0M178.1 382.7h0M162.9 400.4h0M142.8 404.5h0M154.8 400.5h0M151.3 390.3h0M154.7 404.8h0M143.9 395.6h0M131.0 414.8h0M161.0 406.9h0M149.6 418.2h0M143.4 398.0h0M162.8 403.2h0M138.7 404.2h0M135.4 406.1h0M168.4 393.5h0M146.2 405.1h0M168.8 398.4h0M163.6 397.6h0M167.3 386.3h0M139.4 403.8h0M150.3 388.6h0M151.0 398.4h0M162.8 403.7h0M144.6 397.7h0M156.4 400.1h0M155.5 384.6h0M135.0 396.6h0M150.6 410.2h0M124.9 393.6h0M161.0 407.3h0M154.1 419.6h0M135.0 402.9h0M167.3 382.3h0M165.8 394.8h0M166.1 391.2h0M144.1 407.5h0M135.4 419.2h0M157.0 384.9h0M164.0 389.4h0M163.3 410.9h0M153.2 397.3h0M144.7 386.8h0M146.1 389.4h0M159.5 382.1h0M149.8 390.7h0M139.5 389.8h0M135.3 400.3h0M156.8 377.9h0M127.2 406.8h0M148.1 383.1h0M174.8 396.0h0M142.4 410.7h0M148.6 389.0h0M169.6 386.2h0M147.0 403.0h0M161.2 371.8h0M169.6 387.5h0M143.0 397.7h0M143.1 391.0h0M161.7 388.9h0M141.4 413.4h0M143.6 408.5h0M149.0 411.7h0M156.9 396.2h0M159.7 392.5h0M137.1 402.7h0M154.1 405.5h0M140.1 399.7h0M149.1 396.2h0M149.9 385.0h0M136.3 408.2h0M148.1 401.7h0M146.5 388.6h0M138.7 385.0h0M148.0 394.5h0M148.0 392.3h0M150.7 391.9h0M157.3 398.2h0M150.0 392.4h0M148.6 389.5h0M148.4 406.0h0M149.6 382.5h0M158.0 395.4h0M165.2 396.6h0M159.9 379.0h0M154.2 402.6h0M143.3 393.0h0M159.2 396.1h0M160.2 386.9h0M160.0 395.1h0M162.0 400.7h0M165.5 379.4h0M159.4 393.2h0M170.6 391.6h0M140.9 398.2h0M157.7 401.6h0M158.4 398.1h0M164.1 396.6h0M151.4 389.3h0M147.6 391.7h0M146.3 397.0h0M158.2 397.1h0M148.7 390.3h0M141.9 395.3h0M160.2 402.2h0M154.9 391.9h0M152.4 400.2h0M157.8 403.1h0M163.1 396.8h0M150.4 380.6h0M147.8 403.7h0M160.2 391.0h0M161.4 390.5h0M160.6 386.6h0M149.8 399.8h0M148.8 394.7h0M154.1 397.1h0M150.1 394.9h0M148.4 397.4h0M156.8 390.9h0M152.9 406.9h0M157.9 390.6h0M150.6 392.5h0M94.3 413.1h0M102.3 399.4h0M99.7 424.5h0M96.7 398.8h0M101.2 414.9h0M104.5 400.8h0M107.6 405.3h0M102.3 395.4h0M102.2 398.6h0M103.2 392.3h0M102.8 396.8h0M103.3 401.4h0M102.3 401.9h0M102.8 394.1h0M100.5 404.7h0M106.8 412.4h0M106.9 400.2h0M99.1 385.5h0M121.3 404.5h0M111.0 405.1h0M120.1 389.3h0M113.5 414.7h0M118.1 397.4h0M117.6 422.0h0M116.9 395.9h0M117.2 395.0h0M112.9 421.0h0M109.4 417.1h0M116.5 383.5h0M116.1 391.4h0M121.5 399.9h0M114.0 396.0h0M122.3 387.7h0M110.1 414.4h0M115.3 390.0h0M119.4 418.3h0M120.2 417.9h0M124.5 383.0h0M115.9 412.7h0M110.2 384.3h0M114.8 408.5h0M118.7 387.2h0M122.1 394.6h0M120.4 391.2h0M122.6 411.1h0M111.5 448.4h0M111.0 438.2h0M109.8 463.6h0M113.4 448.2h0M106.2 450.7h0M102.2 457.2h0M108.9 439.7h0M105.0 455.1h0M116.6 455.6h0M112.6 434.8h0M96.8 442.3h0M114.8 452.7h0M105.2 461.7h0M99.0 449.0h0M104.0 432.4h0M107.6 448.2h0M104.1 458.9h0M118.4 462.2h0M108.6 449.0h0M119.0 458.2h0M116.7 445.6h0M106.1 443.0h0M99.2 432.4h0M107.8 429.2h0M112.3 447.0h0M104.7 453.8h0M103.7 431.6h0M114.4 452.5h0M96.9 432.8h0M101.7 433.4h0M101.3 454.5h0M104.6 459.3h0M112.7 453.6h0M109.1 455.0h0M106.1 441.1h0M111.4 433.6h0M100.4 447.0h0M108.8 440.0h0M101.3 435.5h0M106.1 440.1h0M100.8 448.5h0M97.0 438.6h0M121.3 453.1h0M100.7 444.7h0M112.2 426.8h0M112.3 438.4h0M110.1 449.3h0M95.7 459.9h0M107.5 426.1h0M98.3 439.0h0M106.7 456.4h0M114.9 448.3h0M106.0 441.4h0M110.6 442.3h0M106.1 459.4h0M107.6 444.4h0M108.8 434.6h0M112.9 436.7h0M109.8 449.2h0M103.8 434.2h0M112.1 442.1h0M116.4 435.1h0M114.8 438.6h0M101.7 453.2h0M118.8 433.7h0M117.4 456.9h0M102.8 440.6h0M121.5 457.1h0M108.3 436.3h0M112.1 448.4h0M114.9 456.5h0M117.4 434.2h0M106.6 450.9h0M110.1 440.0h0M107.4 446.8h0M110.7 453.3h0M106.7 434.5h0M108.1 458.8h0M102.4 452.4h0M98.1 436.7h0M103.6 451.7h0M111.7 455.7h0M103.5 463.3h0M106.7 441.3h0M100.9 436.3h0M118.5 439.2h0M111.0 427.9h0M113.5 437.0h0M115.8 429.6h0M107.5 450.1h0M114.8 458.6h0M101.5 439.9h0M106.9 440.7h0M100.4 438.7h0M113.0 437.2h0M108.8 434.2h0M112.8 436.9h0M100.1 450.7h0M112.3 444.2h0M116.4 461.7h0M106.4 442.1h0M105.8 458.6h0M99.9 443.7h0M102.7 447.5h0M106.1 445.8h0M116.2 436.6h0M113.1 451.8h0M100.3 448.3h0M110.0 460.3h0M106.0 427.7h0M108.9 451.1h0M108.2 453.9h0M108.6 449.4h0M111.1 459.9h0M109.5 443.8h0M106.8 433.3h0M112.8 429.7h0M106.3 450.1h0M113.3 437.3h0M99.2 430.4h0M111.7 429.5h0M113.1 437.2h0M110.1 442.1h0M110.3 442.5h0M104.2 443.8h0M105.5 433.3h0M110.4 441.0h0M107.5 433.2h0M115.4 453.9h0M105.6 441.6h0M109.2 462.7h0M114.5 454.8h0M103.8 462.6h0M114.7 459.4h0M111.8 454.8h0M109.1 436.4h0M102.6 430.6h0M107.0 450.2h0M118.6 443.3h0M108.1 431.0h0M106.9 428.7h0M101.5 444.4h0M104.8 440.2h0M110.2 462.8h0M108.4 425.9h0M104.3 445.2h0M109.1 426.5h0M115.7 432.8h0M123.9 423.8h0M117.0 441.3h0M106.4 448.4h0M111.6 439.4h0M111.1 458.4h0M117.9 431.0h0M109.0 430.9h0M109.9 449.1h0M107.0 452.3h0M114.4 459.0h0M98.6 435.4h0M120.1 451.4h0M108.1 445.3h0M112.8 432.7h0M112.2 447.0h0M104.6 441.3h0M112.0 448.0h0M109.0 456.6h0M105.8 457.5h0M104.9 448.5h0M105.9 449.7h0M112.8 436.7h0M109.1 453.6h0M110.5 452.4h0M113.7 453.8h0M119.0 457.1h0M108.6 440.2h0M102.5 449.2h0M113.0 454.4h0M113.0 444.1h0M106.5 454.6h0M98.8 445.1h0M106.3 463.1h0M101.6 453.6h0M112.6 457.7h0M109.4 458.0h0M109.3 430.3h0M101.1 433.9h0M95.6 451.5h0M112.2 434.8h0M108.8 425.4h0M99.7 431.1h0M109.8 446.7h0M100.7 433.2h0M115.5 446.0h0M105.6 453.9h0M114.9 440.0h0M106.1 452.1h0M108.9 453.0h0M107.0 454.6h0M99.7 459.7h0M106.7 433.9h0M105.1 442.6h0M113.6 452.7h0M115.5 442.1h0M106.4 448.4h0M101.5 449.2h0M107.9 443.9h0M114.9 460.5h0M108.6 432.4h0M109.3 424.1h0M106.0 427.5h0M119.8 443.7h0M112.1 448.1h0M112.7 453.9h0M101.4 460.8h0M109.9 431.2h0M120.7 436.1h0M121.4 458.6h0M103.1 446.5h0M108.9 441.7h0M116.9 460.3h0M102.6 456.3h0M113.7 452.4h0M103.4 460.9h0M97.2 441.0h0M109.1 440.8h0M104.3 448.4h0M100.3 462.5h0M106.0 437.4h0M104.5 443.3h0M105.8 440.3h0M101.0 428.0h0M99.4 447.5h0M114.1 429.7h0M110.9 460.6h0M113.9 441.7h0M108.1 424.1h0M114.1 433.9h0M103.3 440.0h0M101.3 440.7h0M112.0 433.3h0M115.7 432.9h0M112.5 444.8h0M104.6 438.8h0M98.2 446.4h0M104.6 455.6h0M108.3 433.0h0M109.3 427.1h0M106.9 448.2h0M114.3 446.9h0M116.1 439.0h0M114.6 436.3h0M105.4 453.8h0M108.6 447.8h0M98.5 436.2h0M105.9 429.4h0M109.6 451.4h0M107.9 427.7h0M114.2 458.7h0M104.0 458.4h0M111.9 456.8h0M108.9 451.0h0M118.6 432.0h0M106.3 446.9h0M115.5 437.9h0M113.0 436.7h0M118.9 459.0h0M109.1 430.4h0M107.0 460.4h0M110.6 448.7h0M105.2 429.5h0M111.8 450.1h0M111.3 459.7h0M100.7 432.7h0M113.3 436.3h0M121.0 448.1h0M111.1 437.8h0M113.0 442.2h0M114.1 428.0h0M111.1 453.0h0M96.1 437.2h0M100.9 449.7h0M117.1 446.1h0M110.3 460.9h0M100.3 457.1h0M99.5 460.7h0M114.1 455.5h0M105.0 446.3h0M111.6 463.3h0M116.5 446.7h0M114.8 444.8h0M118.5 444.1h0M108.8 456.4h0M108.9 461.8h0M101.2 426.2h0M107.8 452.3h0M106.9 460.7h0M105.4 444.8h0M110.8 441.7h0M119.0 447.8h0M118.1 437.8h0M102.5 448.7h0M110.8 430.3h0M113.7 459.9h0M106.6 444.2h0M102.4 441.0h0M103.3 444.1h0M107.8 428.8h0M107.2 443.9h0M107.0 452.4h0M114.5 433.0h0M110.3 463.3h0M110.4 441.0h0M120.1 431.2h0M111.2 439.8h0M110.8 451.2h0M109.8 458.8h0M105.5 444.3h0M111.2 437.8h0M107.5 437.4h0M111.3 444.4h0M109.6 440.5h0M112.2 455.0h0M115.7 449.8h0M104.4 439.5h0M114.5 426.3h0M104.2 437.7h0M112.6 442.1h0M106.3 435.5h0M104.9 449.3h0M96.3 459.8h0M104.7 431.2h0M114.8 453.1h0M100.4 443.4h0M107.1 436.8h0M116.6 457.9h0M110.4 441.8h0M109.5 443.3h0M122.9 431.9h0M110.7 451.5h0M106.4 442.7h0M108.2 436.8h0M107.7 461.1h0M105.5 440.3h0M101.3 460.4h0M114.2 448.2h0M106.1 462.6h0M105.5 450.7h0M109.1 455.0h0M108.0 433.7h0M113.8 429.3h0M112.7 459.3h0M109.8 451.8h0M109.9 457.9h0M97.4 440.1h0M103.6 459.5h0M113.8 425.0h0M115.7 438.2h0M109.7 438.8h0M115.0 451.1h0M112.4 442.1h0M112.7 443.2h0M115.4 432.0h0M108.6 438.6h0M102.4 441.0h0M108.8 436.1h0M110.1 453.2h0M115.5 435.0h0M108.4 445.9h0M113.9 459.5h0M99.7 454.8h0M110.8 441.6h0M90.4 439.5h0M106.1 430.6h0M108.5 451.5h0M109.1 444.1h0M113.4 455.5h0M104.8 436.8h0M108.2 453.9h0M100.5 446.6h0M114.6 448.4h0M111.4 442.8h0M107.6 449.2h0M118.1 458.1h0M110.0 454.0h0M108.5 443.7h0M111.3 448.6h0M112.4 435.7h0M111.1 453.5h0M111.1 457.8h0M108.5 437.9h0M98.3 430.2h0M100.1 450.2h0M106.3 455.5h0M105.2 434.0h0M111.0 438.7h0M108.5 443.0h0M112.7 422.2h0M106.1 439.6h0M112.9 445.4h0M103.8 457.6h0M108.8 440.5h0M98.4 428.2h0M103.6 460.9h0M109.1 449.1h0M102.6 446.3h0M114.1 448.8h0M112.5 444.4h0M109.3 447.5h0M110.3 450.9h0M111.2 420.3h0M109.1 441.9h0M108.9 441.2h0M103.7 451.6h0M115.6 458.8h0M103.5 439.4h0M107.5 440.6h0M108.2 459.1h0M113.5 451.7h0M103.5 455.8h0M105.0 439.2h0M115.2 437.9h0M113.9 445.6h0M101.1 451.7h0M108.4 436.6h0M111.4 435.4h0M110.6 454.7h0M108.4 437.4h0M114.2 461.8h0M111.3 450.8h0M102.2 441.6h0M101.1 431.6h0M116.9 450.2h0M112.1 452.9h0M102.7 444.5h0M116.7 429.0h0M114.1 446.5h0M116.3 463.3h0M110.5 442.1h0M103.0 448.0h0M101.4 455.8h0M112.3 444.1h0M113.7 453.6h0M111.4 429.0h0M104.8 441.1h0M95.9 461.8h0M98.8 444.7h0M102.3 429.0h0M115.7 436.0h0M111.8 432.6h0M103.4 438.1h0M116.8 445.0h0M113.0 435.7h0M104.7 442.8h0M114.7 456.8h0M104.1 446.9h0M115.0 461.2h0M109.3 454.7h0M109.5 456.3h0M113.0 428.2h0M111.4 449.9h0M115.7 454.9h0M106.5 448.0h0M106.4 449.0h0M112.1 435.4h0M117.6 438.0h0M105.0 427.2h0M108.3 424.9h0M109.5 431.2h0M110.1 450.9h0M111.1 432.5h0M110.1 453.9h0M117.3 440.5h0M118.9 462.8h0M108.2 446.6h0M109.8 455.5h0M103.3 447.2h0M111.9 445.4h0M110.6 450.6h0M106.2 463.4h0M110.5 444.5h0M107.1 431.1h0M117.0 455.9h0M108.5 447.6h0M112.6 443.6h0M106.5 449.8h0M113.0 444.7h0M104.2 434.8h0M115.7 455.4h0M105.2 457.2h0M110.2 439.4h0M116.2 460.9h0M109.1 449.1h0M110.6 452.0h0M106.9 451.2h0M107.3 458.0h0M106.6 455.1h0M103.8 447.6h0M100.4 445.1h0M106.9 451.3h0M109.7 441.2h0M109.7 459.1h0M108.4 451.9h0M106.0 451.6h0M103.5 443.7h0M109.6 428.8h0M110.1 446.7h0M103.3 456.4h0M105.3 428.4h0M107.6 449.1h0M111.0 445.8h0M111.9 439.0h0M156.9 440.6h0M131.5 451.6h0M154.7 455.7h0M138.1 441.8h0M145.7 460.0h0M160.5 449.4h0M150.1 428.2h0M156.7 458.4h0M147.6 453.6h0M133.2 425.0h0M153.8 433.6h0M127.6 438.5h0M125.1 442.8h0M140.2 430.6h0M174.9 428.8h0M151.5 452.2h0M148.6 431.4h0M134.2 440.0h0M130.6 438.3h0M127.6 448.7h0M135.4 462.3h0M129.4 431.5h0M145.3 432.8h0M163.0 457.5h0M163.4 443.9h0M132.6 453.5h0M152.7 430.5h0M127.8 447.1h0M146.2 445.9h0M156.4 438.0h0M125.8 440.0h0M151.5 436.7h0M163.2 432.6h0M137.9 450.6h0M131.2 434.2h0M164.4 428.8h0M163.5 426.2h0M166.1 439.7h0M154.9 459.3h0M170.0 439.1h0M168.4 455.2h0M131.6 429.1h0M147.8 454.0h0M164.0 441.8h0M158.5 432.6h0M166.2 453.9h0M144.3 430.5h0M138.2 441.9h0M156.3 460.9h0M133.5 451.5h0M163.8 438.3h0M150.9 452.2h0M137.4 428.3h0M134.4 451.4h0M144.6 437.2h0M148.1 449.3h0M148.7 455.8h0M164.8 442.6h0M144.1 431.1h0M145.2 445.4h0M139.5 431.1h0M168.1 447.8h0M165.5 454.9h0M127.7 455.4h0M171.9 439.5h0M145.3 456.4h0M150.2 451.2h0M139.6 448.5h0M129.8 454.5h0M140.8 460.1h0M142.8 441.7h0M167.6 442.9h0M165.0 436.8h0M149.8 428.7h0M150.4 453.3h0M134.2 448.9h0M140.7 437.6h0M160.8 453.4h0M136.9 451.1h0M155.4 431.8h0M149.5 455.5h0M140.4 438.3h0M171.6 440.4h0M162.2 447.3h0M149.7 460.8h0M164.5 451.3h0M146.0 436.5h0M138.7 451.9h0M164.3 450.1h0M158.7 435.6h0M135.4 442.1h0M145.0 432.9h0M157.0 459.0h0M165.3 451.6h0M138.9 440.6h0M166.3 423.5h0M150.6 452.0h0M173.4 458.3h0M148.7 445.8h0M156.9 460.8h0M135.0 448.3h0M135.9 440.6h0M148.9 456.0h0M162.8 459.3h0M125.5 458.0h0M142.9 450.1h0M161.1 446.6h0M129.6 446.1h0M176.3 453.2h0M136.6 435.4h0M139.9 436.1h0M157.6 442.1h0M145.3 448.6h0M163.8 461.6h0M131.4 452.6h0M129.9 456.0h0M149.3 453.1h0M162.1 453.4h0M148.1 435.4h0M153.0 450.0h0M161.4 425.4h0M163.8 453.2h0M138.6 437.5h0M169.5 436.1h0M151.1 451.1h0M163.9 438.4h0M128.2 453.3h0M121.8 447.9h0M126.4 461.5h0M151.6 446.3h0M144.6 447.4h0M133.4 443.0h0M145.3 451.9h0M158.4 430.9h0M140.7 431.7h0M152.1 431.4h0M128.1 447.9h0M128.4 461.3h0M144.1 431.4h0M174.8 459.9h0M134.2 442.0h0M171.1 460.0h0M132.0 440.8h0M170.5 454.1h0M171.2 457.4h0M173.0 462.9h0M150.8 429.3h0M134.4 437.1h0M140.6 456.1h0M171.8 438.8h0M167.8 427.0h0M151.3 451.7h0M160.4 458.4h0M164.7 439.1h0M150.8 437.4h0M147.9 444.6h0M145.2 450.1h0M143.0 458.0h0M173.6 428.7h0M156.7 447.5h0M147.5 443.8h0M128.8 439.3h0M164.7 444.0h0M136.5 448.7h0M153.5 441.9h0M135.6 439.0h0M142.8 454.4h0M171.1 436.4h0M126.8 449.6h0M157.0 446.6h0M130.3 436.9h0M159.8 440.6h0M169.3 435.9h0M141.8 447.9h0M123.3 455.8h0M166.1 428.7h0M137.7 448.1h0M135.4 459.1h0M153.9 458.0h0M149.6 454.2h0M149.5 458.2h0M168.5 454.5h0M140.8 436.8h0M136.0 455.1h0M137.8 454.1h0M157.9 443.1h0M129.6 456.6h0M147.3 445.0h0M141.6 434.1h0M155.3 461.3h0M158.9 442.9h0M164.1 448.2h0M164.8 423.6h0M142.3 438.9h0M132.0 456.3h0M135.4 452.0h0M159.1 430.9h0M133.7 432.8h0M162.2 451.0h0M151.1 433.7h0M156.0 429.0h0M168.5 460.5h0M157.4 460.3h0M135.6 455.9h0M168.3 443.8h0M131.4 439.2h0M140.5 431.9h0M145.9 432.6h0M145.3 449.3h0M171.5 432.5h0M135.6 439.9h0M153.4 459.9h0M145.7 461.9h0M150.2 452.5h0M151.3 461.8h0M150.7 436.8h0M144.1 441.3h0M128.9 446.4h0M148.6 439.7h0M130.9 430.8h0M175.7 419.9h0M159.5 438.7h0M154.7 460.9h0M135.3 450.3h0M156.1 454.5h0M134.5 453.6h0M173.4 456.4h0M136.0 439.9h0M145.9 450.2h0M141.0 440.4h0M133.8 438.7h0M151.4 457.6h0M149.0 456.5h0M139.8 445.8h0M138.4 445.4h0M143.6 426.3h0M154.4 440.5h0M161.0 451.6h0M164.7 454.0h0M137.7 460.4h0M137.0 446.3h0M152.9 447.0h0M166.2 444.6h0M163.6 451.4h0M145.0 433.1h0M156.8 460.4h0M163.9 450.9h0M127.1 463.2h0M144.2 435.4h0M149.2 429.6h0M133.4 453.3h0M146.0 454.4h0M134.0 422.1h0M168.9 442.3h0M168.6 459.6h0M155.1 443.6h0M160.8 463.4h0M157.4 454.2h0M159.2 427.0h0M149.1 440.5h0M135.2 432.8h0M147.8 455.5h0M162.5 452.1h0M126.0 459.6h0M142.5 433.4h0M125.8 460.4h0M143.3 439.6h0M159.2 428.6h0M132.3 434.4h0M145.3 452.6h0M127.4 423.7h0M144.6 461.2h0M137.8 453.7h0M148.9 451.3h0M129.0 456.4h0M169.3 442.0h0M143.1 455.8h0M161.5 443.3h0M145.5 453.9h0M155.1 461.6h0M137.7 440.1h0M159.9 451.8h0M161.9 459.3h0M144.7 443.2h0M151.5 437.3h0M136.8 451.6h0M147.6 442.4h0M151.5 441.5h0M152.0 448.7h0M158.1 458.1h0M133.1 449.5h0M168.7 453.1h0M152.6 442.6h0M153.2 439.2h0M147.6 441.6h0M154.6 446.5h0M168.2 442.3h0M162.5 460.1h0M150.5 449.8h0M146.8 429.8h0M145.2 456.4h0M137.9 440.9h0M142.5 430.1h0M138.2 461.8h0M149.3 445.3h0M159.8 450.5h0M172.3 445.3h0M133.3 461.3h0M141.3 431.8h0M132.5 440.3h0M137.4 435.4h0M141.0 435.8h0M135.0 439.2h0M163.7 451.6h0M126.3 451.1h0M146.0 435.7h0M157.6 439.0h0M137.5 438.8h0M132.7 458.2h0M141.3 449.1h0M153.2 459.1h0M146.6 447.7h0M139.1 452.1h0M148.0 463.3h0M134.1 440.8h0M138.0 451.8h0M153.0 424.0h0M154.9 442.4h0M140.6 445.8h0M158.9 459.8h0M151.7 434.6h0M153.2 437.6h0M148.5 457.9h0M136.4 424.9h0M148.3 457.9h0M136.8 434.7h0M151.7 433.6h0M156.3 456.1h0M137.4 442.0h0M145.9 455.9h0M143.4 444.4h0M141.5 444.8h0M149.1 451.7h0M169.7 435.1h0M127.1 462.5h0M173.2 457.8h0M124.8 451.0h0M170.6 455.1h0M163.0 441.8h0M130.6 451.6h0M160.6 445.5h0M136.8 455.2h0M159.3 460.7h0M155.1 451.5h0M139.7 446.8h0M148.4 436.9h0M140.0 449.6h0M151.5 455.6h0M148.3 459.1h0M155.5 439.0h0M157.6 453.0h0M135.5 460.6h0M161.2 458.9h0M137.3 436.5h0M141.7 445.3h0M153.6 449.1h0M170.8 458.5h0M128.8 456.5h0M163.0 441.8h0M155.7 456.7h0M156.0 459.4h0M142.3 436.3h0M159.3 454.1h0M125.7 438.4h0M161.0 441.1h0M126.2 463.1h0M141.0 437.0h0M158.6 451.2h0M125.4 431.7h0M163.7 456.2h0M133.9 442.4h0M137.8 446.1h0M153.0 458.3h0M159.6 459.5h0M167.5 447.3h0M121.4 435.3h0M138.5 428.5h0M138.1 426.4h0M150.0 435.7h0M128.8 453.5h0M144.2 458.6h0M134.1 443.6h0M122.0 438.0h0M133.8 439.1h0M161.9 460.6h0M147.1 433.8h0M140.7 442.4h0M127.4 440.0h0M144.5 434.4h0M155.0 449.8h0M130.3 427.8h0M174.1 424.1h0M162.3 431.5h0M117.6 434.9h0M167.1 434.3h0M138.0 460.5h0M135.7 439.0h0M130.6 441.5h0M179.9 446.1h0M168.2 444.5h0M145.5 441.9h0M163.8 438.3h0M154.0 456.8h0M171.7 458.8h0M172.3 429.3h0M165.6 450.2h0M135.1 424.0h0M171.1 462.0h0M155.4 432.8h0M168.4 453.9h0M171.9 454.0h0M133.3 430.6h0M121.8 431.2h0M143.5 452.9h0M155.2 459.6h0M145.5 454.8h0M137.7 443.7h0M156.2 446.2h0M159.3 448.8h0M145.7 440.4h0M156.7 454.4h0M155.9 449.4h0M137.5 456.0h0M157.0 441.3h0M132.6 441.9h0M142.8 452.5h0M135.3 453.8h0M163.9 440.5h0M138.3 432.3h0M149.3 441.4h0M142.5 446.2h0M163.7 437.4h0M144.5 457.7h0M159.0 440.2h0M151.8 451.1h0M156.7 439.8h0M144.4 441.7h0M133.8 442.3h0M125.4 455.8h0M146.7 445.9h0M158.3 450.9h0M161.1 434.8h0M142.8 443.0h0M169.5 445.5h0M157.1 430.5h0M168.0 430.3h0M100.8 451.9h0M156.5 446.9h0M134.1 442.6h0M140.8 458.4h0M100.1 440.2h0M129.8 452.0h0M97.4 453.2h0M139.3 451.4h0M121.4 450.1h0M86.5 438.8h0M120.5 432.8h0M140.4 459.1h0M101.6 432.7h0M155.7 456.8h0M82.5 450.4h0M176.8 456.2h0M171.7 438.3h0M111.8 449.1h0M97.3 452.9h0M141.9 446.3h0M112.6 453.8h0M167.1 438.8h0M132.3 437.2h0M177.2 459.3h0M90.7 451.6h0M140.6 452.2h0M100.0 433.9h0M149.3 449.9h0M95.8 461.4h0M100.3 441.8h0M86.8 432.4h0M127.8 457.1h0M148.6 441.2h0M148.0 447.0h0M150.9 435.8h0M139.8 445.1h0M100.2 455.8h0M127.2 455.6h0M89.6 433.6h0M128.6 430.9h0M150.0 463.0h0M140.6 436.6h0M131.6 454.6h0M129.9 458.3h0M179.9 439.2h0M166.5 435.2h0M166.1 446.1h0M171.2 442.5h0M108.9 430.7h0M112.9 450.6h0M86.1 432.8h0M154.7 444.7h0M118.1 444.0h0M122.5 458.7h0M151.0 454.5h0M154.7 441.3h0M155.5 450.8h0M149.2 436.4h0M119.5 442.4h0M100.8 460.6h0M84.5 450.2h0M136.1 429.4h0M144.8 446.0h0M148.4 442.9h0M84.4 430.7h0M141.9 459.3h0M151.0 447.9h0M99.1 446.6h0M141.1 431.3h0M81.7 459.7h0M94.7 461.3h0M136.4 450.2h0M99.4 434.4h0M115.7 440.5h0M158.5 439.2h0M88.3 460.2h0M116.3 443.9h0M139.4 444.8h0M140.9 444.3h0M112.6 438.0h0M138.4 442.1h0M112.7 448.4h0M88.2 434.7h0M142.3 450.1h0M106.3 451.8h0M143.6 458.8h0M168.0 433.8h0M170.3 452.7h0M137.2 443.2h0M154.3 432.1h0M117.2 439.2h0M171.6 452.5h0M128.6 432.9h0M124.5 461.0h0M143.3 454.4h0M165.7 460.4h0M90.2 453.0h0M106.6 451.9h0M105.4 434.1h0M143.1 457.8h0M156.9 458.6h0M97.2 463.3h0M81.2 459.9h0M85.6 437.9h0M95.6 432.5h0M99.2 462.9h0M91.6 459.3h0M84.4 459.4h0M100.7 444.1h0M84.2 434.0h0M95.3 437.7h0M80.5 433.5h0M82.0 442.9h0M90.2 441.1h0M98.2 438.0h0M85.7 460.9h0M92.7 446.3h0M84.9 453.7h0M99.8 446.3h0M93.3 446.2h0M93.7 460.4h0M91.2 460.9h0M90.3 453.8h0M83.4 435.1h0M99.8 455.7h0M84.2 429.8h0M88.1 445.5h0M80.7 433.6h0M83.3 440.6h0M83.4 439.7h0M84.4 431.7h0M97.4 435.3h0M85.8 455.3h0M96.7 436.5h0M89.9 430.5h0M101.9 382.3h0M143.2 388.1h0M101.1 392.6h0M105.7 413.4h0M179.9 393.2h0M80.9 381.3h0M110.2 415.0h0" stroke="#000" stroke-opacity="0.45" stroke-width="1.4" stroke-linecap="round" fill="none"/>
<path d="M143.7 383.9h0M138.0 408.9h0M154.2 407.1h0M142.6 413.2h0M147.2 397.0h0M139.4 394.8h0M156.4 402.9h0M152.2 403.0h0M144.6 403.2h0M161.1 393.8h0M162.0 399.1h0M150.2 410.6h0M133.0 416.8h0M155.9 408.0h0M137.3 425.5h0M155.5 391.3h0M152.0 392.8h0M168.2 384.0h0M165.9 379.9h0M157.5 393.4h0M162.1 409.4h0M146.0 390.1h0M149.6 396.1h0M147.0 385.2h0M156.6 396.3h0M143.8 399.5h0M141.7 393.8h0M126.3 402.5h0M142.8 414.2h0M137.0 390.7h0M155.4 413.8h0M140.1 427.9h0M143.2 407.5h0M152.8 405.3h0M140.4 393.0h0M160.1 382.2h0M155.7 409.3h0M158.7 392.4h0M137.4 402.4h0M170.1 378.5h0M148.0 394.6h0M162.7 415.8h0M163.0 389.0h0M155.3 391.9h0M156.7 392.3h0M154.4 392.4h0M139.6 424.4h0M157.4 394.5h0M147.7 417.4h0M165.2 397.1h0M173.3 391.5h0M153.4 414.3h0M151.8 400.2h0M166.6 393.0h0M154.9 412.4h0M151.7 396.4h0M144.7 406.2h0M136.6 408.7h0M130.5 401.9h0M137.7 404.7h0M150.4 400.7h0M137.5 407.0h0M137.3 389.2h0M155.2 411.7h0M156.3 393.0h0M137.6 402.1h0M154.4 397.3h0M149.0 386.8h0M145.3 400.3h0M154.9 417.3h0M145.6 421.1h0M157.3 401.5h0M172.4 386.5h0M151.9 387.4h0M146.7 404.4h0M149.2 417.2h0M142.9 406.1h0M157.2 377.3h0M151.5 396.8h0M166.8 388.4h0M172.7 382.5h0M151.5 378.8h0M158.9 394.4h0M147.7 411.2h0M161.0 378.7h0M135.6 405.6h0M163.7 386.2h0M140.0 399.8h0M169.9 390.7h0M150.9 411.6h0M146.8 408.7h0M137.1 405.6h0M143.4 400.3h0M128.1 395.1h0M148.3 389.6h0M143.2 401.1h0M172.4 387.6h0M152.8 391.4h0M161.4 405.0h0M146.3 407.3h0M146.5 395.6h0M154.7 382.8h0M147.3 406.6h0M147.7 393.6h0M160.1 389.1h0M156.9 407.4h0M172.2 397.0h0M146.6 402.6h0M141.5 396.8h0M149.7 396.8h0M178.8 387.5h0M142.5 385.6h0M138.8 405.7h0M157.0 386.5h0M156.4 400.0h0M169.6 411.9h0M148.6 410.3h0M144.7 399.5h0M152.9 379.4h0M151.4 395.4h0M130.9 401.4h0M159.0 410.9h0M143.8 398.2h0M143.0 418.3h0M154.2 403.5h0M150.2 394.1h0M143.4 419.7h0M174.4 392.0h0M147.6 396.1h0M142.0 395.9h0M144.5 402.1h0M153.5 390.1h0M152.0 406.8h0M141.4 404.8h0M146.0 390.2h0M150.2 401.1h0M140.2 402.4h0M149.3 422.1h0M146.0 396.9h0M131.5 406.0h0M152.2 388.1h0M169.4 375.9h0M152.3 407.1h0M153.8 402.8h0M136.0 406.3h0M149.9 408.8h0M132.8 411.4h0M150.9 404.7h0M159.1 404.5h0M151.6 390.2h0M135.2 403.4h0M154.3 406.9h0M141.5 407.3h0M155.9 398.1h0M138.9 409.8h0M150.4 415.5h0M157.8 396.5h0M149.4 391.2h0M158.2 395.2h0M131.3 410.4h0M145.0 415.9h0M162.8 388.8h0M147.2 402.7h0M144.2 417.4h0M161.3 399.9h0M161.9 387.9h0M157.3 390.8h0M149.6 404.2h0M148.4 407.8h0M132.3 414.0h0M157.1 398.1h0M152.1 405.0h0M134.7 412.3h0M132.6 415.9h0M149.6 390.7h0M138.9 394.5h0M152.8 396.1h0M133.4 401.8h0M143.8 400.0h0M146.9 400.1h0M151.8 391.5h0M150.8 415.0h0M138.7 407.9h0M155.9 400.3h0M138.8 407.0h0M157.4 404.3h0M129.1 393.0h0M164.6 384.2h0M135.1 395.8h0M130.1 407.1h0M147.2 398.4h0M153.1 399.5h0M148.3 392.5h0M134.9 405.3h0M151.4 397.8h0M138.2 403.3h0M141.1 396.1h0M153.7 394.4h0M162.9 389.9h0M140.8 408.0h0M169.5 383.1h0M160.2 393.6h0M142.7 399.8h0M140.3 397.4h0M157.6 401.7h0M150.1 411.1h0M154.3 384.0h0M158.0 389.9h0M157.3 394.1h0M156.0 397.6h0M163.9 390.9h0M158.9 389.3h0M150.8 389.6h0M159.4 400.0h0M156.0 397.5h0M158.8 390.8h0M156.3 395.9h0M148.6 404.8h0M159.7 392.1h0M154.6 391.0h0M147.5 403.3h0M152.8 396.7h0M153.7 393.3h0M162.9 395.7h0M160.6 401.6h0M145.8 398.8h0M153.7 395.9h0M153.8 391.0h0M150.4 397.5h0M143.4 407.0h0M157.3 390.8h0M155.3 385.1h0M150.7 395.2h0M143.9 394.9h0M155.7 388.8h0M158.3 394.1h0M158.7 403.0h0M148.6 397.4h0M164.5 386.1h0M159.0 389.7h0M151.5 391.9h0M163.4 391.3h0M155.9 398.4h0M152.4 399.5h0M155.3 386.2h0M154.0 409.0h0M154.6 397.8h0M158.7 395.3h0M150.3 406.0h0M169.8 387.5h0M173.7 393.5h0M149.3 400.3h0M158.2 399.3h0M97.7 390.5h0M93.1 407.3h0M93.3 415.5h0M84.1 415.7h0M92.8 406.0h0M98.1 403.2h0M105.3 403.4h0M108.6 415.5h0M104.8 400.5h0M105.0 412.5h0M98.3 402.9h0M99.7 412.2h0M121.3 427.8h0M121.3 393.8h0M115.2 391.2h0M112.0 406.6h0M120.0 395.2h0M116.0 405.8h0M114.3 425.3h0M119.5 386.1h0M115.4 385.1h0M117.4 385.9h0M117.5 417.6h0M112.0 425.7h0M115.0 393.9h0M123.1 416.5h0M121.1 428.5h0M118.7 403.3h0M121.4 405.3h0M112.2 389.4h0M123.0 425.3h0M117.4 395.3h0M109.5 382.4h0M111.1 399.2h0M116.2 418.3h0M124.8 427.5h0M114.0 412.6h0M115.9 417.3h0M109.9 397.9h0M120.4 396.9h0M124.2 426.3h0M124.8 427.1h0M122.5 420.8h0M107.5 437.7h0M110.8 450.5h0M108.8 433.4h0M108.7 446.6h0M106.7 437.8h0M114.3 433.1h0M101.1 446.5h0M111.5 448.7h0M106.6 450.8h0M104.3 438.8h0M121.7 450.3h0M106.3 455.7h0M115.5 441.7h0M100.0 452.5h0M109.3 444.3h0M119.7 451.5h0M106.1 429.7h0M114.2 456.0h0M112.6 458.6h0M105.4 445.1h0M116.0 436.7h0M117.2 433.3h0M103.7 455.2h0M108.9 449.3h0M105.1 429.8h0M118.4 427.4h0M110.2 437.1h0M117.9 441.3h0M101.1 440.0h0M107.1 455.3h0M106.4 437.8h0M122.7 434.6h0M108.1 431.9h0M111.2 439.0h0M117.9 451.1h0M108.5 451.1h0M106.4 435.9h0M103.2 454.3h0M105.7 444.9h0M103.0 435.8h0M113.9 451.3h0M100.7 439.8h0M108.7 456.4h0M109.2 438.1h0M106.2 442.9h0M119.3 437.5h0M113.1 442.0h0M101.9 460.9h0M101.7 433.6h0M109.1 429.9h0M111.7 457.1h0M111.7 449.4h0M114.0 455.0h0M105.2 450.1h0M95.3 458.9h0M112.2 455.7h0M109.0 458.6h0M106.2 462.4h0M109.5 437.8h0M115.5 461.9h0M114.3 443.8h0M101.7 444.7h0M110.9 453.6h0M105.8 456.4h0M105.3 431.7h0M109.0 431.7h0M113.3 444.0h0M102.5 457.1h0M107.1 448.9h0M99.2 431.5h0M116.1 462.6h0M104.0 438.3h0M106.1 454.9h0M105.9 446.4h0M111.5 454.0h0M114.3 462.1h0M96.7 446.7h0M112.4 456.4h0M113.3 453.8h0M103.9 434.3h0M113.5 452.5h0M114.3 447.3h0M114.3 429.0h0M111.8 448.3h0M113.4 454.2h0M104.2 461.9h0M105.5 436.3h0M105.4 430.9h0M113.7 437.8h0M100.9 455.5h0M103.0 456.3h0M102.8 436.9h0M111.3 461.1h0M112.3 446.9h0M118.0 427.7h0M110.4 462.9h0M105.9 445.3h0M117.7 440.6h0M101.4 427.7h0M107.5 451.4h0M105.6 454.6h0M112.0 441.4h0M111.0 433.9h0M108.9 436.0h0M112.4 432.0h0M111.3 438.4h0M104.7 445.0h0M109.3 454.4h0M111.3 436.9h0M117.3 435.5h0M110.9 442.5h0M106.5 433.1h0M111.4 454.4h0M107.5 444.6h0M109.5 447.8h0M111.7 432.7h0M112.6 428.0h0M117.7 458.0h0M113.0 449.7h0M109.3 457.5h0M102.8 459.6h0M107.6 450.6h0M109.6 463.3h0M101.4 456.9h0M110.0 450.8h0M101.4 445.5h0M105.1 454.1h0M100.0 459.3h0M111.6 444.0h0M105.8 445.5h0M106.1 432.4h0M117.0 446.9h0M114.2 430.2h0M106.3 453.0h0M105.0 445.9h0M107.9 441.3h0M104.0 457.2h0M118.9 442.3h0M105.1 440.9h0M110.7 458.1h0M106.9 447.5h0M106.6 457.1h0M109.4 454.7h0M109.4 445.4h0M106.9 455.5h0M114.1 430.8h0M111.3 442.3h0M113.9 457.8h0M101.5 439.7h0M103.8 459.0h0M110.4 421.4h0M102.7 427.6h0M104.8 440.6h0M112.1 444.5h0M102.9 453.2h0M108.9 461.7h0M106.7 430.5h0M116.6 455.4h0M105.1 462.4h0M101.9 445.6h0M101.9 428.5h0M111.3 449.5h0M106.4 444.3h0M115.2 428.1h0M109.7 462.9h0M111.8 452.1h0M102.9 439.7h0M105.0 449.5h0M108.4 447.7h0M109.9 439.6h0M101.6 454.8h0M117.0 438.0h0M108.8 438.0h0M116.2 451.2h0M114.1 442.6h0M109.0 458.4h0M115.0 455.4h0M109.9 456.3h0M115.7 453.8h0M115.0 440.1h0M100.7 456.7h0M115.1 426.6h0M113.9 437.1h0M114.1 433.5h0M110.4 448.5h0M119.2 463.2h0M114.0 434.9h0M109.7 461.6h0M120.3 462.6h0M102.5 442.4h0M106.4 429.3h0M119.8 459.3h0M108.2 438.2h0M115.1 436.4h0M113.1 450.2h0M107.4 441.4h0M116.5 442.3h0M113.2 440.7h0M118.3 452.8h0M111.2 456.0h0M107.2 453.6h0M100.0 425.3h0M101.9 454.3h0M113.4 432.8h0M112.1 459.7h0M100.3 434.1h0M101.4 450.6h0M116.1 454.1h0M117.5 453.5h0M110.0 463.6h0M113.8 432.6h0M112.2 441.4h0M112.8 433.2h0M112.3 432.0h0M104.0 431.5h0M120.1 437.2h0M123.4 434.0h0M105.2 452.3h0M117.7 431.7h0M101.2 444.3h0M110.2 437.4h0M107.5 441.4h0M115.8 437.5h0M110.7 440.8h0M117.6 434.4h0M97.6 456.4h0M103.9 462.1h0M122.6 445.6h0M102.7 449.4h0M108.0 434.6h0M100.8 433.6h0M118.2 440.3h0M101.8 440.1h0M112.5 457.9h0M99.7 429.9h0M106.9 446.2h0M103.3 457.5h0M100.3 444.0h0M109.8 431.1h0M116.3 448.7h0M105.2 455.2h0M109.8 455.4h0M102.4 458.7h0M111.6 452.6h0M107.0 462.4h0M123.0 440.8h0M115.2 450.5h0M107.9 451.2h0M121.3 443.0h0M109.9 462.3h0M105.1 441.7h0M113.2 437.9h0M105.5 458.2h0M113.4 427.9h0M121.8 442.5h0M117.3 436.8h0M117.9 438.0h0M107.6 441.7h0M108.0 459.1h0M106.6 436.9h0M99.9 432.0h0M112.2 424.6h0M110.1 447.1h0M107.1 452.7h0M112.5 422.3h0M110.0 457.3h0M101.8 459.7h0M108.8 444.6h0M107.0 431.9h0M105.5 436.3h0M110.9 448.4h0M105.9 453.0h0M101.7 443.7h0M106.7 443.5h0M109.5 444.5h0M106.2 435.2h0M115.2 456.4h0M109.9 447.2h0M110.8 455.8h0M108.5 429.3h0M102.8 436.9h0M110.6 429.9h0M106.1 431.6h0M101.8 446.1h0M104.8 445.0h0M106.5 456.3h0M116.0 450.4h0M113.3 462.3h0M99.0 456.2h0M111.4 436.5h0M105.7 449.5h0M110.6 456.8h0M117.8 430.0h0M101.8 443.5h0M115.2 437.8h0M115.2 444.8h0M104.6 437.2h0M119.6 437.4h0M116.7 430.9h0M112.3 431.1h0M107.2 438.6h0M112.5 451.8h0M111.8 444.1h0M107.9 448.5h0M108.5 458.3h0M112.5 437.8h0M106.7 445.9h0M97.9 458.4h0M106.8 432.8h0M113.7 428.0h0M111.1 438.0h0M111.8 444.4h0M112.7 452.2h0M103.3 442.7h0M111.7 455.2h0M111.2 433.7h0M113.9 442.9h0M100.9 454.3h0M100.1 448.3h0M105.3 457.5h0M103.7 417.4h0M104.5 447.3h0M106.9 450.1h0M108.2 441.0h0M117.0 448.2h0M99.9 451.7h0M102.7 439.5h0M105.1 456.8h0M91.4 451.3h0M104.5 433.1h0M109.6 445.6h0M113.5 462.4h0M113.7 462.7h0M103.8 453.2h0M109.6 458.4h0M102.8 449.9h0M106.0 452.4h0M97.5 460.8h0M107.2 430.7h0M112.7 457.4h0M103.2 460.5h0M109.7 435.2h0M104.9 444.3h0M100.1 431.0h0M112.7 438.3h0M108.7 445.3h0M105.3 445.9h0M105.3 451.7h0M108.6 461.0h0M108.6 449.6h0M111.9 458.4h0M98.7 439.8h0M111.9 455.1h0M105.7 430.4h0M111.6 454.4h0M105.4 455.4h0M101.3 433.1h0M106.7 447.8h0M106.2 439.8h0M105.4 460.9h0M108.1 437.5h0M111.9 437.0h0M102.8 446.3h0M102.4 444.3h0M108.4 450.0h0M113.6 453.6h0M100.3 460.9h0M112.0 432.4h0M103.1 441.5h0M117.9 434.2h0M103.4 437.2h0M101.6 456.5h0M109.1 457.3h0M116.2 442.2h0M113.0 461.7h0M108.5 452.5h0M108.7 427.1h0M109.9 429.2h0M100.1 453.7h0M119.7 440.2h0M115.9 453.6h0M112.1 447.4h0M107.6 452.0h0M107.5 449.9h0M106.9 433.0h0M107.5 453.6h0M114.9 432.6h0M99.1 450.1h0M114.5 456.3h0M116.3 434.9h0M111.9 438.6h0M105.1 422.9h0M111.1 434.2h0M106.4 443.6h0M110.0 436.0h0M119.9 437.8h0M113.2 449.0h0M114.1 443.1h0M106.3 456.4h0M113.9 427.4h0M113.1 448.0h0M113.0 436.7h0M113.4 430.9h0M104.0 451.5h0M111.4 432.3h0M99.9 452.2h0M108.9 444.2h0M102.3 442.1h0M104.1 458.9h0M113.1 439.0h0M116.0 440.7h0M104.9 454.6h0M100.3 438.2h0M107.5 443.8h0M109.5 445.5h0M109.6 436.5h0M99.8 438.7h0M119.9 462.5h0M107.4 435.4h0M101.9 444.0h0M109.4 457.6h0M109.6 452.8h0M112.8 456.0h0M104.5 461.2h0M107.7 444.8h0M109.9 446.1h0M102.6 452.9h0M103.7 452.6h0M114.0 449.7h0M105.4 443.7h0M111.2 442.1h0M107.7 440.1h0M102.7 431.4h0M103.4 442.5h0M103.0 444.5h0M108.4 450.1h0M103.6 454.9h0M106.3 459.5h0M104.0 440.1h0M106.4 445.2h0M113.4 433.8h0M103.6 446.5h0M103.5 458.3h0M105.9 455.1h0M121.4 445.0h0M109.3 435.3h0M109.6 434.7h0M106.7 454.3h0M105.8 443.4h0M102.3 446.8h0M101.3 448.1h0M106.3 455.3h0M105.4 447.5h0M105.1 444.0h0M105.1 456.0h0M102.4 444.0h0M117.4 443.5h0M111.5 452.4h0M101.4 463.1h0M111.5 443.6h0M114.6 434.2h0M111.7 459.6h0M108.0 444.8h0M109.0 419.6h0M106.2 459.1h0M106.2 461.5h0M110.0 460.7h0M104.3 458.6h0M116.9 449.2h0M108.9 438.7h0M111.6 439.1h0M100.0 448.0h0M106.9 434.9h0M106.3 456.9h0M108.8 446.2h0M118.4 446.3h0M117.4 440.4h0M110.3 454.7h0M103.1 432.6h0M111.4 443.4h0M108.3 446.7h0M118.1 455.9h0M107.0 449.7h0M116.6 454.6h0M108.4 451.8h0M113.2 444.9h0M107.1 451.2h0M113.8 453.8h0M112.2 439.9h0M116.1 454.6h0M113.9 463.0h0M113.8 442.1h0M112.9 449.0h0M106.9 454.6h0M106.7 447.7h0M117.8 453.8h0M109.6 439.5h0M106.2 447.7h0M105.1 449.2h0M115.6 440.9h0M102.0 458.6h0M112.9 432.5h0M104.5 439.9h0M108.3 451.0h0M112.2 445.1h0M119.5 435.4h0M113.0 452.0h0M104.5 460.5h0M112.4 439.5h0M108.4 429.2h0M103.7 442.1h0M113.9 439.4h0M103.8 441.3h0M112.9 460.6h0M107.1 452.3h0M114.5 448.1h0M104.1 447.1h0M105.6 451.6h0M112.6 448.2h0M112.2 452.1h0M105.5 449.5h0M101.6 437.4h0M116.9 442.4h0M108.4 433.5h0M108.8 445.0h0M109.6 440.4h0M109.9 432.0h0M114.0 446.9h0M108.1 440.4h0M110.7 453.6h0M106.9 429.5h0M122.2 460.8h0M108.3 433.4h0M115.4 440.9h0M105.8 448.3h0M115.4 451.6h0M111.9 448.7h0M116.1 428.5h0M109.1 440.9h0M102.6 452.6h0M106.7 459.7h0M111.2 446.8h0M109.0 454.4h0M104.2 455.6h0M111.4 431.6h0M107.8 444.4h0M154.3 456.9h0M158.4 439.0h0M146.8 426.5h0M138.0 446.6h0M126.2 457.6h0M162.6 434.8h0M153.8 445.8h0M156.3 445.6h0M147.6 435.1h0M161.4 439.8h0M129.9 438.2h0M152.7 461.8h0M125.6 440.5h0M140.1 440.4h0M155.5 425.7h0M161.3 440.6h0M166.1 451.6h0M160.5 434.4h0M133.6 437.6h0M147.7 452.7h0M134.0 445.0h0M170.1 454.0h0M147.4 446.1h0M134.2 452.6h0M141.8 460.0h0M161.1 454.1h0M166.9 435.1h0M132.3 450.3h0M143.5 432.4h0M142.6 438.1h0M170.0 453.9h0M151.0 463.3h0M152.4 438.6h0M148.1 435.5h0M151.9 446.8h0M149.4 451.6h0M139.7 443.4h0M134.5 441.3h0M131.0 439.4h0M139.3 433.8h0M143.4 448.2h0M150.9 442.4h0M127.6 445.1h0M139.2 457.2h0M133.8 435.5h0M139.2 443.5h0M162.1 453.7h0M130.2 429.9h0M133.6 438.7h0M156.7 456.9h0M137.0 430.7h0M163.1 455.3h0M133.6 448.8h0M162.7 457.2h0M161.9 442.3h0M147.5 441.3h0M133.8 450.9h0M161.3 441.9h0M142.8 462.6h0M152.8 450.4h0M157.6 446.6h0M129.2 437.0h0M157.2 451.9h0M129.1 462.7h0M161.0 463.3h0M156.0 458.4h0M137.5 443.9h0M163.3 462.9h0M168.8 458.5h0M164.5 444.5h0M144.2 463.5h0M138.9 448.7h0M162.0 447.0h0M154.7 437.0h0M146.9 430.0h0M152.3 456.5h0M138.4 428.8h0M131.8 450.0h0M138.0 463.3h0M160.7 447.9h0M129.0 458.0h0M140.6 444.5h0M161.0 437.0h0M139.2 427.9h0M130.0 456.3h0M153.7 457.4h0M165.3 437.2h0M156.1 449.3h0M128.2 436.8h0M170.7 452.8h0M166.5 458.9h0M125.2 448.7h0M148.8 446.4h0M167.6 441.2h0M165.7 461.3h0M173.4 429.2h0M129.8 461.1h0M129.9 445.2h0M169.4 430.4h0M159.8 442.6h0M140.6 461.2h0M124.6 437.5h0M158.6 442.0h0M143.0 443.9h0M173.1 462.2h0M130.3 436.3h0M144.1 458.7h0M140.4 456.6h0M138.8 433.9h0M157.0 445.6h0M149.2 435.8h0M157.3 452.8h0M165.3 435.8h0M148.1 437.3h0M153.1 437.5h0M139.5 437.8h0M160.2 448.0h0M141.3 454.6h0M159.7 435.5h0M132.4 439.6h0M142.6 460.4h0M161.6 453.7h0M157.8 451.0h0M162.2 455.2h0M143.1 436.9h0M130.9 456.9h0M142.0 450.8h0M139.4 449.1h0M155.8 443.3h0M172.9 444.5h0M163.6 455.0h0M155.9 457.4h0M129.6 422.2h0M129.9 430.7h0M148.0 440.1h0M136.6 431.2h0M127.8 460.1h0M148.8 456.6h0M173.7 444.5h0M160.8 460.4h0M171.8 463.4h0M168.0 461.5h0M175.4 431.9h0M171.8 450.1h0M149.7 444.3h0M174.4 456.1h0M142.1 433.0h0M144.5 436.2h0M148.4 456.8h0M132.7 457.6h0M130.7 460.3h0M168.1 457.9h0M166.6 458.2h0M150.8 432.0h0M147.1 447.0h0M158.0 451.2h0M136.0 458.2h0M133.1 459.0h0M135.1 437.4h0M131.2 441.6h0M149.4 433.8h0M166.8 455.4h0M150.0 426.2h0M140.5 437.9h0M165.1 453.1h0M155.4 447.1h0M142.7 429.4h0M168.5 459.8h0M162.1 455.6h0M124.9 458.6h0M142.8 447.9h0M131.2 430.7h0M145.7 449.7h0M163.6 455.2h0M164.4 455.4h0M119.4 434.7h0M137.4 439.0h0M167.1 456.5h0M148.7 461.7h0M163.9 432.1h0M163.9 436.0h0M155.1 447.4h0M160.6 437.7h0M138.7 446.1h0M152.9 446.7h0M162.5 459.7h0M154.4 450.0h0M129.7 444.4h0M137.6 461.1h0M163.5 451.9h0M153.5 450.2h0M150.5 463.6h0M149.8 457.0h0M139.5 444.7h0M134.2 445.0h0M153.1 444.2h0M167.3 438.2h0M154.0 434.8h0M126.8 455.7h0M131.0 446.1h0M163.9 446.1h0M132.2 450.6h0M160.4 451.2h0M135.1 441.3h0M151.1 442.0h0M138.6 446.0h0M143.4 457.2h0M141.9 446.3h0M133.8 443.3h0M150.3 439.1h0M162.4 448.2h0M141.5 445.1h0M127.9 432.2h0M151.6 456.5h0M150.4 453.1h0M144.0 443.2h0M144.3 437.9h0M154.9 444.2h0M138.3 436.2h0M146.5 438.4h0M136.9 442.3h0M142.7 427.7h0M132.1 462.2h0M173.3 448.7h0M165.3 450.1h0M137.9 453.3h0M151.1 444.6h0M167.3 436.3h0M153.9 454.0h0M128.1 435.4h0M137.6 444.3h0M141.4 434.9h0M155.7 451.7h0M139.3 462.1h0M178.9 436.1h0M147.7 457.4h0M133.4 436.0h0M139.7 450.9h0M142.9 433.0h0M142.4 451.4h0M130.0 445.1h0M145.1 441.1h0M165.8 437.3h0M136.5 451.0h0M162.9 439.2h0M151.1 447.4h0M134.9 453.7h0M144.7 441.8h0M160.0 432.9h0M141.9 428.2h0M159.6 453.1h0M163.5 437.5h0M135.1 452.4h0M134.3 453.2h0M162.1 430.6h0M129.6 456.9h0M125.8 451.8h0M180.5 457.9h0M147.1 448.0h0M156.4 457.5h0M155.4 458.2h0M145.6 443.4h0M136.8 449.0h0M163.1 434.8h0M153.6 443.8h0M165.8 453.6h0M135.9 449.5h0M150.9 446.0h0M157.7 455.3h0M148.7 432.1h0M153.5 446.8h0M172.3 447.7h0M167.2 433.7h0M159.5 440.4h0M134.9 432.4h0M153.1 437.3h0M148.6 443.7h0M131.3 460.7h0M141.1 428.5h0M143.1 445.1h0M164.8 458.5h0M164.0 446.1h0M146.2 443.8h0M145.0 447.4h0M161.2 461.7h0M163.8 438.1h0M157.1 437.1h0M164.4 460.3h0M143.9 431.3h0M160.0 441.1h0M123.5 424.0h0M174.0 441.1h0M147.3 461.2h0M141.3 443.0h0M144.5 457.6h0M144.6 453.0h0M169.0 437.9h0M159.2 463.5h0M155.8 444.1h0M133.6 452.2h0M160.4 429.4h0M159.3 463.3h0M139.2 455.2h0M149.4 449.9h0M134.2 440.5h0M145.4 427.2h0M167.5 445.3h0M149.4 462.6h0M147.5 449.2h0M168.8 439.0h0M129.3 444.2h0M161.9 434.4h0M172.5 436.9h0M138.7 437.8h0M158.6 429.5h0M174.9 435.8h0M129.8 458.9h0M170.1 443.4h0M134.8 434.1h0M158.1 430.2h0M151.3 461.7h0M149.5 454.8h0M174.8 459.8h0M135.3 456.4h0M147.8 451.7h0M140.5 456.1h0M168.1 433.8h0M133.3 438.7h0M126.0 459.0h0M134.2 450.1h0M151.2 433.4h0M135.5 439.5h0M164.8 450.8h0M142.1 441.8h0M159.1 438.7h0M158.5 438.0h0M168.2 442.8h0M139.4 440.8h0M141.2 451.8h0M163.4 462.3h0M157.7 450.0h0M142.0 462.7h0M158.4 461.1h0M147.9 442.2h0M155.4 439.2h0M156.2 453.4h0M161.6 448.8h0M151.2 433.5h0M162.1 451.6h0M152.7 443.9h0M138.1 453.0h0M152.3 432.9h0M133.4 456.2h0M148.3 442.1h0M143.3 445.8h0M134.8 443.2h0M163.6 439.8h0M165.6 431.4h0M162.7 450.7h0M132.6 461.9h0M171.9 445.7h0M151.8 454.5h0M149.3 435.0h0M165.7 435.7h0M134.3 441.0h0M153.2 431.9h0M148.1 434.7h0M170.7 444.7h0M142.0 425.9h0M162.5 447.7h0M142.6 444.9h0M153.0 457.7h0M143.8 449.9h0M163.0 450.1h0M139.0 435.5h0M147.4 434.5h0M131.6 443.1h0M151.7 443.2h0M125.4 452.1h0M142.4 443.2h0M134.8 442.0h0M131.7 442.0h0M146.1 453.1h0M123.3 451.6h0M132.2 453.9h0M144.6 430.6h0M137.5 445.9h0M155.9 447.2h0M152.8 442.1h0M129.5 454.4h0M167.4 445.5h0M126.3 444.8h0M131.4 447.8h0M140.8 451.4h0M157.1 437.1h0M149.6 455.2h0M159.7 461.3h0M152.3 443.4h0M148.2 442.2h0M134.0 450.1h0M150.7 449.6h0M131.8 443.0h0M159.9 455.2h0M163.1 461.9h0M164.8 444.1h0M161.0 447.8h0M173.8 453.5h0M140.6 432.6h0M145.7 436.9h0M134.6 428.5h0M166.8 449.6h0M125.8 446.5h0M157.8 440.5h0M159.2 440.1h0M139.6 448.8h0M151.3 461.8h0M169.6 454.2h0M172.4 446.0h0M152.3 442.4h0M152.8 441.3h0M155.9 451.5h0M157.3 456.3h0M153.2 434.6h0M151.2 443.8h0M141.8 453.9h0M155.9 441.4h0M134.1 445.5h0M162.6 447.8h0M170.9 433.9h0M140.8 451.3h0M177.2 432.6h0M149.5 443.8h0M146.7 436.9h0M138.8 430.3h0M142.7 431.7h0M149.7 435.4h0M137.2 437.3h0M148.8 430.7h0M122.5 435.2h0M160.0 455.7h0M136.3 445.4h0M138.9 435.0h0M165.6 456.4h0M147.5 436.1h0M126.9 432.4h0M145.6 457.2h0M118.1 436.4h0M143.0 454.0h0M159.8 452.6h0M148.8 445.6h0M143.2 440.3h0M147.8 439.7h0M84.9 435.1h0M104.7 439.6h0M126.3 449.5h0M178.6 440.4h0M122.4 431.2h0M98.1 453.6h0M160.1 450.8h0M92.2 431.1h0M133.2 456.0h0M157.6 462.1h0M125.0 454.7h0M153.8 448.2h0M120.7 458.9h0M81.1 429.1h0M112.6 450.7h0M125.8 447.4h0M110.8 463.4h0M150.2 450.3h0M132.1 436.9h0M94.6 435.1h0M175.3 452.3h0M119.4 431.2h0M114.4 429.5h0M117.3 440.7h0M89.8 445.0h0M144.2 452.6h0M143.4 434.6h0M130.0 451.2h0M145.2 463.4h0M131.9 433.6h0M118.1 448.8h0M172.7 435.3h0M156.8 444.0h0M94.1 440.6h0M138.4 433.4h0M132.3 429.8h0M175.7 455.3h0M161.0 460.8h0M170.3 444.4h0M90.6 455.9h0M165.8 453.8h0M137.6 458.4h0M169.4 434.5h0M113.2 450.1h0M120.1 448.2h0M101.9 441.9h0M83.5 440.9h0M161.0 435.4h0M114.4 440.7h0M122.2 461.3h0M90.9 444.3h0M146.8 440.0h0M124.7 432.1h0M91.3 453.7h0M85.5 443.8h0M119.8 457.9h0M80.6 451.5h0M114.4 450.7h0M143.5 448.9h0M105.8 450.7h0M120.8 431.9h0M85.3 435.0h0M113.9 440.0h0M148.4 434.7h0M176.9 431.9h0M149.0 439.7h0M168.7 454.8h0M99.4 456.6h0M121.9 456.0h0M172.3 458.0h0M145.6 451.1h0M105.2 447.8h0M92.9 458.4h0M91.6 452.5h0M161.9 434.8h0M119.8 449.7h0M88.8 452.8h0M155.1 429.4h0M130.6 453.1h0M102.7 437.3h0M99.1 436.6h0M142.2 456.8h0M121.9 456.6h0M86.1 444.1h0M165.1 457.1h0M107.1 431.9h0M109.9 457.6h0M114.8 444.5h0M141.3 456.6h0M131.2 441.9h0M132.6 435.1h0M115.3 457.1h0M100.6 456.6h0M95.9 462.4h0M98.3 436.1h0M86.1 447.4h0M123.3 448.6h0M85.4 446.9h0M86.8 462.3h0M122.5 463.3h0M135.4 437.2h0M143.8 443.4h0M174.8 435.3h0M158.6 446.7h0M87.1 432.4h0M117.3 462.2h0M141.4 446.2h0M107.2 460.6h0M150.1 434.3h0M154.6 459.6h0M87.9 437.3h0M80.7 437.6h0M93.1 434.1h0M91.0 451.9h0M89.1 435.9h0M98.8 459.1h0M87.0 459.9h0M94.8 447.2h0M95.7 440.6h0M100.7 458.8h0M84.9 430.3h0M84.0 456.8h0M95.7 450.2h0M83.3 462.3h0M92.9 436.2h0M91.5 436.0h0M84.3 453.4h0M95.7 432.4h0M81.1 451.4h0M91.1 461.6h0M82.5 448.8h0M96.8 460.9h0M98.5 454.8h0M99.2 439.5h0M97.5 455.8h0M83.1 439.4h0M87.3 443.1h0M90.1 430.6h0M91.6 458.6h0M90.7 445.1h0M91.7 430.4h0M84.9 435.1h0M98.3 408.1h0M149.1 399.5h0M149.0 371.8h0M93.4 406.8h0M101.8 385.9h0" stroke="#000" stroke-opacity="0.45" stroke-width="1.4" stroke-linecap="round" fill="none"/>
<path d="M142.7 404.7h0M164.6 403.4h0M145.2 391.8h0M145.1 398.0h0M132.0 416.2h0M154.0 406.5h0M145.5 401.8h0M156.2 385.0h0M148.8 403.6h0M169.9 396.0h0M140.8 411.9h0M134.2 408.2h0M147.3 402.7h0M133.3 409.6h0M148.3 388.4h0M154.3 402.2h0M126.3 397.4h0M160.1 412.1h0M154.7 387.5h0M156.6 380.2h0M166.5 416.5h0M156.7 389.0h0M164.3 396.6h0M168.5 383.1h0M148.5 395.0h0M160.9 394.2h0M141.8 417.2h0M140.4 415.8h0M140.3 404.6h0M161.0 402.9h0M155.7 404.9h0M151.0 405.0h0M158.5 405.2h0M138.8 416.8h0M142.0 404.6h0M145.5 409.4h0M157.5 393.1h0M151.4 400.1h0M156.9 409.5h0M158.4 408.3h0M145.9 406.5h0M158.5 399.5h0M135.5 415.9h0M141.2 392.1h0M170.4 408.4h0M160.6 395.3h0M140.7 391.7h0M148.9 403.6h0M149.2 404.3h0M157.6 389.7h0M137.4 400.7h0M174.6 380.7h0M159.8 395.1h0M164.1 389.9h0M153.7 412.7h0M167.0 399.2h0M158.0 415.3h0M141.6 398.7h0M163.0 401.6h0M163.5 394.9h0M170.1 399.7h0M151.7 404.0h0M153.0 393.2h0M146.6 389.9h0M152.6 415.4h0M135.7 392.0h0M153.5 380.8h0M145.5 395.0h0M149.8 388.7h0M156.9 406.4h0M168.6 392.1h0M175.0 395.3h0M163.8 396.8h0M134.4 413.7h0M167.1 387.6h0M151.6 388.1h0M140.8 412.0h0M135.2 409.3h0M131.6 400.5h0M146.4 413.7h0M142.2 410.0h0M157.1 409.8h0M158.0 385.5h0M141.9 399.3h0M136.8 406.8h0M171.6 379.3h0M156.2 373.2h0M138.5 405.9h0M143.8 403.8h0M176.0 409.0h0M155.6 381.0h0M144.3 419.6h0M149.0 419.0h0M141.8 417.6h0M151.0 402.7h0M134.2 393.0h0M133.0 405.2h0M159.6 402.2h0M155.5 398.4h0M155.3 404.0h0M130.4 398.6h0M142.4 388.4h0M165.8 389.9h0M152.7 396.1h0M141.2 397.4h0M145.0 408.2h0M156.4 390.3h0M132.3 391.1h0M173.3 393.8h0M154.3 394.9h0M148.9 395.4h0M133.8 407.4h0M149.5 399.9h0M156.0 393.0h0M138.0 404.4h0M145.5 393.7h0M152.1 393.2h0M146.8 413.5h0M143.4 407.7h0M162.5 397.8h0M151.9 412.5h0M141.0 388.2h0M128.7 417.1h0M141.7 408.4h0M139.6 393.4h0M163.4 383.1h0M163.2 380.8h0M143.7 406.6h0M156.2 403.7h0M164.3 369.9h0M137.8 393.0h0M143.5 394.9h0M142.8 388.5h0M145.3 386.1h0M146.1 398.5h0M176.1 399.4h0M147.7 408.9h0M165.0 405.7h0M133.0 400.2h0M142.7 398.0h0M163.0 383.7h0M154.2 397.2h0M142.1 411.3h0M153.3 394.8h0M137.9 396.8h0M125.3 410.5h0M147.6 387.7h0M136.6 404.4h0M146.5 410.1h0M159.1 401.2h0M155.8 405.1h0M158.2 390.3h0M141.9 405.1h0M132.3 399.8h0M163.2 389.8h0M133.3 402.6h0M164.6 372.0h0M151.2 407.4h0M123.1 404.9h0M149.6 403.6h0M127.4 412.2h0M132.9 401.1h0M155.3 395.2h0M144.5 413.7h0M161.1 375.9h0M156.3 375.5h0M160.8 414.7h0M159.3 392.0h0M137.3 398.0h0M160.4 404.2h0M130.2 403.6h0M158.5 400.9h0M143.1 403.7h0M141.7 392.3h0M149.9 397.7h0M136.2 409.2h0M150.9 397.3h0M170.8 403.0h0M142.1 386.7h0M169.8 403.9h0M147.1 388.9h0M165.4 386.6h0M155.2 389.3h0M141.2 390.3h0M149.2 388.6h0M161.6 398.6h0M156.0 407.1h0M175.7 386.3h0M164.4 393.3h0M138.2 409.1h0M134.3 416.6h0M156.1 395.7h0M131.3 414.7h0M150.4 407.7h0M151.0 404.7h0M126.4 400.6h0M145.4 401.4h0M141.3 406.4h0M153.1 403.5h0M123.5 414.7h0M133.3 414.6h0M128.9 414.6h0M157.8 397.6h0M179.4 378.2h0M159.7 403.3h0M178.5 388.1h0M160.2 408.5h0M160.4 400.5h0M157.8 374.9h0M139.4 415.4h0M155.0 408.1h0M147.7 389.2h0M145.0 403.9h0M147.7 413.6h0M139.2 415.5h0M148.4 380.7h0M152.8 391.8h0M129.5 404.0h0M136.9 411.9h0M149.0 401.8h0M150.8 396.4h0M150.9 415.3h0M165.6 391.5h0M166.5 398.5h0M150.2 388.4h0M155.9 415.0h0M160.3 388.6h0M151.3 396.5h0M154.1 399.3h0M144.8 415.8h0M167.2 403.2h0M118.1 415.5h0M150.2 382.0h0M148.7 404.9h0M143.9 411.6h0M150.6 396.3h0M163.5 388.0h0M157.0 387.4h0M149.7 392.4h0M155.5 394.3h0M144.3 399.3h0M161.2 390.9h0M164.1 397.4h0M153.1 400.0h0M148.5 390.3h0M159.7 406.6h0M154.7 397.7h0M156.8 382.8h0M150.7 397.9h0M157.1 402.1h0M164.2 392.3h0M150.3 390.1h0M163.4 397.6h0M161.6 391.1h0M155.7 401.9h0M168.3 390.4h0M153.0 403.1h0M164.7 398.7h0M165.8 392.3h0M158.7 390.9h0M154.1 388.7h0M147.0 397.0h0M158.4 396.2h0M156.0 395.3h0M167.0 390.8h0M146.9 389.2h0M152.6 397.0h0M167.1 386.3h0M159.7 397.6h0M156.7 399.2h0M155.1 394.8h0M165.6 395.6h0M162.3 383.6h0M153.3 395.1h0M158.0 397.1h0M153.4 399.2h0M163.6 394.8h0M166.7 392.4h0M164.3 389.9h0M153.9 392.5h0M160.3 392.8h0M84.5 383.6h0M89.4 400.4h0M87.9 380.2h0M108.4 397.2h0M105.8 411.3h0M98.7 415.2h0M86.3 379.3h0M100.6 397.4h0M102.6 387.8h0M108.1 415.7h0M101.1 403.5h0M97.7 423.0h0M99.6 410.8h0M106.7 393.7h0M98.5 414.2h0M101.0 396.4h0M96.7 403.3h0M112.2 408.5h0M124.0 398.2h0M118.1 383.8h0M124.3 425.7h0M114.6 399.5h0M114.6 384.0h0M111.7 390.1h0M119.6 418.8h0M118.2 422.6h0M121.1 401.0h0M125.0 411.2h0M118.1 382.1h0M113.8 384.9h0M117.7 414.5h0M119.0 385.0h0M110.8 405.4h0M124.5 420.0h0M111.0 397.9h0M116.0 406.9h0M122.7 394.4h0M113.0 385.8h0M120.5 386.1h0M115.6 411.7h0M112.5 387.6h0M123.4 410.8h0M119.5 389.8h0M119.2 388.6h0M124.2 394.2h0M118.2 401.3h0M124.7 424.8h0M112.0 394.1h0M124.9 386.2h0M111.0 396.3h0M113.0 429.0h0M122.2 412.1h0M119.2 388.2h0M110.1 416.4h0M110.2 453.5h0M108.4 450.1h0M109.7 427.8h0M104.4 452.1h0M107.3 441.3h0M115.3 431.8h0M120.9 443.8h0M113.9 443.2h0M111.0 444.2h0M103.9 447.2h0M107.9 435.3h0M118.2 443.2h0M115.3 452.5h0M114.7 444.4h0M109.2 448.3h0M106.5 453.3h0M116.4 443.4h0M110.8 444.2h0M104.3 453.0h0M112.6 455.5h0M116.6 461.0h0M113.3 435.7h0M107.6 438.9h0M106.9 430.4h0M110.4 442.9h0M114.8 427.0h0M105.9 443.9h0M105.4 452.8h0M112.1 459.4h0M107.6 454.4h0M104.2 448.7h0M105.4 440.6h0M110.1 438.4h0M109.7 426.5h0M117.0 446.5h0M111.6 447.1h0M112.0 456.1h0M111.5 433.1h0M109.5 428.3h0M111.5 428.4h0M111.7 429.7h0M115.0 441.5h0M103.4 438.4h0M106.2 440.2h0M102.5 443.5h0M114.4 457.8h0M110.7 454.3h0M107.1 454.8h0M108.6 459.3h0M107.4 432.1h0M114.7 424.4h0M110.3 431.1h0M107.0 432.8h0M95.6 440.9h0M102.2 424.9h0M107.8 432.1h0M118.2 430.6h0M104.4 429.9h0M106.1 442.1h0M104.9 431.4h0M108.9 437.3h0M103.7 456.6h0M107.0 448.7h0M103.7 463.4h0M116.3 460.3h0M104.4 455.9h0M102.4 449.0h0M112.2 443.1h0M105.0 443.5h0M112.5 441.2h0M111.3 430.8h0M105.7 452.6h0M114.7 427.6h0M106.1 455.4h0M106.8 439.4h0M98.8 456.8h0M103.0 432.8h0M110.6 440.1h0M109.6 424.7h0M118.1 459.0h0M103.7 436.3h0M116.2 447.2h0M104.6 461.1h0M113.2 447.9h0M100.7 458.8h0M107.3 456.2h0M116.2 456.8h0M115.3 444.3h0M112.3 455.7h0M103.8 458.5h0M112.5 454.2h0M117.0 446.8h0M99.5 433.5h0M97.3 448.3h0M111.9 455.9h0M106.6 445.4h0M108.0 453.7h0M110.8 455.0h0M104.3 429.7h0M110.8 448.8h0M105.1 439.3h0M100.7 450.6h0M104.1 460.8h0M118.4 435.8h0M105.3 452.3h0M113.2 451.1h0M115.2 438.8h0M110.8 449.3h0M113.7 435.6h0M112.8 436.8h0M108.4 443.1h0M116.5 441.9h0M106.4 440.9h0M112.0 436.8h0M125.8 435.7h0M118.9 460.6h0M104.9 434.2h0M105.3 441.4h0M111.5 441.7h0M99.0 448.4h0M113.2 459.9h0M110.5 447.4h0M110.9 436.9h0M116.6 438.4h0M114.2 435.5h0M106.0 431.3h0M106.1 423.6h0M110.4 430.8h0M107.8 445.7h0M116.4 445.3h0M101.1 448.1h0M118.3 438.1h0M104.8 449.1h0M108.0 461.7h0M116.6 439.5h0M107.4 441.0h0M108.7 432.3h0M110.3 453.4h0M108.8 443.0h0M115.5 456.9h0M100.5 446.6h0M98.3 441.6h0M115.1 451.7h0M110.7 433.1h0M98.2 457.8h0M113.3 439.3h0M121.9 447.3h0M113.6 453.3h0M115.6 436.7h0M101.3 433.2h0M105.3 454.0h0M98.8 431.8h0M103.6 443.9h0M103.2 459.1h0M108.2 444.7h0M105.0 438.6h0M104.0 435.0h0M111.1 447.2h0M106.8 460.3h0M114.7 431.4h0M115.6 455.9h0M108.9 445.6h0M101.6 433.4h0M98.0 453.9h0M112.3 463.5h0M110.1 445.7h0M105.3 449.3h0M116.5 427.4h0M114.3 454.4h0M117.4 459.6h0M111.2 438.3h0M97.4 456.4h0M117.1 445.1h0M113.5 434.0h0M103.1 449.6h0M107.1 453.5h0M102.4 432.5h0M108.5 454.7h0M115.7 443.0h0M100.5 452.8h0M107.8 442.9h0M99.0 447.9h0M113.4 437.2h0M96.8 459.3h0M99.3 447.1h0M105.2 452.1h0M112.8 443.6h0M111.4 434.8h0M111.4 444.0h0M104.3 460.1h0M101.9 459.6h0M113.5 463.2h0M114.7 442.3h0M104.2 456.8h0M102.5 453.3h0M104.8 449.9h0M95.2 435.5h0M103.1 448.7h0M114.1 438.6h0M114.6 462.9h0M105.8 443.0h0M119.2 442.0h0M108.1 460.1h0M103.2 452.7h0M114.5 448.0h0M107.0 447.4h0M108.1 452.8h0M110.0 442.9h0M106.9 429.2h0M103.1 459.9h0M104.2 439.7h0M108.5 455.1h0M109.7 433.6h0M107.8 444.1h0M116.5 453.5h0M116.0 456.8h0M118.5 460.7h0M109.4 458.2h0M110.0 434.7h0M105.6 452.4h0M105.2 458.2h0M106.8 441.4h0M107.3 436.1h0M113.9 437.9h0M107.5 454.2h0M107.0 431.0h0M109.2 444.1h0M108.0 424.5h0M112.2 435.2h0M100.9 458.6h0M103.1 448.8h0M107.2 463.4h0M96.6 436.5h0M110.2 438.3h0M107.6 451.0h0M107.7 428.4h0M111.1 448.4h0M102.5 454.7h0M115.0 453.2h0M105.2 462.3h0M102.3 445.1h0M113.5 445.2h0M104.4 460.0h0M111.9 446.6h0M113.6 444.4h0M95.1 449.6h0M105.2 455.6h0M102.8 448.0h0M106.4 447.6h0M106.3 454.9h0M112.3 438.8h0M115.9 436.4h0M103.5 436.1h0M103.2 449.5h0M98.0 443.0h0M110.2 455.8h0M99.4 448.8h0M108.3 430.4h0M108.3 440.1h0M117.7 462.4h0M103.9 454.2h0M120.4 461.5h0M106.9 428.3h0M99.8 456.5h0M101.6 443.9h0M114.8 444.9h0M104.9 430.4h0M106.9 430.6h0M108.7 432.9h0M104.0 442.1h0M113.6 432.3h0M108.2 462.6h0M106.2 429.7h0M104.1 431.9h0M107.0 449.4h0M108.8 444.0h0M116.9 446.3h0M110.2 438.6h0M114.2 450.3h0M105.3 429.6h0M117.1 454.0h0M108.5 426.9h0M109.3 463.6h0M111.7 439.9h0M104.2 445.6h0M113.9 460.8h0M107.0 439.1h0M102.9 442.8h0M116.9 439.5h0M111.1 438.2h0M110.2 433.7h0M107.5 439.7h0M100.2 449.0h0M100.0 438.3h0M110.4 438.8h0M109.3 433.8h0M101.2 455.9h0M104.0 452.2h0M101.8 450.2h0M99.3 438.3h0M105.7 454.8h0M108.2 431.1h0M110.7 439.4h0M99.1 463.1h0M102.2 436.5h0M106.9 452.8h0M98.8 457.9h0M97.2 446.3h0M106.6 443.4h0M113.0 438.4h0M114.1 454.2h0M105.0 450.9h0M102.3 447.2h0M108.9 439.6h0M102.2 434.9h0M105.6 463.3h0M108.1 430.9h0M119.9 448.8h0M112.4 461.7h0M122.3 450.9h0M113.1 446.4h0M98.2 442.1h0M105.3 456.1h0M121.1 438.1h0M105.4 458.0h0M101.7 449.6h0M104.5 458.1h0M102.4 461.9h0M108.9 449.2h0M105.0 442.3h0M112.9 446.0h0M114.6 458.1h0M111.0 435.5h0M101.1 432.0h0M103.3 454.9h0M111.6 433.5h0M111.7 462.8h0M104.8 445.3h0M116.4 444.9h0M111.1 448.8h0M110.5 438.4h0M111.5 435.8h0M101.5 437.7h0M108.7 425.8h0M115.0 445.9h0M106.8 437.3h0M109.9 453.8h0M112.7 441.1h0M111.0 447.8h0M98.5 438.0h0M108.3 440.0h0M108.6 442.8h0M105.5 436.2h0M107.0 456.3h0M109.3 439.7h0M114.5 442.8h0M108.9 432.8h0M113.4 437.3h0M113.2 433.4h0M106.4 430.5h0M115.1 430.8h0M106.9 449.2h0M114.8 448.0h0M112.1 443.0h0M114.6 453.3h0M111.1 443.3h0M112.2 458.2h0M116.9 449.7h0M105.9 459.1h0M102.0 429.3h0M111.3 439.2h0M99.4 427.1h0M108.4 447.8h0M104.4 431.2h0M100.2 452.2h0M107.6 434.6h0M113.5 444.1h0M111.0 441.4h0M111.9 448.4h0M101.5 457.6h0M97.4 457.9h0M101.7 448.0h0M110.0 450.2h0M106.5 454.8h0M111.5 437.9h0M105.6 435.5h0M111.6 459.3h0M110.2 435.9h0M109.0 460.9h0M109.4 436.5h0M116.7 441.6h0M104.6 459.0h0M118.0 446.6h0M118.9 450.7h0M112.7 446.6h0M103.6 443.8h0M116.0 452.9h0M113.5 439.9h0M112.8 447.8h0M114.8 440.7h0M112.5 441.6h0M105.8 449.1h0M110.0 431.0h0M112.9 450.6h0M112.6 442.6h0M108.7 463.2h0M104.7 450.5h0M105.2 443.9h0M103.2 442.4h0M113.3 428.0h0M94.8 432.9h0M107.0 418.1h0M107.2 412.2h0M112.9 457.1h0M111.1 441.5h0M106.4 435.8h0M120.5 456.2h0M108.7 436.3h0M105.7 440.9h0M107.0 460.9h0M109.7 437.8h0M114.2 461.1h0M107.5 452.0h0M107.6 431.2h0M115.5 446.2h0M103.6 446.8h0M110.3 447.3h0M108.3 442.4h0M103.3 454.9h0M109.8 450.0h0M100.5 435.3h0M109.1 431.9h0M101.6 442.7h0M111.6 442.1h0M116.3 433.2h0M96.9 463.1h0M111.9 448.4h0M107.6 451.2h0M110.6 446.3h0M110.1 448.4h0M110.5 433.6h0M113.3 449.3h0M112.3 439.5h0M106.0 455.6h0M115.2 422.8h0M109.0 438.2h0M106.1 457.5h0M98.6 445.5h0M104.1 442.8h0M112.7 461.9h0M109.9 435.6h0M112.7 459.2h0M105.7 451.0h0M109.5 452.4h0M111.8 446.3h0M108.8 436.6h0M117.4 457.7h0M109.6 462.1h0M119.6 446.6h0M108.3 452.3h0M109.7 459.0h0M99.9 453.1h0M109.7 451.7h0M104.7 453.5h0M112.9 454.6h0M106.6 453.2h0M108.1 448.7h0M110.4 458.4h0M112.0 456.5h0M107.7 441.6h0M109.9 434.2h0M113.6 450.2h0M110.4 449.7h0M105.5 442.2h0M108.4 451.1h0M110.0 438.2h0M106.6 449.3h0M111.2 443.2h0M107.7 444.5h0M104.1 445.6h0M108.3 450.2h0M103.7 445.3h0M106.7 456.2h0M106.0 448.0h0M109.1 438.8h0M117.5 449.1h0M110.4 449.4h0M111.1 444.2h0M105.4 446.1h0M119.5 443.7h0M118.0 453.6h0M110.9 441.4h0M110.7 457.1h0M104.3 452.3h0M104.4 459.5h0M101.8 456.7h0M101.4 458.6h0M113.7 458.0h0M107.4 438.2h0M110.2 432.6h0M105.0 451.0h0M97.8 448.2h0M107.7 462.2h0M109.9 449.2h0M106.5 449.7h0M103.2 458.5h0M113.4 431.7h0M110.3 443.8h0M105.6 455.3h0M107.1 442.4h0M116.7 451.9h0M114.0 447.0h0M107.7 441.1h0M114.8 450.6h0M111.2 461.4h0M113.7 450.2h0M108.9 459.8h0M116.0 440.3h0M112.4 436.1h0M110.1 458.0h0M116.1 438.6h0M120.9 447.7h0M111.1 413.4h0M114.5 449.7h0M103.5 440.6h0M108.9 448.8h0M114.5 455.1h0M106.5 446.4h0M103.5 437.8h0M111.6 454.4h0M118.8 449.6h0M109.0 463.2h0M107.5 451.1h0M111.4 459.9h0M106.8 456.7h0M108.6 447.5h0M118.8 446.6h0M109.0 459.4h0M101.0 430.7h0M116.8 425.0h0M111.5 427.8h0M117.2 458.3h0M104.4 446.6h0M154.0 463.5h0M133.6 440.3h0M132.4 440.4h0M139.8 444.6h0M137.6 444.0h0M135.5 434.5h0M125.6 452.6h0M169.5 451.5h0M171.7 433.2h0M154.3 434.6h0M150.5 422.4h0M147.7 440.8h0M139.5 424.7h0M170.3 454.5h0M132.3 458.0h0M124.1 437.2h0M155.6 454.2h0M140.9 435.6h0M151.8 454.4h0M134.1 434.4h0M123.8 443.3h0M142.7 450.8h0M147.9 448.6h0M141.5 439.5h0M155.0 461.4h0M140.4 444.7h0M141.3 444.2h0M124.6 426.5h0M169.4 442.4h0M158.3 450.4h0M157.0 463.0h0M133.0 453.0h0M152.8 463.7h0M138.7 439.9h0M155.3 438.8h0M165.9 449.9h0M159.6 430.3h0M148.4 440.5h0M152.7 448.0h0M137.4 441.1h0M163.5 446.5h0M150.0 427.7h0M146.7 444.2h0M153.0 453.2h0M165.1 438.6h0M137.9 457.4h0M127.7 455.8h0M166.7 450.1h0M147.5 432.5h0M158.9 439.9h0M168.6 432.1h0M139.7 450.1h0M166.2 445.2h0M144.4 437.7h0M181.5 452.4h0M155.7 460.2h0M169.1 450.3h0M142.5 456.1h0M144.2 424.3h0M122.4 449.8h0M172.6 428.1h0M147.9 427.9h0M144.7 444.3h0M128.9 434.6h0M154.4 451.5h0M147.9 450.3h0M165.9 454.5h0M139.1 430.9h0M145.5 457.0h0M142.1 437.1h0M133.1 441.5h0M137.7 423.9h0M144.1 433.6h0M152.0 463.2h0M135.2 437.1h0M133.0 456.1h0M153.1 434.7h0M150.3 460.8h0M136.4 441.3h0M139.0 434.3h0M165.2 447.8h0M135.6 434.0h0M173.9 435.6h0M161.2 441.3h0M134.7 461.4h0M148.7 428.5h0M146.8 427.9h0M166.7 451.4h0M154.8 441.0h0M166.9 448.0h0M129.0 443.6h0M133.5 448.5h0M143.7 441.0h0M137.5 452.1h0M158.1 447.0h0M161.2 429.3h0M142.6 449.3h0M168.7 447.8h0M162.9 461.5h0M162.8 445.6h0M161.9 462.6h0M130.2 452.7h0M149.2 456.0h0M142.9 448.6h0M140.1 457.3h0M165.2 440.9h0M126.3 442.2h0M137.6 428.5h0M139.2 443.7h0M164.8 433.6h0M166.4 428.4h0M150.5 433.4h0M154.8 447.8h0M144.6 428.0h0M131.0 452.0h0M133.4 439.2h0M155.7 431.4h0M153.2 454.0h0M147.0 423.4h0M162.4 428.0h0M146.4 457.3h0M150.5 452.2h0M166.9 455.2h0M136.2 452.4h0M144.5 440.6h0M151.1 437.6h0M145.9 453.6h0M153.9 458.8h0M161.4 433.6h0M130.7 446.5h0M152.4 441.4h0M175.8 458.2h0M141.0 447.4h0M154.5 443.2h0M168.2 455.6h0M172.1 447.1h0M122.4 431.5h0M144.7 438.3h0M153.6 431.6h0M144.7 442.2h0M138.3 429.1h0M162.0 433.3h0M127.8 445.5h0M137.0 451.8h0M146.3 431.1h0M145.8 456.7h0M150.1 433.3h0M152.9 431.2h0M146.6 444.5h0M154.5 456.7h0M156.3 440.9h0M150.6 441.8h0M178.2 445.1h0M134.5 439.9h0M148.1 462.9h0M157.5 461.7h0M146.9 457.1h0M129.9 439.0h0M155.8 459.8h0M171.0 429.5h0M180.3 450.4h0M162.7 448.2h0M178.5 456.1h0M157.0 448.7h0M144.6 449.9h0M149.1 453.0h0M152.3 444.7h0M139.0 450.5h0M144.9 445.8h0M152.2 449.5h0M134.2 440.2h0M136.9 435.9h0M161.7 430.1h0M135.2 451.7h0M153.2 431.7h0M133.5 439.7h0M163.5 451.0h0M126.1 450.8h0M162.5 451.4h0M164.3 441.1h0M176.9 456.0h0M144.4 436.2h0M123.1 439.5h0M151.1 453.7h0M144.3 447.5h0M125.0 456.0h0M140.3 441.7h0M147.8 431.8h0M155.2 443.3h0M135.3 429.4h0M134.0 455.9h0M171.8 462.4h0M161.8 458.8h0M144.4 433.5h0M137.8 431.3h0M129.5 431.0h0M155.6 450.7h0M152.4 457.8h0M129.7 455.6h0M131.2 455.7h0M131.6 454.8h0M171.1 434.3h0M164.3 430.5h0M164.0 463.2h0M149.9 444.2h0M146.2 457.5h0M149.0 447.5h0M160.9 437.4h0M130.3 438.0h0M142.6 460.7h0M118.1 448.2h0M153.3 455.7h0M157.9 446.8h0M166.8 462.7h0M131.9 441.3h0M166.7 451.6h0M133.9 439.1h0M144.3 448.8h0M138.3 453.7h0M136.2 450.4h0M158.9 461.6h0M139.4 436.9h0M146.5 444.8h0M152.8 438.2h0M138.5 438.2h0M130.3 460.7h0M143.5 445.2h0M154.2 460.6h0M158.1 437.8h0M147.8 444.1h0M138.4 452.4h0M140.3 457.3h0M145.4 422.2h0M141.6 460.9h0M177.2 458.3h0M151.7 450.8h0M156.1 454.3h0M149.3 444.8h0M143.7 438.7h0M138.3 429.5h0M151.4 458.3h0M163.6 450.5h0M159.1 456.6h0M141.4 436.0h0M149.7 440.3h0M139.7 432.8h0M142.1 449.8h0M173.3 432.6h0M153.7 443.7h0M163.9 446.7h0M132.8 442.5h0M139.3 433.7h0M140.6 447.5h0M156.2 449.7h0M155.1 444.2h0M173.6 446.1h0M165.6 459.3h0M165.3 454.2h0M132.5 460.3h0M160.4 438.5h0M135.4 441.7h0M148.5 434.1h0M140.7 436.6h0M130.0 430.4h0M155.7 457.0h0M134.2 437.4h0M155.4 440.2h0M153.2 441.0h0M161.9 434.4h0M154.0 437.6h0M162.8 440.9h0M123.4 429.8h0M142.9 437.9h0M142.9 434.2h0M128.4 448.4h0M129.4 438.3h0M164.3 441.5h0M174.6 445.3h0M142.8 445.8h0M160.6 461.6h0M143.4 458.1h0M137.0 438.8h0M150.8 440.7h0M161.1 460.8h0M147.6 428.7h0M161.7 456.8h0M149.5 451.6h0M156.1 433.7h0M159.6 441.3h0M126.9 436.3h0M170.5 430.9h0M162.9 431.6h0M126.3 461.3h0M142.4 427.6h0M152.9 430.3h0M140.0 443.9h0M150.7 453.7h0M148.1 457.3h0M138.9 430.3h0M148.3 444.3h0M133.4 460.4h0M165.7 450.1h0M155.3 445.2h0M143.1 438.9h0M129.3 443.8h0M158.6 453.1h0M141.3 448.0h0M126.7 442.4h0M126.3 454.1h0M164.4 459.8h0M141.6 439.2h0M164.5 460.0h0M139.4 458.8h0M138.1 435.1h0M145.7 447.5h0M128.4 454.0h0M125.8 440.2h0M154.0 432.3h0M137.5 448.9h0M167.6 448.8h0M161.1 448.0h0M155.2 431.2h0M147.6 461.5h0M154.5 448.5h0M160.8 442.2h0M146.5 428.8h0M130.2 436.1h0M140.9 446.0h0M169.2 461.8h0M148.4 436.5h0M161.8 455.2h0M156.7 449.4h0M156.3 451.0h0M134.8 444.5h0M136.8 455.0h0M174.8 457.2h0M133.0 438.9h0M165.1 446.1h0M169.7 447.6h0M168.8 445.3h0M134.8 431.0h0M159.9 456.9h0M134.5 445.1h0M129.2 459.5h0M161.1 448.8h0M135.9 443.5h0M157.2 445.9h0M149.0 441.5h0M145.4 429.5h0M155.4 450.8h0M173.0 432.4h0M139.6 458.0h0M148.2 455.1h0M140.2 432.7h0M140.0 462.0h0M133.8 448.5h0M156.6 440.4h0M151.7 438.7h0M128.9 456.0h0M172.4 459.6h0M147.8 443.7h0M164.1 427.6h0M141.2 461.7h0M130.3 430.0h0M141.0 454.5h0M143.8 434.2h0M141.9 441.9h0M145.9 434.3h0M133.9 454.7h0M143.8 462.3h0M168.4 428.6h0M147.3 430.1h0M142.4 456.5h0M166.5 447.2h0M116.0 456.6h0M119.8 447.1h0M127.4 454.6h0M150.8 435.5h0M138.2 457.3h0M128.3 439.4h0M135.4 437.0h0M131.0 442.9h0M161.5 442.1h0M159.1 453.5h0M143.7 462.2h0M173.6 449.8h0M160.6 450.5h0M164.1 437.5h0M151.4 452.9h0M147.3 459.6h0M142.9 444.8h0M161.1 437.3h0M144.4 436.3h0M123.9 423.1h0M176.7 445.3h0M169.5 432.1h0M139.5 436.1h0M150.2 455.7h0M138.2 460.2h0M143.7 456.9h0M176.5 454.0h0M143.8 456.8h0M159.6 445.3h0M163.4 451.6h0M161.3 437.4h0M167.0 461.7h0M160.1 433.9h0M149.9 434.8h0M162.5 435.1h0M151.3 432.8h0M130.9 423.0h0M166.4 453.8h0M136.1 462.5h0M127.4 434.8h0M125.9 458.6h0M140.9 459.5h0M150.8 431.3h0M144.2 432.1h0M150.1 451.4h0M141.1 434.0h0M166.9 433.5h0M132.4 450.9h0M164.0 449.3h0M159.1 449.8h0M126.9 435.6h0M136.2 456.0h0M132.9 455.7h0M155.5 429.8h0M126.7 431.3h0M127.8 452.3h0M166.6 431.1h0M164.9 452.5h0M160.6 432.9h0M161.8 436.4h0M139.3 445.6h0M156.9 434.8h0M170.2 458.9h0M161.8 455.4h0M157.6 456.1h0M152.0 444.1h0M140.5 446.6h0M172.7 449.2h0M149.0 436.0h0M145.8 451.7h0M163.7 436.5h0M162.1 436.9h0M160.7 434.7h0M167.1 444.4h0M127.7 435.6h0M138.5 459.3h0M154.0 461.4h0M149.6 458.4h0M134.9 437.8h0M154.0 442.6h0M173.8 460.6h0M108.5 457.8h0M137.6 450.6h0M161.9 447.7h0M102.2 457.0h0M91.7 446.6h0M124.3 430.2h0M143.5 440.9h0M176.4 429.8h0M111.2 457.7h0M150.0 451.0h0M86.0 439.1h0M155.0 453.6h0M172.2 446.6h0M159.8 439.0h0M123.6 454.4h0M169.8 433.5h0M94.3 455.0h0M155.1 462.4h0M161.8 461.4h0M115.9 432.1h0M144.9 434.7h0M114.2 457.1h0M102.5 448.6h0M112.6 435.6h0M158.4 435.5h0M158.4 453.8h0M100.7 443.4h0M143.1 457.9h0M177.1 440.2h0M126.7 456.2h0M103.3 440.3h0M173.9 444.1h0M92.0 431.7h0M133.3 460.9h0M125.7 445.3h0M141.4 429.0h0M113.0 438.9h0M118.2 441.9h0M172.4 437.7h0M176.2 447.4h0M171.2 434.2h0M98.3 449.4h0M155.8 463.1h0M97.7 438.3h0M140.2 461.8h0M158.8 450.1h0M139.7 463.5h0M119.1 447.5h0M109.3 436.3h0M113.5 451.5h0M155.0 437.3h0M88.0 430.7h0M159.1 448.1h0M170.5 442.6h0M152.0 442.8h0M145.9 441.9h0M123.7 454.3h0M143.5 453.5h0M83.7 458.5h0M116.1 433.4h0M109.6 429.1h0M109.6 443.8h0M149.2 451.8h0M120.4 436.4h0M159.2 440.3h0M167.8 445.5h0M141.8 431.4h0M158.9 439.8h0M161.4 449.0h0M84.8 438.7h0M97.4 463.3h0M128.8 441.0h0M99.6 431.4h0M104.7 443.7h0M167.0 455.4h0M121.8 462.1h0M150.3 448.7h0M145.5 461.8h0M138.9 447.4h0M90.8 431.4h0M145.7 438.4h0M112.6 441.0h0M172.5 462.6h0M90.9 438.6h0M110.1 461.9h0M90.7 433.3h0M114.6 437.0h0M160.0 447.6h0M157.5 430.7h0M108.5 431.0h0M154.6 435.7h0M88.8 430.9h0M85.7 458.0h0M81.5 461.0h0M93.8 434.9h0M92.5 452.6h0M88.6 445.1h0M96.8 438.3h0M85.6 439.2h0M85.3 429.9h0M100.1 452.8h0M99.0 442.8h0M90.6 440.3h0M94.1 431.5h0M98.7 435.5h0M93.0 455.8h0M96.8 449.4h0M94.0 430.8h0M96.2 458.6h0M96.1 439.3h0M99.9 431.1h0M88.8 448.5h0M81.4 436.2h0M95.5 434.3h0M81.0 435.9h0M89.8 440.2h0M93.7 442.1h0M86.0 448.9h0M97.8 457.5h0M82.6 442.1h0M107.0 427.5h0M109.0 392.4h0M165.3 392.2h0M138.7 417.9h0M111.9 390.7h0M111.5 377.4h0M96.2 426.6h0M177.1 425.5h0M101.6 372.7h0M83.5 428.4h0" stroke="#000" stroke-opacity="0.45" stroke-width="1.4" stroke-linecap="round" fill="none"/>
<path d="M133.5 400.2h0M140.0 412.9h0M122.3 418.7h0M153.6 396.8h0M156.1 381.4h0M153.7 409.4h0M146.1 403.5h0M155.8 396.8h0M155.4 401.0h0M157.1 397.8h0M167.5 394.7h0M141.0 406.6h0M162.4 393.0h0M132.7 392.1h0M145.9 397.9h0M154.2 390.4h0M118.8 417.6h0M161.1 403.3h0M153.4 411.4h0M146.4 399.9h0M134.3 397.5h0M162.0 378.8h0M149.8 403.1h0M133.0 404.8h0M144.4 411.8h0M166.5 396.2h0M149.6 405.3h0M146.6 387.6h0M155.9 392.9h0M122.3 408.1h0M135.9 413.4h0M142.5 404.3h0M174.0 397.3h0M143.3 405.2h0M144.1 415.0h0M146.9 379.3h0M148.0 391.5h0M130.2 389.7h0M141.2 406.7h0M158.0 386.0h0M142.4 397.6h0M148.5 384.4h0M155.0 392.1h0M168.6 373.7h0M158.0 402.1h0M163.5 390.2h0M145.8 399.4h0M167.2 403.0h0M163.7 391.4h0M134.5 410.8h0M158.9 388.7h0M143.7 396.8h0M162.9 404.1h0M161.1 407.8h0M168.9 401.6h0M147.9 391.1h0M136.5 401.0h0M151.2 400.1h0M132.7 396.1h0M150.9 405.2h0M155.9 418.0h0M142.9 405.6h0M138.9 405.0h0M137.8 412.1h0M125.6 404.5h0M147.4 401.3h0M151.8 391.6h0M147.0 407.1h0M164.4 387.2h0M162.3 406.4h0M142.8 405.4h0M148.2 417.6h0M132.5 411.4h0M138.0 410.8h0M140.7 404.6h0M165.1 403.4h0M155.3 409.3h0M152.6 410.5h0M153.7 405.2h0M143.8 393.9h0M172.5 395.0h0M169.3 391.2h0M151.5 387.3h0M168.1 386.4h0M138.0 407.2h0M147.1 400.8h0M148.6 389.5h0M165.9 404.2h0M169.3 399.6h0M152.1 400.2h0M153.1 383.6h0M140.8 392.5h0M158.9 392.7h0M151.8 401.4h0M157.3 395.2h0M137.7 420.8h0M145.9 392.3h0M141.8 411.1h0M153.8 395.8h0M134.2 407.3h0M136.1 400.7h0M134.8 402.2h0M162.2 394.6h0M132.2 409.3h0M149.5 381.2h0M132.9 407.1h0M149.0 395.7h0M157.7 396.2h0M161.5 390.1h0M155.1 381.6h0M148.3 410.3h0M145.1 394.0h0M146.7 421.2h0M154.4 390.9h0M171.5 380.4h0M156.2 395.2h0M138.9 418.0h0M146.5 380.8h0M132.2 417.9h0M149.5 402.1h0M149.4 397.7h0M138.4 411.9h0M147.9 410.7h0M163.2 414.7h0M152.0 385.8h0M134.2 403.1h0M168.3 395.3h0M153.7 392.6h0M149.2 408.2h0M167.6 381.7h0M138.9 392.5h0M149.9 398.0h0M147.9 395.2h0M142.6 399.5h0M136.9 400.0h0M156.3 383.8h0M149.1 410.7h0M153.0 392.1h0M150.0 396.5h0M164.6 389.3h0M153.1 403.6h0M164.9 403.9h0M158.7 415.5h0M162.0 402.6h0M147.2 397.2h0M152.6 388.9h0M157.5 394.8h0M151.8 396.6h0M168.5 394.7h0M142.1 397.8h0M151.3 400.1h0M147.8 398.0h0M143.7 414.5h0M165.5 398.9h0M159.6 397.2h0M158.5 407.1h0M151.7 414.7h0M132.8 406.6h0M143.6 394.4h0M143.2 412.7h0M158.9 396.8h0M155.8 416.5h0M139.8 401.9h0M144.8 399.6h0M130.3 393.8h0M139.7 406.8h0M139.1 396.5h0M154.7 384.9h0M150.4 411.2h0M168.4 401.3h0M127.8 409.0h0M148.8 392.9h0M156.0 385.6h0M139.7 408.6h0M149.3 398.8h0M152.0 393.5h0M146.1 408.1h0M162.3 401.3h0M144.5 389.9h0M163.2 399.8h0M143.5 419.2h0M150.0 415.5h0M156.2 394.5h0M147.3 401.9h0M135.1 400.2h0M169.4 396.7h0M142.5 396.8h0M135.0 397.2h0M157.7 405.3h0M137.4 403.8h0M160.9 366.8h0M149.5 393.8h0M147.7 395.4h0M147.3 394.3h0M138.6 397.3h0M160.8 402.9h0M162.2 397.1h0M147.3 375.9h0M156.2 402.5h0M165.4 393.5h0M144.9 407.2h0M156.8 406.8h0M159.7 390.4h0M124.7 415.9h0M166.5 388.2h0M166.4 387.9h0M164.2 391.9h0M164.9 392.1h0M153.4 395.5h0M169.7 393.7h0M162.4 379.0h0M154.1 396.4h0M164.4 394.6h0M162.5 395.3h0M153.1 398.6h0M163.8 389.4h0M144.5 401.6h0M154.8 394.6h0M155.4 408.6h0M161.5 387.6h0M149.4 385.1h0M166.3 394.0h0M154.6 380.4h0M160.4 398.1h0M151.2 396.6h0M145.1 403.9h0M146.9 400.3h0M153.4 389.5h0M156.2 405.3h0M147.9 395.4h0M161.9 389.7h0M159.1 389.9h0M160.4 391.9h0M150.0 395.7h0M153.9 388.9h0M159.5 383.7h0M155.2 398.3h0M160.2 401.6h0M143.7 397.5h0M158.5 402.1h0M152.1 402.5h0M148.8 391.6h0M149.9 400.0h0M169.9 378.4h0M154.4 401.8h0M150.7 399.0h0M158.4 389.0h0M152.2 394.4h0M137.4 405.4h0M169.6 373.9h0M148.8 400.7h0M150.4 401.8h0M161.5 388.5h0M161.8 391.6h0M148.6 398.3h0M156.8 398.6h0M151.2 400.9h0M160.8 381.2h0M168.3 390.0h0M166.3 384.7h0M163.5 402.7h0M143.4 395.7h0M87.7 374.2h0M84.3 417.6h0M85.0 398.0h0M100.6 388.2h0M90.5 386.9h0M103.0 393.0h0M101.8 381.5h0M90.8 388.0h0M109.9 382.8h0M106.6 397.8h0M100.4 419.1h0M103.5 413.2h0M107.2 404.1h0M109.2 397.6h0M108.0 397.4h0M107.5 426.5h0M91.6 404.1h0M105.6 408.5h0M105.6 416.1h0M119.3 409.6h0M110.4 399.9h0M119.6 421.3h0M117.8 389.7h0M117.5 400.3h0M122.3 396.2h0M119.8 427.7h0M109.5 398.3h0M111.9 396.2h0M117.3 399.9h0M111.8 411.1h0M113.4 427.6h0M124.8 427.9h0M115.3 393.5h0M119.6 401.6h0M115.8 403.7h0M109.9 423.6h0M118.6 387.7h0M113.2 392.7h0M111.5 386.2h0M119.7 391.1h0M115.9 423.1h0M124.8 409.1h0M117.8 397.8h0M112.6 405.7h0M112.8 424.9h0M114.2 389.6h0M118.2 383.1h0M116.0 385.0h0M123.0 416.3h0M121.5 400.4h0M109.8 429.1h0M104.7 427.8h0M110.0 428.7h0M114.6 451.2h0M109.4 434.6h0M112.4 455.1h0M112.1 440.8h0M114.7 453.2h0M104.8 451.1h0M107.4 435.4h0M104.4 433.3h0M115.6 429.1h0M105.8 435.0h0M101.6 447.4h0M119.0 456.7h0M108.8 449.4h0M105.7 455.2h0M97.4 454.4h0M118.3 452.1h0M114.9 442.3h0M96.7 445.3h0M102.0 445.7h0M119.5 451.3h0M117.2 443.2h0M111.7 432.2h0M105.3 441.5h0M104.5 442.6h0M111.7 449.8h0M106.7 454.0h0M114.9 459.9h0M103.9 429.9h0M106.9 436.0h0M103.5 449.9h0M116.7 432.9h0M118.3 427.9h0M105.9 447.2h0M116.0 451.4h0M109.9 431.6h0M108.6 428.6h0M108.5 460.7h0M102.3 444.6h0M109.2 452.8h0M106.7 443.0h0M111.3 424.5h0M114.8 455.0h0M96.3 448.1h0M107.6 440.4h0M107.0 443.2h0M117.2 431.8h0M112.0 447.0h0M109.4 453.4h0M112.4 462.6h0M103.7 434.1h0M115.4 443.2h0M106.8 430.3h0M104.0 462.6h0M118.2 432.3h0M105.1 453.8h0M114.2 439.2h0M100.7 434.2h0M102.4 439.1h0M107.7 452.6h0M111.7 440.1h0M118.7 449.2h0M99.8 451.0h0M102.8 451.2h0M112.1 448.6h0M117.1 427.3h0M119.7 429.4h0M102.9 452.3h0M107.7 442.6h0M115.7 436.5h0M109.6 426.3h0M100.7 436.7h0M111.1 434.7h0M109.6 453.6h0M105.3 443.5h0M106.6 453.2h0M101.9 452.8h0M105.2 451.6h0M106.6 442.5h0M111.2 424.1h0M113.4 457.5h0M110.3 429.6h0M108.1 452.6h0M116.2 431.2h0M107.0 455.0h0M112.2 431.7h0M103.3 444.7h0M109.7 435.3h0M113.1 443.8h0M107.1 447.1h0M106.3 455.0h0M105.5 429.8h0M104.7 452.8h0M102.0 434.5h0M117.5 426.6h0M104.7 454.3h0M103.7 434.5h0M108.9 453.2h0M110.7 443.6h0M115.7 438.8h0M99.0 441.2h0M101.4 426.3h0M112.0 453.0h0M103.2 438.2h0M118.7 434.3h0M112.9 447.8h0M113.6 453.9h0M110.6 453.0h0M113.2 445.0h0M113.8 443.3h0M102.6 463.3h0M114.1 462.6h0M110.2 425.1h0M101.8 433.3h0M103.0 456.5h0M119.2 429.9h0M108.5 461.0h0M120.5 454.8h0M98.3 437.3h0M103.1 438.7h0M108.6 437.5h0M110.4 452.1h0M107.0 446.2h0M118.2 450.2h0M108.8 452.8h0M116.1 441.9h0M107.0 434.7h0M101.2 429.3h0M98.9 445.3h0M115.7 452.9h0M111.3 445.8h0M112.0 440.1h0M107.2 428.3h0M118.6 437.7h0M102.9 441.3h0M111.0 443.4h0M116.5 457.1h0M100.6 445.3h0M95.4 445.7h0M99.7 435.2h0M101.9 448.7h0M101.7 437.5h0M96.4 457.9h0M102.5 439.9h0M110.3 452.6h0M108.8 449.0h0M106.5 462.5h0M112.2 456.2h0M102.4 444.5h0M108.2 457.0h0M105.7 452.7h0M109.1 448.3h0M113.4 433.6h0M102.7 444.5h0M112.2 448.8h0M107.1 447.4h0M115.2 431.5h0M114.3 432.3h0M100.2 444.2h0M108.7 460.3h0M116.6 445.4h0M110.0 445.1h0M102.2 438.7h0M112.8 461.6h0M111.8 448.8h0M115.4 461.4h0M120.7 441.1h0M113.4 429.6h0M103.1 454.5h0M96.3 462.0h0M115.7 437.7h0M106.2 428.8h0M103.7 458.0h0M106.7 443.5h0M111.1 463.2h0M103.1 448.7h0M115.5 452.5h0M109.3 459.5h0M98.3 441.8h0M103.6 440.8h0M108.3 435.7h0M117.3 435.6h0M99.4 458.0h0M108.2 453.6h0M99.0 426.4h0M114.7 455.4h0M102.5 442.8h0M101.4 434.7h0M116.4 428.9h0M114.6 460.9h0M112.7 442.8h0M116.9 460.8h0M108.4 457.9h0M105.8 432.3h0M105.5 440.9h0M114.0 432.7h0M108.5 454.8h0M109.1 430.1h0M101.3 434.9h0M92.9 454.8h0M112.6 460.4h0M111.5 434.1h0M104.7 446.9h0M108.2 445.7h0M109.0 450.4h0M115.2 452.7h0M106.0 430.3h0M96.2 451.1h0M108.4 446.9h0M101.7 458.7h0M114.4 437.8h0M116.3 431.2h0M114.8 437.0h0M108.6 445.4h0M103.2 452.8h0M108.4 437.5h0M103.6 436.7h0M105.0 447.8h0M110.0 429.6h0M111.8 432.6h0M110.6 450.8h0M103.6 449.0h0M106.6 441.3h0M107.5 455.1h0M108.4 439.1h0M104.7 438.2h0M108.6 447.3h0M107.8 458.9h0M104.3 439.2h0M116.6 458.3h0M112.1 445.0h0M112.6 448.6h0M110.2 438.0h0M109.3 460.8h0M104.3 447.9h0M99.5 439.1h0M111.1 463.2h0M109.4 435.5h0M100.5 440.5h0M105.9 441.0h0M107.0 431.0h0M113.2 428.8h0M112.3 443.9h0M110.0 431.4h0M99.9 458.6h0M101.4 458.6h0M105.1 445.3h0M110.5 442.6h0M109.7 439.9h0M102.3 451.9h0M107.0 439.1h0M106.4 463.5h0M112.2 459.7h0M108.2 441.9h0M111.1 457.5h0M104.8 454.2h0M103.0 436.2h0M98.6 433.9h0M106.8 459.8h0M107.0 455.2h0M108.0 462.4h0M112.4 457.2h0M109.1 444.9h0M109.1 434.1h0M117.7 453.9h0M118.0 445.4h0M111.5 447.2h0M105.5 456.7h0M107.6 450.5h0M118.1 442.5h0M113.4 436.9h0M112.5 447.4h0M113.9 437.7h0M110.8 440.6h0M105.6 455.5h0M120.1 443.2h0M113.9 440.1h0M99.1 443.3h0M105.4 445.7h0M104.7 457.1h0M103.8 460.8h0M107.7 456.8h0M112.1 454.2h0M111.5 440.4h0M104.2 463.2h0M116.6 441.3h0M115.2 450.9h0M98.9 455.9h0M109.7 439.2h0M107.0 425.5h0M120.0 433.1h0M99.1 432.2h0M110.2 447.4h0M110.9 462.0h0M116.5 451.0h0M118.5 432.1h0M98.1 426.0h0M101.9 450.0h0M104.8 455.8h0M116.8 445.8h0M110.6 461.9h0M103.5 447.4h0M112.6 436.8h0M104.7 446.4h0M111.7 438.6h0M107.0 456.5h0M110.6 435.3h0M105.8 443.5h0M96.9 444.5h0M111.5 457.8h0M105.4 454.7h0M101.9 444.8h0M123.5 429.6h0M108.4 458.9h0M104.9 432.6h0M108.8 428.8h0M113.5 431.9h0M111.2 439.8h0M116.1 461.2h0M112.2 438.8h0M109.8 456.2h0M101.4 449.0h0M118.3 445.4h0M113.2 440.3h0M110.8 426.3h0M108.4 453.7h0M109.5 436.8h0M119.5 451.0h0M109.4 453.2h0M111.1 438.6h0M108.3 458.0h0M108.5 459.1h0M111.6 460.3h0M101.1 444.9h0M107.5 438.4h0M107.2 437.4h0M107.3 461.8h0M104.7 435.7h0M109.4 437.1h0M110.9 436.4h0M113.1 456.1h0M112.4 440.1h0M106.5 431.5h0M101.4 461.5h0M112.4 455.9h0M103.9 439.4h0M117.1 459.7h0M118.0 427.9h0M108.8 456.3h0M100.6 450.2h0M118.6 439.0h0M117.0 435.4h0M104.7 443.1h0M106.2 454.9h0M109.1 457.0h0M107.2 445.1h0M97.8 463.4h0M117.6 426.0h0M114.9 453.8h0M118.1 447.9h0M103.6 436.2h0M121.7 462.3h0M111.2 443.0h0M105.0 454.1h0M110.5 449.5h0M111.5 435.9h0M109.1 434.4h0M108.9 444.3h0M105.6 437.3h0M114.5 447.0h0M105.8 445.1h0M114.5 446.0h0M109.7 453.2h0M108.3 440.6h0M107.4 456.2h0M109.0 451.0h0M114.3 460.5h0M106.7 438.6h0M113.9 448.3h0M102.2 462.9h0M113.4 423.9h0M112.2 448.8h0M110.7 439.8h0M110.8 419.2h0M112.1 453.1h0M108.0 461.1h0M110.3 454.5h0M103.8 453.0h0M103.0 439.4h0M106.4 444.1h0M112.1 460.9h0M107.8 430.0h0M105.7 453.7h0M106.4 435.2h0M109.5 428.1h0M110.2 440.4h0M112.8 450.4h0M106.6 435.2h0M114.9 461.7h0M111.4 436.9h0M104.9 460.6h0M98.0 444.0h0M106.8 443.1h0M95.5 457.1h0M98.5 462.3h0M103.0 447.9h0M102.1 428.2h0M106.5 454.8h0M109.9 459.3h0M114.0 443.8h0M107.5 441.8h0M111.8 445.4h0M111.4 450.1h0M108.9 426.5h0M107.6 439.7h0M107.9 450.6h0M106.4 431.7h0M109.0 459.7h0M108.9 443.0h0M107.7 452.9h0M113.4 437.4h0M114.8 439.4h0M106.9 459.2h0M109.5 437.2h0M100.7 433.4h0M109.1 438.0h0M115.0 457.5h0M111.6 434.7h0M109.2 452.4h0M110.5 458.9h0M107.9 436.5h0M114.5 443.9h0M105.3 456.1h0M107.5 439.3h0M104.7 463.6h0M113.4 452.4h0M105.8 449.6h0M117.9 435.9h0M106.6 431.0h0M109.3 429.2h0M107.3 448.4h0M107.3 455.0h0M105.9 448.9h0M112.1 434.6h0M119.6 459.5h0M105.2 442.8h0M106.7 438.6h0M112.3 431.4h0M113.5 448.8h0M113.0 440.2h0M116.6 443.1h0M107.3 436.1h0M100.6 457.4h0M102.5 436.1h0M97.9 436.8h0M110.6 428.0h0M103.3 445.5h0M115.6 441.3h0M111.3 448.6h0M101.8 456.9h0M112.2 440.1h0M117.8 453.0h0M103.4 456.8h0M110.0 430.3h0M110.1 439.4h0M118.1 438.0h0M110.7 461.5h0M110.4 426.5h0M109.5 435.8h0M109.6 448.2h0M104.1 419.3h0M108.3 429.1h0M106.2 453.9h0M101.7 439.2h0M111.3 428.6h0M117.5 460.9h0M112.2 438.6h0M113.5 443.5h0M107.0 448.5h0M103.7 461.7h0M98.4 438.7h0M118.1 458.5h0M104.3 453.3h0M107.1 438.0h0M108.7 443.3h0M111.7 431.1h0M109.2 446.9h0M118.1 462.0h0M107.8 462.8h0M102.9 452.3h0M114.3 444.7h0M115.8 450.8h0M114.9 442.8h0M113.0 451.2h0M112.7 443.9h0M100.9 454.5h0M108.4 437.8h0M102.9 455.6h0M117.6 449.0h0M108.5 452.6h0M111.3 442.8h0M113.5 453.1h0M106.3 453.3h0M107.2 452.2h0M111.5 443.9h0M114.7 454.9h0M116.4 432.5h0M111.2 431.7h0M103.1 451.3h0M104.3 443.5h0M101.0 425.0h0M109.9 452.7h0M116.4 462.1h0M127.2 435.4h0M135.5 445.7h0M144.6 446.7h0M122.0 451.4h0M140.0 453.1h0M144.0 439.8h0M132.0 423.5h0M140.0 437.0h0M155.0 446.8h0M140.6 430.5h0M135.6 441.4h0M122.4 445.4h0M170.1 443.0h0M150.1 440.2h0M167.8 455.9h0M163.5 433.4h0M166.7 448.5h0M145.0 442.7h0M135.1 453.9h0M142.1 429.4h0M123.0 447.4h0M170.1 460.1h0M167.5 460.6h0M131.0 459.1h0M184.5 451.1h0M134.8 438.3h0M146.3 442.2h0M141.1 453.3h0M146.6 436.2h0M131.4 434.8h0M148.6 452.7h0M166.9 449.7h0M145.9 432.3h0M170.3 449.6h0M155.2 452.8h0M148.1 429.3h0M152.9 442.9h0M143.9 443.1h0M134.7 436.1h0M164.9 439.6h0M140.3 445.6h0M130.1 441.7h0M176.4 455.7h0M153.7 435.2h0M132.5 456.5h0M130.0 443.0h0M129.5 456.9h0M163.1 450.4h0M150.2 458.3h0M134.4 440.8h0M141.5 446.9h0M138.3 454.8h0M130.4 444.1h0M157.0 439.3h0M152.7 439.8h0M159.1 446.0h0M152.0 431.8h0M129.7 442.9h0M138.8 437.2h0M134.9 439.5h0M152.4 438.5h0M134.1 444.1h0M148.5 454.5h0M126.5 452.8h0M158.7 427.9h0M137.0 429.1h0M133.9 432.1h0M131.4 433.4h0M119.6 436.6h0M166.3 449.4h0M164.8 428.6h0M130.2 447.0h0M163.2 458.9h0M154.5 449.5h0M149.0 458.0h0M140.8 447.4h0M132.8 439.5h0M126.0 431.4h0M162.3 450.2h0M155.4 443.5h0M143.3 452.0h0M147.1 453.5h0M134.5 444.3h0M127.9 462.1h0M166.4 459.8h0M169.4 450.1h0M168.9 439.7h0M152.7 432.2h0M171.4 442.2h0M153.4 455.5h0M136.1 454.2h0M144.7 448.3h0M147.7 436.7h0M136.0 443.2h0M138.9 427.8h0M138.9 452.4h0M162.3 459.4h0M156.5 461.1h0M154.9 457.1h0M131.0 448.5h0M130.5 447.1h0M137.9 429.2h0M167.7 447.5h0M146.8 453.5h0M141.4 445.5h0M143.7 451.5h0M146.5 444.2h0M126.8 460.9h0M169.3 439.9h0M144.2 450.3h0M158.2 451.9h0M176.0 444.6h0M166.9 448.1h0M147.3 442.4h0M140.7 455.0h0M154.5 433.2h0M168.2 452.7h0M169.1 433.0h0M178.9 459.9h0M160.3 451.6h0M171.5 446.1h0M138.9 435.1h0M130.1 457.7h0M169.1 437.6h0M162.2 443.7h0M144.8 449.7h0M155.3 463.6h0M135.9 460.8h0M139.9 450.6h0M141.6 437.6h0M143.7 427.0h0M155.6 460.5h0M135.8 461.6h0M156.5 420.4h0M146.7 461.1h0M147.4 447.4h0M146.9 440.9h0M134.5 428.0h0M134.5 440.4h0M138.9 435.0h0M167.8 452.3h0M144.3 449.2h0M175.3 450.0h0M130.8 429.1h0M148.0 436.0h0M147.1 429.7h0M161.9 437.5h0M146.8 462.5h0M153.9 452.9h0M160.5 446.9h0M165.5 440.2h0M153.3 451.0h0M137.0 456.8h0M152.2 445.4h0M139.1 456.2h0M171.3 460.3h0M166.6 455.0h0M167.5 428.3h0M148.6 436.9h0M128.4 456.0h0M127.5 449.5h0M163.9 442.0h0M149.4 435.7h0M152.5 436.1h0M151.0 456.0h0M167.8 436.1h0M144.1 438.8h0M136.9 461.5h0M143.9 463.1h0M144.0 443.4h0M146.0 451.0h0M146.2 437.3h0M136.9 458.6h0M132.3 429.0h0M161.5 439.0h0M150.4 449.6h0M160.8 457.2h0M157.9 449.7h0M164.4 462.3h0M146.8 451.2h0M149.3 457.6h0M130.0 448.9h0M151.6 455.1h0M136.0 449.1h0M166.4 427.0h0M163.9 437.8h0M152.4 449.6h0M149.1 445.0h0M139.9 456.4h0M132.9 452.2h0M157.2 461.3h0M132.2 437.1h0M151.2 461.9h0M122.3 446.9h0M135.5 433.5h0M160.7 432.6h0M152.5 443.4h0M162.8 430.8h0M151.5 425.9h0M170.6 444.1h0M153.9 453.3h0M163.3 433.4h0M139.2 453.4h0M168.7 424.3h0M134.0 446.2h0M165.9 455.6h0M152.6 455.7h0M132.9 453.6h0M146.7 443.1h0M138.1 453.9h0M133.7 453.2h0M165.0 460.5h0M128.0 451.0h0M146.3 438.9h0M145.8 447.9h0M143.1 456.8h0M159.9 451.6h0M143.7 451.8h0M133.5 439.8h0M143.2 450.8h0M157.1 448.9h0M142.5 431.8h0M153.0 450.3h0M172.4 443.7h0M162.8 432.7h0M161.7 436.3h0M128.8 430.0h0M140.1 436.9h0M169.4 441.7h0M133.7 447.9h0M149.9 431.7h0M167.2 454.5h0M178.2 452.7h0M163.3 434.4h0M155.4 447.1h0M126.5 454.5h0M132.2 456.7h0M130.6 449.0h0M135.1 445.5h0M173.1 447.8h0M150.6 459.3h0M141.4 423.8h0M136.5 457.9h0M148.9 455.9h0M156.2 438.2h0M137.2 440.2h0M151.7 434.0h0M163.3 439.1h0M170.1 456.9h0M152.0 436.7h0M135.4 453.5h0M155.5 447.6h0M168.9 447.6h0M133.8 440.7h0M139.9 435.4h0M143.3 431.0h0M132.0 452.3h0M163.3 435.1h0M136.1 445.9h0M139.9 440.9h0M131.0 461.4h0M142.3 453.7h0M161.0 446.9h0M158.9 431.3h0M139.3 429.3h0M161.7 448.5h0M167.6 463.4h0M143.4 430.7h0M175.2 441.2h0M150.4 460.0h0M127.6 453.3h0M169.6 458.1h0M128.2 462.9h0M167.3 432.5h0M137.1 448.1h0M163.2 432.0h0M140.8 445.4h0M169.1 449.6h0M163.0 454.9h0M164.4 456.5h0M146.3 447.7h0M162.9 443.8h0M158.0 460.9h0M123.6 449.0h0M142.8 441.4h0M153.1 439.0h0M116.4 458.7h0M148.3 441.7h0M160.0 450.0h0M173.5 444.9h0M122.9 448.9h0M154.9 444.7h0M151.6 440.0h0M128.0 453.8h0M149.1 447.3h0M129.5 448.1h0M156.4 446.5h0M165.7 440.3h0M135.5 442.6h0M153.0 442.3h0M141.2 456.4h0M137.7 423.4h0M143.3 431.3h0M159.8 427.8h0M153.3 457.3h0M137.3 454.6h0M144.7 459.3h0M146.1 433.3h0M157.1 443.3h0M149.1 437.2h0M153.3 442.5h0M138.2 441.5h0M130.8 434.5h0M164.9 439.6h0M127.3 451.1h0M137.6 440.0h0M164.8 438.3h0M130.1 453.9h0M129.6 449.5h0M159.8 436.0h0M164.5 459.0h0M171.0 457.9h0M150.2 437.3h0M149.0 424.4h0M137.8 432.2h0M153.2 451.8h0M142.3 443.3h0M160.0 445.1h0M166.4 447.1h0M174.7 453.1h0M171.9 431.5h0M169.5 450.5h0M143.8 448.8h0M129.3 447.4h0M152.6 442.6h0M165.2 448.0h0M173.6 446.4h0M150.2 429.3h0M166.5 432.8h0M133.7 457.8h0M142.5 442.4h0M160.0 455.6h0M152.9 452.1h0M133.3 454.0h0M168.0 429.8h0M141.4 438.1h0M174.8 436.9h0M149.4 456.6h0M155.8 436.4h0M143.7 436.2h0M153.0 451.5h0M131.1 445.1h0M138.2 440.6h0M139.7 443.7h0M157.3 433.3h0M167.3 433.1h0M143.1 454.4h0M174.2 427.9h0M157.4 452.6h0M135.8 431.0h0M164.7 441.3h0M140.3 443.4h0M152.0 447.0h0M155.7 454.6h0M168.1 440.1h0M160.7 437.7h0M150.9 438.6h0M170.0 437.3h0M139.2 445.9h0M175.3 441.8h0M129.1 445.3h0M164.5 430.1h0M155.2 431.0h0M169.1 442.8h0M148.6 443.2h0M131.6 453.3h0M142.9 447.3h0M161.8 453.1h0M141.4 438.9h0M125.2 454.5h0M139.9 442.1h0M132.4 425.5h0M169.5 453.0h0M127.5 443.2h0M181.7 441.4h0M131.7 436.9h0M131.8 440.3h0M153.6 442.6h0M155.9 456.1h0M148.6 448.5h0M164.6 444.4h0M151.0 459.9h0M140.8 458.2h0M153.7 439.0h0M156.1 437.2h0M158.3 452.5h0M133.8 437.3h0M126.8 461.1h0M133.8 445.3h0M164.7 460.9h0M159.8 452.0h0M143.8 438.2h0M134.8 458.4h0M141.2 457.8h0M148.2 436.8h0M153.0 455.9h0M120.1 440.6h0M148.9 458.2h0M149.3 454.9h0M133.2 455.7h0M124.0 458.8h0M142.1 436.4h0M135.5 440.5h0M159.8 447.7h0M172.4 460.2h0M142.0 445.2h0M138.0 453.7h0M143.4 434.9h0M154.9 445.5h0M147.1 442.6h0M140.9 429.0h0M154.3 439.1h0M130.1 432.6h0M169.6 452.4h0M142.8 429.2h0M137.7 449.0h0M138.4 451.0h0M146.8 458.5h0M134.1 449.8h0M177.3 448.6h0M133.9 445.1h0M156.4 456.2h0M149.7 458.6h0M167.1 461.9h0M148.2 447.6h0M131.1 451.3h0M157.6 438.7h0M149.6 441.4h0M168.8 453.6h0M142.7 450.3h0M123.1 448.0h0M144.3 437.7h0M156.1 438.6h0M137.7 440.9h0M123.4 430.9h0M86.7 455.4h0M140.9 453.0h0M98.2 457.3h0M115.5 437.4h0M117.6 449.4h0M122.7 451.6h0M129.7 432.8h0M140.5 461.6h0M154.5 461.1h0M138.2 461.8h0M164.6 453.6h0M136.0 438.6h0M112.5 437.8h0M128.7 443.9h0M179.9 462.2h0M151.0 438.1h0M98.4 442.0h0M154.1 447.2h0M82.4 449.6h0M141.4 441.6h0M133.2 447.4h0M140.1 429.5h0M153.9 463.2h0M155.7 447.0h0M93.1 452.9h0M97.3 461.1h0M105.6 447.3h0M108.4 447.1h0M90.5 431.6h0M138.3 462.3h0M100.9 449.8h0M115.6 431.9h0M128.4 435.6h0M127.5 433.6h0M159.3 448.4h0M176.8 440.0h0M153.9 443.9h0M142.0 463.7h0M101.1 429.3h0M84.9 463.3h0M136.4 446.9h0M95.7 460.1h0M156.6 461.7h0M166.8 437.0h0M95.3 456.3h0M96.1 448.6h0M96.2 459.2h0M123.4 448.9h0M91.0 436.6h0M151.6 446.5h0M97.8 447.1h0M132.2 446.4h0M145.9 447.1h0M161.3 435.2h0M168.2 447.5h0M163.4 434.3h0M121.6 436.2h0M166.1 452.8h0M152.3 459.9h0M84.2 456.1h0M165.7 454.6h0M168.8 444.5h0M177.6 439.3h0M137.7 447.4h0M150.8 441.3h0M150.8 443.5h0M176.3 447.9h0M113.1 452.7h0M101.1 442.3h0M126.3 457.4h0M102.5 446.9h0M129.1 436.1h0M171.3 430.9h0M121.9 437.4h0M128.7 447.1h0M108.2 446.9h0M162.3 453.2h0M178.9 443.4h0M161.1 438.3h0M149.6 463.5h0M141.7 449.1h0M173.9 462.7h0M175.9 445.4h0M99.6 463.4h0M151.2 443.5h0M151.6 431.3h0M140.9 436.6h0M175.6 454.0h0M108.3 463.0h0M88.5 454.5h0M129.5 436.1h0M177.2 431.7h0M174.8 445.5h0M107.7 453.5h0M162.7 430.0h0M152.9 460.7h0M81.2 456.1h0M143.8 456.2h0M109.2 447.1h0M91.2 431.0h0M116.1 436.2h0M152.7 462.2h0M90.9 461.7h0M168.9 452.3h0M140.7 456.2h0M176.1 445.6h0M148.7 442.9h0M154.8 433.0h0M89.7 432.6h0M88.4 453.4h0M116.5 460.2h0M98.6 433.2h0M150.9 444.2h0M96.0 443.6h0M120.1 456.0h0M152.3 459.7h0M139.3 442.6h0M164.9 450.1h0M101.1 431.0h0M155.2 448.7h0M147.3 450.6h0M122.0 458.3h0M176.2 455.8h0M127.2 429.7h0M89.9 458.2h0M86.7 434.8h0M93.7 436.1h0M86.7 461.2h0M91.9 429.2h0M84.3 459.4h0M96.6 451.8h0M100.0 434.2h0M83.3 449.2h0M87.4 450.8h0M92.3 448.9h0M82.3 438.5h0M87.4 441.8h0M93.4 459.9h0M90.6 447.9h0M89.1 451.1h0M99.5 439.0h0M83.6 449.5h0M100.9 449.9h0M90.9 457.1h0M88.7 450.0h0M86.5 438.2h0M83.5 445.1h0M83.1 455.0h0M88.0 423.8h0M115.8 398.2h0M112.4 373.5h0M89.2 428.8h0M93.3 413.9h0M151.2 415.8h0" stroke="#000" stroke-opacity="0.45" stroke-width="1.4" stroke-linecap="round" fill="none"/>
<path d="M161.0 403.3h0M144.2 401.7h0M155.1 402.3h0M161.1 400.7h0M156.8 389.8h0M152.2 398.5h0M166.4 398.9h0M144.8 403.2h0M150.0 399.2h0M160.3 390.4h0M142.9 408.1h0M149.2 391.7h0M169.6 384.6h0M135.0 421.1h0M159.3 388.4h0M172.1 387.2h0M140.7 389.1h0M153.2 393.5h0M159.2 387.7h0M138.0 412.4h0M141.4 416.0h0M159.7 397.5h0M141.6 413.8h0M161.2 399.0h0M157.2 407.5h0M155.4 401.0h0M156.4 394.6h0M155.7 391.2h0M157.9 386.9h0M134.8 414.5h0M159.3 379.7h0M131.5 410.1h0M150.0 395.4h0M155.0 389.5h0M140.4 397.4h0M154.7 389.3h0M138.6 423.9h0M156.1 394.9h0M154.2 417.9h0M160.5 407.0h0M146.8 402.2h0M142.7 398.3h0M141.4 403.9h0M146.0 395.6h0M150.3 404.1h0M160.1 407.5h0M138.3 397.2h0M140.5 405.2h0M143.0 383.2h0M145.6 389.2h0M166.7 412.1h0M131.7 418.4h0M157.6 396.0h0M155.0 389.5h0M152.4 413.0h0M147.6 407.6h0M164.6 400.4h0M133.2 411.7h0M148.3 371.4h0M156.4 399.8h0M143.6 401.1h0M132.1 395.9h0M146.6 392.2h0M149.7 396.4h0M131.0 415.7h0M144.7 398.9h0M146.4 409.3h0M180.4 389.6h0M134.3 397.7h0M151.8 407.1h0M151.8 406.7h0M156.9 400.4h0M147.5 403.8h0M156.8 393.3h0M166.3 376.6h0M144.7 389.4h0M160.7 404.2h0M143.7 387.0h0M152.7 381.8h0M151.7 390.9h0M167.7 399.7h0M142.8 416.9h0M156.1 407.7h0M158.6 391.5h0M138.5 416.4h0M127.8 423.2h0M150.1 402.5h0M160.2 405.1h0M162.7 410.9h0M146.5 407.8h0M153.5 397.8h0M151.2 392.3h0M132.6 392.1h0M163.5 379.7h0M159.2 395.0h0M143.6 407.8h0M179.4 389.9h0M160.6 404.3h0M155.6 407.3h0M156.6 394.5h0M140.3 413.9h0M166.3 394.8h0M158.5 403.1h0M157.8 388.1h0M151.6 396.7h0M151.9 402.6h0M151.5 387.4h0M145.0 407.5h0M146.8 408.0h0M163.3 397.4h0M161.6 430.9h0M153.8 397.0h0M155.8 384.8h0M152.2 416.3h0M147.2 420.8h0M158.1 411.7h0M153.0 399.9h0M166.8 396.7h0M152.3 397.9h0M155.4 388.1h0M145.2 405.8h0M152.9 408.4h0M160.3 399.3h0M149.0 411.9h0M144.0 395.1h0M144.9 395.6h0M150.1 393.0h0M128.4 412.4h0M170.5 408.9h0M154.6 407.3h0M161.0 407.9h0M143.6 405.4h0M149.6 405.3h0M151.8 420.5h0M172.0 398.7h0M170.8 387.8h0M150.5 408.4h0M157.0 390.3h0M148.4 403.4h0M138.8 404.5h0M166.9 399.6h0M178.4 396.4h0M149.7 409.4h0M154.8 389.9h0M147.0 409.9h0M151.0 391.0h0M152.9 401.0h0M164.7 416.8h0M148.4 388.5h0M147.7 383.5h0M148.7 407.1h0M158.5 384.7h0M152.8 388.8h0M141.0 407.2h0M115.2 421.0h0M150.2 396.8h0M149.9 408.8h0M151.4 390.6h0M146.5 394.3h0M168.3 389.5h0M158.0 394.7h0M132.9 407.8h0M145.6 402.7h0M150.7 409.0h0M137.7 411.5h0M157.1 387.6h0M164.8 404.8h0M163.8 407.3h0M163.0 414.5h0M156.8 402.7h0M163.0 394.2h0M156.8 405.0h0M160.5 393.2h0M176.5 397.9h0M137.7 400.3h0M161.5 390.3h0M154.4 401.1h0M143.2 408.9h0M165.5 400.2h0M146.7 419.3h0M143.7 409.2h0M146.5 389.4h0M142.2 395.9h0M144.9 400.4h0M162.4 402.8h0M150.5 422.6h0M162.8 397.3h0M174.2 383.9h0M140.6 409.5h0M162.8 401.9h0M149.9 396.2h0M160.4 399.3h0M166.9 386.8h0M143.4 400.5h0M151.0 395.7h0M153.4 392.7h0M162.7 391.9h0M166.8 395.0h0M159.5 398.6h0M160.8 398.5h0M152.6 390.4h0M164.6 392.7h0M147.1 392.1h0M160.4 398.3h0M157.9 407.0h0M149.5 403.5h0M164.2 395.3h0M162.7 399.4h0M135.8 400.1h0M137.8 399.0h0M160.0 391.1h0M149.9 384.2h0M162.7 397.4h0M149.1 400.3h0M141.3 392.9h0M163.5 390.7h0M166.7 391.9h0M153.9 392.3h0M150.6 410.5h0M156.2 397.1h0M154.3 386.0h0M160.7 389.4h0M151.5 403.2h0M147.8 409.1h0M152.6 404.3h0M150.0 393.7h0M163.3 387.1h0M154.7 400.6h0M162.3 396.2h0M151.3 406.8h0M146.9 395.8h0M151.5 393.2h0M160.5 385.7h0M101.8 374.4h0M104.9 406.9h0M89.4 383.3h0M101.3 407.0h0M100.6 377.4h0M104.1 410.1h0M98.9 417.0h0M99.6 408.9h0M103.9 408.1h0M99.7 400.3h0M110.1 414.0h0M100.8 415.1h0M101.9 410.7h0M105.0 378.9h0M101.4 408.8h0M103.9 408.5h0M104.8 405.3h0M99.6 399.4h0M108.3 399.3h0M124.0 419.0h0M117.5 402.9h0M118.4 420.2h0M113.4 425.7h0M118.9 402.6h0M110.9 398.7h0M117.5 397.7h0M119.8 418.5h0M121.6 401.9h0M122.9 398.0h0M114.5 413.4h0M124.6 411.1h0M119.3 385.2h0M111.6 394.2h0M120.8 412.0h0M109.1 423.0h0M110.9 408.4h0M109.2 418.4h0M121.7 396.1h0M111.2 395.5h0M117.1 419.3h0M114.7 384.7h0M120.2 422.3h0M122.1 421.3h0M110.8 442.8h0M101.5 444.9h0M106.3 453.5h0M108.8 457.7h0M113.5 461.8h0M104.8 442.3h0M98.5 451.4h0M105.4 447.0h0M108.6 462.3h0M113.0 445.8h0M104.5 459.1h0M119.4 463.5h0M106.4 443.5h0M109.9 440.1h0M109.9 443.5h0M112.6 443.7h0M103.5 440.4h0M115.2 430.8h0M108.1 443.8h0M100.1 446.4h0M112.7 447.5h0M108.8 434.0h0M110.2 434.6h0M106.6 440.3h0M110.3 437.7h0M99.8 434.5h0M102.6 436.8h0M108.7 453.2h0M107.6 440.1h0M110.8 460.9h0M111.7 459.0h0M107.9 440.0h0M110.5 454.1h0M105.6 461.8h0M112.5 454.8h0M111.3 438.9h0M107.7 448.4h0M108.0 446.4h0M117.5 454.7h0M107.7 428.6h0M106.9 433.3h0M109.9 439.8h0M106.7 454.0h0M104.1 456.3h0M107.0 440.4h0M118.5 448.3h0M109.4 435.7h0M122.0 431.1h0M101.8 437.6h0M106.3 452.2h0M116.0 442.9h0M104.0 462.0h0M111.7 461.0h0M105.7 461.8h0M109.3 438.0h0M102.6 461.8h0M108.8 453.0h0M107.5 429.7h0M109.5 434.0h0M110.7 445.8h0M101.6 458.0h0M107.2 459.4h0M109.9 439.6h0M104.3 448.1h0M106.9 456.5h0M115.2 457.0h0M107.1 460.9h0M99.9 461.8h0M103.0 456.2h0M117.1 448.3h0M115.3 439.7h0M106.1 450.9h0M109.4 458.9h0M115.1 460.5h0M114.4 437.1h0M105.4 431.0h0M110.9 454.1h0M106.7 459.2h0M103.6 457.2h0M117.7 445.9h0M107.0 435.3h0M111.9 457.8h0M114.4 457.1h0M101.6 447.5h0M112.7 458.2h0M109.8 440.3h0M113.9 456.0h0M106.2 432.2h0M115.9 446.2h0M104.3 437.6h0M106.8 458.5h0M109.8 434.4h0M123.4 433.8h0M112.2 446.0h0M119.1 431.6h0M100.6 435.3h0M108.7 432.7h0M113.8 453.5h0M111.3 461.8h0M109.7 457.3h0M118.5 434.1h0M108.6 456.0h0M100.6 452.9h0M115.9 433.2h0M114.2 453.4h0M112.5 439.5h0M108.9 451.0h0M112.9 438.2h0M103.2 453.6h0M112.4 454.4h0M105.4 444.7h0M100.9 427.5h0M114.7 442.0h0M111.4 433.2h0M105.9 443.7h0M107.6 454.8h0M106.1 436.5h0M107.0 438.3h0M99.3 438.5h0M109.5 443.5h0M110.1 463.5h0M104.0 453.1h0M104.4 450.4h0M111.2 458.3h0M113.1 434.1h0M101.3 435.9h0M109.3 435.0h0M106.3 456.5h0M109.7 451.5h0M107.1 429.9h0M100.5 434.3h0M111.1 437.9h0M109.9 447.4h0M112.8 438.9h0M103.1 451.8h0M113.0 443.4h0M106.8 458.5h0M97.8 440.9h0M113.9 442.5h0M108.6 456.8h0M113.3 438.2h0M112.3 455.4h0M120.6 435.7h0M109.7 450.7h0M115.8 453.9h0M116.4 447.6h0M110.3 460.1h0M112.1 459.9h0M121.6 447.7h0M111.5 445.7h0M107.1 454.6h0M108.5 459.0h0M116.3 441.1h0M103.2 440.8h0M120.8 454.3h0M112.0 452.9h0M113.9 444.7h0M112.4 459.5h0M113.8 444.2h0M116.8 444.7h0M109.9 436.7h0M101.2 438.3h0M99.3 457.6h0M104.1 437.4h0M111.4 442.7h0M103.3 441.1h0M118.2 438.3h0M113.3 461.0h0M104.7 447.3h0M105.7 451.9h0M108.5 449.1h0M102.0 450.7h0M112.6 443.8h0M108.0 454.8h0M113.3 460.5h0M105.6 458.1h0M114.9 443.0h0M104.9 438.7h0M112.8 429.8h0M101.2 451.7h0M101.9 452.9h0M104.6 443.5h0M118.3 434.2h0M109.8 432.7h0M107.9 440.1h0M112.5 421.0h0M109.5 420.5h0M114.4 433.3h0M110.9 450.8h0M116.0 447.0h0M98.4 439.4h0M103.5 446.7h0M119.3 451.5h0M112.6 452.0h0M108.1 453.1h0M105.4 448.6h0M99.5 447.1h0M107.7 457.0h0M114.2 451.9h0M106.9 444.7h0M114.2 436.8h0M111.7 441.4h0M112.5 455.3h0M107.4 434.7h0M105.5 440.1h0M107.9 454.9h0M109.7 443.1h0M97.4 440.2h0M103.2 447.9h0M109.0 439.3h0M111.9 459.9h0M117.9 446.0h0M104.6 451.4h0M114.0 434.0h0M112.7 452.5h0M109.0 442.8h0M107.1 439.0h0M96.8 460.5h0M102.7 453.3h0M112.2 440.2h0M114.8 444.3h0M117.3 442.8h0M104.9 442.2h0M106.5 447.1h0M118.3 447.1h0M108.7 439.1h0M112.7 442.8h0M104.3 431.6h0M108.1 444.1h0M116.9 439.6h0M99.7 435.5h0M116.0 454.1h0M122.4 449.8h0M106.3 427.5h0M115.2 434.0h0M117.6 457.3h0M109.5 455.7h0M106.2 442.1h0M106.2 439.3h0M106.2 437.4h0M101.0 445.6h0M118.9 434.4h0M112.4 453.6h0M111.8 420.8h0M106.6 433.8h0M119.6 439.5h0M119.9 452.8h0M114.9 443.9h0M125.9 428.6h0M112.7 440.2h0M103.1 443.3h0M108.2 457.2h0M107.6 439.7h0M104.3 445.6h0M110.1 459.2h0M119.9 459.3h0M100.5 447.5h0M104.5 446.3h0M95.2 460.5h0M103.9 444.0h0M111.3 450.6h0M108.4 424.2h0M98.0 461.2h0M109.1 441.7h0M116.5 429.9h0M110.3 424.2h0M111.0 456.2h0M110.8 441.6h0M111.2 462.1h0M100.9 429.3h0M110.6 442.9h0M108.2 460.3h0M107.4 450.0h0M100.2 456.4h0M106.6 443.6h0M117.9 458.3h0M109.4 454.2h0M103.6 435.2h0M111.2 426.6h0M92.3 437.2h0M115.7 455.2h0M108.8 462.2h0M116.9 439.8h0M109.9 445.0h0M106.2 441.9h0M97.7 444.4h0M113.2 459.2h0M108.0 453.1h0M110.4 460.0h0M106.6 462.0h0M107.6 455.0h0M106.4 433.6h0M107.1 450.0h0M101.5 436.9h0M111.3 454.2h0M109.3 463.3h0M106.1 459.4h0M117.2 461.5h0M104.8 447.8h0M109.3 432.4h0M114.7 455.9h0M108.8 445.1h0M106.5 442.0h0M111.0 450.1h0M111.1 446.1h0M106.0 451.6h0M111.5 456.8h0M99.6 456.5h0M101.9 428.6h0M121.6 458.2h0M100.7 431.7h0M106.9 430.9h0M109.2 444.7h0M116.2 454.1h0M105.3 448.7h0M118.8 449.9h0M109.5 446.2h0M104.8 435.7h0M110.7 456.2h0M111.9 435.6h0M105.8 447.0h0M113.5 432.5h0M113.7 436.4h0M107.6 436.1h0M108.3 435.2h0M109.9 452.1h0M113.5 425.4h0M115.0 450.1h0M107.9 444.7h0M109.6 435.1h0M114.5 432.9h0M115.2 436.4h0M119.2 445.5h0M100.4 458.7h0M108.9 462.6h0M117.4 432.0h0M110.3 440.8h0M103.5 443.9h0M106.0 434.0h0M114.0 443.4h0M108.1 443.1h0M115.1 449.6h0M104.1 434.5h0M100.4 448.5h0M110.1 456.5h0M99.1 446.2h0M118.6 453.0h0M110.8 460.4h0M100.5 444.6h0M101.8 442.6h0M105.7 451.1h0M105.0 434.5h0M109.3 448.3h0M119.5 435.6h0M108.2 453.6h0M108.2 446.8h0M105.1 448.6h0M110.4 463.2h0M112.6 451.6h0M110.7 430.4h0M104.1 434.8h0M104.2 424.6h0M107.3 424.8h0M107.0 449.4h0M109.1 445.4h0M103.7 451.2h0M103.7 452.9h0M121.0 439.4h0M104.6 432.5h0M112.3 433.4h0M113.7 435.1h0M115.1 433.6h0M118.0 444.2h0M107.6 445.4h0M108.8 454.1h0M118.7 434.2h0M111.9 455.5h0M120.5 436.8h0M112.6 451.0h0M105.9 428.8h0M109.4 461.0h0M108.7 451.9h0M112.0 461.3h0M108.4 439.9h0M106.7 433.0h0M101.5 433.3h0M110.0 460.1h0M105.1 440.1h0M99.1 430.4h0M117.6 457.2h0M106.6 445.2h0M104.0 456.3h0M105.0 434.2h0M110.9 441.8h0M109.4 423.1h0M109.1 458.1h0M115.6 440.1h0M102.2 462.8h0M111.8 451.6h0M108.2 438.3h0M106.2 451.3h0M108.2 461.3h0M114.3 439.4h0M110.9 449.6h0M99.1 442.9h0M107.4 426.5h0M99.4 443.7h0M112.3 443.4h0M105.3 451.0h0M108.1 435.9h0M104.0 435.5h0M110.2 453.4h0M113.1 445.3h0M104.2 448.6h0M106.8 428.3h0M102.1 433.9h0M112.5 442.8h0M102.4 431.0h0M115.6 449.8h0M103.4 434.0h0M110.5 461.8h0M106.5 459.1h0M104.9 447.4h0M112.9 423.9h0M113.7 435.7h0M111.5 455.9h0M105.3 438.1h0M104.6 425.4h0M108.7 439.6h0M114.8 457.9h0M106.3 452.3h0M107.8 429.6h0M106.7 436.4h0M109.5 441.3h0M111.9 451.9h0M109.3 447.4h0M114.1 440.5h0M117.1 442.3h0M113.6 436.9h0M106.2 433.0h0M112.2 435.7h0M106.7 462.0h0M103.3 443.5h0M108.7 443.6h0M107.7 447.6h0M118.3 432.3h0M104.9 435.0h0M111.1 439.5h0M99.8 438.9h0M107.6 453.0h0M107.5 450.8h0M108.6 452.1h0M112.2 430.5h0M110.8 456.2h0M115.7 441.1h0M108.6 452.9h0M105.9 446.0h0M106.2 450.8h0M105.3 421.1h0M108.3 430.6h0M111.1 461.5h0M99.1 443.5h0M106.2 458.6h0M111.1 446.2h0M109.3 440.7h0M111.2 433.2h0M103.0 452.2h0M112.0 438.7h0M111.2 448.3h0M110.3 440.2h0M108.4 454.3h0M109.6 455.2h0M109.9 433.2h0M105.7 447.7h0M112.8 448.4h0M110.3 449.9h0M112.4 439.4h0M110.9 447.3h0M100.2 462.1h0M109.0 454.6h0M116.1 439.9h0M106.7 434.6h0M103.9 452.5h0M110.7 447.2h0M111.4 453.3h0M108.3 462.7h0M107.6 441.4h0M110.6 441.0h0M108.8 448.5h0M105.8 460.2h0M110.5 446.2h0M108.8 424.7h0M108.7 445.6h0M112.3 427.0h0M117.0 442.2h0M103.6 439.2h0M102.9 445.1h0M102.7 440.3h0M111.1 451.0h0M105.1 461.8h0M121.7 425.0h0M115.8 456.6h0M113.8 446.0h0M107.2 431.8h0M113.6 441.6h0M111.8 457.5h0M112.8 459.4h0M100.1 454.5h0M116.7 443.7h0M113.5 434.7h0M114.6 450.4h0M112.1 455.4h0M105.7 459.1h0M112.9 439.1h0M112.4 456.4h0M113.3 450.3h0M111.6 455.4h0M119.3 461.4h0M105.9 455.7h0M115.7 422.0h0M107.8 444.8h0M107.5 438.9h0M109.9 456.3h0M110.2 449.3h0M123.0 443.4h0M102.5 429.9h0M106.4 445.4h0M99.7 439.2h0M117.9 444.2h0M102.7 447.0h0M107.4 462.4h0M111.7 441.7h0M112.6 447.9h0M103.9 444.0h0M114.3 439.4h0M111.8 440.0h0M154.6 454.9h0M149.2 444.4h0M171.4 438.2h0M133.4 431.8h0M140.9 429.3h0M136.8 453.4h0M132.5 455.9h0M153.0 441.8h0M147.1 428.7h0M131.0 456.5h0M139.0 447.7h0M159.4 428.3h0M140.6 460.6h0M163.5 453.3h0M164.9 438.5h0M150.5 458.9h0M121.3 422.6h0M123.7 452.7h0M143.5 429.5h0M168.0 453.2h0M152.2 445.7h0M164.1 442.2h0M176.1 458.6h0M132.0 425.5h0M160.6 447.8h0M139.7 455.2h0M132.9 450.4h0M147.4 439.8h0M171.4 446.1h0M155.5 447.9h0M152.5 442.7h0M134.0 437.6h0M148.2 442.2h0M172.3 460.2h0M157.2 449.6h0M134.8 424.2h0M150.0 446.2h0M153.2 459.6h0M131.0 461.2h0M144.4 435.6h0M166.6 456.5h0M130.4 462.6h0M164.3 452.7h0M150.3 441.1h0M134.6 448.5h0M149.4 439.4h0M157.5 423.5h0M138.8 431.5h0M159.8 448.0h0M152.7 437.7h0M141.2 452.4h0M144.8 462.9h0M137.7 460.8h0M157.7 457.8h0M130.2 446.4h0M172.3 446.6h0M134.2 454.5h0M126.5 437.0h0M155.1 437.5h0M144.0 445.7h0M133.0 446.8h0M170.3 458.8h0M151.3 438.3h0M163.2 455.5h0M164.3 460.1h0M143.1 448.6h0M148.0 435.2h0M161.2 433.3h0M152.3 426.6h0M153.5 428.8h0M163.2 448.8h0M144.3 432.6h0M124.2 451.1h0M153.4 460.7h0M131.0 434.8h0M166.8 446.2h0M151.9 457.7h0M141.5 454.5h0M165.3 456.2h0M135.6 447.2h0M131.2 463.4h0M138.3 435.4h0M155.5 440.1h0M147.8 452.8h0M136.9 448.4h0M142.8 461.9h0M161.3 444.6h0M135.1 440.5h0M148.0 461.3h0M162.2 438.1h0M164.0 458.2h0M154.9 451.6h0M128.2 455.9h0M161.1 437.9h0M156.3 462.1h0M155.0 441.2h0M167.6 444.8h0M142.4 442.3h0M136.6 435.8h0M138.1 450.4h0M164.1 458.5h0M129.0 435.2h0M137.9 452.1h0M164.3 460.5h0M156.3 461.5h0M156.8 456.3h0M178.2 431.0h0M154.1 454.5h0M154.5 439.0h0M166.6 449.0h0M161.9 447.2h0M138.1 442.6h0M174.9 435.3h0M159.0 439.4h0M157.8 448.8h0M149.9 452.5h0M158.5 437.8h0M171.9 463.3h0M155.2 460.5h0M159.0 448.6h0M150.9 448.9h0M145.4 459.5h0M146.0 440.6h0M127.2 433.1h0M155.7 429.8h0M132.7 457.2h0M155.7 458.4h0M136.6 445.8h0M142.2 458.9h0M119.1 434.9h0M149.0 446.4h0M167.9 444.3h0M165.7 430.7h0M168.1 435.9h0M165.9 447.5h0M156.2 456.9h0M131.8 429.6h0M152.7 434.0h0M147.8 450.1h0M168.8 448.7h0M143.3 429.7h0M155.3 455.8h0M140.3 458.4h0M126.5 443.7h0M130.7 450.8h0M124.5 448.3h0M159.9 451.4h0M133.0 450.6h0M153.0 457.1h0M180.0 455.3h0M151.1 446.3h0M158.8 441.6h0M172.9 443.3h0M151.6 456.9h0M151.8 446.8h0M135.8 447.6h0M165.4 440.7h0M125.5 429.1h0M132.3 460.7h0M173.4 460.7h0M163.2 460.4h0M139.3 447.8h0M153.1 442.7h0M151.1 440.4h0M161.4 437.9h0M172.1 456.7h0M138.9 439.7h0M171.1 455.0h0M151.8 437.6h0M148.9 439.8h0M160.3 456.8h0M171.8 461.9h0M136.3 429.7h0M116.0 459.3h0M160.1 455.8h0M166.1 463.1h0M139.7 437.2h0M135.7 462.7h0M170.9 452.4h0M157.7 443.1h0M147.4 456.2h0M167.6 447.4h0M154.5 454.0h0M166.2 463.0h0M166.2 459.7h0M140.4 439.2h0M145.7 459.1h0M135.3 432.8h0M168.5 446.7h0M146.4 450.5h0M161.5 462.4h0M158.1 462.3h0M168.6 443.8h0M156.2 441.2h0M133.7 448.1h0M129.4 447.9h0M148.0 435.9h0M148.0 455.4h0M147.4 460.1h0M140.2 452.2h0M131.9 436.0h0M144.6 450.5h0M147.9 462.9h0M144.8 449.1h0M139.3 454.8h0M146.1 441.1h0M137.3 438.8h0M160.7 439.8h0M145.3 442.6h0M138.8 435.9h0M148.5 436.0h0M162.5 447.9h0M136.3 460.9h0M155.7 438.6h0M157.3 441.0h0M124.3 450.5h0M153.3 448.1h0M143.3 455.8h0M146.0 456.9h0M132.9 435.7h0M136.3 435.3h0M137.3 429.1h0M151.8 453.8h0M169.2 447.7h0M170.9 442.4h0M158.0 448.7h0M129.5 460.0h0M121.4 450.9h0M124.9 427.0h0M166.1 430.0h0M138.0 442.3h0M173.4 452.9h0M163.5 456.8h0M140.3 450.2h0M149.1 446.2h0M154.7 443.9h0M143.3 440.8h0M148.4 442.7h0M165.1 448.5h0M149.6 441.2h0M145.0 440.3h0M129.1 458.3h0M153.7 433.6h0M172.3 444.8h0M140.2 441.2h0M140.0 433.1h0M139.6 421.8h0M145.2 447.9h0M167.2 453.3h0M149.5 438.6h0M157.9 445.5h0M154.3 441.0h0M134.7 436.3h0M138.5 448.8h0M128.1 440.9h0M152.4 450.9h0M153.6 427.0h0M141.4 443.0h0M155.3 447.7h0M168.6 424.3h0M150.1 440.0h0M161.5 445.0h0M145.4 448.3h0M159.6 461.6h0M168.1 441.2h0M149.3 454.2h0M137.3 447.1h0M175.7 434.7h0M125.0 433.4h0M169.3 439.9h0M173.8 451.3h0M147.7 437.1h0M146.5 457.8h0M131.1 459.3h0M130.2 456.5h0M147.5 422.6h0M150.7 437.7h0M136.2 460.3h0M156.3 455.7h0M135.6 447.8h0M140.9 435.0h0M176.4 454.7h0M170.9 453.1h0M148.6 456.8h0M139.2 453.5h0M156.6 442.3h0M167.3 437.6h0M147.8 447.2h0M132.9 439.8h0M158.3 452.2h0M140.8 433.1h0M157.4 437.7h0M166.6 446.5h0M165.1 446.8h0M136.1 450.2h0M126.8 436.6h0M122.8 451.9h0M140.2 453.6h0M134.3 431.4h0M155.9 442.6h0M127.7 439.8h0M166.7 426.2h0M154.4 439.5h0M157.9 454.9h0M129.7 443.4h0M143.9 437.2h0M163.0 443.0h0M147.1 448.2h0M139.0 454.2h0M157.0 455.6h0M173.0 439.4h0M181.2 438.7h0M168.9 455.5h0M181.3 441.9h0M141.0 450.8h0M133.9 458.0h0M135.9 443.6h0M128.7 454.2h0M171.1 435.9h0M163.1 429.7h0M170.8 451.9h0M143.1 423.1h0M146.2 449.8h0M172.7 439.6h0M147.9 439.9h0M123.4 460.1h0M165.7 457.5h0M124.3 455.7h0M132.0 442.4h0M143.3 438.6h0M135.3 450.3h0M161.0 454.0h0M142.0 456.1h0M126.8 445.7h0M164.7 445.2h0M142.6 449.9h0M119.9 444.7h0M164.0 456.5h0M143.8 449.8h0M175.2 449.8h0M150.4 453.0h0M142.7 429.9h0M133.7 455.1h0M133.1 459.1h0M164.5 458.9h0M147.4 442.9h0M163.5 437.9h0M164.2 429.9h0M121.0 445.8h0M156.3 444.0h0M144.3 451.3h0M166.0 451.0h0M134.9 436.6h0M169.7 436.2h0M130.6 456.2h0M133.0 448.8h0M157.3 442.7h0M151.0 442.8h0M165.7 460.0h0M145.6 462.9h0M160.4 434.1h0M135.0 457.5h0M155.5 449.7h0M140.5 462.0h0M149.7 432.9h0M121.0 441.6h0M146.4 455.7h0M142.2 450.9h0M171.6 450.1h0M136.3 439.0h0M140.2 433.3h0M158.2 449.1h0M153.2 443.4h0M124.7 460.3h0M149.2 444.4h0M170.6 431.8h0M132.5 445.2h0M155.5 432.6h0M126.1 439.1h0M175.2 459.1h0M144.1 437.4h0M154.6 450.9h0M154.9 456.5h0M159.3 437.6h0M157.3 447.1h0M156.9 462.1h0M159.6 445.8h0M138.2 439.7h0M165.1 436.4h0M140.3 456.8h0M154.4 429.9h0M166.0 439.6h0M164.8 446.9h0M147.3 448.1h0M145.1 459.2h0M167.3 460.6h0M166.7 434.7h0M174.9 449.3h0M169.5 434.2h0M146.7 454.6h0M149.3 459.9h0M163.6 438.6h0M144.4 456.7h0M141.9 450.6h0M139.6 441.3h0M172.7 440.4h0M162.5 455.1h0M168.2 435.6h0M145.5 437.2h0M165.5 445.7h0M136.4 463.5h0M129.3 443.9h0M149.3 448.8h0M168.0 443.1h0M157.8 457.5h0M152.4 451.4h0M153.0 438.3h0M142.1 431.1h0M134.6 458.2h0M135.3 437.3h0M137.8 444.0h0M139.2 437.7h0M171.3 455.5h0M140.4 440.6h0M143.6 462.9h0M167.1 448.6h0M139.2 449.7h0M157.5 439.1h0M150.5 463.4h0M136.5 459.2h0M165.4 453.6h0M145.8 430.1h0M170.6 451.6h0M144.5 444.3h0M177.8 439.9h0M144.0 460.4h0M121.4 437.2h0M135.0 459.5h0M178.4 453.8h0M111.1 434.0h0M109.3 448.6h0M83.5 449.2h0M144.9 462.8h0M132.5 461.8h0M81.6 462.3h0M126.1 447.0h0M121.4 455.3h0M117.7 459.0h0M149.0 447.6h0M145.5 440.9h0M123.8 458.0h0M150.4 462.4h0M108.4 435.7h0M95.3 461.0h0M137.5 462.1h0M173.0 460.3h0M85.6 437.9h0M113.6 439.8h0M154.5 446.3h0M162.9 451.5h0M131.0 444.9h0M105.7 434.5h0M161.4 459.0h0M117.9 437.1h0M164.8 462.9h0M129.4 439.9h0M126.0 458.4h0M132.7 448.8h0M167.7 443.9h0M99.7 460.2h0M145.7 449.2h0M155.9 435.2h0M111.4 439.6h0M166.2 450.3h0M117.8 455.4h0M132.6 430.6h0M117.5 437.5h0M83.3 432.7h0M91.0 432.0h0M167.6 445.4h0M144.9 458.0h0M84.3 449.9h0M157.3 448.0h0M124.6 431.3h0M129.0 452.7h0M179.6 439.4h0M110.6 440.6h0M97.7 432.8h0M114.3 435.3h0M164.0 435.2h0M163.0 433.1h0M101.1 442.2h0M99.5 452.4h0M139.2 439.4h0M80.5 447.3h0M143.6 445.4h0M123.1 462.8h0M119.1 446.5h0M117.6 461.0h0M145.0 455.9h0M156.4 462.5h0M99.2 459.4h0M117.0 439.6h0M133.2 447.0h0M162.4 429.1h0M124.2 453.6h0M179.3 436.5h0M161.8 445.2h0M125.9 432.6h0M163.7 463.6h0M100.9 443.2h0M143.2 450.3h0M139.8 444.6h0M130.4 451.4h0M150.1 456.0h0M120.1 462.9h0M162.8 430.5h0M176.0 459.4h0M126.7 443.5h0M172.0 456.8h0M146.6 441.4h0M105.4 449.6h0M85.8 436.7h0M117.2 444.4h0M136.8 443.5h0M102.8 440.5h0M101.8 438.9h0M141.4 443.8h0M141.0 439.0h0M167.2 460.7h0M167.2 451.6h0M141.4 445.2h0M120.3 452.8h0M140.1 458.9h0M163.6 443.0h0M141.5 437.8h0M136.0 430.2h0M139.4 436.1h0M112.8 441.1h0M129.0 454.3h0M160.0 432.0h0M93.6 459.5h0M97.2 455.7h0M87.9 443.5h0M96.0 458.0h0M89.0 443.2h0M93.7 443.3h0M92.8 429.7h0M81.0 450.5h0M99.3 461.0h0M97.0 433.8h0M91.6 448.7h0M87.3 441.2h0M100.7 444.5h0M85.0 460.4h0M95.7 451.9h0M99.1 456.4h0M84.1 434.6h0M81.4 433.3h0M86.9 453.1h0M84.8 448.3h0M88.0 436.0h0M82.3 450.7h0M97.0 451.2h0M96.6 434.5h0M89.0 435.2h0M89.5 445.7h0M97.8 461.8h0M143.8 383.7h0M185.7 386.3h0M95.7 378.0h0M81.2 409.5h0M109.1 402.1h0M182.7 418.7h0M105.3 409.5h0M185.8 423.8h0M113.1 388.2h0M103.1 427.8h0" stroke="#000" stroke-opacity="0.45" stroke-width="1.4" stroke-linecap="round" fill="none"/>
<path d="M124.6 341 V464.2" stroke="#5a5a5a" stroke-width="1"/>
<path d="M80 428.7 H203.5" stroke="#5a5a5a" stroke-width="1"/>
<path d="M81.9 371.5 L109.3 371.5 L109.3 418.0 L81.9 418.0 Z" stroke="#666" stroke-width="1" fill="none"/>
<path d="M132.5 380.3 L151.0 373.2 L177.8 378.0 L179.7 385.1 L177.8 399.4 L171.8 425.6 L131.3 426.8 L125.3 417.3 L124.6 399.4 Z" stroke="#666" stroke-width="1" fill="none"/>
<rect x="80" y="341" width="123.5" height="123.19999999999999" fill="none" stroke="#222" stroke-width="1.5"/>
<path d="M70.5 462.3 L70.5 343" stroke="#111" stroke-width="2.2" fill="none"/><path d="M66.3 348.5 L70.5 342.8 L74.7 348.5" stroke="#111" stroke-width="2.4" fill="none" stroke-linejoin="miter"/>
<path d="M85.7 472.9 L202.1 472.9" stroke="#111" stroke-width="2.2" fill="none"/><path d="M196.6 468.9 L202.29999999999998 472.9 L196.6 476.9" stroke="#111" stroke-width="2.4" fill="none"/>
<text transform="translate(66.2 458.1) rotate(-90)" font-size="12.5" stroke="#111" stroke-width="0.3">CD19</text>
<text x="84.6" y="486.4" font-size="12" stroke="#111" stroke-width="0.3">CD5</text>
<path d="M241.5 463.3 L242.7 461.9 L245.8 450.0 L249.4 435.8 L253.0 421.5 L256.6 409.5 L260.2 402.4 L261.3 398.9 L263.3 404.8 L265.6 396.5 L268.0 393.0 L270.4 388.2 L272.1 394.1 L274.5 389.4 L276.8 384.6 L279.2 378.6 L280.9 371.5 L282.3 362.0 L283.3 353.7 L284.7 360.9 L286.4 359.7 L287.6 371.5 L288.8 388.2 L290.0 407.2 L291.1 423.9 L292.3 435.8 L294.7 447.6 L297.1 457.1 L300.7 461.9 L303.5 463.3 Z" fill="#858585" stroke="none"/>
<path d="M252.5 463.3 L256.6 463.1 L263.7 460.7 L269.7 457.1 L275.6 455.5 L279.2 452.4 L281.6 445.2 L284.0 433.4 L286.4 419.1 L288.8 402.4 L291.1 383.4 L293.5 364.3 L295.9 352.5 L298.3 349.7 L300.0 357.3 L301.4 376.3 L303.1 397.7 L304.7 416.7 L306.6 435.8 L308.6 450.0 L311.4 459.5 L316.2 462.3 L319.5 463.3" fill="none" stroke="#000" stroke-width="2" stroke-linejoin="round"/>
<path d="M237.5 340.6 H360.5" fill="none" stroke="#888" stroke-width="1.3"/>
<path d="M360.5 340.6 V463.3" fill="none" stroke="#444" stroke-width="1.3"/>
<path d="M237.5 340.6 V463.3 H360.5" fill="none" stroke="#1a1a1a" stroke-width="1.5"/>
<path d="M234.5 463.3 H237.5" stroke="#444" stroke-width="1"/>
<path d="M234.0 347.3 H237.5" stroke="#333" stroke-width="0.9"/>
<text x="232.5" y="349.5" font-size="6.2" font-weight="bold" style="fill:#6a6a6a" text-anchor="end">100</text>
<path d="M234.0 370.7 H237.5" stroke="#333" stroke-width="0.9"/>
<text x="232.5" y="372.9" font-size="6.2" font-weight="bold" style="fill:#6a6a6a" text-anchor="end">80</text>
<path d="M234.0 394.1 H237.5" stroke="#333" stroke-width="0.9"/>
<text x="232.5" y="396.3" font-size="6.2" font-weight="bold" style="fill:#6a6a6a" text-anchor="end">60</text>
<path d="M234.0 417.4 H237.5" stroke="#333" stroke-width="0.9"/>
<text x="232.5" y="419.6" font-size="6.2" font-weight="bold" style="fill:#6a6a6a" text-anchor="end">40</text>
<path d="M234.0 440.8 H237.5" stroke="#333" stroke-width="0.9"/>
<text x="232.5" y="443.0" font-size="6.2" font-weight="bold" style="fill:#6a6a6a" text-anchor="end">20</text>
<path d="M235.9 458.4H237.5M235.9 452.5H237.5M235.9 446.7H237.5M235.9 435.0H237.5M235.9 429.1H237.5M235.9 423.3H237.5M235.9 411.6H237.5M235.9 405.8H237.5M235.9 399.9H237.5M235.9 388.2H237.5M235.9 382.4H237.5M235.9 376.5H237.5M235.9 364.8H237.5M235.9 359.0H237.5M235.9 353.1H237.5" stroke="#333" stroke-width="0.9"/>
<text transform="translate(213.9 402.6) rotate(-90)" font-size="9" font-weight="bold" text-anchor="middle">% of Max</text>
<path d="M398.0 463.3 L399.8 461.9 L403.3 452.4 L406.9 440.5 L410.5 431.0 L414.1 423.9 L416.5 415.5 L417.7 416.7 L418.8 421.5 L421.2 428.6 L423.1 431.0 L424.8 429.8 L427.2 423.9 L429.6 411.9 L432.0 400.1 L433.6 394.9 L435.5 398.9 L437.9 404.8 L440.3 419.1 L442.7 435.8 L445.1 450.0 L447.5 458.3 L451.0 461.9 L453.0 463.3 Z" fill="#858585" stroke="none"/>
<path d="M404.0 463.3 L406.9 461.9 L411.7 459.5 L415.3 452.4 L417.7 435.8 L420.0 416.7 L421.7 400.1 L423.1 383.4 L424.8 372.7 L426.5 378.6 L428.4 385.8 L429.6 397.7 L430.8 414.3 L432.7 431.0 L434.3 445.2 L436.7 453.6 L440.3 457.1 L443.9 458.3 L446.3 459.5 L453.4 459.5 L453.9 462.3 L455.0 463.3" fill="none" stroke="#000" stroke-width="2" stroke-linejoin="round"/>
<path d="M395 340.6 H518.0" fill="none" stroke="#888" stroke-width="1.3"/>
<path d="M518.0 340.6 V463.3" fill="none" stroke="#444" stroke-width="1.3"/>
<path d="M395 340.6 V463.3 H518.0" fill="none" stroke="#1a1a1a" stroke-width="1.5"/>
<path d="M392 463.3 H395" stroke="#444" stroke-width="1"/>
<path d="M391.5 347.3 H395" stroke="#333" stroke-width="0.9"/>
<text x="390.0" y="349.5" font-size="6.2" font-weight="bold" style="fill:#6a6a6a" text-anchor="end">100</text>
<path d="M391.5 370.7 H395" stroke="#333" stroke-width="0.9"/>
<text x="390.0" y="372.9" font-size="6.2" font-weight="bold" style="fill:#6a6a6a" text-anchor="end">80</text>
<path d="M391.5 394.1 H395" stroke="#333" stroke-width="0.9"/>
<text x="390.0" y="396.3" font-size="6.2" font-weight="bold" style="fill:#6a6a6a" text-anchor="end">60</text>
<path d="M391.5 417.4 H395" stroke="#333" stroke-width="0.9"/>
<text x="390.0" y="419.6" font-size="6.2" font-weight="bold" style="fill:#6a6a6a" text-anchor="end">40</text>
<path d="M391.5 440.8 H395" stroke="#333" stroke-width="0.9"/>
<text x="390.0" y="443.0" font-size="6.2" font-weight="bold" style="fill:#6a6a6a" text-anchor="end">20</text>
<path d="M393.4 458.4H395M393.4 452.5H395M393.4 446.7H395M393.4 435.0H395M393.4 429.1H395M393.4 423.3H395M393.4 411.6H395M393.4 405.8H395M393.4 399.9H395M393.4 388.2H395M393.4 382.4H395M393.4 376.5H395M393.4 364.8H395M393.4 359.0H395M393.4 353.1H395" stroke="#333" stroke-width="0.9"/>
<text transform="translate(371.4 402.6) rotate(-90)" font-size="9" font-weight="bold" text-anchor="middle">% of Max</text>
<path d="M243.5 473.6 L516.9 473.6" stroke="#111" stroke-width="2.2" fill="none"/><path d="M511.4 469.6 L517.1 473.6 L511.4 477.6" stroke="#111" stroke-width="2.4" fill="none"/>
<text x="243.29999999999998" y="486.4" font-size="11.2" font-weight="bold">LEF-1</text>
<text x="270" y="10" font-size="9.8" font-weight="bold" textLength="67.5" lengthAdjust="spacingAndGlyphs">CD19+/CD5+</text>
<path d="M252.5 18 H348.5" stroke="#111" stroke-width="2"/>
<text x="420.8" y="10" font-size="9.8" font-weight="bold" textLength="67" lengthAdjust="spacingAndGlyphs">CD19+/CD5-</text>
<path d="M409 17.9 H505.5" stroke="#111" stroke-width="2"/>
<path d="M78.7 523.3 V869.7" stroke="#000" stroke-width="2.7" fill="none"/>
<path d="M72.3 869.5 H310.3" stroke="#000" stroke-width="3" fill="none"/>
<path d="M72.3 869.7 H78.7" stroke="#000" stroke-width="2.5"/>
<text x="71" y="876.1" font-size="18.5" font-weight="bold" text-anchor="end">0</text>
<path d="M72.3 820.3 H78.7" stroke="#000" stroke-width="2.5"/>
<text x="71" y="826.7" font-size="18.5" font-weight="bold" text-anchor="end">2</text>
<path d="M72.3 770.9 H78.7" stroke="#000" stroke-width="2.5"/>
<text x="71" y="777.3" font-size="18.5" font-weight="bold" text-anchor="end">4</text>
<path d="M72.3 721.6 H78.7" stroke="#000" stroke-width="2.5"/>
<text x="71" y="728.0" font-size="18.5" font-weight="bold" text-anchor="end">6</text>
<path d="M72.3 672.2 H78.7" stroke="#000" stroke-width="2.5"/>
<text x="71" y="678.6" font-size="18.5" font-weight="bold" text-anchor="end">8</text>
<path d="M72.3 622.8 H78.7" stroke="#000" stroke-width="2.5"/>
<text x="71" y="629.2" font-size="18.5" font-weight="bold" text-anchor="end">10</text>
<path d="M72.3 573.4 H78.7" stroke="#000" stroke-width="2.5"/>
<text x="71" y="579.8" font-size="18.5" font-weight="bold" text-anchor="end">12</text>
<path d="M72.3 524.0 H78.7" stroke="#000" stroke-width="2.5"/>
<text x="71" y="530.4" font-size="18.5" font-weight="bold" text-anchor="end">14</text>
<path d="M136.2 869.5 V875.6" stroke="#000" stroke-width="2.5"/>
<path d="M251.4 869.5 V875.6" stroke="#000" stroke-width="2.5"/>
<text x="136.6" y="893.6" font-size="20" text-anchor="middle" stroke="#111" stroke-width="0.3">MBL</text>
<text x="251.5" y="893.6" font-size="20" text-anchor="middle" stroke="#111" stroke-width="0.3">CLL</text>
<text transform="translate(38.6 694.3) rotate(-90)" font-size="21" text-anchor="middle" stroke="#111" stroke-width="0.3">LEF-1 ΔMFI</text>
<path d="M80.5 846.3 H306" stroke="#000" stroke-width="2.8" stroke-dasharray="5 3.53" fill="none"/>
<path d="M97.3 791.2 H175.2" stroke="#000" stroke-width="2.2"/>
<path d="M211.9 714.9 H290.9" stroke="#000" stroke-width="2.2"/>
<path d="M151 688.1 H236.3" stroke="#000" stroke-width="2.2"/>
<text x="196.8" y="689.2" font-size="27" font-weight="bold" text-anchor="middle">*</text>
<circle cx="136.2" cy="736.9" r="4.1" fill="#000"/>
<circle cx="136.2" cy="771" r="4.1" fill="#000"/>
<circle cx="147.7" cy="779" r="4.1" fill="#000"/>
<circle cx="136.2" cy="784.4" r="4.1" fill="#000"/>
<circle cx="147.7" cy="804.6" r="4.1" fill="#000"/>
<circle cx="124.6" cy="811" r="4.1" fill="#000"/>
<circle cx="136.2" cy="814.6" r="4.1" fill="#000"/>
<circle cx="136.2" cy="827.3" r="4.1" fill="#000"/>
<circle cx="251.2" cy="568.9" r="4.1" fill="#000"/>
<circle cx="251.2" cy="649.2" r="4.1" fill="#000"/>
<circle cx="251.2" cy="667.2" r="4.1" fill="#000"/>
<circle cx="228.8" cy="706.2" r="4.1" fill="#000"/>
<circle cx="240.1" cy="714.2" r="4.1" fill="#000"/>
<circle cx="251.2" cy="715.8" r="4.1" fill="#000"/>
<circle cx="262.7" cy="714.9" r="4.1" fill="#000"/>
<circle cx="274.2" cy="713.1" r="4.1" fill="#000"/>
<circle cx="240.1" cy="724.6" r="4.1" fill="#000"/>
<circle cx="251.2" cy="728.8" r="4.1" fill="#000"/>
<circle cx="251.2" cy="763.8" r="4.1" fill="#000"/>
<circle cx="251.2" cy="800.3" r="4.1" fill="#000"/>
<circle cx="251.2" cy="833.5" r="4.1" fill="#000"/>
</svg></body></html>
